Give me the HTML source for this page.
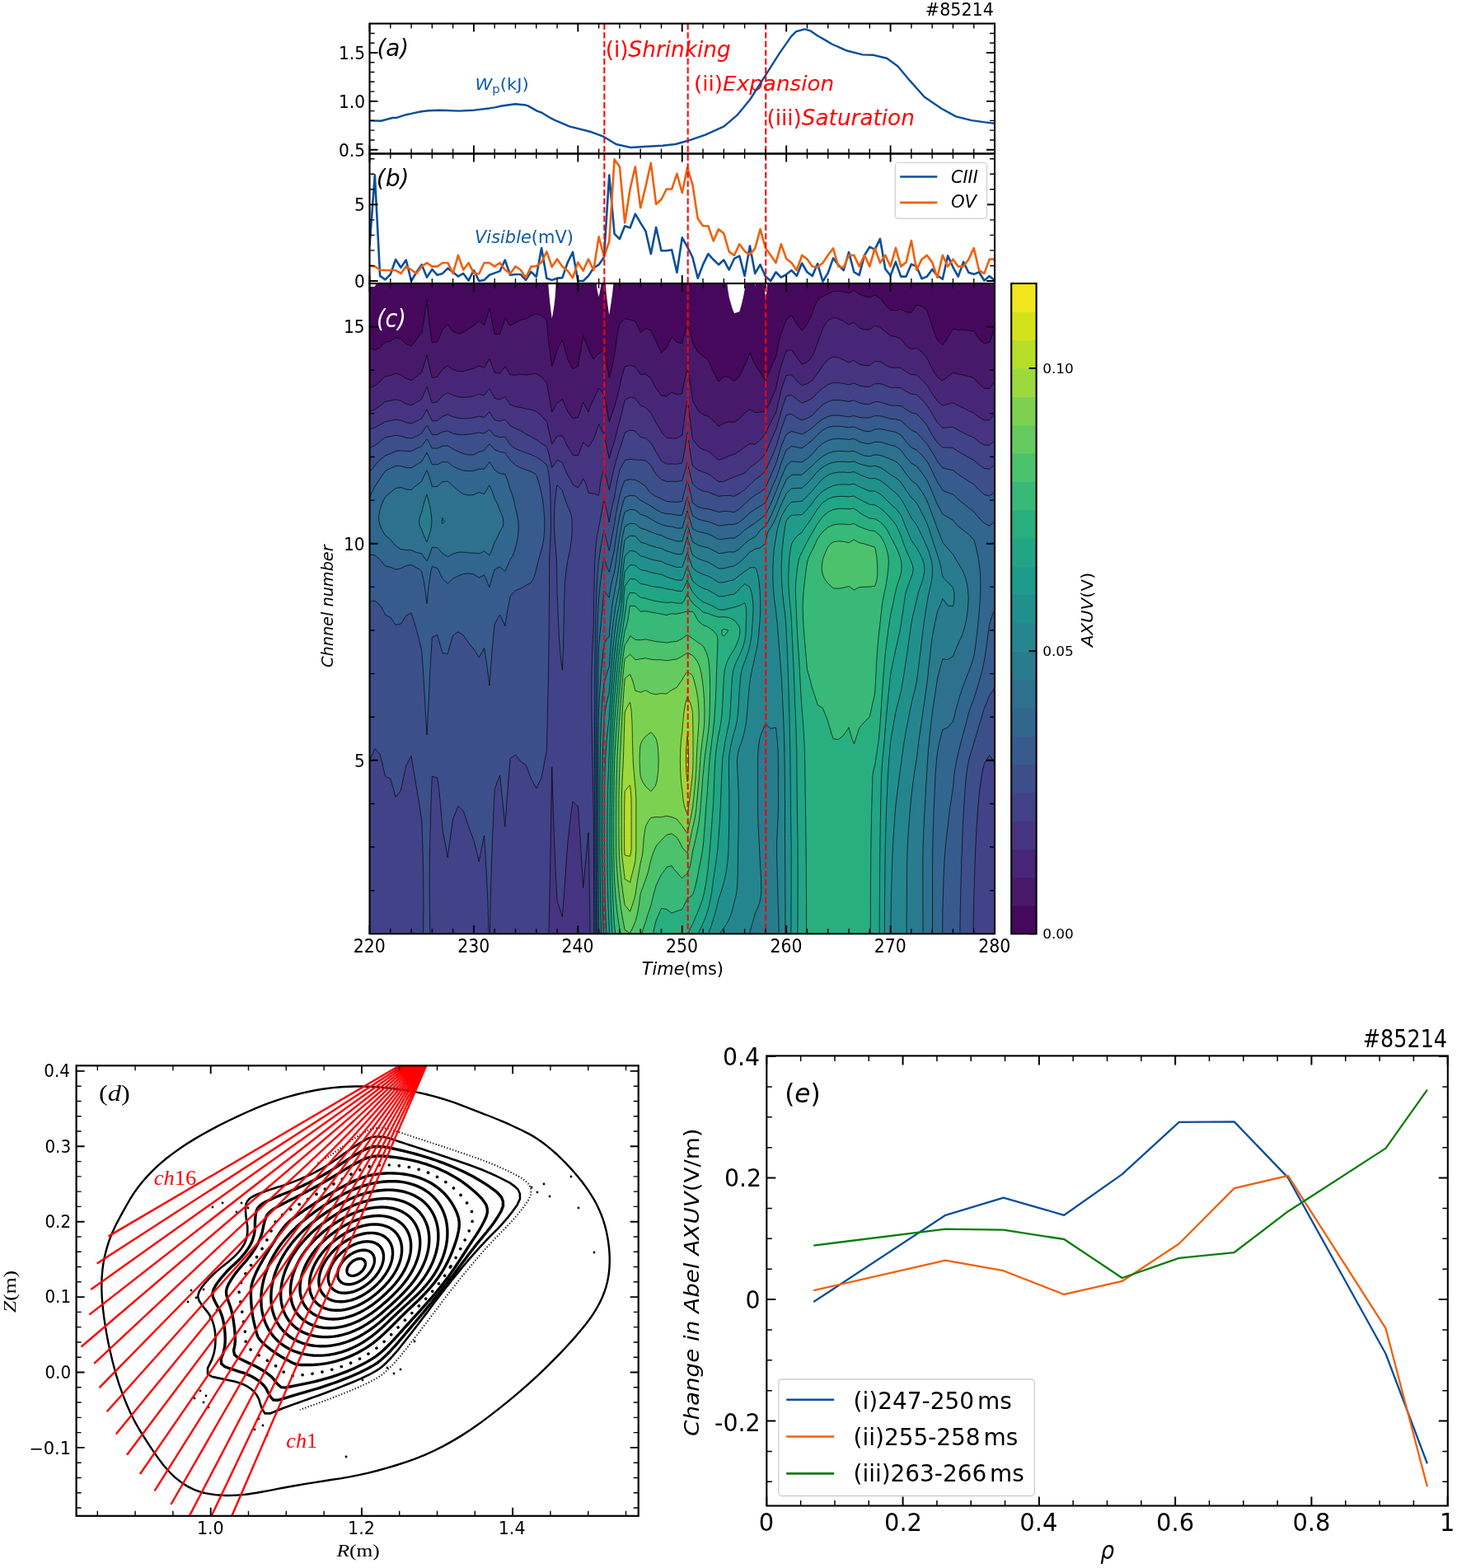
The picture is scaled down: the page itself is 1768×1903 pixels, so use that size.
<!DOCTYPE html>
<html><head><meta charset="utf-8"><title>Figure</title>
<style>html,body{margin:0;padding:0;background:#fff;}svg{display:block;}</style></head>
<body><svg xmlns="http://www.w3.org/2000/svg" width="1768" height="1903" viewBox="0 0 1768 1903">
<rect width="1768" height="1903" fill="#fff"/>
<defs>
<path id="cz0" d="M448.5,1133.3L454.8,1133.3L461.1,1133.3L467.5,1133.3L473.8,1133.3L480.1,1133.3L486.4,1133.3L492.7,1133.3L499.1,1133.3L505.4,1133.3L511.7,1133.3L518.0,1133.3L524.4,1133.3L530.7,1133.3L537.0,1133.3L543.3,1133.3L549.6,1133.3L556.0,1133.3L562.3,1133.3L568.6,1133.3L574.9,1133.3L581.2,1133.3L587.6,1133.3L593.9,1133.3L600.2,1133.3L606.5,1133.3L612.8,1133.3L619.2,1133.3L625.5,1133.3L631.8,1133.3L638.1,1133.3L644.4,1133.3L650.8,1133.3L657.1,1133.3L663.4,1133.3L669.7,1133.3L676.0,1133.3L682.4,1133.3L688.7,1133.3L695.0,1133.3L701.3,1133.3L707.7,1133.3L714.0,1133.3L720.3,1133.3L726.6,1133.3L732.9,1133.3L739.3,1133.3L745.6,1133.3L751.9,1133.3L758.2,1133.3L764.5,1133.3L770.9,1133.3L777.2,1133.3L783.5,1133.3L789.8,1133.3L796.1,1133.3L802.5,1133.3L808.8,1133.3L815.1,1133.3L821.4,1133.3L827.8,1133.3L834.1,1133.3L840.4,1133.3L846.7,1133.3L853.0,1133.3L859.4,1133.3L865.7,1133.3L872.0,1133.3L878.3,1133.3L884.6,1133.3L891.0,1133.3L897.3,1133.3L903.6,1133.3L909.9,1133.3L916.2,1133.3L922.6,1133.3L928.9,1133.3L935.2,1133.3L941.5,1133.3L947.8,1133.3L954.2,1133.3L960.5,1133.3L966.8,1133.3L973.1,1133.3L979.5,1133.3L985.8,1133.3L992.1,1133.3L998.4,1133.3L1004.7,1133.3L1011.1,1133.3L1017.4,1133.3L1023.7,1133.3L1030.0,1133.3L1036.3,1133.3L1042.7,1133.3L1049.0,1133.3L1055.3,1133.3L1061.6,1133.3L1067.9,1133.3L1074.3,1133.3L1080.6,1133.3L1086.9,1133.3L1093.2,1133.3L1099.5,1133.3L1105.9,1133.3L1112.2,1133.3L1118.5,1133.3L1124.8,1133.3L1131.2,1133.3L1137.5,1133.3L1143.8,1133.3L1150.1,1133.3L1156.4,1133.3L1162.8,1133.3L1169.1,1133.3L1175.4,1133.3L1181.7,1133.3L1188.0,1133.3L1194.4,1133.3L1200.7,1133.3L1207.0,1133.3L1207.0,1128.0L1207.0,1122.8L1207.0,1117.5L1207.0,1112.3L1207.0,1107.0L1207.0,1101.7L1207.0,1096.5L1207.0,1091.2L1207.0,1085.9L1207.0,1080.7L1207.0,1075.4L1207.0,1070.2L1207.0,1064.9L1207.0,1059.6L1207.0,1054.4L1207.0,1049.1L1207.0,1043.8L1207.0,1038.6L1207.0,1033.3L1207.0,1028.1L1207.0,1022.8L1207.0,1017.5L1207.0,1012.3L1207.0,1007.0L1207.0,1001.7L1207.0,996.5L1207.0,991.2L1207.0,986.0L1207.0,980.7L1207.0,975.4L1207.0,970.2L1207.0,964.9L1207.0,959.7L1207.0,954.4L1207.0,949.1L1207.0,943.9L1207.0,938.6L1207.0,933.3L1207.0,928.1L1207.0,922.8L1207.0,917.6L1207.0,912.3L1207.0,907.0L1207.0,901.8L1207.0,896.5L1207.0,891.2L1207.0,886.0L1207.0,880.7L1207.0,875.5L1207.0,870.2L1207.0,864.9L1207.0,859.7L1207.0,854.4L1207.0,849.2L1207.0,843.9L1207.0,838.6L1207.0,833.4L1207.0,828.1L1207.0,822.8L1207.0,817.6L1207.0,812.3L1207.0,807.1L1207.0,801.8L1207.0,796.5L1207.0,791.3L1207.0,786.0L1207.0,780.7L1207.0,775.5L1207.0,770.2L1207.0,765.0L1207.0,759.7L1207.0,754.4L1207.0,749.2L1207.0,743.9L1207.0,738.6L1207.0,733.4L1207.0,728.1L1207.0,722.9L1207.0,717.6L1207.0,712.3L1207.0,707.1L1207.0,701.8L1207.0,696.6L1207.0,691.3L1207.0,686.0L1207.0,680.8L1207.0,675.5L1207.0,670.2L1207.0,665.0L1207.0,659.7L1207.0,654.5L1207.0,649.2L1207.0,643.9L1207.0,638.7L1207.0,633.4L1207.0,628.1L1207.0,622.9L1207.0,617.6L1207.0,612.4L1207.0,607.1L1207.0,601.8L1207.0,596.6L1207.0,591.3L1207.0,586.1L1207.0,580.8L1207.0,575.5L1207.0,570.3L1207.0,565.0L1207.0,559.7L1207.0,554.5L1207.0,549.2L1207.0,544.0L1207.0,538.7L1207.0,533.4L1207.0,528.2L1207.0,522.9L1207.0,517.6L1207.0,512.4L1207.0,507.1L1207.0,501.9L1207.0,496.6L1207.0,491.3L1207.0,486.1L1207.0,480.8L1207.0,475.5L1207.0,470.3L1207.0,465.0L1207.0,459.8L1207.0,454.5L1207.0,449.2L1207.0,444.0L1207.0,438.7L1207.0,433.5L1207.0,428.2L1207.0,422.9L1207.0,417.7L1207.0,412.4L1207.0,407.1L1207.0,401.9L1207.0,396.6L1207.0,391.4L1207.0,386.1L1207.0,380.8L1207.0,375.6L1207.0,370.3L1207.0,365.0L1207.0,359.8L1207.0,354.5L1207.0,349.3L1207.0,344.0L1200.7,344.0L1194.4,344.0L1188.0,344.0L1181.7,344.0L1175.4,344.0L1169.1,344.0L1162.8,344.0L1156.4,344.0L1150.1,344.0L1143.8,344.0L1137.5,344.0L1131.2,344.0L1124.8,344.0L1118.5,344.0L1112.2,344.0L1105.9,344.0L1099.5,344.0L1093.2,344.0L1086.9,344.0L1080.6,344.0L1074.3,344.0L1067.9,344.0L1061.6,344.0L1055.3,344.0L1049.0,344.0L1042.7,344.0L1036.3,344.0L1030.0,344.0L1023.7,344.0L1017.4,344.0L1011.1,344.0L1004.7,344.0L998.4,344.0L992.1,344.0L985.8,344.0L979.5,344.0L973.1,344.0L966.8,344.0L960.5,344.0L954.2,344.0L947.8,344.0L941.5,344.0L935.2,344.0L931.0,344.0L930.8,349.3L930.3,354.5L929.4,359.8L928.9,362.2L928.6,359.8L928.2,354.5L928.0,349.3L927.9,344.0L922.6,344.0L917.0,344.0L916.2,346.9L915.9,344.0L909.9,344.0L904.5,344.0L903.9,349.3L903.6,351.4L903.1,354.5L902.1,359.8L900.9,365.0L899.6,370.3L898.1,375.6L897.3,378.3L891.0,380.2L889.1,375.6L887.4,370.3L885.9,365.0L884.6,359.9L884.6,359.8L883.7,354.5L883.0,349.3L882.4,344.0L878.3,344.0L872.0,344.0L865.7,344.0L859.4,344.0L853.0,344.0L846.7,344.0L840.4,344.0L834.1,344.0L827.8,344.0L821.4,344.0L815.1,344.0L808.8,344.0L802.5,344.0L796.1,344.0L789.8,344.0L783.5,344.0L777.2,344.0L770.9,344.0L764.5,344.0L758.2,344.0L751.9,344.0L745.6,344.0L744.4,344.0L743.8,349.3L743.3,354.5L742.6,359.8L741.9,365.0L741.1,370.3L740.3,375.6L739.5,380.8L739.3,382.3L739.0,380.8L738.2,375.6L737.5,370.3L736.8,365.0L736.2,359.8L735.6,354.5L735.2,349.3L734.8,344.0L732.9,344.0L729.5,344.0L728.8,349.3L727.9,354.5L726.7,359.8L726.6,360.3L726.5,359.8L725.2,354.5L724.3,349.3L723.7,344.0L720.3,344.0L714.0,344.0L707.7,344.0L701.3,344.0L695.0,344.0L688.7,344.0L682.4,344.0L676.0,344.0L674.6,344.0L674.4,349.3L674.0,354.5L673.6,359.8L673.1,365.0L672.5,370.3L671.7,375.6L670.9,380.8L669.8,386.1L669.7,386.5L669.7,386.1L669.0,380.8L668.3,375.6L667.7,370.3L667.1,365.0L666.6,359.8L666.1,354.5L665.7,349.3L665.3,344.0L663.4,344.0L657.1,344.0L650.8,344.0L644.4,344.0L638.1,344.0L631.8,344.0L625.5,344.0L619.2,344.0L612.8,344.0L606.5,344.0L600.2,344.0L593.9,344.0L587.6,344.0L581.2,344.0L574.9,344.0L568.6,344.0L562.3,344.0L556.0,344.0L549.6,344.0L543.3,344.0L537.0,344.0L530.7,344.0L524.4,344.0L518.0,344.0L511.7,344.0L505.4,344.0L499.1,344.0L492.7,344.0L486.4,344.0L480.1,344.0L473.8,344.0L467.5,344.0L461.1,344.0L456.7,344.0L454.8,348.0L448.5,347.7L448.5,349.3L448.5,354.5L448.5,359.8L448.5,365.0L448.5,370.3L448.5,375.6L448.5,380.8L448.5,386.1L448.5,391.4L448.5,396.6L448.5,401.9L448.5,407.1L448.5,412.4L448.5,417.7L448.5,422.9L448.5,428.2L448.5,433.5L448.5,438.7L448.5,444.0L448.5,449.2L448.5,454.5L448.5,459.8L448.5,465.0L448.5,470.3L448.5,475.5L448.5,480.8L448.5,486.1L448.5,491.3L448.5,496.6L448.5,501.9L448.5,507.1L448.5,512.4L448.5,517.6L448.5,522.9L448.5,528.2L448.5,533.4L448.5,538.7L448.5,544.0L448.5,549.2L448.5,554.5L448.5,559.7L448.5,565.0L448.5,570.3L448.5,575.5L448.5,580.8L448.5,586.1L448.5,591.3L448.5,596.6L448.5,601.8L448.5,607.1L448.5,612.4L448.5,617.6L448.5,622.9L448.5,628.1L448.5,633.4L448.5,638.7L448.5,643.9L448.5,649.2L448.5,654.5L448.5,659.7L448.5,665.0L448.5,670.2L448.5,675.5L448.5,680.8L448.5,686.0L448.5,691.3L448.5,696.6L448.5,701.8L448.5,707.1L448.5,712.3L448.5,717.6L448.5,722.9L448.5,728.1L448.5,733.4L448.5,738.6L448.5,743.9L448.5,749.2L448.5,754.4L448.5,759.7L448.5,765.0L448.5,770.2L448.5,775.5L448.5,780.7L448.5,786.0L448.5,791.3L448.5,796.5L448.5,801.8L448.5,807.1L448.5,812.3L448.5,817.6L448.5,822.8L448.5,828.1L448.5,833.4L448.5,838.6L448.5,843.9L448.5,849.2L448.5,854.4L448.5,859.7L448.5,864.9L448.5,870.2L448.5,875.5L448.5,880.7L448.5,886.0L448.5,891.2L448.5,896.5L448.5,901.8L448.5,907.0L448.5,912.3L448.5,917.6L448.5,922.8L448.5,928.1L448.5,933.3L448.5,938.6L448.5,943.9L448.5,949.1L448.5,954.4L448.5,959.7L448.5,964.9L448.5,970.2L448.5,975.4L448.5,980.7L448.5,986.0L448.5,991.2L448.5,996.5L448.5,1001.7L448.5,1007.0L448.5,1012.3L448.5,1017.5L448.5,1022.8L448.5,1028.1L448.5,1033.3L448.5,1038.6L448.5,1043.8L448.5,1049.1L448.5,1054.4L448.5,1059.6L448.5,1064.9L448.5,1070.2L448.5,1075.4L448.5,1080.7L448.5,1085.9L448.5,1091.2L448.5,1096.5L448.5,1101.7L448.5,1107.0L448.5,1112.3L448.5,1117.5L448.5,1122.8L448.5,1128.0Z"/>
<path id="cz1" d="M448.5,1133.3L454.8,1133.3L461.1,1133.3L467.5,1133.3L473.8,1133.3L480.1,1133.3L486.4,1133.3L492.7,1133.3L499.1,1133.3L505.4,1133.3L511.7,1133.3L518.0,1133.3L524.4,1133.3L530.7,1133.3L537.0,1133.3L543.3,1133.3L549.6,1133.3L556.0,1133.3L562.3,1133.3L568.6,1133.3L574.9,1133.3L581.2,1133.3L587.6,1133.3L593.9,1133.3L600.2,1133.3L606.5,1133.3L612.8,1133.3L619.2,1133.3L625.5,1133.3L631.8,1133.3L638.1,1133.3L644.4,1133.3L650.8,1133.3L657.1,1133.3L663.4,1133.3L669.7,1133.3L676.0,1133.3L682.4,1133.3L688.7,1133.3L695.0,1133.3L701.3,1133.3L707.7,1133.3L714.0,1133.3L720.3,1133.3L726.6,1133.3L732.9,1133.3L739.3,1133.3L745.6,1133.3L751.9,1133.3L758.2,1133.3L764.5,1133.3L770.9,1133.3L777.2,1133.3L783.5,1133.3L789.8,1133.3L796.1,1133.3L802.5,1133.3L808.8,1133.3L815.1,1133.3L821.4,1133.3L827.8,1133.3L834.1,1133.3L840.4,1133.3L846.7,1133.3L853.0,1133.3L859.4,1133.3L865.7,1133.3L872.0,1133.3L878.3,1133.3L884.6,1133.3L891.0,1133.3L897.3,1133.3L903.6,1133.3L909.9,1133.3L916.2,1133.3L922.6,1133.3L928.9,1133.3L935.2,1133.3L941.5,1133.3L947.8,1133.3L954.2,1133.3L960.5,1133.3L966.8,1133.3L973.1,1133.3L979.5,1133.3L985.8,1133.3L992.1,1133.3L998.4,1133.3L1004.7,1133.3L1011.1,1133.3L1017.4,1133.3L1023.7,1133.3L1030.0,1133.3L1036.3,1133.3L1042.7,1133.3L1049.0,1133.3L1055.3,1133.3L1061.6,1133.3L1067.9,1133.3L1074.3,1133.3L1080.6,1133.3L1086.9,1133.3L1093.2,1133.3L1099.5,1133.3L1105.9,1133.3L1112.2,1133.3L1118.5,1133.3L1124.8,1133.3L1131.2,1133.3L1137.5,1133.3L1143.8,1133.3L1150.1,1133.3L1156.4,1133.3L1162.8,1133.3L1169.1,1133.3L1175.4,1133.3L1181.7,1133.3L1188.0,1133.3L1194.4,1133.3L1200.7,1133.3L1207.0,1133.3L1207.0,1128.0L1207.0,1122.8L1207.0,1117.5L1207.0,1112.3L1207.0,1107.0L1207.0,1101.7L1207.0,1096.5L1207.0,1091.2L1207.0,1085.9L1207.0,1080.7L1207.0,1075.4L1207.0,1070.2L1207.0,1064.9L1207.0,1059.6L1207.0,1054.4L1207.0,1049.1L1207.0,1043.8L1207.0,1038.6L1207.0,1033.3L1207.0,1028.1L1207.0,1022.8L1207.0,1017.5L1207.0,1012.3L1207.0,1007.0L1207.0,1001.7L1207.0,996.5L1207.0,991.2L1207.0,986.0L1207.0,980.7L1207.0,975.4L1207.0,970.2L1207.0,964.9L1207.0,959.7L1207.0,954.4L1207.0,949.1L1207.0,943.9L1207.0,938.6L1207.0,933.3L1207.0,928.1L1207.0,922.8L1207.0,917.6L1207.0,912.3L1207.0,907.0L1207.0,901.8L1207.0,896.5L1207.0,891.2L1207.0,886.0L1207.0,880.7L1207.0,875.5L1207.0,870.2L1207.0,864.9L1207.0,859.7L1207.0,854.4L1207.0,849.2L1207.0,843.9L1207.0,838.6L1207.0,833.4L1207.0,828.1L1207.0,822.8L1207.0,817.6L1207.0,812.3L1207.0,807.1L1207.0,801.8L1207.0,796.5L1207.0,791.3L1207.0,786.0L1207.0,780.7L1207.0,775.5L1207.0,770.2L1207.0,765.0L1207.0,759.7L1207.0,754.4L1207.0,749.2L1207.0,743.9L1207.0,738.6L1207.0,733.4L1207.0,728.1L1207.0,722.9L1207.0,717.6L1207.0,712.3L1207.0,707.1L1207.0,701.8L1207.0,696.6L1207.0,691.3L1207.0,686.0L1207.0,680.8L1207.0,675.5L1207.0,670.2L1207.0,665.0L1207.0,659.7L1207.0,654.5L1207.0,649.2L1207.0,643.9L1207.0,638.7L1207.0,633.4L1207.0,628.1L1207.0,622.9L1207.0,617.6L1207.0,612.4L1207.0,607.1L1207.0,601.8L1207.0,596.6L1207.0,591.3L1207.0,586.1L1207.0,580.8L1207.0,575.5L1207.0,570.3L1207.0,565.0L1207.0,559.7L1207.0,554.5L1207.0,549.2L1207.0,544.0L1207.0,538.7L1207.0,533.4L1207.0,528.2L1207.0,522.9L1207.0,517.6L1207.0,512.4L1207.0,507.1L1207.0,501.9L1207.0,496.6L1207.0,491.3L1207.0,486.1L1207.0,480.8L1207.0,475.5L1207.0,470.3L1207.0,465.0L1207.0,459.8L1207.0,454.5L1207.0,449.2L1207.0,444.0L1207.0,438.7L1207.0,433.5L1207.0,428.2L1207.0,422.9L1207.0,417.7L1207.0,412.4L1207.0,407.1L1207.0,401.9L1207.0,398.1L1205.7,401.9L1203.9,407.1L1201.9,412.4L1200.7,415.5L1194.4,417.2L1189.2,412.4L1188.0,411.2L1185.2,407.1L1181.7,402.0L1181.0,401.9L1175.4,400.9L1169.1,400.0L1162.8,400.4L1156.4,399.5L1155.0,401.9L1151.7,407.1L1150.1,409.3L1148.2,412.4L1144.5,417.7L1143.8,418.6L1142.7,417.7L1137.5,412.8L1137.3,412.4L1135.2,407.1L1133.2,401.9L1131.3,396.6L1131.2,396.2L1129.6,391.4L1127.9,386.1L1126.2,380.8L1124.8,376.6L1123.6,375.6L1118.5,371.5L1112.9,370.3L1112.2,370.2L1112.1,370.3L1108.7,375.6L1105.9,379.4L1099.5,378.6L1094.0,375.6L1093.2,375.2L1092.1,375.6L1086.9,376.8L1080.6,376.6L1079.5,375.6L1074.6,370.3L1074.3,369.9L1070.4,365.0L1067.9,362.0L1064.6,359.8L1061.6,357.9L1057.7,359.8L1055.3,360.9L1050.1,359.8L1049.0,359.5L1042.7,357.2L1039.3,354.5L1036.3,352.3L1032.2,354.5L1030.0,355.7L1025.1,354.5L1023.7,354.2L1017.4,353.3L1011.1,353.6L1009.2,354.5L1004.7,356.6L998.4,359.7L998.2,359.8L992.1,364.6L991.8,365.0L989.1,370.3L987.1,375.6L985.8,380.0L985.4,380.8L982.9,386.1L980.5,391.4L979.5,393.5L977.2,396.6L973.1,401.3L969.6,396.6L966.8,392.9L965.8,391.4L962.6,386.1L960.5,382.6L956.4,386.1L954.2,387.8L952.9,391.4L950.9,396.6L948.8,401.9L947.8,404.5L947.1,407.1L945.7,412.4L944.5,417.7L943.5,422.9L942.5,428.2L941.6,433.5L941.5,433.6L938.7,438.7L936.4,444.0L935.2,447.2L934.3,449.2L931.9,454.5L929.5,459.8L928.9,461.1L927.8,459.8L924.2,454.5L922.6,451.5L920.7,449.2L917.1,444.0L916.2,442.6L914.3,438.7L912.0,433.5L910.0,428.2L909.9,428.0L909.9,428.2L907.9,433.5L905.8,438.7L903.6,443.6L903.4,444.0L900.9,449.2L898.3,454.5L897.3,456.5L893.9,459.8L891.0,462.7L887.0,459.8L884.6,457.9L878.3,456.9L875.7,459.8L872.0,463.1L870.2,459.8L867.4,454.5L865.7,451.2L864.8,449.2L862.5,444.0L860.2,438.7L859.4,436.8L854.7,433.5L853.0,432.2L848.0,428.2L846.7,427.2L844.3,422.9L841.3,417.7L840.4,416.1L839.7,412.4L838.4,407.1L836.9,401.9L835.1,396.6L834.1,394.2L833.2,396.6L831.5,401.9L830.0,407.1L828.7,412.4L827.8,416.7L821.4,415.5L818.4,412.4L815.1,409.2L813.5,412.4L810.9,417.7L808.8,421.9L807.8,422.9L802.6,428.2L802.5,428.3L802.4,428.2L800.2,422.9L797.8,417.7L796.1,414.3L795.3,412.4L792.9,407.1L790.4,401.9L789.8,400.8L783.5,398.7L779.6,401.9L777.2,403.7L776.4,401.9L774.0,396.6L771.5,391.4L770.9,390.1L764.5,387.8L758.2,386.9L753.6,391.4L751.9,393.0L751.1,396.6L750.1,401.9L749.1,407.1L748.2,412.4L747.4,417.7L746.7,422.9L746.0,428.2L745.6,431.2L745.2,433.5L744.3,438.7L743.2,444.0L741.9,449.2L740.4,454.5L739.3,458.2L738.6,454.5L737.7,449.2L736.7,444.0L735.7,438.7L734.8,433.5L733.7,428.2L732.9,424.1L728.3,428.2L726.6,429.3L722.3,433.5L720.3,436.1L718.6,433.5L716.1,428.2L714.0,423.2L713.9,422.9L711.7,417.7L709.6,412.4L707.7,407.2L706.8,412.4L706.0,417.7L705.1,422.9L704.2,428.2L703.3,433.5L702.4,438.7L701.5,444.0L701.3,444.7L695.0,447.5L693.0,444.0L690.3,438.7L688.7,435.5L688.1,433.5L686.7,428.2L685.2,422.9L683.8,417.7L682.4,412.4L682.4,412.3L682.3,412.4L679.7,417.7L676.8,422.9L676.1,424.4L675.2,428.2L673.7,433.5L672.0,438.7L669.9,444.0L669.7,444.5L669.7,444.0L668.9,438.7L668.1,433.5L667.5,428.2L666.8,422.9L666.2,417.7L665.6,412.4L665.0,407.1L664.5,401.9L664.0,396.6L663.6,391.4L663.4,389.3L660.4,386.1L657.1,382.9L651.1,380.8L650.8,380.7L650.5,380.8L644.4,383.2L639.5,386.1L638.1,386.9L631.8,388.3L626.0,391.4L625.5,391.6L619.2,395.2L616.4,391.4L612.8,386.2L611.2,391.4L609.5,396.6L607.7,401.9L606.5,405.5L600.2,405.3L599.4,401.9L598.3,396.6L597.2,391.4L596.1,386.1L595.1,380.8L594.1,375.6L593.9,374.3L593.5,375.6L592.0,380.8L590.4,386.1L588.8,391.4L587.6,394.9L583.2,391.4L581.2,389.7L579.3,391.4L574.9,395.1L572.4,396.6L568.6,398.9L564.4,401.9L562.3,403.4L556.0,405.1L549.6,402.4L549.2,401.9L545.3,396.6L543.3,393.8L540.6,396.6L537.0,400.2L536.3,401.9L534.2,407.1L531.9,412.4L530.7,414.9L524.4,416.1L523.7,412.4L523.0,407.1L522.3,401.9L521.6,396.6L521.0,391.4L520.3,386.1L519.7,380.8L519.2,375.6L518.6,370.3L518.2,365.0L518.0,363.4L517.8,365.0L517.2,370.3L516.4,375.6L515.6,380.8L514.8,386.1L513.9,391.4L513.0,396.6L512.0,401.9L511.7,403.6L509.2,407.1L505.4,412.2L505.3,412.4L501.0,417.7L499.1,419.8L493.3,417.7L492.7,417.4L487.4,412.4L486.4,411.4L480.1,409.7L476.6,412.4L473.8,414.3L467.5,415.0L465.1,417.7L461.1,421.8L458.8,422.9L454.8,424.9L449.6,422.9L448.5,422.5L448.5,422.9L448.5,428.2L448.5,433.5L448.5,438.7L448.5,444.0L448.5,449.2L448.5,454.5L448.5,459.8L448.5,465.0L448.5,470.3L448.5,475.5L448.5,480.8L448.5,486.1L448.5,491.3L448.5,496.6L448.5,501.9L448.5,507.1L448.5,512.4L448.5,517.6L448.5,522.9L448.5,528.2L448.5,533.4L448.5,538.7L448.5,544.0L448.5,549.2L448.5,554.5L448.5,559.7L448.5,565.0L448.5,570.3L448.5,575.5L448.5,580.8L448.5,586.1L448.5,591.3L448.5,596.6L448.5,601.8L448.5,607.1L448.5,612.4L448.5,617.6L448.5,622.9L448.5,628.1L448.5,633.4L448.5,638.7L448.5,643.9L448.5,649.2L448.5,654.5L448.5,659.7L448.5,665.0L448.5,670.2L448.5,675.5L448.5,680.8L448.5,686.0L448.5,691.3L448.5,696.6L448.5,701.8L448.5,707.1L448.5,712.3L448.5,717.6L448.5,722.9L448.5,728.1L448.5,733.4L448.5,738.6L448.5,743.9L448.5,749.2L448.5,754.4L448.5,759.7L448.5,765.0L448.5,770.2L448.5,775.5L448.5,780.7L448.5,786.0L448.5,791.3L448.5,796.5L448.5,801.8L448.5,807.1L448.5,812.3L448.5,817.6L448.5,822.8L448.5,828.1L448.5,833.4L448.5,838.6L448.5,843.9L448.5,849.2L448.5,854.4L448.5,859.7L448.5,864.9L448.5,870.2L448.5,875.5L448.5,880.7L448.5,886.0L448.5,891.2L448.5,896.5L448.5,901.8L448.5,907.0L448.5,912.3L448.5,917.6L448.5,922.8L448.5,928.1L448.5,933.3L448.5,938.6L448.5,943.9L448.5,949.1L448.5,954.4L448.5,959.7L448.5,964.9L448.5,970.2L448.5,975.4L448.5,980.7L448.5,986.0L448.5,991.2L448.5,996.5L448.5,1001.7L448.5,1007.0L448.5,1012.3L448.5,1017.5L448.5,1022.8L448.5,1028.1L448.5,1033.3L448.5,1038.6L448.5,1043.8L448.5,1049.1L448.5,1054.4L448.5,1059.6L448.5,1064.9L448.5,1070.2L448.5,1075.4L448.5,1080.7L448.5,1085.9L448.5,1091.2L448.5,1096.5L448.5,1101.7L448.5,1107.0L448.5,1112.3L448.5,1117.5L448.5,1122.8L448.5,1128.0Z"/>
<path id="cz2" d="M448.5,1133.3L454.8,1133.3L461.1,1133.3L467.5,1133.3L473.8,1133.3L480.1,1133.3L486.4,1133.3L492.7,1133.3L499.1,1133.3L505.4,1133.3L511.7,1133.3L518.0,1133.3L524.4,1133.3L530.7,1133.3L537.0,1133.3L543.3,1133.3L549.6,1133.3L556.0,1133.3L562.3,1133.3L568.6,1133.3L574.9,1133.3L581.2,1133.3L587.6,1133.3L593.9,1133.3L600.2,1133.3L606.5,1133.3L612.8,1133.3L619.2,1133.3L625.5,1133.3L631.8,1133.3L638.1,1133.3L644.4,1133.3L650.8,1133.3L657.1,1133.3L663.4,1133.3L669.7,1133.3L676.0,1133.3L682.4,1133.3L688.7,1133.3L695.0,1133.3L701.3,1133.3L707.7,1133.3L714.0,1133.3L720.3,1133.3L726.6,1133.3L732.9,1133.3L739.3,1133.3L745.6,1133.3L751.9,1133.3L758.2,1133.3L764.5,1133.3L770.9,1133.3L777.2,1133.3L783.5,1133.3L789.8,1133.3L796.1,1133.3L802.5,1133.3L808.8,1133.3L815.1,1133.3L821.4,1133.3L827.8,1133.3L834.1,1133.3L840.4,1133.3L846.7,1133.3L853.0,1133.3L859.4,1133.3L865.7,1133.3L872.0,1133.3L878.3,1133.3L884.6,1133.3L891.0,1133.3L897.3,1133.3L903.6,1133.3L909.9,1133.3L916.2,1133.3L922.6,1133.3L928.9,1133.3L935.2,1133.3L941.5,1133.3L947.8,1133.3L954.2,1133.3L960.5,1133.3L966.8,1133.3L973.1,1133.3L979.5,1133.3L985.8,1133.3L992.1,1133.3L998.4,1133.3L1004.7,1133.3L1011.1,1133.3L1017.4,1133.3L1023.7,1133.3L1030.0,1133.3L1036.3,1133.3L1042.7,1133.3L1049.0,1133.3L1055.3,1133.3L1061.6,1133.3L1067.9,1133.3L1074.3,1133.3L1080.6,1133.3L1086.9,1133.3L1093.2,1133.3L1099.5,1133.3L1105.9,1133.3L1112.2,1133.3L1118.5,1133.3L1124.8,1133.3L1131.2,1133.3L1137.5,1133.3L1143.8,1133.3L1150.1,1133.3L1156.4,1133.3L1162.8,1133.3L1169.1,1133.3L1175.4,1133.3L1181.7,1133.3L1188.0,1133.3L1194.4,1133.3L1200.7,1133.3L1207.0,1133.3L1207.0,1128.0L1207.0,1122.8L1207.0,1117.5L1207.0,1112.3L1207.0,1107.0L1207.0,1101.7L1207.0,1096.5L1207.0,1091.2L1207.0,1085.9L1207.0,1080.7L1207.0,1075.4L1207.0,1070.2L1207.0,1064.9L1207.0,1059.6L1207.0,1054.4L1207.0,1049.1L1207.0,1043.8L1207.0,1038.6L1207.0,1033.3L1207.0,1028.1L1207.0,1022.8L1207.0,1017.5L1207.0,1012.3L1207.0,1007.0L1207.0,1001.7L1207.0,996.5L1207.0,991.2L1207.0,986.0L1207.0,980.7L1207.0,975.4L1207.0,970.2L1207.0,964.9L1207.0,959.7L1207.0,954.4L1207.0,949.1L1207.0,943.9L1207.0,938.6L1207.0,933.3L1207.0,928.1L1207.0,922.8L1207.0,917.6L1207.0,912.3L1207.0,907.0L1207.0,901.8L1207.0,896.5L1207.0,891.2L1207.0,886.0L1207.0,880.7L1207.0,875.5L1207.0,870.2L1207.0,864.9L1207.0,859.7L1207.0,854.4L1207.0,849.2L1207.0,843.9L1207.0,838.6L1207.0,833.4L1207.0,828.1L1207.0,822.8L1207.0,817.6L1207.0,812.3L1207.0,807.1L1207.0,801.8L1207.0,796.5L1207.0,791.3L1207.0,786.0L1207.0,780.7L1207.0,775.5L1207.0,770.2L1207.0,765.0L1207.0,759.7L1207.0,754.4L1207.0,749.2L1207.0,743.9L1207.0,738.6L1207.0,733.4L1207.0,728.1L1207.0,722.9L1207.0,717.6L1207.0,712.3L1207.0,707.1L1207.0,701.8L1207.0,696.6L1207.0,691.3L1207.0,686.0L1207.0,680.8L1207.0,675.5L1207.0,670.2L1207.0,665.0L1207.0,659.7L1207.0,654.5L1207.0,649.2L1207.0,643.9L1207.0,638.7L1207.0,633.4L1207.0,628.1L1207.0,622.9L1207.0,617.6L1207.0,612.4L1207.0,607.1L1207.0,601.8L1207.0,596.6L1207.0,591.3L1207.0,586.1L1207.0,580.8L1207.0,575.5L1207.0,570.3L1207.0,565.0L1207.0,559.7L1207.0,554.5L1207.0,549.2L1207.0,544.0L1207.0,538.7L1207.0,533.4L1207.0,528.2L1207.0,522.9L1207.0,517.6L1207.0,512.4L1207.0,507.1L1207.0,501.9L1207.0,496.6L1207.0,491.3L1207.0,486.1L1207.0,480.8L1207.0,475.5L1207.0,470.3L1207.0,465.0L1207.0,462.9L1205.5,465.0L1201.6,470.3L1200.7,471.5L1194.4,471.3L1193.1,470.3L1188.0,466.0L1187.2,465.0L1182.6,459.8L1181.7,458.8L1175.4,456.8L1169.1,455.0L1165.5,454.5L1162.8,454.1L1156.4,452.4L1153.8,454.5L1150.1,457.1L1147.0,459.8L1143.8,462.1L1140.4,459.8L1137.5,457.8L1135.3,454.5L1132.0,449.2L1131.2,447.8L1129.3,444.0L1126.9,438.7L1124.8,434.3L1124.1,433.5L1119.3,428.2L1118.5,427.3L1113.0,422.9L1112.2,422.3L1110.0,422.9L1105.9,424.0L1104.3,422.9L1099.5,419.6L1098.0,417.7L1094.0,412.4L1093.2,411.3L1086.9,408.6L1080.6,407.7L1079.9,407.1L1074.3,402.6L1073.4,401.9L1067.9,397.3L1066.0,396.6L1061.6,395.1L1059.6,396.6L1055.3,400.1L1049.0,400.1L1042.7,397.8L1041.5,396.6L1036.4,391.4L1036.3,391.3L1036.2,391.4L1030.0,394.1L1025.7,391.4L1023.7,390.1L1017.4,386.9L1013.6,386.1L1011.1,385.6L1010.1,386.1L1004.7,389.0L1003.0,391.4L999.6,396.6L998.4,398.7L997.2,401.9L995.4,407.1L993.5,412.4L992.1,416.0L991.6,417.7L989.7,422.9L987.7,428.2L985.8,432.7L985.1,433.5L980.5,438.7L979.5,439.8L973.1,442.2L970.5,438.7L966.8,433.6L966.7,433.5L963.1,428.2L960.5,424.6L954.2,425.7L953.2,428.2L951.4,433.5L949.7,438.7L947.9,444.0L947.8,444.1L946.5,449.2L945.2,454.5L944.0,459.8L942.9,465.0L941.8,470.3L941.5,471.7L939.9,475.5L937.7,480.8L935.4,486.1L935.2,486.6L932.8,491.3L930.1,496.6L928.9,499.0L922.6,500.2L916.2,500.6L909.9,497.0L903.6,501.3L903.1,501.9L898.3,507.1L897.3,508.2L891.4,512.4L891.0,512.7L888.9,512.4L884.6,511.8L882.7,512.4L878.3,513.8L872.0,517.4L867.2,512.4L865.7,510.8L861.5,507.1L859.4,505.2L853.0,503.3L851.4,501.9L846.7,497.7L846.1,496.6L843.4,491.3L840.5,486.1L840.4,485.8L839.8,480.8L839.1,475.5L838.4,470.3L837.5,465.0L836.6,459.8L835.5,454.5L834.4,449.2L834.1,447.6L833.7,449.2L832.3,454.5L831.1,459.8L829.9,465.0L828.9,470.3L828.0,475.5L827.8,477.5L821.4,478.9L815.1,476.2L808.9,480.8L808.8,480.9L807.9,480.8L802.5,480.2L799.2,475.5L796.1,471.3L795.6,470.3L792.9,465.0L790.2,459.8L789.8,459.0L783.8,454.5L783.5,454.3L777.2,454.3L773.7,449.2L770.9,444.9L767.0,444.0L764.5,443.4L762.2,444.0L758.2,445.0L756.8,449.2L755.3,454.5L753.9,459.8L752.7,465.0L751.9,469.1L751.6,470.3L750.4,475.5L749.1,480.8L747.7,486.1L746.3,491.3L745.6,494.3L744.7,496.6L742.7,501.9L740.9,507.1L739.3,512.1L738.3,507.1L737.3,501.9L736.4,496.6L735.4,491.3L734.3,486.1L733.3,480.8L732.9,478.9L730.5,475.5L726.6,471.3L724.4,475.5L721.9,480.8L720.3,484.6L719.6,486.1L717.2,491.3L715.2,496.6L714.0,500.1L712.1,496.6L709.4,491.3L707.7,488.1L706.6,491.3L704.9,496.6L703.1,501.9L701.3,506.8L699.6,507.1L695.0,508.0L694.4,507.1L690.6,501.9L688.7,499.2L687.6,496.6L685.3,491.3L683.0,486.1L682.4,484.5L680.3,486.1L676.0,489.2L674.8,491.3L671.8,496.6L669.7,500.1L669.1,496.6L668.1,491.3L667.2,486.1L666.3,480.8L665.3,475.5L664.4,470.3L663.5,465.0L663.4,464.6L659.1,459.8L657.1,457.4L652.2,454.5L650.8,453.7L644.4,454.1L642.2,454.5L638.1,455.1L632.6,454.5L631.8,454.4L631.2,454.5L625.5,455.2L619.2,454.8L619.0,454.5L615.7,449.2L612.8,444.9L609.8,449.2L606.5,453.4L600.2,451.9L599.1,449.2L597.1,444.0L595.1,438.7L593.9,435.3L592.0,438.7L589.1,444.0L587.6,446.6L581.3,444.0L581.2,443.9L581.2,444.0L574.9,447.1L568.6,448.9L567.3,449.2L562.3,450.6L556.0,450.7L551.3,449.2L549.6,448.7L543.3,444.0L537.0,448.0L536.2,449.2L532.6,454.5L530.7,457.3L524.4,458.5L523.3,454.5L522.1,449.2L520.9,444.0L519.7,438.7L518.6,433.5L518.0,430.7L517.3,433.5L515.7,438.7L514.1,444.0L512.5,449.2L511.7,451.7L508.3,454.5L505.4,456.9L501.6,459.8L499.1,461.6L493.6,459.8L492.7,459.5L486.4,454.9L484.6,454.5L480.1,453.4L477.1,454.5L473.8,455.7L467.5,456.8L464.5,459.8L461.1,463.2L458.8,465.0L454.8,468.2L449.4,470.3L448.5,470.6L448.5,475.5L448.5,480.8L448.5,486.1L448.5,491.3L448.5,496.6L448.5,501.9L448.5,507.1L448.5,512.4L448.5,517.6L448.5,522.9L448.5,528.2L448.5,533.4L448.5,538.7L448.5,544.0L448.5,549.2L448.5,554.5L448.5,559.7L448.5,565.0L448.5,570.3L448.5,575.5L448.5,580.8L448.5,586.1L448.5,591.3L448.5,596.6L448.5,601.8L448.5,607.1L448.5,612.4L448.5,617.6L448.5,622.9L448.5,628.1L448.5,633.4L448.5,638.7L448.5,643.9L448.5,649.2L448.5,654.5L448.5,659.7L448.5,665.0L448.5,670.2L448.5,675.5L448.5,680.8L448.5,686.0L448.5,691.3L448.5,696.6L448.5,701.8L448.5,707.1L448.5,712.3L448.5,717.6L448.5,722.9L448.5,728.1L448.5,733.4L448.5,738.6L448.5,743.9L448.5,749.2L448.5,754.4L448.5,759.7L448.5,765.0L448.5,770.2L448.5,775.5L448.5,780.7L448.5,786.0L448.5,791.3L448.5,796.5L448.5,801.8L448.5,807.1L448.5,812.3L448.5,817.6L448.5,822.8L448.5,828.1L448.5,833.4L448.5,838.6L448.5,843.9L448.5,849.2L448.5,854.4L448.5,859.7L448.5,864.9L448.5,870.2L448.5,875.5L448.5,880.7L448.5,886.0L448.5,891.2L448.5,896.5L448.5,901.8L448.5,907.0L448.5,912.3L448.5,917.6L448.5,922.8L448.5,928.1L448.5,933.3L448.5,938.6L448.5,943.9L448.5,949.1L448.5,954.4L448.5,959.7L448.5,964.9L448.5,970.2L448.5,975.4L448.5,980.7L448.5,986.0L448.5,991.2L448.5,996.5L448.5,1001.7L448.5,1007.0L448.5,1012.3L448.5,1017.5L448.5,1022.8L448.5,1028.1L448.5,1033.3L448.5,1038.6L448.5,1043.8L448.5,1049.1L448.5,1054.4L448.5,1059.6L448.5,1064.9L448.5,1070.2L448.5,1075.4L448.5,1080.7L448.5,1085.9L448.5,1091.2L448.5,1096.5L448.5,1101.7L448.5,1107.0L448.5,1112.3L448.5,1117.5L448.5,1122.8L448.5,1128.0Z"/>
<path id="cz3" d="M448.5,1133.3L454.8,1133.3L461.1,1133.3L467.5,1133.3L473.8,1133.3L480.1,1133.3L486.4,1133.3L492.7,1133.3L499.1,1133.3L505.4,1133.3L511.7,1133.3L518.0,1133.3L524.4,1133.3L530.7,1133.3L537.0,1133.3L543.3,1133.3L549.6,1133.3L556.0,1133.3L562.3,1133.3L568.6,1133.3L574.9,1133.3L581.2,1133.3L587.6,1133.3L593.9,1133.3L600.2,1133.3L606.5,1133.3L612.8,1133.3L619.2,1133.3L625.5,1133.3L631.8,1133.3L638.1,1133.3L644.4,1133.3L650.8,1133.3L657.1,1133.3L663.4,1133.3L669.7,1133.3L676.0,1133.3L682.4,1133.3L688.7,1133.3L695.0,1133.3L701.3,1133.3L707.7,1133.3L714.0,1133.3L720.3,1133.3L726.6,1133.3L732.9,1133.3L739.3,1133.3L745.6,1133.3L751.9,1133.3L758.2,1133.3L764.5,1133.3L770.9,1133.3L777.2,1133.3L783.5,1133.3L789.8,1133.3L796.1,1133.3L802.5,1133.3L808.8,1133.3L815.1,1133.3L821.4,1133.3L827.8,1133.3L834.1,1133.3L840.4,1133.3L846.7,1133.3L853.0,1133.3L859.4,1133.3L865.7,1133.3L872.0,1133.3L878.3,1133.3L884.6,1133.3L891.0,1133.3L897.3,1133.3L903.6,1133.3L909.9,1133.3L916.2,1133.3L922.6,1133.3L928.9,1133.3L935.2,1133.3L941.5,1133.3L947.8,1133.3L954.2,1133.3L960.5,1133.3L966.8,1133.3L973.1,1133.3L979.5,1133.3L985.8,1133.3L992.1,1133.3L998.4,1133.3L1004.7,1133.3L1011.1,1133.3L1017.4,1133.3L1023.7,1133.3L1030.0,1133.3L1036.3,1133.3L1042.7,1133.3L1049.0,1133.3L1055.3,1133.3L1061.6,1133.3L1067.9,1133.3L1074.3,1133.3L1080.6,1133.3L1086.9,1133.3L1093.2,1133.3L1099.5,1133.3L1105.9,1133.3L1112.2,1133.3L1118.5,1133.3L1124.8,1133.3L1131.2,1133.3L1137.5,1133.3L1143.8,1133.3L1150.1,1133.3L1156.4,1133.3L1162.8,1133.3L1169.1,1133.3L1175.4,1133.3L1181.7,1133.3L1188.0,1133.3L1194.4,1133.3L1200.7,1133.3L1207.0,1133.3L1207.0,1128.0L1207.0,1122.8L1207.0,1117.5L1207.0,1112.3L1207.0,1107.0L1207.0,1101.7L1207.0,1096.5L1207.0,1091.2L1207.0,1085.9L1207.0,1080.7L1207.0,1075.4L1207.0,1070.2L1207.0,1064.9L1207.0,1059.6L1207.0,1054.4L1207.0,1049.1L1207.0,1043.8L1207.0,1038.6L1207.0,1033.3L1207.0,1028.1L1207.0,1022.8L1207.0,1017.5L1207.0,1012.3L1207.0,1007.0L1207.0,1001.7L1207.0,996.5L1207.0,991.2L1207.0,986.0L1207.0,980.7L1207.0,975.4L1207.0,970.2L1207.0,964.9L1207.0,959.7L1207.0,954.4L1207.0,949.1L1207.0,943.9L1207.0,938.6L1207.0,933.3L1207.0,928.1L1207.0,922.8L1207.0,917.6L1207.0,912.3L1207.0,907.0L1207.0,901.8L1207.0,896.5L1207.0,891.2L1207.0,886.0L1207.0,880.7L1207.0,875.5L1207.0,870.2L1207.0,864.9L1207.0,859.7L1207.0,854.4L1207.0,849.2L1207.0,843.9L1207.0,838.6L1207.0,833.4L1207.0,828.1L1207.0,822.8L1207.0,817.6L1207.0,812.3L1207.0,807.1L1207.0,801.8L1207.0,796.5L1207.0,791.3L1207.0,786.0L1207.0,780.7L1207.0,775.5L1207.0,770.2L1207.0,765.0L1207.0,759.7L1207.0,754.4L1207.0,749.2L1207.0,743.9L1207.0,738.6L1207.0,733.4L1207.0,728.1L1207.0,722.9L1207.0,717.6L1207.0,712.3L1207.0,707.1L1207.0,701.8L1207.0,696.6L1207.0,691.3L1207.0,686.0L1207.0,680.8L1207.0,675.5L1207.0,670.2L1207.0,665.0L1207.0,659.7L1207.0,654.5L1207.0,649.2L1207.0,643.9L1207.0,638.7L1207.0,633.4L1207.0,628.1L1207.0,622.9L1207.0,617.6L1207.0,612.4L1207.0,607.1L1207.0,601.8L1207.0,596.6L1207.0,591.3L1207.0,586.1L1207.0,580.8L1207.0,575.5L1207.0,570.3L1207.0,565.0L1207.0,559.7L1207.0,554.5L1207.0,549.2L1207.0,544.0L1207.0,538.7L1207.0,533.4L1207.0,528.2L1207.0,522.9L1207.0,517.6L1207.0,512.4L1207.0,507.1L1207.0,502.4L1202.9,507.1L1200.7,509.6L1194.4,510.0L1189.2,507.1L1188.0,506.4L1182.5,501.9L1181.7,501.1L1175.4,498.6L1171.6,496.6L1169.1,495.3L1162.8,492.3L1160.9,491.3L1156.4,489.0L1150.1,490.5L1147.4,491.3L1143.8,492.3L1142.6,491.3L1137.5,487.0L1136.8,486.1L1133.3,480.8L1131.2,477.7L1129.9,475.5L1126.7,470.3L1124.8,467.3L1122.6,465.0L1118.5,460.8L1117.4,459.8L1112.2,455.0L1105.9,454.6L1105.7,454.5L1099.5,451.2L1096.9,449.2L1093.2,446.4L1086.9,446.0L1080.6,446.1L1076.4,444.0L1074.3,442.7L1067.9,439.0L1064.9,438.7L1061.6,438.3L1061.1,438.7L1055.3,443.5L1049.0,443.6L1042.7,442.1L1038.0,438.7L1036.3,437.3L1033.3,438.7L1030.0,440.0L1027.2,438.7L1023.7,436.9L1017.4,434.1L1014.0,433.5L1011.1,432.9L1010.0,433.5L1004.7,436.1L1002.7,438.7L998.4,443.6L998.2,444.0L994.8,449.2L992.1,452.8L991.0,454.5L987.2,459.8L985.8,461.6L980.6,465.0L979.5,465.7L973.1,467.7L970.1,465.0L966.8,462.0L964.7,459.8L960.5,454.9L954.2,455.5L952.6,459.8L950.7,465.0L948.9,470.3L947.8,473.6L947.4,475.5L946.2,480.8L945.0,486.1L943.8,491.3L942.6,496.6L941.5,501.0L941.1,501.9L938.1,507.1L935.4,512.4L935.2,512.7L932.7,517.6L930.4,522.9L928.9,526.5L927.4,528.2L923.0,533.4L922.6,534.0L916.9,538.7L916.2,539.2L909.9,538.7L903.6,542.6L901.9,544.0L897.3,547.5L894.6,549.2L891.0,551.4L884.6,553.1L882.1,554.5L878.3,556.5L872.0,558.2L867.8,554.5L865.7,552.5L861.4,549.2L859.4,547.6L853.0,545.4L850.6,544.0L846.7,541.4L844.8,538.7L841.2,533.4L840.4,532.1L839.8,528.2L839.1,522.9L838.4,517.6L837.8,512.4L837.1,507.1L836.4,501.9L835.7,496.6L835.0,491.3L834.2,486.1L834.1,485.5L834.0,486.1L833.0,491.3L832.2,496.6L831.4,501.9L830.6,507.1L829.9,512.4L829.2,517.6L828.5,522.9L827.8,528.2L827.8,528.2L821.4,532.0L815.1,531.9L808.8,531.2L806.1,528.2L802.5,524.1L801.8,522.9L798.8,517.6L796.1,513.1L795.8,512.4L793.0,507.1L790.2,501.9L789.8,501.2L785.5,496.6L783.5,494.6L777.2,492.1L776.6,491.3L772.8,486.1L770.9,483.3L764.5,482.1L758.2,485.7L758.1,486.1L756.8,491.3L755.6,496.6L754.3,501.9L752.9,507.1L751.9,511.1L751.5,512.4L750.1,517.6L748.8,522.9L747.4,528.2L746.1,533.4L745.6,535.6L744.5,538.7L742.8,544.0L741.2,549.2L739.8,554.5L739.3,556.5L738.8,554.5L737.6,549.2L736.5,544.0L735.4,538.7L734.3,533.4L733.3,528.2L732.9,526.4L730.5,522.9L727.9,517.6L726.6,514.5L725.7,517.6L724.1,522.9L722.2,528.2L720.3,532.6L719.9,533.4L716.7,538.7L714.0,542.6L709.5,538.7L707.7,537.2L707.1,538.7L705.0,544.0L702.9,549.2L701.3,553.0L695.0,552.2L693.3,549.2L690.0,544.0L688.7,542.1L687.1,538.7L684.6,533.4L682.4,528.8L676.1,529.3L673.5,533.4L670.0,538.7L669.7,539.1L669.6,538.7L668.4,533.4L667.2,528.2L666.0,522.9L664.8,517.6L663.6,512.4L663.4,511.5L659.2,507.1L657.1,504.8L653.8,501.9L650.8,499.2L644.4,497.1L641.0,496.6L638.1,496.2L631.8,494.5L625.5,493.5L619.9,491.3L619.2,491.1L615.9,486.1L612.8,481.4L606.5,485.2L600.2,483.2L598.9,480.8L596.1,475.5L593.9,471.4L590.8,475.5L587.6,479.8L581.2,478.3L575.0,480.8L574.9,480.8L568.6,481.8L562.3,482.3L556.0,481.6L553.2,480.8L549.6,479.8L543.3,476.6L537.0,480.2L536.5,480.8L532.1,486.1L530.7,487.7L524.4,489.0L523.3,486.1L521.6,480.8L519.9,475.5L518.4,470.3L518.0,469.1L517.6,470.3L515.5,475.5L513.3,480.8L511.7,484.5L509.3,486.1L505.4,488.3L500.0,491.3L499.1,491.8L497.2,491.3L492.7,490.1L486.4,486.4L485.1,486.1L480.1,484.8L474.9,486.1L473.8,486.3L467.5,487.4L462.8,491.3L461.1,492.6L455.2,496.6L454.8,496.9L448.5,498.9L448.5,501.9L448.5,507.1L448.5,512.4L448.5,517.6L448.5,522.9L448.5,528.2L448.5,533.4L448.5,538.7L448.5,544.0L448.5,549.2L448.5,554.5L448.5,559.7L448.5,565.0L448.5,570.3L448.5,575.5L448.5,580.8L448.5,586.1L448.5,591.3L448.5,596.6L448.5,601.8L448.5,607.1L448.5,612.4L448.5,617.6L448.5,622.9L448.5,628.1L448.5,633.4L448.5,638.7L448.5,643.9L448.5,649.2L448.5,654.5L448.5,659.7L448.5,665.0L448.5,670.2L448.5,675.5L448.5,680.8L448.5,686.0L448.5,691.3L448.5,696.6L448.5,701.8L448.5,707.1L448.5,712.3L448.5,717.6L448.5,722.9L448.5,728.1L448.5,733.4L448.5,738.6L448.5,743.9L448.5,749.2L448.5,754.4L448.5,759.7L448.5,765.0L448.5,770.2L448.5,775.5L448.5,780.7L448.5,786.0L448.5,791.3L448.5,796.5L448.5,801.8L448.5,807.1L448.5,812.3L448.5,817.6L448.5,822.8L448.5,828.1L448.5,833.4L448.5,838.6L448.5,843.9L448.5,849.2L448.5,854.4L448.5,859.7L448.5,864.9L448.5,870.2L448.5,875.5L448.5,880.7L448.5,886.0L448.5,891.2L448.5,896.5L448.5,901.8L448.5,907.0L448.5,912.3L448.5,917.6L448.5,922.8L448.5,928.1L448.5,933.3L448.5,938.6L448.5,943.9L448.5,949.1L448.5,954.4L448.5,959.7L448.5,964.9L448.5,970.2L448.5,975.4L448.5,980.7L448.5,986.0L448.5,991.2L448.5,996.5L448.5,1001.7L448.5,1007.0L448.5,1012.3L448.5,1017.5L448.5,1022.8L448.5,1028.1L448.5,1033.3L448.5,1038.6L448.5,1043.8L448.5,1049.1L448.5,1054.4L448.5,1059.6L448.5,1064.9L448.5,1070.2L448.5,1075.4L448.5,1080.7L448.5,1085.9L448.5,1091.2L448.5,1096.5L448.5,1101.7L448.5,1107.0L448.5,1112.3L448.5,1117.5L448.5,1122.8L448.5,1128.0Z"/>
<path id="cz4" d="M448.5,1133.3L454.8,1133.3L461.1,1133.3L467.5,1133.3L473.8,1133.3L480.1,1133.3L486.4,1133.3L492.7,1133.3L499.1,1133.3L505.4,1133.3L511.7,1133.3L518.0,1133.3L524.4,1133.3L530.7,1133.3L537.0,1133.3L543.3,1133.3L549.6,1133.3L556.0,1133.3L562.3,1133.3L568.6,1133.3L574.9,1133.3L581.2,1133.3L587.6,1133.3L593.9,1133.3L600.2,1133.3L606.5,1133.3L612.8,1133.3L619.2,1133.3L625.5,1133.3L631.8,1133.3L638.1,1133.3L644.4,1133.3L650.8,1133.3L657.1,1133.3L663.4,1133.3L665.9,1133.3L666.0,1128.0L666.2,1122.8L666.3,1117.5L666.4,1112.3L666.5,1107.0L666.6,1101.7L666.7,1096.5L666.8,1091.2L667.0,1085.9L667.1,1080.7L667.2,1075.4L667.3,1070.2L667.4,1064.9L667.5,1059.6L667.6,1054.4L667.7,1049.1L667.8,1043.8L667.9,1038.6L668.0,1033.3L668.1,1028.1L668.2,1022.8L668.3,1017.5L668.4,1012.3L668.5,1007.0L668.6,1001.7L668.7,996.5L668.8,991.2L668.8,986.0L668.9,980.7L669.0,975.4L669.1,970.2L669.2,964.9L669.3,959.7L669.4,954.4L669.4,949.1L669.5,943.9L669.6,938.6L669.7,933.3L669.7,930.9L669.8,933.3L670.0,938.6L670.1,943.9L670.3,949.1L670.4,954.4L670.6,959.7L670.7,964.9L670.9,970.2L671.1,975.4L671.2,980.7L671.4,986.0L671.6,991.2L671.8,996.5L671.9,1001.7L672.1,1007.0L672.3,1012.3L672.5,1017.5L672.7,1022.8L672.9,1028.1L673.1,1033.3L673.4,1038.6L673.6,1043.8L673.8,1049.1L674.0,1054.4L674.3,1059.6L674.5,1064.9L674.8,1070.2L675.1,1075.4L675.3,1080.7L675.6,1085.9L675.9,1091.2L676.0,1093.5L677.1,1096.5L678.9,1101.7L680.6,1107.0L682.3,1112.3L682.4,1112.5L682.4,1112.3L682.8,1107.0L683.2,1101.7L683.6,1096.5L684.0,1091.2L684.4,1085.9L684.8,1080.7L685.2,1075.4L685.6,1070.2L685.9,1064.9L686.3,1059.6L686.7,1054.4L687.0,1049.1L687.4,1043.8L687.7,1038.6L688.1,1033.3L688.5,1028.1L688.7,1024.6L688.9,1022.8L689.5,1017.5L690.1,1012.3L690.7,1007.0L691.3,1001.7L691.9,996.5L692.5,991.2L693.2,986.0L693.9,980.7L694.6,975.4L695.0,972.8L697.9,975.4L701.3,978.6L701.5,980.7L701.9,986.0L702.3,991.2L702.7,996.5L703.0,1001.7L703.3,1007.0L703.7,1012.3L704.0,1017.5L704.4,1022.8L704.7,1028.1L705.0,1033.3L705.3,1038.6L705.7,1043.8L706.0,1049.1L706.3,1054.4L706.6,1059.6L706.9,1064.9L707.2,1070.2L707.5,1075.4L707.7,1077.5L707.8,1075.4L708.3,1070.2L708.8,1064.9L709.3,1059.6L709.8,1054.4L710.3,1049.1L710.8,1043.8L711.3,1038.6L711.8,1033.3L712.3,1028.1L712.8,1022.8L713.3,1017.5L713.8,1012.3L714.0,1010.7L714.0,1012.3L714.1,1017.5L714.2,1022.8L714.3,1028.1L714.4,1033.3L714.6,1038.6L714.7,1043.8L714.8,1049.1L714.9,1054.4L714.9,1059.6L715.0,1064.9L715.1,1070.2L715.2,1075.4L715.3,1080.7L715.4,1085.9L715.5,1091.2L715.6,1096.5L715.7,1101.7L715.7,1107.0L715.8,1112.3L715.9,1117.5L716.0,1122.8L716.0,1128.0L716.1,1133.3L720.3,1133.3L726.6,1133.3L732.9,1133.3L739.3,1133.3L745.6,1133.3L751.9,1133.3L758.2,1133.3L764.5,1133.3L770.9,1133.3L777.2,1133.3L783.5,1133.3L789.8,1133.3L796.1,1133.3L802.5,1133.3L808.8,1133.3L815.1,1133.3L821.4,1133.3L827.8,1133.3L834.1,1133.3L840.4,1133.3L846.7,1133.3L853.0,1133.3L859.4,1133.3L865.7,1133.3L872.0,1133.3L878.3,1133.3L884.6,1133.3L891.0,1133.3L897.3,1133.3L903.6,1133.3L909.9,1133.3L916.2,1133.3L922.6,1133.3L928.9,1133.3L935.2,1133.3L941.5,1133.3L947.8,1133.3L954.2,1133.3L960.5,1133.3L966.8,1133.3L973.1,1133.3L979.5,1133.3L985.8,1133.3L992.1,1133.3L998.4,1133.3L1004.7,1133.3L1011.1,1133.3L1017.4,1133.3L1023.7,1133.3L1030.0,1133.3L1036.3,1133.3L1042.7,1133.3L1049.0,1133.3L1055.3,1133.3L1061.6,1133.3L1067.9,1133.3L1074.3,1133.3L1080.6,1133.3L1086.9,1133.3L1093.2,1133.3L1099.5,1133.3L1105.9,1133.3L1112.2,1133.3L1118.5,1133.3L1124.8,1133.3L1131.2,1133.3L1137.5,1133.3L1143.8,1133.3L1150.1,1133.3L1156.4,1133.3L1162.8,1133.3L1169.1,1133.3L1175.4,1133.3L1181.7,1133.3L1188.0,1133.3L1194.4,1133.3L1200.7,1133.3L1207.0,1133.3L1207.0,1128.0L1207.0,1122.8L1207.0,1117.5L1207.0,1112.3L1207.0,1107.0L1207.0,1101.7L1207.0,1096.5L1207.0,1091.2L1207.0,1085.9L1207.0,1080.7L1207.0,1075.4L1207.0,1070.2L1207.0,1064.9L1207.0,1059.6L1207.0,1054.4L1207.0,1049.1L1207.0,1043.8L1207.0,1038.6L1207.0,1033.3L1207.0,1028.1L1207.0,1022.8L1207.0,1017.5L1207.0,1012.3L1207.0,1007.0L1207.0,1001.7L1207.0,996.5L1207.0,991.2L1207.0,986.0L1207.0,980.7L1207.0,975.4L1207.0,970.2L1207.0,964.9L1207.0,959.7L1207.0,954.4L1207.0,949.1L1207.0,943.9L1207.0,938.6L1207.0,933.3L1207.0,928.1L1207.0,922.8L1207.0,917.6L1207.0,912.3L1207.0,907.0L1207.0,901.8L1207.0,896.5L1207.0,891.2L1207.0,886.0L1207.0,880.7L1207.0,875.5L1207.0,870.2L1207.0,864.9L1207.0,859.7L1207.0,854.4L1207.0,849.2L1207.0,843.9L1207.0,838.6L1207.0,833.4L1207.0,828.1L1207.0,822.8L1207.0,817.6L1207.0,812.3L1207.0,807.1L1207.0,801.8L1207.0,796.5L1207.0,791.3L1207.0,786.0L1207.0,780.7L1207.0,775.5L1207.0,770.2L1207.0,765.0L1207.0,759.7L1207.0,754.4L1207.0,749.2L1207.0,743.9L1207.0,738.6L1207.0,733.4L1207.0,728.1L1207.0,722.9L1207.0,717.6L1207.0,712.3L1207.0,707.1L1207.0,701.8L1207.0,696.6L1207.0,691.3L1207.0,686.0L1207.0,680.8L1207.0,675.5L1207.0,670.2L1207.0,665.0L1207.0,659.7L1207.0,654.5L1207.0,649.2L1207.0,643.9L1207.0,638.7L1207.0,633.4L1207.0,628.1L1207.0,622.9L1207.0,617.6L1207.0,612.4L1207.0,607.1L1207.0,601.8L1207.0,596.6L1207.0,591.3L1207.0,586.1L1207.0,580.8L1207.0,575.5L1207.0,570.3L1207.0,565.0L1207.0,559.7L1207.0,554.5L1207.0,549.2L1207.0,544.0L1207.0,538.7L1207.0,534.6L1202.5,538.7L1200.7,540.3L1194.4,540.0L1192.2,538.7L1188.0,536.1L1184.7,533.4L1181.7,531.1L1175.4,528.5L1174.8,528.2L1169.1,525.2L1164.4,522.9L1162.8,522.1L1156.4,518.3L1150.1,518.6L1143.8,519.3L1142.1,517.6L1137.5,513.0L1137.1,512.4L1134.0,507.1L1131.2,502.6L1130.8,501.9L1127.7,496.6L1124.8,491.9L1124.3,491.3L1119.5,486.1L1118.5,484.9L1114.1,480.8L1112.2,479.0L1105.9,478.2L1100.5,475.5L1099.5,475.1L1093.2,470.8L1086.9,470.3L1080.6,470.5L1080.2,470.3L1074.3,467.8L1067.9,465.6L1061.6,465.7L1055.3,469.3L1049.0,469.2L1042.7,468.1L1036.4,465.0L1036.3,465.0L1036.2,465.0L1030.0,466.9L1023.7,465.5L1020.4,465.0L1017.4,464.5L1011.1,464.4L1009.4,465.0L1004.7,466.7L999.7,470.3L998.4,471.1L993.4,475.5L992.1,476.6L988.0,480.8L985.8,483.2L980.6,486.1L979.5,486.8L973.1,489.1L968.8,486.1L966.8,484.7L962.0,480.8L960.5,479.5L954.2,480.5L954.1,480.8L952.3,486.1L950.5,491.3L948.7,496.6L947.8,499.2L947.2,501.9L945.7,507.1L944.2,512.4L942.7,517.6L941.5,521.6L940.9,522.9L938.4,528.2L936.1,533.4L935.2,535.6L933.9,538.7L931.7,544.0L929.5,549.2L928.9,550.7L925.6,554.5L922.6,557.8L920.1,559.7L916.2,563.0L913.1,565.0L909.9,567.4L907.1,570.3L903.6,574.1L900.0,575.5L897.3,576.6L891.0,578.8L886.0,580.8L884.6,581.3L878.3,584.4L872.0,584.7L867.0,580.8L865.7,579.6L859.8,575.5L859.4,575.2L853.0,572.8L846.7,570.4L846.6,570.3L840.4,565.2L840.3,565.0L839.4,559.7L838.4,554.5L837.6,549.2L836.8,544.0L836.0,538.7L835.2,533.4L834.4,528.2L834.1,525.5L833.7,528.2L832.8,533.4L832.0,538.7L831.2,544.0L830.3,549.2L829.3,554.5L828.2,559.7L827.8,561.9L821.4,563.3L815.1,563.0L808.8,563.1L803.1,559.7L802.5,559.3L799.6,554.5L796.6,549.2L796.1,548.5L793.6,544.0L790.6,538.7L789.8,537.3L785.2,533.4L783.5,531.9L777.2,530.3L775.1,528.2L770.9,523.2L769.2,522.9L764.5,522.0L762.7,522.9L758.2,525.1L757.4,528.2L755.8,533.4L754.1,538.7L752.3,544.0L751.9,544.9L750.6,549.2L749.0,554.5L747.4,559.7L746.0,565.0L745.6,566.8L744.7,570.3L743.4,575.5L742.3,580.8L741.2,586.1L740.0,591.3L739.3,594.7L738.4,591.3L737.1,586.1L735.8,580.8L734.4,575.5L733.0,570.3L732.9,569.9L732.8,570.3L731.0,575.5L729.7,580.8L728.7,586.1L727.9,591.3L727.2,596.6L726.6,601.2L720.3,599.1L714.0,598.1L713.7,596.6L712.3,591.3L710.3,586.1L707.7,580.8L705.2,586.1L701.9,591.3L701.3,592.0L700.3,591.3L695.0,588.0L694.0,586.1L691.3,580.8L688.7,576.4L688.3,575.5L686.2,570.3L683.9,565.0L682.4,561.3L679.0,559.7L676.0,558.5L675.2,559.7L671.6,565.0L669.7,567.6L669.2,565.0L668.0,559.7L666.8,554.5L665.5,549.2L663.9,544.0L663.4,542.2L658.0,538.7L657.1,538.1L650.8,533.7L650.2,533.4L644.4,529.9L641.0,528.2L638.1,526.7L632.1,522.9L631.8,522.7L625.5,520.0L621.1,517.6L619.2,516.7L615.7,512.4L612.8,508.9L606.5,511.3L600.2,509.6L598.5,507.1L595.2,501.9L593.9,499.6L591.9,501.9L587.6,506.6L581.2,505.1L574.9,507.0L574.0,507.1L568.6,507.7L562.3,508.0L556.0,507.4L554.8,507.1L549.6,505.8L543.3,503.0L537.0,505.4L535.0,507.1L530.7,510.5L524.4,511.0L522.5,507.1L520.1,501.9L518.0,496.7L515.3,501.9L512.2,507.1L511.7,508.0L505.4,511.1L502.5,512.4L499.1,514.0L492.7,512.8L491.7,512.4L486.4,510.2L480.1,509.3L473.8,510.7L467.5,511.6L466.3,512.4L461.1,515.6L457.3,517.6L454.8,519.0L448.5,521.0L448.5,522.9L448.5,528.2L448.5,533.4L448.5,538.7L448.5,544.0L448.5,549.2L448.5,554.5L448.5,559.7L448.5,565.0L448.5,570.3L448.5,575.5L448.5,580.8L448.5,586.1L448.5,591.3L448.5,596.6L448.5,601.8L448.5,607.1L448.5,612.4L448.5,617.6L448.5,622.9L448.5,628.1L448.5,633.4L448.5,638.7L448.5,643.9L448.5,649.2L448.5,654.5L448.5,659.7L448.5,665.0L448.5,670.2L448.5,675.5L448.5,680.8L448.5,686.0L448.5,691.3L448.5,696.6L448.5,701.8L448.5,707.1L448.5,712.3L448.5,717.6L448.5,722.9L448.5,728.1L448.5,733.4L448.5,738.6L448.5,743.9L448.5,749.2L448.5,754.4L448.5,759.7L448.5,765.0L448.5,770.2L448.5,775.5L448.5,780.7L448.5,786.0L448.5,791.3L448.5,796.5L448.5,801.8L448.5,807.1L448.5,812.3L448.5,817.6L448.5,822.8L448.5,828.1L448.5,833.4L448.5,838.6L448.5,843.9L448.5,849.2L448.5,854.4L448.5,859.7L448.5,864.9L448.5,870.2L448.5,875.5L448.5,880.7L448.5,886.0L448.5,891.2L448.5,896.5L448.5,901.8L448.5,907.0L448.5,912.3L448.5,917.6L448.5,922.8L448.5,928.1L448.5,933.3L448.5,938.6L448.5,943.9L448.5,949.1L448.5,954.4L448.5,959.7L448.5,964.9L448.5,970.2L448.5,975.4L448.5,980.7L448.5,986.0L448.5,991.2L448.5,996.5L448.5,1001.7L448.5,1007.0L448.5,1012.3L448.5,1017.5L448.5,1022.8L448.5,1028.1L448.5,1033.3L448.5,1038.6L448.5,1043.8L448.5,1049.1L448.5,1054.4L448.5,1059.6L448.5,1064.9L448.5,1070.2L448.5,1075.4L448.5,1080.7L448.5,1085.9L448.5,1091.2L448.5,1096.5L448.5,1101.7L448.5,1107.0L448.5,1112.3L448.5,1117.5L448.5,1122.8L448.5,1128.0Z"/>
<path id="cz5" d="M513.7,1133.3L518.0,1133.3L522.0,1133.3L521.8,1128.0L521.7,1122.8L521.6,1117.5L521.5,1112.3L521.4,1107.0L521.4,1101.7L521.3,1096.5L521.3,1091.2L521.2,1085.9L521.2,1080.7L521.2,1075.4L521.2,1070.2L521.2,1064.9L521.2,1059.6L521.2,1054.4L521.3,1049.1L521.4,1043.8L521.4,1038.6L521.5,1033.3L521.6,1028.1L521.7,1022.8L521.9,1017.5L522.0,1012.3L522.1,1007.0L522.3,1001.7L522.4,996.5L522.5,991.2L522.7,986.0L522.8,980.7L523.0,975.4L523.2,970.2L523.3,964.9L523.5,959.7L523.8,954.4L524.0,949.1L524.3,943.9L524.4,942.1L530.4,943.9L530.7,944.0L531.4,949.1L532.1,954.4L532.8,959.7L533.4,964.9L533.9,970.2L534.4,975.4L534.8,980.7L535.3,986.0L535.7,991.2L536.2,996.5L536.6,1001.7L537.0,1006.7L537.1,1007.0L538.1,1012.3L539.1,1017.5L540.1,1022.8L541.1,1028.1L542.0,1033.3L542.9,1038.6L543.3,1040.7L543.6,1038.6L544.2,1033.3L544.9,1028.1L545.6,1022.8L546.3,1017.5L547.0,1012.3L547.8,1007.0L548.5,1001.7L549.3,996.5L549.6,994.1L550.8,991.2L552.9,986.0L555.0,980.7L556.0,978.3L558.6,980.7L562.3,984.0L562.9,986.0L564.7,991.2L566.4,996.5L568.1,1001.7L568.6,1003.4L570.0,1007.0L572.0,1012.3L574.0,1017.5L574.9,1020.0L575.6,1022.8L577.0,1028.1L578.3,1033.3L579.6,1038.6L580.8,1043.8L581.2,1045.7L581.6,1043.8L582.6,1038.6L583.7,1033.3L584.7,1028.1L585.8,1022.8L586.8,1017.5L587.6,1014.0L587.8,1017.5L588.1,1022.8L588.5,1028.1L588.8,1033.3L589.1,1038.6L589.4,1043.8L589.7,1049.1L590.0,1054.4L590.3,1059.6L590.6,1064.9L590.9,1070.2L591.1,1075.4L591.3,1080.7L591.6,1085.9L591.8,1091.2L592.0,1096.5L592.2,1101.7L592.3,1107.0L592.5,1112.3L592.6,1117.5L592.8,1122.8L592.9,1128.0L593.0,1133.3L593.9,1133.3L594.5,1133.3L594.5,1128.0L594.6,1122.8L594.7,1117.5L594.8,1112.3L594.9,1107.0L595.0,1101.7L595.1,1096.5L595.2,1091.2L595.3,1085.9L595.5,1080.7L595.6,1075.4L595.8,1070.2L595.9,1064.9L596.1,1059.6L596.3,1054.4L596.4,1049.1L596.6,1043.8L596.8,1038.6L597.0,1033.3L597.2,1028.1L597.4,1022.8L597.6,1017.5L597.8,1012.3L598.0,1007.0L598.3,1001.7L598.5,996.5L598.7,991.2L598.9,986.0L599.2,980.7L599.4,975.4L599.6,970.2L599.9,964.9L600.1,959.7L600.2,957.9L601.5,954.4L603.4,949.1L605.4,943.9L606.5,941.0L606.9,943.9L607.4,949.1L608.0,954.4L608.6,959.7L609.1,964.9L609.6,970.2L610.2,975.4L610.7,980.7L611.2,986.0L611.7,991.2L612.2,996.5L612.7,1001.7L612.8,1003.2L612.9,1001.7L613.3,996.5L613.7,991.2L614.1,986.0L614.5,980.7L614.8,975.4L615.2,970.2L615.6,964.9L616.0,959.7L616.4,954.4L616.8,949.1L617.2,943.9L617.6,938.6L618.0,933.3L618.5,928.1L619.0,922.8L619.2,920.6L623.4,917.6L625.5,916.0L626.7,917.6L630.8,922.8L631.8,924.2L637.9,928.1L638.1,928.3L640.1,933.3L642.1,938.6L644.1,943.9L644.4,944.9L646.8,949.1L649.6,954.4L650.8,956.6L651.9,954.4L654.5,949.1L657.1,943.9L657.1,943.8L658.1,938.6L659.1,933.3L660.1,928.1L661.1,922.8L662.1,917.6L663.2,912.3L663.4,911.0L663.5,907.0L663.6,901.8L663.7,896.5L663.8,891.2L664.0,886.0L664.1,880.7L664.2,875.5L664.3,870.2L664.4,864.9L664.6,859.7L664.7,854.4L664.8,849.2L664.9,843.9L665.0,838.6L665.1,833.4L665.3,828.1L665.4,822.8L665.5,817.6L665.6,812.3L665.6,807.1L665.7,801.8L665.8,796.5L665.9,791.3L665.9,786.0L666.0,780.7L666.1,775.5L666.1,770.2L666.2,765.0L666.2,759.7L666.2,754.4L666.3,749.2L666.3,743.9L666.4,738.6L666.4,733.4L666.4,728.1L666.5,722.9L666.5,717.6L666.5,712.3L666.5,707.1L666.5,701.8L666.5,696.6L666.5,691.3L666.5,686.0L666.6,680.8L666.8,675.5L667.1,670.2L667.4,665.0L667.7,659.7L667.9,654.5L668.1,649.2L668.3,643.9L668.3,638.7L668.4,633.4L668.3,628.1L668.3,622.9L668.2,617.6L668.1,612.4L668.0,607.1L667.8,601.8L667.6,596.6L667.4,591.3L667.1,586.1L666.5,580.8L665.9,575.5L665.0,570.3L663.7,565.0L663.4,564.1L658.1,559.7L657.1,559.0L650.8,554.7L650.3,554.5L644.4,551.7L638.1,549.6L637.1,549.2L631.8,547.1L625.5,544.6L624.5,544.0L619.2,539.7L618.6,538.7L615.1,533.4L612.8,530.2L606.5,530.6L600.2,528.7L599.7,528.2L595.3,522.9L593.9,521.1L591.6,522.9L587.6,526.1L581.2,524.9L574.9,526.3L568.6,527.0L562.3,527.7L556.0,527.5L549.6,526.0L543.3,523.0L537.0,524.1L530.7,527.5L524.4,527.5L521.7,522.9L518.7,517.6L518.0,516.4L517.2,517.6L513.7,522.9L511.7,525.9L507.7,528.2L505.4,529.4L499.1,532.0L492.7,531.2L486.4,529.2L480.1,528.4L473.8,529.7L467.5,530.8L464.0,533.4L461.1,536.0L457.5,538.7L454.8,540.7L448.5,543.6L448.5,544.0L448.5,549.2L448.5,554.5L448.5,559.7L448.5,565.0L448.5,570.3L448.5,575.5L448.5,580.8L448.5,586.1L448.5,591.3L448.5,596.6L448.5,601.8L448.5,607.1L448.5,612.4L448.5,617.6L448.5,622.9L448.5,628.1L448.5,633.4L448.5,638.7L448.5,643.9L448.5,649.2L448.5,654.5L448.5,659.7L448.5,665.0L448.5,670.2L448.5,675.5L448.5,680.8L448.5,686.0L448.5,691.3L448.5,696.6L448.5,701.8L448.5,707.1L448.5,712.3L448.5,717.6L448.5,722.9L448.5,728.1L448.5,733.4L448.5,738.6L448.5,743.9L448.5,749.2L448.5,754.4L448.5,759.7L448.5,765.0L448.5,770.2L448.5,775.5L448.5,780.7L448.5,786.0L448.5,791.3L448.5,796.5L448.5,801.8L448.5,807.1L448.5,812.3L448.5,817.6L448.5,822.8L448.5,828.1L448.5,833.4L448.5,838.6L448.5,843.9L448.5,849.2L448.5,854.4L448.5,859.7L448.5,864.9L448.5,870.2L448.5,875.5L448.5,880.7L448.5,886.0L448.5,891.2L448.5,896.5L448.5,901.8L448.5,907.0L448.5,912.3L448.5,917.6L448.5,922.7L450.9,917.6L453.2,912.3L454.8,908.6L458.4,912.3L461.1,915.4L461.7,917.6L463.1,922.8L464.3,928.1L465.5,933.3L466.7,938.6L467.5,942.3L470.9,943.9L473.8,945.3L475.0,949.1L476.5,954.4L478.0,959.7L479.4,964.9L480.1,967.5L482.2,964.9L486.4,959.7L486.4,959.7L487.5,954.4L488.5,949.1L489.6,943.9L490.7,938.6L491.9,933.3L492.7,929.5L493.5,928.1L496.3,922.8L499.0,917.6L499.1,917.5L499.1,917.6L499.9,922.8L500.8,928.1L501.6,933.3L502.5,938.6L503.4,943.9L504.2,949.1L505.1,954.4L505.4,956.0L506.0,959.7L506.9,964.9L507.8,970.2L508.7,975.4L509.5,980.7L510.3,986.0L511.1,991.2L511.7,994.8L511.8,996.5L512.0,1001.7L512.2,1007.0L512.4,1012.3L512.6,1017.5L512.7,1022.8L512.9,1028.1L513.0,1033.3L513.2,1038.6L513.3,1043.8L513.4,1049.1L513.5,1054.4L513.6,1059.6L513.7,1064.9L513.7,1070.2L513.8,1075.4L513.8,1080.7L513.9,1085.9L513.9,1091.2L513.9,1096.5L513.9,1101.7L513.9,1107.0L513.8,1112.3L513.8,1117.5L513.8,1122.8L513.7,1128.0ZM720.7,1133.3L726.6,1133.3L732.9,1133.3L739.3,1133.3L745.6,1133.3L751.9,1133.3L758.2,1133.3L764.5,1133.3L770.9,1133.3L777.2,1133.3L783.5,1133.3L789.8,1133.3L796.1,1133.3L802.5,1133.3L808.8,1133.3L815.1,1133.3L821.4,1133.3L827.8,1133.3L834.1,1133.3L840.4,1133.3L846.7,1133.3L853.0,1133.3L859.4,1133.3L865.7,1133.3L872.0,1133.3L878.3,1133.3L884.6,1133.3L891.0,1133.3L897.3,1133.3L903.6,1133.3L909.9,1133.3L916.2,1133.3L922.6,1133.3L928.9,1133.3L935.2,1133.3L941.5,1133.3L947.8,1133.3L954.2,1133.3L960.5,1133.3L966.8,1133.3L973.1,1133.3L979.5,1133.3L985.8,1133.3L992.1,1133.3L998.4,1133.3L1004.7,1133.3L1011.1,1133.3L1017.4,1133.3L1023.7,1133.3L1030.0,1133.3L1036.3,1133.3L1042.7,1133.3L1049.0,1133.3L1055.3,1133.3L1061.6,1133.3L1067.9,1133.3L1074.3,1133.3L1080.6,1133.3L1086.9,1133.3L1093.2,1133.3L1099.5,1133.3L1105.9,1133.3L1112.2,1133.3L1118.5,1133.3L1124.8,1133.3L1131.2,1133.3L1137.5,1133.3L1143.8,1133.3L1150.1,1133.3L1156.4,1133.3L1162.8,1133.3L1169.1,1133.3L1175.4,1133.3L1181.0,1133.3L1181.1,1128.0L1181.1,1122.8L1181.2,1117.5L1181.3,1112.3L1181.4,1107.0L1181.5,1101.7L1181.6,1096.5L1181.7,1093.1L1181.8,1091.2L1181.9,1085.9L1182.0,1080.7L1182.2,1075.4L1182.3,1070.2L1182.5,1064.9L1182.7,1059.6L1182.8,1054.4L1183.0,1049.1L1183.2,1043.8L1183.4,1038.6L1183.6,1033.3L1183.8,1028.1L1184.1,1022.8L1184.3,1017.5L1184.6,1012.3L1184.9,1007.0L1185.2,1001.7L1185.6,996.5L1185.9,991.2L1186.3,986.0L1186.7,980.7L1187.1,975.4L1187.6,970.2L1188.0,965.5L1188.1,964.9L1188.7,959.7L1189.4,954.4L1190.1,949.1L1190.9,943.9L1191.7,938.6L1192.8,933.3L1194.1,928.1L1194.4,927.1L1196.9,922.8L1200.0,917.6L1200.7,916.5L1201.4,917.6L1204.9,922.8L1207.0,926.4L1207.0,922.8L1207.0,917.6L1207.0,912.3L1207.0,907.0L1207.0,901.8L1207.0,896.5L1207.0,891.2L1207.0,886.0L1207.0,880.7L1207.0,875.5L1207.0,870.2L1207.0,864.9L1207.0,859.7L1207.0,854.4L1207.0,849.2L1207.0,843.9L1207.0,838.6L1207.0,833.4L1207.0,828.1L1207.0,822.8L1207.0,817.6L1207.0,812.3L1207.0,807.1L1207.0,801.8L1207.0,796.5L1207.0,791.3L1207.0,786.0L1207.0,780.7L1207.0,775.5L1207.0,770.2L1207.0,765.0L1207.0,759.7L1207.0,754.4L1207.0,749.2L1207.0,743.9L1207.0,738.6L1207.0,733.4L1207.0,728.1L1207.0,722.9L1207.0,717.6L1207.0,712.3L1207.0,707.1L1207.0,701.8L1207.0,696.6L1207.0,691.3L1207.0,686.0L1207.0,680.8L1207.0,675.5L1207.0,670.2L1207.0,665.0L1207.0,659.7L1207.0,654.5L1207.0,649.2L1207.0,643.9L1207.0,638.7L1207.0,633.4L1207.0,628.1L1207.0,622.9L1207.0,617.6L1207.0,612.4L1207.0,607.1L1207.0,601.8L1207.0,596.6L1207.0,591.3L1207.0,586.1L1207.0,580.8L1207.0,575.5L1207.0,570.3L1207.0,565.0L1207.0,564.0L1205.8,565.0L1200.7,569.3L1194.4,568.4L1189.4,565.0L1188.0,564.1L1183.2,559.7L1181.7,558.5L1175.4,555.4L1173.9,554.5L1169.1,551.7L1164.9,549.2L1162.8,548.0L1156.9,544.0L1156.4,543.7L1150.1,543.2L1143.8,543.1L1139.2,538.7L1137.5,537.2L1134.9,533.4L1131.4,528.2L1131.2,527.8L1128.4,522.9L1125.6,517.6L1124.8,516.2L1121.8,512.4L1118.5,508.5L1117.1,507.1L1112.2,502.3L1110.2,501.9L1105.9,500.9L1099.5,497.0L1099.0,496.6L1093.2,492.7L1086.9,492.1L1080.6,492.1L1078.2,491.3L1074.3,489.9L1067.9,487.8L1061.6,487.6L1055.3,490.5L1049.0,490.3L1042.7,489.0L1036.9,486.1L1036.3,485.8L1035.3,486.1L1030.0,487.4L1023.7,486.3L1021.9,486.1L1017.4,485.6L1011.1,485.6L1009.3,486.1L1004.7,487.5L998.4,491.3L998.3,491.3L992.5,496.6L992.1,497.0L987.7,501.9L985.8,504.0L980.5,507.1L979.5,507.7L973.1,509.8L967.5,507.1L966.8,506.8L960.5,502.5L954.2,503.7L953.0,507.1L951.1,512.4L949.2,517.6L947.8,521.4L947.4,522.9L945.9,528.2L944.3,533.4L942.7,538.7L941.5,542.7L941.0,544.0L938.8,549.2L936.5,554.5L935.2,557.4L934.1,559.7L931.7,565.0L929.4,570.3L928.9,571.6L924.9,575.5L922.6,577.6L918.1,580.8L916.2,582.1L912.2,586.1L909.9,588.2L906.8,591.3L903.6,594.5L900.5,596.6L897.3,599.0L891.8,601.8L891.0,602.3L887.6,601.8L884.6,601.5L878.3,601.6L875.9,601.8L872.0,602.4L870.7,601.8L865.7,599.7L859.4,597.1L856.2,596.6L853.0,596.0L846.7,593.1L844.9,591.3L840.4,587.0L840.2,586.1L838.7,580.8L837.4,575.5L836.1,570.3L835.0,565.0L834.1,560.0L833.0,565.0L831.7,570.3L830.1,575.5L828.5,580.8L827.8,583.3L821.4,584.5L815.1,584.2L808.8,584.6L802.5,581.8L801.2,580.8L796.1,575.9L795.9,575.5L792.7,570.3L789.9,565.0L789.8,564.8L784.4,559.7L783.5,559.0L777.2,558.2L770.9,558.1L764.5,557.2L758.2,558.6L757.7,559.7L754.8,565.0L751.9,570.2L751.9,570.3L750.7,575.5L749.6,580.8L748.6,586.1L747.6,591.3L746.7,596.6L745.8,601.8L745.6,602.8L744.6,607.1L743.3,612.4L742.2,617.6L741.2,622.9L740.2,628.1L739.3,633.4L739.3,634.0L739.1,633.4L738.1,628.1L736.9,622.9L735.7,617.6L734.5,612.4L733.3,607.1L732.9,605.6L732.7,607.1L731.7,612.4L730.8,617.6L729.8,622.9L728.9,628.1L727.9,633.4L726.9,638.7L726.6,640.4L725.8,643.9L724.8,649.2L724.0,654.5L723.4,659.7L722.9,665.0L722.5,670.2L722.2,675.5L721.9,680.8L721.6,686.0L721.4,691.3L721.3,696.6L721.1,701.8L721.0,707.1L720.9,712.3L720.8,717.6L720.7,722.9L720.6,728.1L720.6,733.4L720.5,738.6L720.5,743.9L720.4,749.2L720.4,754.4L720.3,759.7L720.3,760.9L720.0,765.0L719.7,770.2L719.4,775.5L719.1,780.7L718.9,786.0L718.7,791.3L718.5,796.5L718.3,801.8L718.2,807.1L718.0,812.3L717.9,817.6L717.8,822.8L717.8,828.1L717.7,833.4L717.7,838.6L717.7,843.9L717.7,849.2L717.8,854.4L717.8,859.7L717.9,864.9L717.9,870.2L718.0,875.5L718.1,880.7L718.2,886.0L718.3,891.2L718.4,896.5L718.5,901.8L718.6,907.0L718.7,912.3L718.8,917.6L719.0,922.8L719.1,928.1L719.2,933.3L719.3,938.6L719.4,943.9L719.5,949.1L719.6,954.4L719.7,959.7L719.8,964.9L719.9,970.2L720.0,975.4L720.1,980.7L720.2,986.0L720.3,991.2L720.3,992.3L720.3,996.5L720.3,1001.7L720.3,1007.0L720.4,1012.3L720.4,1017.5L720.4,1022.8L720.4,1028.1L720.4,1033.3L720.4,1038.6L720.4,1043.8L720.5,1049.1L720.5,1054.4L720.5,1059.6L720.5,1064.9L720.5,1070.2L720.5,1075.4L720.5,1080.7L720.6,1085.9L720.6,1091.2L720.6,1096.5L720.6,1101.7L720.6,1107.0L720.6,1112.3L720.7,1117.5L720.7,1122.8L720.7,1128.0ZM682.2,812.3L682.4,813.4L682.4,812.3L682.7,807.1L682.9,801.8L683.1,796.5L683.3,791.3L683.5,786.0L683.6,780.7L683.7,775.5L683.9,770.2L684.0,765.0L684.1,759.7L684.2,754.4L684.3,749.2L684.4,743.9L684.5,738.6L684.6,733.4L684.8,728.1L684.9,722.9L685.1,717.6L685.2,712.3L685.5,707.1L686.0,701.8L686.6,696.6L687.2,691.3L687.9,686.0L688.7,680.8L688.7,680.5L690.0,675.5L691.2,670.2L692.1,665.0L692.8,659.7L693.5,654.5L693.9,649.2L694.2,643.9L694.2,638.7L694.1,633.4L693.8,628.1L692.6,622.9L690.3,617.6L688.7,614.5L688.0,612.4L686.1,607.1L684.3,601.8L682.7,596.6L682.4,595.1L678.5,591.3L676.0,589.0L675.5,591.3L674.7,596.6L674.1,601.8L673.5,607.1L673.1,612.4L672.8,617.6L672.6,622.9L672.4,628.1L672.4,633.4L672.5,638.7L672.7,643.9L673.0,649.2L673.4,654.5L673.8,659.7L674.3,665.0L674.8,670.2L675.2,675.5L675.4,680.8L675.6,686.0L675.7,691.3L675.8,696.6L675.8,701.8L675.9,707.1L676.0,712.3L676.0,717.6L676.0,720.6L676.2,722.9L676.4,728.1L676.6,733.4L676.9,738.6L677.1,743.9L677.3,749.2L677.5,754.4L677.8,759.7L678.0,765.0L678.3,770.2L678.6,775.5L679.0,780.7L679.4,786.0L679.8,791.3L680.3,796.5L680.9,801.8L681.5,807.1Z"/>
<path id="cz6" d="M722.2,1133.3L726.6,1133.3L732.9,1133.3L739.3,1133.3L745.6,1133.3L751.9,1133.3L758.2,1133.3L764.5,1133.3L770.9,1133.3L777.2,1133.3L783.5,1133.3L789.8,1133.3L796.1,1133.3L802.5,1133.3L808.8,1133.3L815.1,1133.3L821.4,1133.3L827.8,1133.3L834.1,1133.3L840.4,1133.3L846.7,1133.3L853.0,1133.3L859.4,1133.3L865.7,1133.3L872.0,1133.3L878.3,1133.3L884.6,1133.3L891.0,1133.3L897.3,1133.3L903.6,1133.3L909.9,1133.3L916.2,1133.3L922.6,1133.3L928.9,1133.3L935.2,1133.3L941.5,1133.3L947.8,1133.3L954.2,1133.3L960.5,1133.3L966.8,1133.3L973.1,1133.3L979.5,1133.3L985.8,1133.3L992.1,1133.3L998.4,1133.3L1004.7,1133.3L1011.1,1133.3L1017.4,1133.3L1023.7,1133.3L1030.0,1133.3L1036.3,1133.3L1042.7,1133.3L1049.0,1133.3L1055.3,1133.3L1061.6,1133.3L1067.9,1133.3L1074.3,1133.3L1080.6,1133.3L1086.9,1133.3L1093.2,1133.3L1099.5,1133.3L1105.9,1133.3L1112.2,1133.3L1118.5,1133.3L1124.8,1133.3L1131.2,1133.3L1137.5,1133.3L1143.8,1133.3L1150.1,1133.3L1156.4,1133.3L1162.8,1133.3L1164.9,1133.3L1165.0,1128.0L1165.0,1122.8L1165.1,1117.5L1165.2,1112.3L1165.2,1107.0L1165.3,1101.7L1165.4,1096.5L1165.6,1091.2L1165.7,1085.9L1165.8,1080.7L1165.9,1075.4L1166.1,1070.2L1166.2,1064.9L1166.4,1059.6L1166.5,1054.4L1166.7,1049.1L1166.8,1043.8L1167.0,1038.6L1167.2,1033.3L1167.4,1028.1L1167.6,1022.8L1167.8,1017.5L1168.0,1012.3L1168.2,1007.0L1168.4,1001.7L1168.7,996.5L1169.0,991.2L1169.1,989.4L1169.3,986.0L1169.6,980.7L1169.9,975.4L1170.3,970.2L1170.6,964.9L1171.0,959.7L1171.4,954.4L1171.9,949.1L1172.3,943.9L1172.9,938.6L1173.6,933.3L1174.5,928.1L1175.4,923.4L1175.5,922.8L1177.0,917.6L1178.5,912.3L1180.2,907.0L1181.7,902.1L1181.8,901.8L1183.4,896.5L1185.0,891.2L1186.5,886.0L1188.0,880.7L1188.0,880.5L1189.6,875.5L1191.2,870.2L1192.7,864.9L1194.3,859.7L1194.4,859.5L1196.6,854.4L1198.8,849.2L1200.6,843.9L1200.7,843.8L1204.6,838.6L1207.0,833.7L1207.0,833.4L1207.0,828.1L1207.0,822.8L1207.0,817.6L1207.0,812.3L1207.0,807.1L1207.0,801.8L1207.0,796.5L1207.0,791.3L1207.0,786.0L1207.0,780.7L1207.0,775.5L1207.0,770.2L1207.0,765.0L1207.0,759.7L1207.0,754.4L1207.0,749.2L1207.0,743.9L1207.0,738.6L1207.0,733.4L1207.0,728.1L1207.0,722.9L1207.0,717.6L1207.0,712.3L1207.0,707.1L1207.0,701.8L1207.0,696.6L1207.0,691.3L1207.0,686.0L1207.0,680.8L1207.0,675.5L1207.0,670.2L1207.0,665.0L1207.0,659.7L1207.0,654.5L1207.0,649.2L1207.0,643.9L1207.0,638.7L1207.0,633.4L1207.0,628.1L1207.0,622.9L1207.0,617.6L1207.0,612.4L1207.0,607.1L1207.0,601.8L1207.0,596.9L1201.0,601.8L1200.7,602.1L1199.8,601.8L1194.4,600.3L1190.3,596.6L1188.0,594.6L1185.1,591.3L1181.7,587.7L1178.9,586.1L1175.4,584.0L1170.5,580.8L1169.1,579.9L1162.8,575.8L1162.4,575.5L1156.4,570.8L1153.9,570.3L1150.1,569.4L1143.8,567.9L1141.6,565.0L1137.5,559.8L1137.4,559.7L1134.5,554.5L1131.3,549.2L1131.2,549.0L1128.1,544.0L1124.8,538.8L1124.7,538.7L1119.9,533.4L1118.5,531.7L1115.2,528.2L1112.2,524.8L1107.9,522.9L1105.9,522.0L1101.1,517.6L1099.5,516.4L1095.3,512.4L1093.2,510.6L1086.9,508.8L1080.6,508.3L1076.3,507.1L1074.3,506.5L1067.9,504.8L1061.6,504.6L1055.3,506.9L1049.0,507.1L1042.7,506.5L1036.3,504.6L1030.0,506.0L1023.7,504.9L1017.4,504.2L1011.1,504.0L1004.7,505.4L1001.5,507.1L998.4,508.5L993.3,512.4L992.1,513.3L987.4,517.6L985.8,519.2L980.2,522.9L979.5,523.4L973.1,527.0L966.8,525.4L960.5,523.3L954.2,527.0L953.7,528.2L951.5,533.4L949.3,538.7L947.8,542.2L947.3,544.0L945.7,549.2L944.2,554.5L942.6,559.7L941.5,563.3L940.8,565.0L938.3,570.3L936.0,575.5L935.2,577.4L933.7,580.8L931.4,586.1L929.3,591.3L928.9,592.3L923.5,596.6L922.6,597.3L916.2,601.0L915.2,601.8L909.9,605.6L908.4,607.1L903.6,611.5L902.7,612.4L897.4,617.6L897.3,617.7L891.0,621.6L884.6,620.7L878.3,620.4L872.0,621.5L865.7,619.5L859.4,617.7L858.8,617.6L853.0,617.0L846.7,615.0L843.0,612.4L840.4,610.2L839.7,607.1L838.6,601.8L837.4,596.6L836.1,591.3L834.7,586.1L834.1,583.8L833.4,586.1L831.8,591.3L830.5,596.6L829.2,601.8L828.1,607.1L827.8,608.3L821.4,609.4L815.1,609.0L808.8,608.5L805.9,607.1L802.5,605.2L796.1,602.6L794.6,601.8L789.8,598.7L788.0,596.6L784.2,591.3L783.5,590.3L777.7,586.1L777.2,585.7L770.9,582.5L764.5,581.8L758.2,583.2L756.9,586.1L754.9,591.3L753.3,596.6L751.9,601.8L751.9,601.8L750.7,607.1L749.6,612.4L748.6,617.6L747.6,622.9L746.7,628.1L745.9,633.4L745.6,635.5L745.0,638.7L744.0,643.9L743.0,649.2L742.0,654.5L741.0,659.7L739.9,665.0L739.3,668.1L738.3,665.0L736.9,659.7L735.6,654.5L734.3,649.2L733.1,643.9L732.9,643.3L732.8,643.9L731.8,649.2L730.8,654.5L729.8,659.7L728.9,665.0L728.1,670.2L727.3,675.5L726.6,680.5L726.6,680.8L726.0,686.0L725.6,691.3L725.1,696.6L724.8,701.8L724.4,707.1L724.2,712.3L723.9,717.6L723.7,722.9L723.5,728.1L723.4,733.4L723.2,738.6L723.1,743.9L723.0,749.2L722.8,754.4L722.7,759.7L722.6,765.0L722.5,770.2L722.4,775.5L722.3,780.7L722.3,786.0L722.2,791.3L722.1,796.5L722.1,801.8L722.0,807.1L722.0,812.3L721.9,817.6L721.9,822.8L721.8,828.1L721.8,833.4L721.7,838.6L721.7,843.9L721.7,849.2L721.6,854.4L721.6,859.7L721.6,864.9L721.6,870.2L721.5,875.5L721.5,880.7L721.5,886.0L721.5,891.2L721.5,896.5L721.5,901.8L721.5,907.0L721.5,912.3L721.5,917.6L721.5,922.8L721.5,928.1L721.6,933.3L721.6,938.6L721.6,943.9L721.6,949.1L721.6,954.4L721.6,959.7L721.6,964.9L721.7,970.2L721.7,975.4L721.7,980.7L721.7,986.0L721.7,991.2L721.7,996.5L721.7,1001.7L721.8,1007.0L721.8,1012.3L721.8,1017.5L721.8,1022.8L721.8,1028.1L721.8,1033.3L721.8,1038.6L721.8,1043.8L721.9,1049.1L721.9,1054.4L721.9,1059.6L721.9,1064.9L721.9,1070.2L721.9,1075.4L722.0,1080.7L722.0,1085.9L722.0,1091.2L722.0,1096.5L722.1,1101.7L722.1,1107.0L722.1,1112.3L722.1,1117.5L722.2,1122.8L722.2,1128.0ZM518.0,891.2L518.0,892.1L518.1,891.2L518.4,886.0L518.6,880.7L518.9,875.5L519.2,870.2L519.5,864.9L519.7,859.7L520.0,854.4L520.2,849.2L520.5,843.9L520.7,838.6L520.9,833.4L521.2,828.1L521.5,822.8L521.7,817.6L522.0,812.3L522.3,807.1L522.6,801.8L522.9,796.5L523.3,791.3L523.6,786.0L523.9,780.7L524.2,775.5L524.3,773.3L530.7,770.5L532.1,775.5L533.6,780.7L535.1,786.0L536.6,791.3L537.0,792.6L543.3,793.6L543.9,791.3L545.3,786.0L546.8,780.7L548.3,775.5L549.6,771.4L551.2,770.2L556.0,766.9L561.0,770.2L562.3,771.1L565.3,775.5L568.6,780.5L568.9,780.7L573.3,786.0L574.9,788.0L577.1,791.3L580.4,796.5L581.2,798.0L582.1,796.5L584.9,791.3L587.6,786.4L588.4,791.3L589.2,796.5L590.0,801.8L590.8,807.1L591.5,812.3L592.1,817.6L592.8,822.8L593.4,828.1L593.9,832.1L594.2,828.1L594.6,822.8L595.0,817.6L595.4,812.3L595.8,807.1L596.2,801.8L596.6,796.5L597.0,791.3L597.5,786.0L597.9,780.7L598.4,775.5L598.9,770.2L599.4,765.0L600.0,759.7L600.2,757.7L601.9,754.4L604.7,749.2L606.5,746.2L608.2,749.2L610.7,754.4L612.8,759.7L612.8,760.0L612.9,759.7L613.6,754.4L614.5,749.2L615.4,743.9L616.3,738.6L617.3,733.4L618.3,728.1L619.2,723.8L619.8,722.9L624.3,717.6L625.5,716.5L631.8,714.3L635.1,712.3L638.1,710.5L644.1,707.1L644.4,706.8L647.4,701.8L649.3,696.6L650.7,691.3L650.8,691.0L651.9,686.0L653.2,680.8L654.6,675.5L656.2,670.2L657.1,666.9L657.6,665.0L658.8,659.7L659.7,654.5L660.3,649.2L660.6,643.9L660.8,638.7L660.8,633.4L660.6,628.1L660.2,622.9L659.8,617.6L659.2,612.4L658.5,607.1L657.6,601.8L657.1,599.4L656.5,596.6L655.3,591.3L653.8,586.1L652.1,580.8L650.8,576.7L650.0,575.5L644.4,572.3L638.3,570.3L638.1,570.2L631.8,567.7L626.3,565.0L625.5,564.6L620.4,559.7L619.2,558.9L616.3,554.5L612.8,549.4L611.5,549.2L606.5,548.5L600.2,545.6L598.8,544.0L593.9,538.9L589.4,544.0L587.6,546.7L581.2,548.4L579.8,549.2L574.9,552.0L568.6,552.0L562.3,550.6L559.0,549.2L556.0,548.0L549.6,545.0L548.1,544.0L543.3,541.1L537.0,541.3L531.2,544.0L530.7,544.2L524.4,544.0L524.3,544.0L521.5,538.7L518.5,533.4L518.0,532.7L517.5,533.4L513.7,538.7L511.7,541.5L506.4,544.0L505.4,544.4L499.1,547.7L492.7,547.7L486.4,546.9L480.1,547.6L476.8,549.2L473.8,550.5L467.5,552.9L465.6,554.5L461.1,558.2L459.5,559.7L454.9,565.0L454.8,565.2L450.7,570.3L448.5,572.7L448.5,575.5L448.5,580.8L448.5,586.1L448.5,591.3L448.5,596.6L448.5,601.8L448.5,607.1L448.5,612.4L448.5,617.6L448.5,622.9L448.5,628.1L448.5,633.4L448.5,638.7L448.5,643.9L448.5,649.2L448.5,654.5L448.5,659.7L448.5,665.0L448.5,670.2L448.5,675.5L448.5,680.8L448.5,686.0L448.5,691.3L448.5,696.6L448.5,701.8L448.5,707.1L448.5,712.3L448.5,717.6L448.5,722.9L448.5,728.1L448.5,730.2L454.8,729.1L460.1,733.4L461.1,734.3L463.7,738.6L466.5,743.9L467.5,746.2L473.7,749.2L473.8,749.2L477.4,754.4L480.1,758.6L486.4,757.1L488.1,754.4L491.4,749.2L492.7,747.2L498.8,743.9L499.1,743.8L499.1,743.9L500.8,749.2L502.4,754.4L504.0,759.7L505.4,764.3L505.6,765.0L507.0,770.2L508.3,775.5L509.6,780.7L510.8,786.0L511.7,790.3L511.8,791.3L512.2,796.5L512.6,801.8L513.0,807.1L513.3,812.3L513.7,817.6L514.0,822.8L514.3,828.1L514.6,833.4L514.9,838.6L515.2,843.9L515.5,849.2L515.8,854.4L516.0,859.7L516.3,864.9L516.6,870.2L517.0,875.5L517.3,880.7L517.6,886.0Z"/>
<path id="cz7" d="M723.7,1133.3L726.6,1133.3L732.9,1133.3L739.3,1133.3L745.6,1133.3L751.9,1133.3L758.2,1133.3L764.5,1133.3L770.9,1133.3L777.2,1133.3L783.5,1133.3L789.8,1133.3L796.1,1133.3L802.5,1133.3L808.8,1133.3L815.1,1133.3L821.4,1133.3L827.8,1133.3L834.1,1133.3L840.4,1133.3L846.7,1133.3L853.0,1133.3L859.4,1133.3L865.7,1133.3L872.0,1133.3L878.3,1133.3L884.6,1133.3L891.0,1133.3L897.3,1133.3L903.6,1133.3L909.9,1133.3L916.2,1133.3L922.6,1133.3L928.9,1133.3L935.2,1133.3L941.5,1133.3L947.8,1133.3L954.2,1133.3L960.5,1133.3L966.8,1133.3L973.1,1133.3L979.5,1133.3L985.8,1133.3L992.1,1133.3L998.4,1133.3L1004.7,1133.3L1011.1,1133.3L1017.4,1133.3L1023.7,1133.3L1030.0,1133.3L1036.3,1133.3L1042.7,1133.3L1049.0,1133.3L1055.3,1133.3L1061.6,1133.3L1067.9,1133.3L1074.3,1133.3L1080.6,1133.3L1086.9,1133.3L1093.2,1133.3L1099.5,1133.3L1105.9,1133.3L1112.2,1133.3L1118.5,1133.3L1124.8,1133.3L1131.2,1133.3L1137.5,1133.3L1143.7,1133.3L1143.7,1128.0L1143.8,1122.8L1143.8,1117.5L1143.8,1116.8L1143.9,1112.3L1143.9,1107.0L1144.1,1101.7L1144.2,1096.5L1144.3,1091.2L1144.4,1085.9L1144.6,1080.7L1144.8,1075.4L1144.9,1070.2L1145.1,1064.9L1145.3,1059.6L1145.6,1054.4L1145.8,1049.1L1146.1,1043.8L1146.4,1038.6L1146.8,1033.3L1147.3,1028.1L1147.8,1022.8L1148.4,1017.5L1149.0,1012.3L1149.6,1007.0L1150.1,1003.5L1150.3,1001.7L1150.9,996.5L1151.5,991.2L1152.1,986.0L1152.8,980.7L1153.5,975.4L1154.3,970.2L1155.1,964.9L1155.9,959.7L1156.4,956.8L1156.6,954.4L1157.1,949.1L1157.5,943.9L1158.1,938.6L1158.9,933.3L1159.8,928.1L1160.8,922.8L1162.0,917.6L1162.8,914.5L1163.3,912.3L1164.5,907.0L1165.8,901.8L1167.2,896.5L1168.6,891.2L1169.1,889.7L1170.1,886.0L1171.5,880.7L1172.8,875.5L1174.2,870.2L1175.4,865.7L1175.6,864.9L1177.4,859.7L1179.3,854.4L1181.2,849.2L1181.7,847.9L1183.0,843.9L1184.7,838.6L1186.3,833.4L1187.9,828.1L1188.0,827.6L1189.4,822.8L1190.9,817.6L1192.2,812.3L1193.3,807.1L1194.3,801.8L1194.4,801.4L1195.3,796.5L1196.1,791.3L1196.8,786.0L1197.5,780.7L1198.2,775.5L1198.9,770.2L1199.6,765.0L1200.4,759.7L1200.7,757.8L1201.6,754.4L1203.2,749.2L1205.2,743.9L1207.0,740.0L1207.0,738.6L1207.0,733.4L1207.0,728.1L1207.0,722.9L1207.0,717.6L1207.0,712.3L1207.0,707.1L1207.0,701.8L1207.0,696.6L1207.0,691.3L1207.0,686.0L1207.0,680.8L1207.0,675.5L1207.0,670.2L1207.0,665.0L1207.0,659.7L1207.0,654.5L1207.0,649.2L1207.0,643.9L1207.0,638.7L1207.0,633.4L1207.0,632.7L1206.2,633.4L1200.7,638.3L1194.4,635.1L1192.8,633.4L1188.0,628.8L1187.5,628.1L1183.1,622.9L1181.7,621.2L1177.1,617.6L1175.4,616.3L1170.7,612.4L1169.1,611.1L1164.1,607.1L1162.8,606.1L1158.3,601.8L1156.4,600.2L1150.1,597.8L1147.3,596.6L1143.8,595.1L1141.5,591.3L1138.2,586.1L1137.5,585.0L1135.5,580.8L1132.9,575.5L1131.2,572.0L1130.3,570.3L1127.7,565.0L1124.9,559.7L1124.8,559.7L1120.4,554.5L1118.5,552.3L1115.4,549.2L1112.2,546.1L1107.5,544.0L1105.9,543.2L1101.9,538.7L1099.5,536.1L1097.6,533.4L1093.4,528.2L1093.2,527.9L1086.9,524.4L1080.6,523.2L1079.4,522.9L1074.3,521.7L1067.9,520.6L1061.6,521.1L1057.4,522.9L1055.3,523.8L1049.0,523.1L1048.4,522.9L1042.7,521.0L1036.3,518.0L1030.0,518.8L1023.7,517.9L1020.9,517.6L1017.4,517.4L1011.1,517.3L1009.4,517.6L1004.7,518.7L998.4,522.1L997.4,522.9L992.1,527.5L991.5,528.2L986.4,533.4L985.8,534.2L980.1,538.7L979.5,539.3L973.1,543.9L966.8,542.8L960.5,541.6L957.2,544.0L954.2,546.2L952.9,549.2L950.8,554.5L948.8,559.7L947.8,562.3L947.0,565.0L945.3,570.3L943.5,575.5L941.7,580.8L941.5,581.2L939.2,586.1L936.9,591.3L935.2,595.5L934.7,596.6L932.5,601.8L930.3,607.1L928.9,610.2L925.6,612.4L922.6,614.3L916.8,617.6L916.2,618.0L909.9,622.4L909.4,622.9L903.9,628.1L903.6,628.5L897.6,633.4L897.3,633.7L891.0,636.6L884.6,636.5L878.3,637.4L872.0,638.2L865.7,635.3L860.6,633.4L859.4,633.0L853.0,631.8L846.7,629.9L844.0,628.1L840.4,625.8L839.5,622.9L837.9,617.6L836.5,612.4L835.1,607.1L834.1,603.0L832.9,607.1L831.5,612.4L830.0,617.6L828.5,622.9L827.8,625.3L821.4,625.3L815.1,623.8L808.8,623.7L805.7,622.9L802.5,622.0L796.1,618.4L795.0,617.6L789.8,614.2L786.6,612.4L783.5,610.6L777.2,607.2L777.1,607.1L770.9,601.9L770.5,601.8L764.5,601.3L763.0,601.8L758.2,603.6L757.0,607.1L755.4,612.4L754.0,617.6L752.8,622.9L751.9,627.1L751.7,628.1L750.7,633.4L749.7,638.7L748.8,643.9L748.0,649.2L747.2,654.5L746.5,659.7L745.7,665.0L745.6,665.9L744.7,670.2L743.6,675.5L742.5,680.8L741.3,686.0L740.0,691.3L739.3,694.1L737.8,691.3L735.7,686.0L734.0,680.8L732.9,677.0L732.3,680.8L731.5,686.0L730.7,691.3L730.0,696.6L729.3,701.8L728.6,707.1L728.0,712.3L727.4,717.6L726.9,722.9L726.6,725.2L726.5,728.1L726.2,733.4L725.9,738.6L725.7,743.9L725.5,749.2L725.3,754.4L725.1,759.7L725.0,765.0L724.8,770.2L724.7,775.5L724.5,780.7L724.4,786.0L724.3,791.3L724.2,796.5L724.1,801.8L724.0,807.1L723.9,812.3L723.8,817.6L723.7,822.8L723.7,828.1L723.6,833.4L723.5,838.6L723.5,843.9L723.4,849.2L723.3,854.4L723.3,859.7L723.2,864.9L723.2,870.2L723.1,875.5L723.1,880.7L723.1,886.0L723.0,891.2L723.0,896.5L723.0,901.8L723.0,907.0L723.0,912.3L723.0,917.6L723.0,922.8L723.0,928.1L723.0,933.3L723.0,938.6L723.0,943.9L723.0,949.1L723.1,954.4L723.1,959.7L723.1,964.9L723.1,970.2L723.1,975.4L723.1,980.7L723.1,986.0L723.1,991.2L723.1,996.5L723.2,1001.7L723.2,1007.0L723.2,1012.3L723.2,1017.5L723.2,1022.8L723.2,1028.1L723.2,1033.3L723.2,1038.6L723.2,1043.8L723.2,1049.1L723.3,1054.4L723.3,1059.6L723.3,1064.9L723.3,1070.2L723.3,1075.4L723.4,1080.7L723.4,1085.9L723.4,1091.2L723.5,1096.5L723.5,1101.7L723.5,1107.0L723.6,1112.3L723.6,1117.5L723.6,1122.8L723.7,1128.0ZM517.5,728.1L518.0,732.8L518.5,728.1L519.0,722.9L519.5,717.6L520.1,712.3L520.8,707.1L521.5,701.8L522.3,696.6L523.3,691.3L524.4,687.6L530.7,689.6L531.8,691.3L534.3,696.6L536.7,701.8L537.0,702.4L542.1,707.1L543.3,708.2L544.4,707.1L549.6,702.3L550.5,701.8L556.0,699.0L562.3,696.6L563.0,696.6L568.6,696.0L572.9,696.6L574.9,696.9L581.2,701.1L587.6,697.7L589.4,701.8L591.5,707.1L593.6,712.3L593.9,713.0L594.0,712.3L595.4,707.1L596.9,701.8L598.4,696.6L600.1,691.3L600.2,691.0L606.5,687.9L610.4,691.3L612.8,693.3L613.8,691.3L616.2,686.0L618.5,680.8L619.2,678.8L621.7,675.5L623.9,670.2L625.4,665.0L625.5,664.6L626.8,659.7L627.9,654.5L628.7,649.2L629.1,643.9L629.2,638.7L628.9,633.4L628.2,628.1L627.1,622.9L625.8,617.6L625.5,616.7L624.6,612.4L623.5,607.1L622.1,601.8L620.2,596.6L619.2,594.5L618.4,591.3L616.8,586.1L615.0,580.8L612.9,575.5L612.8,575.5L606.5,574.6L600.2,570.5L600.1,570.3L597.0,565.0L593.9,560.5L590.8,565.0L587.6,569.2L581.2,569.2L578.0,570.3L574.9,571.4L568.6,571.7L562.3,571.1L559.7,570.3L556.0,569.1L549.6,565.8L548.6,565.0L543.3,560.8L537.0,560.6L530.7,564.0L524.4,563.6L522.7,559.7L520.4,554.5L518.0,549.5L515.0,554.5L512.0,559.7L511.7,560.2L505.4,564.1L503.9,565.0L499.1,567.8L492.7,567.4L486.4,565.6L480.1,565.6L473.8,568.3L470.0,570.3L467.5,571.7L464.8,575.5L461.3,580.8L461.1,581.0L457.7,586.1L454.8,590.9L454.5,591.3L451.8,596.6L449.4,601.8L448.5,604.3L448.5,607.1L448.5,612.4L448.5,617.6L448.5,622.9L448.5,628.1L448.5,633.4L448.5,638.7L448.5,643.9L448.5,649.2L448.5,654.5L448.5,659.7L448.5,665.0L448.5,670.2L448.5,673.3L454.8,673.8L456.8,675.5L461.1,679.2L462.4,680.8L466.7,686.0L467.5,686.9L473.8,688.3L480.1,691.1L486.4,689.9L492.7,686.6L495.6,686.0L499.1,685.7L500.1,686.0L505.4,689.0L509.4,691.3L511.7,693.7L512.4,696.6L513.6,701.8L514.6,707.1L515.4,712.3L516.1,717.6L516.8,722.9Z"/>
<path id="cz8" d="M725.2,1133.3L726.6,1133.3L732.9,1133.3L739.3,1133.3L745.6,1133.3L751.9,1133.3L758.2,1133.3L764.5,1133.3L770.9,1133.3L777.2,1133.3L783.5,1133.3L789.8,1133.3L796.1,1133.3L802.5,1133.3L808.8,1133.3L815.1,1133.3L821.4,1133.3L827.8,1133.3L834.1,1133.3L840.4,1133.3L846.7,1133.3L853.0,1133.3L859.4,1133.3L865.7,1133.3L872.0,1133.3L878.3,1133.3L884.6,1133.3L891.0,1133.3L897.3,1133.3L903.6,1133.3L909.9,1133.3L916.2,1133.3L922.6,1133.3L928.9,1133.3L935.2,1133.3L941.5,1133.3L947.8,1133.3L954.2,1133.3L960.5,1133.3L966.8,1133.3L973.1,1133.3L979.5,1133.3L985.8,1133.3L992.1,1133.3L998.4,1133.3L1004.7,1133.3L1011.1,1133.3L1017.4,1133.3L1023.7,1133.3L1030.0,1133.3L1036.3,1133.3L1042.7,1133.3L1049.0,1133.3L1055.3,1133.3L1061.6,1133.3L1067.9,1133.3L1074.3,1133.3L1080.6,1133.3L1086.9,1133.3L1093.2,1133.3L1099.5,1133.3L1105.9,1133.3L1112.2,1133.3L1118.5,1133.3L1124.8,1133.3L1131.2,1133.3L1131.5,1133.3L1131.5,1128.0L1131.5,1122.8L1131.5,1117.5L1131.5,1112.3L1131.5,1107.0L1131.5,1101.7L1131.5,1096.5L1131.5,1091.2L1131.5,1085.9L1131.5,1080.7L1131.5,1075.4L1131.5,1070.2L1131.5,1064.9L1131.5,1059.6L1131.5,1054.4L1131.6,1049.1L1131.6,1043.8L1131.6,1038.6L1131.7,1033.3L1131.8,1028.1L1131.9,1022.8L1132.0,1017.5L1132.2,1012.3L1132.3,1007.0L1132.5,1001.7L1132.7,996.5L1132.9,991.2L1133.1,986.0L1133.3,980.7L1133.5,975.4L1133.7,970.2L1133.9,964.9L1134.2,959.7L1134.4,954.4L1134.7,949.1L1134.9,943.9L1135.2,938.6L1135.6,933.3L1136.0,928.1L1136.4,922.8L1137.0,917.6L1137.5,913.0L1137.6,912.3L1138.6,907.0L1139.7,901.8L1141.0,896.5L1142.3,891.2L1143.7,886.0L1143.8,885.7L1150.1,882.9L1151.9,880.7L1156.4,875.5L1156.4,875.5L1157.8,870.2L1159.1,864.9L1160.4,859.7L1161.9,854.4L1162.8,851.4L1163.4,849.2L1164.9,843.9L1166.6,838.6L1168.5,833.4L1169.1,831.8L1170.4,828.1L1172.4,822.8L1174.5,817.6L1175.4,815.4L1176.6,812.3L1178.5,807.1L1180.2,801.8L1181.7,796.7L1181.8,796.5L1182.6,791.3L1183.3,786.0L1184.1,780.7L1184.8,775.5L1185.4,770.2L1186.0,765.0L1186.6,759.7L1187.1,754.4L1187.6,749.2L1188.0,744.6L1188.1,743.9L1188.5,738.6L1188.9,733.4L1189.3,728.1L1189.5,722.9L1189.7,717.6L1189.8,712.3L1189.8,707.1L1189.7,701.8L1189.4,696.6L1189.0,691.3L1188.4,686.0L1188.0,683.8L1187.6,680.8L1186.8,675.5L1185.7,670.2L1184.5,665.0L1183.2,659.7L1181.7,655.3L1181.1,654.5L1176.1,649.2L1175.4,648.6L1169.4,643.9L1169.1,643.7L1162.8,638.7L1162.7,638.7L1158.2,633.4L1156.4,631.4L1150.8,628.1L1150.1,627.8L1143.8,624.0L1143.2,622.9L1140.4,617.6L1137.5,612.4L1137.5,612.4L1135.3,607.1L1133.2,601.8L1131.2,597.2L1130.9,596.6L1128.7,591.3L1126.3,586.1L1124.8,582.8L1123.5,580.8L1119.9,575.5L1118.5,573.5L1115.9,570.3L1112.2,565.8L1110.9,565.0L1105.9,562.2L1103.7,559.7L1099.5,555.1L1099.1,554.5L1095.3,549.2L1093.2,546.4L1090.0,544.0L1086.9,541.7L1080.6,540.2L1075.9,538.7L1074.3,538.2L1067.9,536.5L1061.6,536.4L1055.3,538.6L1049.0,538.0L1042.7,536.0L1037.8,533.4L1036.3,532.6L1030.4,533.4L1030.0,533.5L1029.5,533.4L1023.7,532.9L1017.4,532.5L1011.1,532.7L1008.6,533.4L1004.7,534.6L998.4,538.1L997.8,538.7L992.1,543.6L991.8,544.0L987.3,549.2L985.8,550.9L981.8,554.5L979.5,556.5L974.9,559.7L973.1,560.9L966.8,560.5L960.5,559.8L954.3,565.0L954.2,565.2L952.0,570.3L949.8,575.5L947.8,579.9L947.5,580.8L945.6,586.1L943.6,591.3L941.6,596.6L941.5,596.9L939.4,601.8L937.3,607.1L935.2,611.9L935.0,612.4L932.4,617.6L929.8,622.9L928.9,624.9L924.9,628.1L922.6,630.1L918.1,633.4L916.2,634.8L910.3,638.7L909.9,638.9L903.6,643.4L902.9,643.9L897.3,649.1L897.2,649.2L891.0,653.2L884.6,653.1L878.3,654.2L874.5,654.5L872.0,654.6L871.7,654.5L865.7,651.1L861.7,649.2L859.4,648.1L853.0,646.6L846.7,645.0L844.5,643.9L840.4,641.8L839.5,638.7L837.9,633.4L836.4,628.1L834.9,622.9L834.1,619.9L833.2,622.9L831.7,628.1L830.2,633.4L828.5,638.7L827.8,641.1L821.4,641.0L815.1,639.1L810.6,638.7L808.8,638.5L802.5,636.6L796.1,633.8L795.5,633.4L789.8,629.8L786.7,628.1L783.5,626.4L777.2,624.2L775.6,622.9L770.9,618.9L764.5,618.4L758.2,621.5L757.8,622.9L756.4,628.1L755.2,633.4L754.1,638.7L753.1,643.9L752.2,649.2L751.9,651.4L751.4,654.5L750.6,659.7L749.8,665.0L749.0,670.2L748.3,675.5L747.6,680.8L746.9,686.0L746.1,691.3L745.6,694.0L744.9,696.6L743.5,701.8L742.2,707.1L741.2,712.3L740.3,717.6L739.5,722.9L739.3,725.3L737.0,722.9L733.3,717.6L732.9,717.0L732.9,717.6L732.4,722.9L731.9,728.1L731.5,733.4L731.0,738.6L730.5,743.9L730.0,749.2L729.5,754.4L729.0,759.7L728.5,765.0L727.9,770.2L727.4,775.5L726.9,780.7L726.6,783.7L726.5,786.0L726.4,791.3L726.2,796.5L726.1,801.8L726.0,807.1L725.9,812.3L725.7,817.6L725.6,822.8L725.5,828.1L725.4,833.4L725.3,838.6L725.2,843.9L725.1,849.2L725.0,854.4L725.0,859.7L724.9,864.9L724.8,870.2L724.7,875.5L724.7,880.7L724.6,886.0L724.6,891.2L724.5,896.5L724.5,901.8L724.5,907.0L724.5,912.3L724.5,917.6L724.5,922.8L724.5,928.1L724.5,933.3L724.5,938.6L724.5,943.9L724.5,949.1L724.5,954.4L724.5,959.7L724.5,964.9L724.5,970.2L724.5,975.4L724.5,980.7L724.5,986.0L724.5,991.2L724.6,996.5L724.6,1001.7L724.6,1007.0L724.6,1012.3L724.6,1017.5L724.6,1022.8L724.6,1028.1L724.6,1033.3L724.6,1038.6L724.6,1043.8L724.6,1049.1L724.6,1054.4L724.7,1059.6L724.7,1064.9L724.7,1070.2L724.8,1075.4L724.8,1080.7L724.8,1085.9L724.9,1091.2L724.9,1096.5L724.9,1101.7L725.0,1107.0L725.0,1112.3L725.1,1117.5L725.1,1122.8L725.1,1128.0ZM518.0,680.8L518.0,680.9L518.1,680.8L520.4,675.5L522.4,670.2L524.1,665.0L524.4,664.2L530.7,664.6L531.1,665.0L535.7,670.2L537.0,671.7L543.1,675.5L543.3,675.6L543.6,675.5L549.6,672.2L556.0,670.3L557.3,670.2L562.3,670.1L562.9,670.2L568.6,670.8L574.9,671.1L581.2,671.8L584.8,670.2L587.6,668.6L589.3,670.2L593.9,673.9L595.7,670.2L597.9,665.0L599.7,659.7L600.2,657.8L602.2,654.5L604.8,649.2L606.5,644.9L607.4,643.9L610.3,638.7L610.9,633.4L610.1,628.1L608.2,622.9L606.5,619.6L605.9,617.6L603.9,612.4L601.2,607.1L600.2,605.6L599.1,601.8L597.2,596.6L595.0,591.3L593.9,589.0L592.4,591.3L589.2,596.6L587.6,599.5L581.2,597.5L574.9,600.6L568.6,601.0L562.3,599.5L557.7,596.6L556.0,595.4L551.5,591.3L549.6,589.9L545.7,586.1L543.3,584.1L537.0,584.7L535.4,586.1L530.7,590.5L524.4,590.5L523.1,586.1L521.6,580.8L519.9,575.5L518.0,570.6L515.6,575.5L513.2,580.8L511.7,584.3L509.2,586.1L505.4,589.1L502.7,591.3L499.1,594.5L492.7,593.9L486.4,591.5L480.1,592.5L475.2,596.6L473.8,597.7L469.0,601.8L467.5,603.2L465.5,607.1L463.2,612.4L461.4,617.6L461.1,618.6L460.2,622.9L459.7,628.1L460.1,633.4L461.1,637.1L461.6,638.7L464.0,643.9L467.2,649.2L467.5,649.7L473.3,654.5L473.8,654.9L477.7,659.7L480.1,662.3L484.0,665.0L486.4,666.5L492.7,667.5L499.1,667.7L504.7,670.2L505.4,670.5L511.7,671.9L514.0,675.5Z"/>
<path id="cz9" d="M726.7,1133.3L732.9,1133.3L739.3,1133.3L745.6,1133.3L751.9,1133.3L758.2,1133.3L764.5,1133.3L770.9,1133.3L777.2,1133.3L783.5,1133.3L789.8,1133.3L796.1,1133.3L802.5,1133.3L808.8,1133.3L815.1,1133.3L821.4,1133.3L827.8,1133.3L834.1,1133.3L840.4,1133.3L846.7,1133.3L853.0,1133.3L859.4,1133.3L865.7,1133.3L872.0,1133.3L878.3,1133.3L884.6,1133.3L891.0,1133.3L897.3,1133.3L903.6,1133.3L909.9,1133.3L916.2,1133.3L922.6,1133.3L928.9,1133.3L935.2,1133.3L941.5,1133.3L947.8,1133.3L954.2,1133.3L960.5,1133.3L966.8,1133.3L973.1,1133.3L979.5,1133.3L985.8,1133.3L992.1,1133.3L998.4,1133.3L1004.7,1133.3L1011.1,1133.3L1017.4,1133.3L1023.7,1133.3L1030.0,1133.3L1036.3,1133.3L1042.7,1133.3L1049.0,1133.3L1055.3,1133.3L1061.6,1133.3L1067.9,1133.3L1074.3,1133.3L1080.6,1133.3L1086.9,1133.3L1093.2,1133.3L1099.5,1133.3L1105.9,1133.3L1112.2,1133.3L1118.5,1133.3L1120.0,1133.3L1120.0,1128.0L1120.0,1122.8L1120.0,1117.5L1120.0,1112.3L1120.0,1107.0L1119.9,1101.7L1119.9,1096.5L1119.9,1091.2L1119.9,1085.9L1119.9,1080.7L1119.9,1075.4L1119.9,1070.2L1119.8,1064.9L1119.8,1059.6L1119.8,1054.4L1119.8,1049.1L1119.8,1043.8L1119.9,1038.6L1120.0,1033.3L1120.1,1028.1L1120.3,1022.8L1120.5,1017.5L1120.7,1012.3L1120.9,1007.0L1121.1,1001.7L1121.4,996.5L1121.6,991.2L1121.9,986.0L1122.2,980.7L1122.5,975.4L1122.8,970.2L1123.1,964.9L1123.4,959.7L1123.7,954.4L1124.0,949.1L1124.3,943.9L1124.6,938.6L1124.8,935.6L1124.9,933.3L1125.3,928.1L1125.6,922.8L1126.0,917.6L1126.4,912.3L1126.8,907.0L1127.3,901.8L1127.8,896.5L1128.3,891.2L1128.9,886.0L1129.5,880.7L1130.0,875.5L1130.7,870.2L1131.2,866.0L1131.3,864.9L1132.1,859.7L1132.9,854.4L1133.7,849.2L1134.5,843.9L1135.3,838.6L1136.1,833.4L1136.8,828.1L1137.5,823.9L1137.7,822.8L1139.1,817.6L1140.4,812.3L1141.8,807.1L1143.3,801.8L1143.8,800.1L1150.1,800.4L1156.4,796.7L1156.5,796.5L1158.5,791.3L1160.6,786.0L1162.8,781.3L1163.0,780.7L1165.4,775.5L1167.6,770.2L1169.1,766.3L1169.5,765.0L1170.9,759.7L1172.1,754.4L1173.1,749.2L1173.9,743.9L1174.4,738.6L1174.8,733.4L1175.0,728.1L1175.0,722.9L1174.7,717.6L1174.1,712.3L1173.1,707.1L1171.8,701.8L1169.9,696.6L1169.1,694.7L1167.4,691.3L1164.3,686.0L1162.8,683.8L1161.0,680.8L1158.0,675.5L1156.4,672.8L1154.3,670.2L1150.1,665.8L1149.5,665.0L1145.1,659.7L1143.8,658.2L1142.4,654.5L1140.5,649.2L1138.3,643.9L1137.5,642.0L1136.4,638.7L1134.5,633.4L1132.6,628.1L1131.2,624.5L1130.6,622.9L1128.6,617.6L1126.7,612.4L1124.8,607.6L1124.6,607.1L1121.7,601.8L1118.5,596.6L1118.5,596.6L1114.8,591.3L1112.2,587.7L1110.0,586.1L1105.9,583.1L1104.1,580.8L1099.8,575.5L1099.5,575.2L1096.1,570.3L1093.2,566.0L1092.2,565.0L1086.9,559.9L1086.5,559.7L1080.6,557.3L1074.3,554.8L1073.4,554.5L1067.9,552.5L1061.6,551.9L1055.3,553.8L1049.0,553.0L1042.7,550.7L1039.7,549.2L1036.3,547.4L1030.0,548.1L1023.7,547.6L1017.4,547.5L1011.1,548.1L1007.8,549.2L1004.7,550.2L998.4,553.7L997.5,554.5L992.1,558.8L991.2,559.7L986.0,565.0L985.8,565.2L980.0,570.3L979.5,570.8L973.8,575.5L973.1,576.1L966.8,576.3L960.5,576.4L955.6,580.8L954.2,582.1L952.4,586.1L950.0,591.3L947.8,596.1L947.7,596.6L945.7,601.8L943.7,607.1L941.6,612.4L941.5,612.6L939.3,617.6L937.0,622.9L935.2,626.9L934.7,628.1L932.0,633.4L928.9,638.3L928.4,638.7L922.6,643.5L922.1,643.9L918.4,649.2L916.2,651.6L910.5,654.5L909.9,654.8L903.7,659.7L903.6,659.8L898.5,665.0L897.3,666.2L891.0,670.0L884.6,669.9L882.6,670.2L878.3,671.0L872.0,671.6L869.7,670.2L865.7,668.0L859.4,665.0L859.4,664.9L853.0,663.4L846.7,661.4L844.0,659.7L840.4,657.7L839.5,654.5L837.9,649.2L836.3,643.9L834.6,638.7L834.1,636.8L833.5,638.7L831.7,643.9L830.1,649.2L828.5,654.5L827.8,656.9L821.4,656.9L815.1,654.9L813.8,654.5L808.8,652.9L802.5,649.8L800.2,649.2L796.1,648.0L789.8,645.6L785.9,643.9L783.5,642.8L777.2,641.0L774.4,638.7L770.9,635.8L764.5,635.3L758.9,638.7L758.2,639.0L757.0,643.9L755.8,649.2L754.9,654.5L754.1,659.7L753.4,665.0L752.8,670.2L752.3,675.5L751.9,680.1L751.8,680.8L751.2,686.0L750.5,691.3L749.7,696.6L748.8,701.8L747.8,707.1L746.8,712.3L745.9,717.6L745.6,719.2L744.9,722.9L743.9,728.1L743.1,733.4L742.4,738.6L741.8,743.9L741.2,749.2L740.7,754.4L740.3,759.7L739.8,765.0L739.4,770.2L739.3,772.4L736.5,775.5L733.2,780.7L732.9,781.2L732.4,786.0L731.8,791.3L731.3,796.5L730.8,801.8L730.3,807.1L729.8,812.3L729.3,817.6L728.9,822.8L728.5,828.1L728.1,833.4L727.8,838.6L727.5,843.9L727.2,849.2L726.9,854.4L726.7,859.7L726.6,860.5L726.5,864.9L726.4,870.2L726.3,875.5L726.3,880.7L726.2,886.0L726.1,891.2L726.1,896.5L726.0,901.8L726.0,907.0L726.0,912.3L725.9,917.6L725.9,922.8L725.9,928.1L725.9,933.3L725.9,938.6L726.0,943.9L726.0,949.1L726.0,954.4L726.0,959.7L726.0,964.9L726.0,970.2L726.0,975.4L726.0,980.7L726.0,986.0L726.0,991.2L726.0,996.5L726.0,1001.7L726.0,1007.0L726.0,1012.3L726.0,1017.5L726.0,1022.8L726.0,1028.1L726.0,1033.3L726.0,1038.6L726.0,1043.8L726.0,1049.1L726.0,1054.4L726.1,1059.6L726.1,1064.9L726.1,1070.2L726.2,1075.4L726.2,1080.7L726.2,1085.9L726.3,1091.2L726.3,1096.5L726.4,1101.7L726.4,1107.0L726.5,1112.3L726.5,1117.5L726.6,1122.8L726.6,1127.2L726.6,1128.0ZM516.3,654.5L518.0,657.8L519.2,654.5L520.9,649.2L522.4,643.9L523.5,638.7L523.9,633.4L523.7,628.1L523.1,622.9L522.3,617.6L521.2,612.4L519.9,607.1L518.5,601.8L518.0,600.0L517.4,601.8L515.5,607.1L513.9,612.4L512.6,617.6L511.7,622.2L511.3,622.9L509.3,628.1L508.5,633.4L509.5,638.7L511.7,642.1L512.1,643.9L514.0,649.2ZM536.1,633.4L537.0,635.7L539.1,633.4L537.0,628.5Z"/>
<path id="cz10" d="M729.5,1133.3L732.9,1133.3L739.3,1133.3L745.6,1133.3L751.9,1133.3L758.2,1133.3L764.5,1133.3L770.9,1133.3L777.2,1133.3L783.5,1133.3L789.8,1133.3L796.1,1133.3L802.5,1133.3L808.8,1133.3L815.1,1133.3L821.4,1133.3L827.8,1133.3L834.1,1133.3L840.4,1133.3L846.7,1133.3L853.0,1133.3L859.4,1133.3L865.7,1133.3L872.0,1133.3L878.3,1133.3L884.6,1133.3L891.0,1133.3L897.3,1133.3L903.6,1133.3L909.1,1133.3L909.9,1131.1L910.9,1128.0L912.4,1122.8L913.9,1117.5L915.4,1112.3L916.2,1108.6L917.1,1107.0L919.4,1101.7L921.3,1096.5L922.6,1092.0L922.8,1091.2L923.5,1085.9L923.8,1080.7L923.7,1075.4L923.6,1070.2L923.5,1064.9L923.2,1059.6L922.8,1054.4L922.6,1049.6L922.5,1049.1L922.2,1043.8L921.9,1038.6L921.7,1033.3L921.5,1028.1L921.2,1022.8L920.9,1017.5L920.6,1012.3L920.4,1007.0L920.1,1001.7L920.0,996.5L919.8,991.2L919.7,986.0L919.6,980.7L919.6,975.4L919.6,970.2L919.6,964.9L919.6,959.7L919.6,954.4L919.6,949.1L919.6,943.9L919.6,938.6L919.6,933.3L919.6,928.1L919.6,922.8L919.7,917.6L919.9,912.3L920.3,907.0L921.0,901.8L922.0,896.5L922.6,894.5L923.6,891.2L925.7,886.0L927.9,880.7L928.9,878.4L931.2,880.7L935.2,884.3L941.5,882.9L941.9,886.0L942.4,891.2L943.0,896.5L943.4,901.8L943.8,907.0L944.1,912.3L944.3,917.6L944.3,922.8L944.4,928.1L944.4,933.3L944.4,938.6L944.4,943.9L944.4,949.1L944.4,954.4L944.4,959.7L944.5,964.9L944.5,970.2L944.5,975.4L944.4,980.7L944.3,986.0L944.1,991.2L943.9,996.5L943.6,1001.7L943.3,1007.0L943.0,1012.3L942.8,1017.5L942.6,1022.8L942.6,1028.1L942.6,1033.3L942.7,1038.6L942.8,1043.8L942.9,1049.1L943.0,1054.4L943.2,1059.6L943.3,1064.9L943.5,1070.2L943.6,1075.4L943.8,1080.7L943.9,1085.9L944.1,1091.2L944.2,1096.5L944.4,1101.7L944.6,1107.0L944.8,1112.3L944.9,1117.5L945.0,1122.8L945.2,1128.0L945.3,1133.3L947.8,1133.3L954.2,1133.3L960.5,1133.3L966.8,1133.3L973.1,1133.3L979.5,1133.3L985.8,1133.3L992.1,1133.3L998.4,1133.3L1004.7,1133.3L1011.1,1133.3L1017.4,1133.3L1023.7,1133.3L1030.0,1133.3L1036.3,1133.3L1042.7,1133.3L1049.0,1133.3L1055.3,1133.3L1061.6,1133.3L1067.9,1133.3L1074.3,1133.3L1080.6,1133.3L1086.9,1133.3L1093.2,1133.3L1099.5,1133.3L1100.2,1133.3L1100.2,1128.0L1100.2,1122.8L1100.2,1117.5L1100.2,1112.3L1100.3,1107.0L1100.3,1101.7L1100.3,1096.5L1100.3,1091.2L1100.4,1085.9L1100.4,1080.7L1100.4,1075.4L1100.5,1070.2L1100.5,1064.9L1100.5,1059.6L1100.5,1054.4L1100.6,1049.1L1100.7,1043.8L1100.9,1038.6L1101.0,1033.3L1101.3,1028.1L1101.5,1022.8L1101.8,1017.5L1102.1,1012.3L1102.5,1007.0L1102.9,1001.7L1103.3,996.5L1103.7,991.2L1104.1,986.0L1104.6,980.7L1105.0,975.4L1105.5,970.2L1105.9,965.9L1106.0,964.9L1106.7,959.7L1107.4,954.4L1108.0,949.1L1108.7,943.9L1109.4,938.6L1110.2,933.3L1111.1,928.1L1112.0,922.8L1112.2,921.8L1112.7,917.6L1113.3,912.3L1113.9,907.0L1114.6,901.8L1115.3,896.5L1116.0,891.2L1116.8,886.0L1117.5,880.7L1118.3,875.5L1118.5,873.8L1119.0,870.2L1119.8,864.9L1120.5,859.7L1121.3,854.4L1122.1,849.2L1122.8,843.9L1123.6,838.6L1124.3,833.4L1124.8,829.6L1125.0,828.1L1125.6,822.8L1126.2,817.6L1126.7,812.3L1127.3,807.1L1127.9,801.8L1128.5,796.5L1129.1,791.3L1129.7,786.0L1130.3,780.7L1131.0,775.5L1131.2,774.1L1131.8,770.2L1132.8,765.0L1133.8,759.7L1134.8,754.4L1136.0,749.2L1137.1,743.9L1137.5,742.2L1139.1,738.6L1141.4,733.4L1143.3,728.1L1143.8,726.3L1145.1,728.1L1148.7,733.4L1150.1,735.1L1156.4,735.7L1157.0,733.4L1157.8,728.1L1158.0,722.9L1157.5,717.6L1156.4,713.1L1155.7,712.3L1150.6,707.1L1150.1,706.6L1145.3,701.8L1143.8,699.5L1143.3,696.6L1142.3,691.3L1141.2,686.0L1139.8,680.8L1138.2,675.5L1137.5,673.5L1136.5,670.2L1134.8,665.0L1133.0,659.7L1131.3,654.5L1131.2,653.8L1129.7,649.2L1128.0,643.9L1126.1,638.7L1124.8,635.0L1124.0,633.4L1121.5,628.1L1118.9,622.9L1118.5,622.1L1116.2,617.6L1113.4,612.4L1112.2,610.3L1109.2,607.1L1105.9,604.0L1104.4,601.8L1100.6,596.6L1099.5,595.1L1097.2,591.3L1093.7,586.1L1093.2,585.3L1088.1,580.8L1086.9,579.8L1080.6,576.0L1079.9,575.5L1074.3,571.2L1072.9,570.3L1067.9,567.3L1061.6,565.4L1055.3,566.1L1050.6,565.0L1049.0,564.7L1042.7,562.9L1036.3,560.1L1030.0,560.8L1023.7,560.3L1017.4,560.4L1011.1,561.1L1004.7,563.3L1001.7,565.0L998.4,566.9L994.2,570.3L992.1,572.2L989.2,575.5L985.8,579.9L984.9,580.8L979.9,586.1L979.5,586.6L974.1,591.3L973.1,592.2L966.8,592.5L960.5,592.9L956.6,596.6L954.2,598.9L952.8,601.8L950.4,607.1L947.9,612.4L947.8,612.4L945.8,617.6L943.7,622.9L941.7,628.1L941.5,628.5L939.2,633.4L936.4,638.7L935.2,640.5L932.6,643.9L930.8,649.2L929.8,654.5L928.9,659.3L928.7,659.7L922.6,664.8L922.0,665.0L916.2,666.4L909.9,670.0L909.7,670.2L904.7,675.5L903.6,676.7L899.3,680.8L897.3,682.6L892.2,686.0L891.0,686.9L884.6,688.1L878.3,689.9L872.0,690.0L865.9,686.0L865.7,685.9L859.4,682.3L854.7,680.8L853.0,680.2L846.7,677.8L843.4,675.5L840.4,673.4L839.3,670.2L837.7,665.0L836.3,659.7L834.9,654.5L834.1,651.6L833.2,654.5L831.8,659.7L830.3,665.0L828.6,670.2L827.8,672.7L821.4,672.6L815.1,670.7L813.8,670.2L808.8,668.7L802.5,665.7L799.4,665.0L796.1,664.2L789.8,662.4L783.5,659.8L783.1,659.7L777.2,657.9L774.3,654.5L770.9,650.7L764.5,650.1L758.9,654.5L758.2,655.1L757.4,659.7L756.6,665.0L755.9,670.2L755.2,675.5L754.6,680.8L754.1,686.0L753.6,691.3L753.1,696.6L752.7,701.8L752.3,707.1L751.9,711.8L751.8,712.3L750.7,717.6L749.6,722.9L748.5,728.1L747.5,733.4L746.6,738.6L745.8,743.9L745.6,745.3L745.0,749.2L744.3,754.4L743.7,759.7L743.1,765.0L742.5,770.2L742.0,775.5L741.5,780.7L741.1,786.0L740.6,791.3L740.2,796.5L739.8,801.8L739.4,807.1L739.3,809.3L738.1,812.3L736.4,817.6L734.8,822.8L733.4,828.1L732.9,829.9L732.6,833.4L732.0,838.6L731.5,843.9L731.0,849.2L730.6,854.4L730.3,859.7L730.0,864.9L729.7,870.2L729.5,875.5L729.3,880.7L729.1,886.0L728.9,891.2L728.7,896.5L728.6,901.8L728.5,907.0L728.4,912.3L728.3,917.6L728.2,922.8L728.2,928.1L728.1,933.3L728.1,938.6L728.1,943.9L728.1,949.1L728.0,954.4L728.0,959.7L728.0,964.9L728.0,970.2L728.0,975.4L728.0,980.7L728.0,986.0L728.0,991.2L728.0,996.5L728.0,1001.7L728.0,1007.0L728.0,1012.3L728.0,1017.5L728.0,1022.8L728.0,1028.1L728.1,1033.3L728.1,1038.6L728.1,1043.8L728.1,1049.1L728.2,1054.4L728.2,1059.6L728.3,1064.9L728.3,1070.2L728.4,1075.4L728.4,1080.7L728.5,1085.9L728.6,1091.2L728.7,1096.5L728.8,1101.7L728.9,1107.0L729.0,1112.3L729.1,1117.5L729.3,1122.8L729.4,1128.0Z"/>
<path id="cz11" d="M732.3,1133.3L732.9,1133.3L739.3,1133.3L745.6,1133.3L751.9,1133.3L758.2,1133.3L764.5,1133.3L770.9,1133.3L777.2,1133.3L783.5,1133.3L789.8,1133.3L796.1,1133.3L802.5,1133.3L808.8,1133.3L815.1,1133.3L821.4,1133.3L827.8,1133.3L834.1,1133.3L840.4,1133.3L846.7,1133.3L853.0,1133.3L859.4,1133.3L865.7,1133.3L872.0,1133.3L873.2,1133.3L877.1,1128.0L878.3,1126.2L880.7,1122.8L883.8,1117.5L884.6,1115.8L886.1,1112.3L887.9,1107.0L889.4,1101.7L890.6,1096.5L891.0,1094.7L892.0,1091.2L893.3,1085.9L894.1,1080.7L894.6,1075.4L894.9,1070.2L895.1,1064.9L895.3,1059.6L895.3,1054.4L895.4,1049.1L895.4,1043.8L895.5,1038.6L895.5,1033.3L895.6,1028.1L895.7,1022.8L895.9,1017.5L896.0,1012.3L896.1,1007.0L896.2,1001.7L896.2,996.5L896.3,991.2L896.4,986.0L896.4,980.7L896.4,975.4L896.3,970.2L896.2,964.9L896.0,959.7L895.8,954.4L895.6,949.1L895.3,943.9L895.0,938.6L894.8,933.3L894.6,928.1L894.5,922.8L894.9,917.6L895.9,912.3L897.3,907.0L897.3,907.0L899.3,901.8L901.1,896.5L902.5,891.2L903.6,886.6L903.7,886.0L904.8,880.7L905.6,875.5L906.2,870.2L906.6,864.9L907.0,859.7L907.4,854.4L907.8,849.2L908.2,843.9L908.7,838.6L909.2,833.4L909.9,828.1L909.9,827.7L910.7,822.8L911.6,817.6L912.6,812.3L913.9,807.1L915.0,801.8L916.1,796.5L916.2,795.6L917.4,791.3L918.5,786.0L919.4,780.7L920.1,775.5L920.7,770.2L921.1,765.0L921.5,759.7L921.9,754.4L922.3,749.2L922.5,743.9L922.6,741.6L922.7,738.6L922.6,733.4L922.6,730.6L922.5,728.1L922.3,722.9L922.1,717.6L921.6,712.3L921.1,707.1L920.5,701.8L919.4,696.6L917.7,691.3L916.2,688.6L909.9,689.0L907.4,691.3L903.6,693.6L899.9,696.6L897.3,698.3L892.9,701.8L891.0,703.7L884.6,705.1L878.3,706.8L872.0,706.9L865.7,702.7L864.1,701.8L859.4,699.2L853.0,697.1L851.9,696.6L846.7,694.2L843.1,691.3L840.4,689.2L839.3,686.0L837.4,680.8L835.7,675.5L834.1,670.3L832.4,675.5L830.6,680.8L828.7,686.0L827.8,688.5L821.4,688.5L815.1,686.5L813.8,686.0L808.8,684.4L802.5,681.4L798.8,680.8L796.1,680.3L789.8,678.8L783.5,676.4L780.1,675.5L777.2,674.7L772.0,670.2L770.9,669.1L764.5,668.5L762.9,670.2L758.2,675.1L758.2,675.5L757.4,680.8L756.7,686.0L756.1,691.3L755.5,696.6L755.0,701.8L754.5,707.1L753.9,712.3L753.4,717.6L752.9,722.9L752.4,728.1L751.9,732.4L751.7,733.4L750.5,738.6L749.5,743.9L748.5,749.2L747.7,754.4L747.0,759.7L746.3,765.0L745.6,770.2L745.6,770.5L745.0,775.5L744.4,780.7L743.9,786.0L743.3,791.3L742.9,796.5L742.4,801.8L741.9,807.1L741.5,812.3L741.1,817.6L740.7,822.8L740.3,828.1L739.8,833.4L739.4,838.6L739.3,840.4L738.3,843.9L736.9,849.2L735.8,854.4L734.8,859.7L734.0,864.9L733.5,870.2L733.0,875.5L732.9,876.3L732.7,880.7L732.5,886.0L732.2,891.2L732.0,896.5L731.8,901.8L731.6,907.0L731.5,912.3L731.3,917.6L731.2,922.8L731.1,928.1L731.0,933.3L730.9,938.6L730.8,943.9L730.7,949.1L730.7,954.4L730.6,959.7L730.6,964.9L730.6,970.2L730.6,975.4L730.6,980.7L730.6,986.0L730.6,991.2L730.6,996.5L730.6,1001.7L730.6,1007.0L730.6,1012.3L730.6,1017.5L730.7,1022.8L730.7,1028.1L730.7,1033.3L730.7,1038.6L730.8,1043.8L730.8,1049.1L730.8,1054.4L730.9,1059.6L730.9,1064.9L731.0,1070.2L731.0,1075.4L731.1,1080.7L731.1,1085.9L731.2,1091.2L731.3,1096.5L731.4,1101.7L731.6,1107.0L731.7,1112.3L731.8,1117.5L732.0,1122.8L732.2,1128.0ZM952.9,1133.3L954.2,1133.3L960.5,1133.3L966.8,1133.3L973.1,1133.3L979.5,1133.3L985.8,1133.3L992.1,1133.3L998.4,1133.3L1004.7,1133.3L1011.1,1133.3L1017.4,1133.3L1023.7,1133.3L1030.0,1133.3L1036.3,1133.3L1042.7,1133.3L1049.0,1133.3L1055.3,1133.3L1061.6,1133.3L1067.9,1133.3L1074.3,1133.3L1080.6,1133.3L1080.9,1133.3L1080.9,1128.0L1080.9,1122.8L1081.0,1117.5L1081.0,1112.3L1081.1,1107.0L1081.2,1101.7L1081.3,1096.5L1081.4,1091.2L1081.5,1085.9L1081.7,1080.7L1081.8,1075.4L1082.0,1070.2L1082.1,1064.9L1082.2,1059.6L1082.4,1054.4L1082.6,1049.1L1082.7,1043.8L1082.9,1038.6L1083.2,1033.3L1083.4,1028.1L1083.7,1022.8L1084.0,1017.5L1084.3,1012.3L1084.7,1007.0L1085.0,1001.7L1085.4,996.5L1085.8,991.2L1086.2,986.0L1086.7,980.7L1086.9,977.7L1087.2,975.4L1087.8,970.2L1088.5,964.9L1089.1,959.7L1089.8,954.4L1090.5,949.1L1091.1,943.9L1091.8,938.6L1092.6,933.3L1093.2,929.0L1093.3,928.1L1094.0,922.8L1094.6,917.6L1095.4,912.3L1096.1,907.0L1096.9,901.8L1097.8,896.5L1098.7,891.2L1099.5,886.3L1099.6,886.0L1100.6,880.7L1101.7,875.5L1102.7,870.2L1103.7,864.9L1104.8,859.7L1105.8,854.4L1105.9,854.1L1107.1,849.2L1108.4,843.9L1109.7,838.6L1111.0,833.4L1112.2,828.2L1112.2,828.1L1112.9,822.8L1113.6,817.6L1114.3,812.3L1115.0,807.1L1115.6,801.8L1116.2,796.5L1116.9,791.3L1117.5,786.0L1118.1,780.7L1118.5,777.5L1118.7,775.5L1119.4,770.2L1120.0,765.0L1120.7,759.7L1121.4,754.4L1122.2,749.2L1122.9,743.9L1123.8,738.6L1124.7,733.4L1124.8,732.6L1125.5,728.1L1126.5,722.9L1127.7,717.6L1128.9,712.3L1130.0,707.1L1130.8,701.8L1131.2,697.8L1131.3,696.6L1131.5,691.3L1131.2,686.0L1131.2,685.8L1130.3,680.8L1129.0,675.5L1127.3,670.2L1125.3,665.0L1124.8,663.6L1122.9,659.7L1120.6,654.5L1118.5,649.8L1118.2,649.2L1115.7,643.9L1113.0,638.7L1112.2,637.0L1109.5,633.4L1105.9,628.8L1105.6,628.1L1103.0,622.9L1100.2,617.6L1099.5,616.5L1097.4,612.4L1094.3,607.1L1093.2,605.3L1090.2,601.8L1086.9,598.3L1084.9,596.6L1080.6,593.1L1078.7,591.3L1074.3,587.5L1072.3,586.1L1067.9,583.0L1062.3,580.8L1061.6,580.5L1055.3,580.7L1049.0,578.5L1042.7,575.9L1042.1,575.5L1036.3,572.7L1030.0,573.5L1023.7,573.1L1017.4,573.2L1011.1,574.1L1007.3,575.5L1004.7,576.6L998.9,580.8L998.4,581.2L993.8,586.1L992.1,587.8L989.3,591.3L985.8,595.5L984.8,596.6L979.9,601.8L979.5,602.3L974.3,607.1L973.1,608.2L966.8,608.8L960.5,609.4L957.5,612.4L954.2,615.8L953.3,617.6L950.4,622.9L947.8,627.8L947.7,628.1L945.9,633.4L944.4,638.7L943.1,643.9L942.2,649.2L941.5,653.5L941.3,654.5L940.3,659.7L939.5,665.0L938.9,670.2L938.6,675.5L938.3,680.8L938.0,686.0L937.9,691.3L937.9,696.6L937.9,701.8L938.1,707.1L938.3,712.3L938.7,717.6L939.1,722.9L939.7,728.1L940.4,733.4L941.2,738.6L941.5,740.6L941.8,743.9L942.3,749.2L942.9,754.4L943.4,759.7L943.9,765.0L944.3,770.2L944.7,775.5L945.1,780.7L945.5,786.0L945.9,791.3L946.3,796.5L946.7,801.8L947.1,807.1L947.5,812.3L947.8,817.1L947.9,817.6L948.2,822.8L948.5,828.1L948.8,833.4L949.1,838.6L949.4,843.9L949.6,849.2L949.9,854.4L950.1,859.7L950.4,864.9L950.6,870.2L950.8,875.5L951.0,880.7L951.2,886.0L951.4,891.2L951.5,896.5L951.7,901.8L951.8,907.0L951.9,912.3L952.0,917.6L952.1,922.8L952.1,928.1L952.2,933.3L952.2,938.6L952.3,943.9L952.3,949.1L952.4,954.4L952.4,959.7L952.4,964.9L952.5,970.2L952.5,975.4L952.5,980.7L952.5,986.0L952.5,991.2L952.5,996.5L952.5,1001.7L952.5,1007.0L952.5,1012.3L952.5,1017.5L952.5,1022.8L952.6,1028.1L952.6,1033.3L952.6,1038.6L952.7,1043.8L952.7,1049.1L952.7,1054.4L952.8,1059.6L952.8,1064.9L952.8,1070.2L952.8,1075.4L952.8,1080.7L952.8,1085.9L952.9,1091.2L952.9,1096.5L952.9,1101.7L952.9,1107.0L952.9,1112.3L952.9,1117.5L952.9,1122.8L952.9,1128.0Z"/>
<path id="cz12" d="M735.9,1133.3L739.3,1133.3L745.6,1133.3L751.9,1133.3L758.2,1133.3L764.5,1133.3L770.9,1133.3L777.2,1133.3L783.5,1133.3L789.8,1133.3L796.1,1133.3L802.5,1133.3L808.8,1133.3L815.1,1133.3L821.4,1133.3L827.8,1133.3L834.1,1133.3L840.4,1133.3L846.7,1133.3L853.0,1133.3L859.4,1133.3L859.5,1133.3L861.6,1128.0L863.4,1122.8L865.0,1117.5L865.7,1115.2L866.6,1112.3L868.2,1107.0L869.6,1101.7L870.8,1096.5L872.0,1091.2L872.0,1091.1L873.8,1085.9L875.5,1080.7L877.1,1075.4L878.3,1071.3L878.6,1070.2L879.8,1064.9L880.9,1059.6L881.7,1054.4L882.5,1049.1L883.1,1043.8L883.5,1038.6L883.9,1033.3L884.1,1028.1L884.2,1022.8L884.3,1017.5L884.4,1012.3L884.5,1007.0L884.6,1001.7L884.6,999.7L884.7,996.5L884.8,991.2L884.8,986.0L884.9,980.7L884.9,975.4L884.9,970.2L884.9,964.9L884.8,959.7L884.7,954.4L884.6,950.5L884.6,949.1L884.5,943.9L884.5,938.6L884.4,933.3L884.5,928.1L884.5,922.8L884.6,921.2L884.8,917.6L885.5,912.3L886.4,907.0L887.5,901.8L888.8,896.5L890.1,891.2L891.0,887.9L891.6,886.0L893.1,880.7L894.2,875.5L895.0,870.2L895.5,864.9L895.9,859.7L896.3,854.4L896.6,849.2L896.9,843.9L897.2,838.6L897.3,836.7L897.5,833.4L898.0,828.1L898.5,822.8L899.2,817.6L900.4,812.3L902.1,807.1L903.6,803.2L904.1,801.8L906.1,796.5L907.9,791.3L909.3,786.0L909.9,783.2L910.4,780.7L911.3,775.5L912.0,770.2L912.4,765.0L912.8,759.7L913.2,754.4L913.6,749.2L913.9,743.9L914.0,738.6L913.9,733.4L913.4,728.1L912.7,722.9L911.5,717.6L909.9,712.7L909.6,712.3L903.6,708.7L899.6,712.3L897.3,714.7L894.6,717.6L891.0,721.1L884.6,722.1L881.5,722.9L878.3,723.7L872.0,723.9L870.6,722.9L865.7,719.6L861.9,717.6L859.4,716.2L853.0,713.9L850.3,712.3L846.7,710.4L842.8,707.1L840.4,705.1L839.1,701.8L837.3,696.6L835.4,691.3L834.1,687.3L832.6,691.3L830.8,696.6L828.8,701.8L827.8,704.2L821.4,704.0L815.1,702.2L813.9,701.8L808.8,700.2L802.5,697.2L798.8,696.6L796.1,696.1L789.8,694.6L783.5,692.6L777.2,691.6L776.9,691.3L770.9,686.2L768.4,686.0L764.5,685.7L764.3,686.0L760.0,691.3L758.2,693.8L757.9,696.6L757.2,701.8L756.6,707.1L756.0,712.3L755.5,717.6L755.0,722.9L754.6,728.1L754.2,733.4L753.6,738.6L752.9,743.9L752.0,749.2L751.9,749.9L751.0,754.4L750.2,759.7L749.4,765.0L748.6,770.2L747.9,775.5L747.3,780.7L746.7,786.0L746.1,791.3L745.6,795.8L745.5,796.5L745.0,801.8L744.5,807.1L744.0,812.3L743.5,817.6L743.1,822.8L742.6,828.1L742.2,833.4L741.7,838.6L741.3,843.9L740.9,849.2L740.4,854.4L740.1,859.7L739.7,864.9L739.4,870.2L739.3,872.0L738.7,875.5L738.0,880.7L737.4,886.0L736.8,891.2L736.3,896.5L735.9,901.8L735.5,907.0L735.2,912.3L734.9,917.6L734.6,922.8L734.4,928.1L734.2,933.3L734.0,938.6L733.8,943.9L733.7,949.1L733.5,954.4L733.4,959.7L733.4,964.9L733.3,970.2L733.3,975.4L733.3,980.7L733.3,986.0L733.3,991.2L733.3,996.5L733.3,1001.7L733.3,1007.0L733.3,1012.3L733.4,1017.5L733.4,1022.8L733.4,1028.1L733.5,1033.3L733.5,1038.6L733.6,1043.8L733.6,1049.1L733.6,1054.4L733.7,1059.6L733.8,1064.9L733.8,1070.2L733.9,1075.4L734.0,1080.7L734.1,1085.9L734.2,1091.2L734.3,1096.5L734.5,1101.7L734.7,1107.0L734.9,1112.3L735.2,1117.5L735.4,1122.8L735.6,1128.0ZM959.9,1133.3L960.5,1133.3L966.8,1133.3L973.1,1133.3L979.5,1133.3L985.8,1133.3L992.1,1133.3L998.4,1133.3L1004.7,1133.3L1011.1,1133.3L1017.4,1133.3L1023.7,1133.3L1030.0,1133.3L1036.3,1133.3L1042.7,1133.3L1049.0,1133.3L1055.3,1133.3L1061.6,1133.3L1067.9,1133.3L1073.4,1133.3L1073.4,1128.0L1073.4,1122.8L1073.4,1117.5L1073.4,1112.3L1073.5,1107.0L1073.5,1101.7L1073.5,1096.5L1073.6,1091.2L1073.6,1085.9L1073.7,1080.7L1073.7,1075.4L1073.8,1070.2L1073.8,1064.9L1073.9,1059.6L1073.9,1054.4L1074.0,1049.1L1074.0,1043.8L1074.1,1038.6L1074.2,1033.3L1074.3,1030.4L1074.3,1028.1L1074.4,1022.8L1074.6,1017.5L1074.7,1012.3L1074.9,1007.0L1075.0,1001.7L1075.2,996.5L1075.4,991.2L1075.5,986.0L1075.7,980.7L1075.9,975.4L1076.1,970.2L1076.4,964.9L1076.6,959.7L1076.8,954.4L1077.1,949.1L1077.3,943.9L1077.6,938.6L1077.9,933.3L1078.3,928.1L1078.7,922.8L1079.2,917.6L1079.6,912.3L1080.0,907.0L1080.5,901.8L1080.6,900.3L1081.2,896.5L1082.1,891.2L1083.0,886.0L1083.9,880.7L1084.8,875.5L1085.8,870.2L1086.8,864.9L1086.9,864.3L1088.1,859.7L1089.4,854.4L1090.8,849.2L1092.1,843.9L1093.2,839.4L1093.4,838.6L1094.3,833.4L1095.2,828.1L1096.1,822.8L1097.0,817.6L1097.8,812.3L1098.6,807.1L1099.4,801.8L1099.5,800.6L1100.2,796.5L1101.0,791.3L1101.7,786.0L1102.5,780.7L1103.2,775.5L1103.9,770.2L1104.7,765.0L1105.4,759.7L1105.9,756.2L1106.2,754.4L1107.4,749.2L1108.6,743.9L1109.8,738.6L1111.1,733.4L1112.2,729.5L1112.4,728.1L1113.5,722.9L1114.9,717.6L1116.7,712.3L1118.5,707.3L1118.6,707.1L1120.2,701.8L1121.3,696.6L1121.8,691.3L1121.5,686.0L1120.2,680.8L1118.5,676.6L1118.0,675.5L1115.3,670.2L1112.3,665.0L1112.2,664.8L1108.5,659.7L1105.9,655.8L1105.3,654.5L1103.1,649.2L1100.9,643.9L1099.5,640.9L1098.7,638.7L1096.7,633.4L1094.6,628.1L1093.2,625.2L1091.7,622.9L1087.5,617.6L1086.9,617.0L1081.3,612.4L1080.6,611.8L1076.0,607.1L1074.3,605.3L1070.6,601.8L1067.9,599.5L1062.5,596.6L1061.6,596.1L1055.3,595.9L1049.0,593.5L1044.0,591.3L1042.7,590.7L1036.3,587.3L1030.0,588.2L1023.7,587.8L1017.4,588.1L1011.1,589.4L1007.0,591.3L1004.7,592.3L998.4,596.3L998.0,596.6L992.2,601.8L992.1,602.0L988.3,607.1L985.8,610.6L984.2,612.4L979.9,617.6L979.5,618.2L974.9,622.9L973.1,624.7L966.8,625.0L960.5,625.3L957.1,628.1L954.2,631.9L953.6,633.4L952.7,638.7L951.9,643.9L951.2,649.2L950.5,654.5L949.9,659.7L949.4,665.0L948.9,670.2L948.6,675.5L948.4,680.8L948.2,686.0L948.2,691.3L948.3,696.6L948.4,701.8L948.6,707.1L949.0,712.3L949.4,717.6L949.9,722.9L950.5,728.1L951.1,733.4L951.8,738.6L952.4,743.9L953.0,749.2L953.4,754.4L953.8,759.7L954.2,765.0L954.2,765.1L954.4,770.2L954.6,775.5L954.9,780.7L955.1,786.0L955.3,791.3L955.5,796.5L955.8,801.8L956.0,807.1L956.1,812.3L956.3,817.6L956.5,822.8L956.7,828.1L956.8,833.4L957.0,838.6L957.1,843.9L957.3,849.2L957.4,854.4L957.6,859.7L957.7,864.9L957.9,870.2L958.0,875.5L958.2,880.7L958.3,886.0L958.4,891.2L958.5,896.5L958.6,901.8L958.7,907.0L958.8,912.3L958.9,917.6L958.9,922.8L959.0,928.1L959.1,933.3L959.1,938.6L959.2,943.9L959.2,949.1L959.3,954.4L959.3,959.7L959.3,964.9L959.4,970.2L959.4,975.4L959.5,980.7L959.5,986.0L959.6,991.2L959.7,996.5L959.8,1001.7L959.8,1007.0L959.9,1012.3L960.0,1017.5L960.0,1022.8L960.1,1028.1L960.1,1033.3L960.1,1038.6L960.1,1043.8L960.1,1049.1L960.1,1054.4L960.1,1059.6L960.1,1064.9L960.1,1070.2L960.1,1075.4L960.1,1080.7L960.1,1085.9L960.1,1091.2L960.0,1096.5L960.0,1101.7L960.0,1107.0L960.0,1112.3L959.9,1117.5L959.9,1122.8L959.9,1128.0Z"/>
<path id="cz13" d="M739.6,1133.3L745.6,1133.3L751.9,1133.3L758.2,1133.3L764.5,1133.3L770.9,1133.3L777.2,1133.3L783.5,1133.3L789.8,1133.3L796.1,1133.3L802.5,1133.3L808.8,1133.3L815.1,1133.3L821.4,1133.3L827.8,1133.3L834.1,1133.3L840.4,1133.3L846.7,1133.3L847.1,1133.3L849.6,1128.0L852.1,1122.8L853.0,1120.6L854.4,1117.5L856.4,1112.3L858.2,1107.0L859.4,1103.4L859.8,1101.7L861.0,1096.5L862.1,1091.2L863.0,1085.9L863.9,1080.7L864.6,1075.4L865.3,1070.2L865.7,1066.8L866.0,1064.9L866.8,1059.6L867.6,1054.4L868.4,1049.1L869.2,1043.8L869.9,1038.6L870.5,1033.3L871.1,1028.1L871.5,1022.8L871.9,1017.5L872.0,1015.4L872.3,1012.3L872.7,1007.0L873.1,1001.7L873.4,996.5L873.6,991.2L873.9,986.0L874.1,980.7L874.4,975.4L874.6,970.2L874.8,964.9L875.0,959.7L875.2,954.4L875.4,949.1L875.6,943.9L875.8,938.6L876.1,933.3L876.4,928.1L876.7,922.8L877.2,917.6L878.0,912.3L878.3,910.5L878.8,907.0L879.6,901.8L880.6,896.5L881.7,891.2L882.8,886.0L883.9,880.7L884.6,876.9L884.9,875.5L885.6,870.2L886.0,864.9L886.4,859.7L886.7,854.4L886.9,849.2L887.2,843.9L887.4,838.6L887.7,833.4L888.1,828.1L888.5,822.8L889.1,817.6L890.1,812.3L891.0,809.7L891.8,807.1L894.1,801.8L896.6,796.5L897.3,795.3L899.1,791.3L901.2,786.0L902.8,780.7L903.6,777.6L904.1,775.5L904.8,770.2L905.1,765.0L905.2,759.7L905.3,754.4L905.5,749.2L905.7,743.9L905.5,738.6L904.3,733.4L903.6,731.7L900.7,733.4L897.3,734.9L891.0,737.0L884.6,738.5L884.2,738.6L878.3,740.3L872.0,739.8L869.8,738.6L865.7,736.0L859.9,733.4L859.4,733.1L853.0,730.5L849.8,728.1L846.7,725.7L844.4,722.9L840.4,718.6L839.9,717.6L837.3,712.3L835.1,707.1L834.1,704.1L832.9,707.1L830.5,712.3L827.8,717.4L821.4,717.2L815.1,715.5L808.8,714.8L802.5,713.1L796.1,712.4L795.8,712.3L789.8,711.3L783.5,709.5L777.2,708.4L775.6,707.1L770.9,703.1L764.5,702.5L761.4,707.1L758.2,711.5L758.1,712.3L757.5,717.6L757.0,722.9L756.9,728.1L756.7,733.4L756.3,738.6L755.7,743.9L754.9,749.2L754.1,754.4L753.2,759.7L752.4,765.0L751.9,768.5L751.6,770.2L750.9,775.5L750.1,780.7L749.4,786.0L748.8,791.3L748.2,796.5L747.6,801.8L747.0,807.1L746.5,812.3L746.0,817.6L745.6,821.8L745.5,822.8L745.0,828.1L744.5,833.4L744.1,838.6L743.6,843.9L743.2,849.2L742.7,854.4L742.3,859.7L742.0,864.9L741.6,870.2L741.3,875.5L741.0,880.7L740.7,886.0L740.4,891.2L740.1,896.5L739.8,901.8L739.6,907.0L739.4,912.3L739.3,915.3L739.1,917.6L738.9,922.8L738.7,928.1L738.5,933.3L738.3,938.6L738.1,943.9L737.9,949.1L737.7,954.4L737.6,959.7L737.5,964.9L737.4,970.2L737.3,975.4L737.2,980.7L737.1,986.0L737.1,991.2L737.0,996.5L737.0,1001.7L737.0,1007.0L736.9,1012.3L736.9,1017.5L736.9,1022.8L736.9,1028.1L737.0,1033.3L737.0,1038.6L737.0,1043.8L737.1,1049.1L737.1,1054.4L737.2,1059.6L737.3,1064.9L737.4,1070.2L737.5,1075.4L737.6,1080.7L737.7,1085.9L737.9,1091.2L738.0,1096.5L738.2,1101.7L738.4,1107.0L738.6,1112.3L738.9,1117.5L739.1,1122.8L739.3,1125.8L739.3,1128.0ZM967.9,1133.3L973.1,1133.3L979.5,1133.3L985.8,1133.3L992.1,1133.3L998.4,1133.3L1004.7,1133.3L1011.1,1133.3L1017.4,1133.3L1023.7,1133.3L1030.0,1133.3L1036.3,1133.3L1042.7,1133.3L1049.0,1133.3L1055.3,1133.3L1061.6,1133.3L1067.2,1133.3L1067.2,1128.0L1067.2,1122.8L1067.2,1117.5L1067.2,1112.3L1067.2,1107.0L1067.3,1101.7L1067.3,1096.5L1067.3,1091.2L1067.3,1085.9L1067.4,1080.7L1067.4,1075.4L1067.5,1070.2L1067.5,1064.9L1067.5,1059.6L1067.6,1054.4L1067.6,1049.1L1067.7,1043.8L1067.7,1038.6L1067.8,1033.3L1067.9,1028.1L1067.9,1022.8L1067.9,1022.8L1068.0,1017.5L1068.1,1012.3L1068.2,1007.0L1068.2,1001.7L1068.3,996.5L1068.4,991.2L1068.5,986.0L1068.6,980.7L1068.7,975.4L1068.8,970.2L1069.0,964.9L1069.1,959.7L1069.2,954.4L1069.3,949.1L1069.5,943.9L1069.7,938.6L1070.0,933.3L1070.4,928.1L1070.9,922.8L1071.4,917.6L1071.9,912.3L1072.4,907.0L1072.8,901.8L1073.3,896.5L1073.7,891.2L1074.1,886.0L1074.3,883.5L1074.5,880.7L1075.0,875.5L1075.5,870.2L1075.9,864.9L1076.4,859.7L1076.9,854.4L1077.5,849.2L1078.0,843.9L1078.5,838.6L1079.1,833.4L1079.6,828.1L1080.2,822.8L1080.6,819.0L1080.9,817.6L1081.9,812.3L1082.9,807.1L1084.0,801.8L1085.1,796.5L1086.2,791.3L1086.9,788.0L1087.4,786.0L1088.6,780.7L1089.7,775.5L1090.9,770.2L1092.0,765.0L1093.0,759.7L1093.2,758.6L1093.8,754.4L1094.6,749.2L1095.4,743.9L1096.1,738.6L1096.9,733.4L1097.7,728.1L1098.4,722.9L1099.5,717.6L1099.5,717.4L1101.3,712.3L1103.3,707.1L1105.3,701.8L1105.9,700.0L1107.2,696.6L1108.1,691.3L1107.4,686.0L1105.9,682.8L1105.3,680.8L1103.1,675.5L1100.7,670.2L1099.5,667.9L1098.4,665.0L1096.5,659.7L1094.7,654.5L1093.2,650.1L1092.8,649.2L1090.5,643.9L1088.0,638.7L1086.9,636.7L1084.4,633.4L1080.6,629.0L1079.9,628.1L1075.0,622.9L1074.3,622.1L1069.1,617.6L1067.9,616.6L1061.6,612.9L1056.9,612.4L1055.3,612.2L1049.0,609.1L1045.3,607.1L1042.7,605.8L1036.3,602.1L1030.0,602.9L1023.7,602.4L1017.4,602.5L1011.1,603.2L1004.7,605.6L1002.5,607.1L998.4,610.1L996.4,612.4L992.1,617.5L992.0,617.6L988.7,622.9L985.8,627.9L985.6,628.1L981.7,633.4L979.5,636.7L977.9,638.7L974.4,643.9L973.1,646.3L968.9,649.2L966.8,651.1L963.9,654.5L960.8,659.7L960.5,660.4L959.5,665.0L958.7,670.2L958.0,675.5L957.6,680.8L957.3,686.0L957.1,691.3L956.9,696.6L956.8,701.8L956.8,707.1L957.0,712.3L957.3,717.6L957.7,722.9L958.2,728.1L958.7,733.4L959.2,738.6L959.7,743.9L960.1,749.2L960.4,754.4L960.5,756.5L960.6,759.7L960.9,765.0L961.1,770.2L961.4,775.5L961.6,780.7L961.9,786.0L962.1,791.3L962.4,796.5L962.6,801.8L962.9,807.1L963.1,812.3L963.3,817.6L963.5,822.8L963.7,828.1L963.9,833.4L964.1,838.6L964.3,843.9L964.5,849.2L964.7,854.4L964.9,859.7L965.2,864.9L965.4,870.2L965.6,875.5L965.8,880.7L966.0,886.0L966.1,891.2L966.3,896.5L966.4,901.8L966.6,907.0L966.7,912.3L966.8,917.6L966.8,921.9L966.8,922.8L966.9,928.1L966.9,933.3L967.0,938.6L967.0,943.9L967.0,949.1L967.1,954.4L967.1,959.7L967.2,964.9L967.2,970.2L967.3,975.4L967.3,980.7L967.4,986.0L967.5,991.2L967.6,996.5L967.7,1001.7L967.8,1007.0L967.9,1012.3L968.0,1017.5L968.0,1022.8L968.1,1028.1L968.1,1033.3L968.1,1038.6L968.1,1043.8L968.2,1049.1L968.2,1054.4L968.2,1059.6L968.2,1064.9L968.2,1070.2L968.2,1075.4L968.2,1080.7L968.1,1085.9L968.1,1091.2L968.1,1096.5L968.1,1101.7L968.1,1107.0L968.1,1112.3L968.0,1117.5L968.0,1122.8L968.0,1128.0Z"/>
<path id="cz14" d="M742.9,1133.3L745.6,1133.3L751.9,1133.3L758.2,1133.3L764.5,1133.3L770.9,1133.3L777.2,1133.3L783.5,1133.3L789.8,1133.3L796.1,1133.3L802.5,1133.3L808.8,1133.3L815.1,1133.3L821.4,1133.3L827.8,1133.3L834.1,1133.3L835.2,1133.3L837.0,1128.0L839.8,1122.8L840.4,1121.9L842.1,1117.5L844.3,1112.3L846.7,1107.0L846.7,1106.9L848.7,1101.7L850.6,1096.5L852.5,1091.2L853.0,1089.4L853.9,1085.9L855.0,1080.7L856.0,1075.4L856.9,1070.2L857.7,1064.9L858.4,1059.6L859.1,1054.4L859.4,1052.0L859.7,1049.1L860.2,1043.8L860.6,1038.6L861.1,1033.3L861.6,1028.1L862.0,1022.8L862.4,1017.5L862.8,1012.3L863.2,1007.0L863.6,1001.7L864.0,996.5L864.4,991.2L864.8,986.0L865.2,980.7L865.5,975.4L865.7,972.3L865.8,970.2L866.0,964.9L866.2,959.7L866.4,954.4L866.6,949.1L866.8,943.9L867.0,938.6L867.3,933.3L867.5,928.1L867.8,922.8L868.3,917.6L868.8,912.3L869.6,907.0L870.3,901.8L871.2,896.5L872.0,891.2L872.0,891.2L873.1,886.0L874.1,880.7L875.0,875.5L875.6,870.2L876.1,864.9L876.4,859.7L876.8,854.4L877.0,849.2L877.3,843.9L877.5,838.6L877.8,833.4L878.0,828.1L878.3,823.6L878.4,822.8L878.8,817.6L879.6,812.3L880.9,807.1L882.8,801.8L884.6,798.4L885.6,796.5L888.7,791.3L891.0,788.0L892.0,786.0L894.4,780.7L896.3,775.5L897.3,771.6L897.5,770.2L897.9,765.0L897.3,761.8L896.6,759.7L892.8,754.4L891.0,752.7L884.6,749.5L882.5,749.2L878.3,748.8L872.0,749.0L865.7,747.0L859.4,744.7L856.7,743.9L853.0,742.9L848.6,738.6L846.7,737.3L841.9,733.4L840.4,731.7L837.7,728.1L835.0,722.9L834.1,720.9L833.1,722.9L830.5,728.1L827.8,732.1L821.4,732.0L815.1,730.9L808.8,731.4L802.5,730.6L796.1,729.7L789.8,728.2L789.4,728.1L783.5,726.3L777.2,725.2L774.4,722.9L770.9,719.9L764.5,719.4L762.4,722.9L760.8,728.1L760.1,733.4L759.5,738.6L758.7,743.9L758.2,746.1L757.8,749.2L757.0,754.4L756.2,759.7L755.4,765.0L754.6,770.2L753.8,775.5L753.0,780.7L752.2,786.0L751.9,788.3L751.5,791.3L750.8,796.5L750.2,801.8L749.6,807.1L749.1,812.3L748.5,817.6L748.0,822.8L747.5,828.1L747.0,833.4L746.5,838.6L745.9,843.9L745.6,847.6L745.4,849.2L745.0,854.4L744.6,859.7L744.2,864.9L743.9,870.2L743.5,875.5L743.2,880.7L742.9,886.0L742.6,891.2L742.3,896.5L742.0,901.8L741.8,907.0L741.6,912.3L741.4,917.6L741.3,922.8L741.2,928.1L741.0,933.3L740.9,938.6L740.8,943.9L740.8,949.1L740.7,954.4L740.6,959.7L740.5,964.9L740.4,970.2L740.4,975.4L740.3,980.7L740.3,986.0L740.2,991.2L740.2,996.5L740.1,1001.7L740.1,1007.0L740.1,1012.3L740.1,1017.5L740.0,1022.8L740.0,1028.1L740.1,1033.3L740.1,1038.6L740.1,1043.8L740.2,1049.1L740.2,1054.4L740.3,1059.6L740.4,1064.9L740.5,1070.2L740.6,1075.4L740.7,1080.7L740.9,1085.9L741.0,1091.2L741.2,1096.5L741.4,1101.7L741.6,1107.0L741.8,1112.3L742.0,1117.5L742.3,1122.8L742.6,1128.0ZM978.6,1133.3L979.5,1133.3L985.8,1133.3L992.1,1133.3L998.4,1133.3L1004.7,1133.3L1011.1,1133.3L1017.4,1133.3L1023.7,1133.3L1030.0,1133.3L1036.3,1133.3L1042.7,1133.3L1049.0,1133.3L1055.3,1133.3L1056.2,1133.3L1056.2,1128.0L1056.2,1122.8L1056.3,1117.5L1056.3,1112.3L1056.3,1107.0L1056.3,1101.7L1056.3,1096.5L1056.3,1091.2L1056.4,1085.9L1056.4,1080.7L1056.4,1075.4L1056.4,1070.2L1056.5,1064.9L1056.5,1059.6L1056.6,1054.4L1056.6,1049.1L1056.7,1043.8L1056.7,1038.6L1056.8,1033.3L1056.9,1028.1L1056.9,1022.8L1057.0,1017.5L1057.1,1012.3L1057.2,1007.0L1057.3,1001.7L1057.4,996.5L1057.5,991.2L1057.6,986.0L1057.8,980.7L1057.9,975.4L1058.0,970.2L1058.2,964.9L1058.3,959.7L1058.5,954.4L1058.6,949.1L1058.7,943.9L1059.2,938.6L1060.3,933.3L1061.6,929.2L1061.8,928.1L1062.5,922.8L1063.3,917.6L1064.2,912.3L1064.9,907.0L1065.7,901.8L1066.3,896.5L1066.9,891.2L1067.3,886.0L1067.8,880.7L1067.9,878.7L1068.2,875.5L1068.5,870.2L1068.9,864.9L1069.2,859.7L1069.6,854.4L1069.9,849.2L1070.3,843.9L1070.6,838.6L1071.0,833.4L1071.4,828.1L1071.8,822.8L1072.2,817.6L1072.6,812.3L1073.0,807.1L1073.4,801.8L1073.9,796.5L1074.3,793.4L1074.5,791.3L1075.1,786.0L1075.7,780.7L1076.4,775.5L1077.1,770.2L1077.8,765.0L1078.6,759.7L1079.4,754.4L1080.2,749.2L1080.6,746.7L1081.2,743.9L1082.3,738.6L1083.5,733.4L1084.6,728.1L1085.6,722.9L1086.8,717.6L1086.9,717.0L1088.1,712.3L1089.7,707.1L1091.5,701.8L1093.2,696.6L1093.2,696.5L1094.0,691.3L1094.0,686.0L1093.4,680.8L1093.2,679.8L1092.0,675.5L1090.1,670.2L1087.7,665.0L1086.9,663.2L1085.1,659.7L1082.4,654.5L1080.6,651.2L1079.6,649.2L1076.9,643.9L1074.3,640.0L1073.2,638.7L1068.0,633.4L1067.9,633.3L1061.6,629.7L1055.3,629.0L1053.4,628.1L1049.0,625.9L1044.2,622.9L1042.7,621.9L1037.1,617.6L1036.3,617.1L1031.2,617.6L1030.0,617.8L1028.4,617.6L1023.7,617.3L1017.4,617.4L1016.0,617.6L1011.1,618.5L1004.7,621.5L1003.1,622.9L998.4,627.0L997.5,628.1L993.7,633.4L992.1,635.5L990.2,638.7L987.2,643.9L985.8,646.4L984.1,649.2L981.2,654.5L979.5,657.7L978.4,659.7L975.7,665.0L973.2,670.2L973.1,670.4L970.5,675.5L969.0,680.8L968.2,686.0L967.4,691.3L966.8,695.7L966.7,696.6L966.1,701.8L965.7,707.1L965.5,712.3L965.4,717.6L965.5,722.9L965.6,728.1L965.8,733.4L966.1,738.6L966.4,743.9L966.6,749.2L966.8,753.6L966.8,754.4L967.1,759.7L967.3,765.0L967.6,770.2L967.9,775.5L968.3,780.7L968.6,786.0L969.0,791.3L969.3,796.5L969.6,801.8L970.0,807.1L970.3,812.3L970.5,817.6L970.8,822.8L971.1,828.1L971.4,833.4L971.7,838.6L972.0,843.9L972.3,849.2L972.7,854.4L973.0,859.7L973.1,860.9L973.5,864.9L973.9,870.2L974.3,875.5L974.7,880.7L975.0,886.0L975.4,891.2L975.7,896.5L975.9,901.8L976.2,907.0L976.4,912.3L976.5,917.6L976.6,922.8L976.7,928.1L976.8,933.3L976.8,938.6L976.9,943.9L977.0,949.1L977.0,954.4L977.1,959.7L977.2,964.9L977.3,970.2L977.4,975.4L977.4,980.7L977.5,986.0L977.6,991.2L977.7,996.5L977.8,1001.7L977.8,1007.0L977.9,1012.3L978.0,1017.5L978.0,1022.8L978.1,1028.1L978.1,1033.3L978.2,1038.6L978.2,1043.8L978.3,1049.1L978.3,1054.4L978.4,1059.6L978.4,1064.9L978.4,1070.2L978.5,1075.4L978.5,1080.7L978.5,1085.9L978.5,1091.2L978.6,1096.5L978.6,1101.7L978.6,1107.0L978.6,1112.3L978.6,1117.5L978.6,1122.8L978.6,1128.0Z"/>
<path id="cz15" d="M746.9,1133.3L751.9,1133.3L758.2,1133.3L764.5,1133.3L770.9,1133.3L777.2,1133.3L783.5,1133.3L789.8,1133.3L792.3,1133.3L793.5,1128.0L794.7,1122.8L796.1,1117.5L796.1,1117.2L798.2,1112.3L800.5,1107.0L802.5,1102.6L808.8,1103.4L813.6,1107.0L815.1,1108.2L818.2,1107.0L821.4,1105.8L827.8,1103.7L828.7,1101.7L831.3,1096.5L833.9,1091.2L834.1,1090.9L840.4,1086.2L840.5,1085.9L842.3,1080.7L843.8,1075.4L845.1,1070.2L846.2,1064.9L846.7,1062.2L847.2,1059.6L848.2,1054.4L849.3,1049.1L850.3,1043.8L851.3,1038.6L852.2,1033.3L853.0,1028.2L853.0,1028.1L853.6,1022.8L854.0,1017.5L854.4,1012.3L854.8,1007.0L855.2,1001.7L855.6,996.5L855.9,991.2L856.3,986.0L856.7,980.7L857.1,975.4L857.6,970.2L858.0,964.9L858.4,959.7L858.7,954.4L859.1,949.1L859.4,945.6L859.5,943.9L859.9,938.6L860.2,933.3L860.6,928.1L861.0,922.8L861.5,917.6L862.1,912.3L862.7,907.0L863.4,901.8L864.1,896.5L864.8,891.2L865.4,886.0L865.7,883.1L866.0,880.7L866.6,875.5L867.0,870.2L867.4,864.9L867.7,859.7L868.0,854.4L868.3,849.2L868.5,843.9L868.7,838.6L869.0,833.4L869.1,828.1L869.3,822.8L869.4,817.6L869.6,812.3L869.8,807.1L870.0,801.8L870.2,796.5L870.5,791.3L870.7,786.0L870.9,780.7L870.9,775.5L869.7,770.2L865.7,766.1L864.9,765.0L859.4,761.2L856.2,759.7L853.0,758.6L848.1,754.4L846.7,752.6L844.8,749.2L842.0,743.9L840.4,742.4L834.1,741.9L827.8,743.8L826.3,743.9L821.4,745.1L815.1,744.8L808.8,746.5L802.5,745.3L796.1,744.0L795.8,743.9L789.8,742.9L783.5,741.7L777.2,742.2L773.8,738.6L770.9,735.6L764.5,735.1L763.8,738.6L763.1,743.9L762.4,749.2L761.5,754.4L760.3,759.7L758.5,765.0L758.2,765.5L757.5,770.2L756.6,775.5L755.7,780.7L754.9,786.0L754.2,791.3L753.5,796.5L752.8,801.8L752.2,807.1L751.9,809.7L751.6,812.3L751.1,817.6L750.6,822.8L750.1,828.1L749.6,833.4L749.1,838.6L748.6,843.9L748.1,849.2L747.6,854.4L747.1,859.7L746.7,864.9L746.3,870.2L745.8,875.5L745.6,878.7L745.4,880.7L745.1,886.0L744.8,891.2L744.5,896.5L744.2,901.8L744.0,907.0L743.8,912.3L743.6,917.6L743.5,922.8L743.4,928.1L743.2,933.3L743.1,938.6L743.0,943.9L743.0,949.1L742.9,954.4L742.8,959.7L742.7,964.9L742.7,970.2L742.6,975.4L742.5,980.7L742.5,986.0L742.5,991.2L742.4,996.5L742.4,1001.7L742.4,1007.0L742.4,1012.3L742.4,1017.5L742.4,1022.8L742.4,1028.1L742.4,1033.3L742.4,1038.6L742.5,1043.8L742.6,1049.1L742.7,1054.4L742.8,1059.6L742.9,1064.9L743.1,1070.2L743.2,1075.4L743.4,1080.7L743.6,1085.9L743.8,1091.2L744.0,1096.5L744.3,1101.7L744.5,1107.0L744.8,1112.3L745.1,1117.5L745.5,1122.8L745.6,1124.0L746.1,1128.0ZM1035.9,901.8L1036.3,902.9L1036.7,901.8L1038.5,896.5L1040.3,891.2L1041.9,886.0L1042.7,883.5L1044.9,880.7L1049.0,876.1L1049.6,875.5L1055.1,870.2L1055.3,870.0L1056.4,864.9L1057.5,859.7L1058.7,854.4L1059.9,849.2L1061.2,843.9L1061.6,842.0L1061.8,838.6L1062.1,833.4L1062.4,828.1L1062.7,822.8L1062.9,817.6L1063.2,812.3L1063.5,807.1L1063.8,801.8L1064.1,796.5L1064.5,791.3L1064.9,786.0L1065.3,780.7L1065.8,775.5L1066.3,770.2L1066.9,765.0L1067.6,759.7L1067.9,756.8L1068.2,754.4L1068.7,749.2L1069.3,743.9L1069.9,738.6L1070.5,733.4L1071.4,728.1L1072.4,722.9L1073.5,717.6L1074.3,714.0L1074.6,712.3L1075.6,707.1L1076.4,701.8L1077.1,696.6L1077.7,691.3L1078.1,686.0L1078.3,680.8L1077.9,675.5L1076.8,670.2L1075.3,665.0L1074.3,661.9L1073.5,659.7L1070.8,654.5L1067.9,650.2L1066.8,649.2L1061.6,644.7L1056.5,643.9L1055.3,643.8L1049.0,641.6L1042.7,639.2L1041.8,638.7L1036.3,635.5L1030.0,636.8L1023.7,636.1L1017.4,636.1L1011.1,637.0L1007.6,638.7L1004.7,640.0L1000.1,643.9L998.4,645.3L995.4,649.2L992.1,653.9L991.8,654.5L989.5,659.7L987.1,665.0L985.8,667.6L984.3,670.2L981.7,675.5L979.9,680.8L979.5,682.9L979.0,686.0L978.2,691.3L977.5,696.6L976.9,701.8L976.3,707.1L975.7,712.3L975.2,717.6L974.7,722.9L974.4,728.1L974.2,733.4L974.2,738.6L974.3,743.9L974.5,749.2L974.7,754.4L975.0,759.7L975.4,765.0L975.8,770.2L976.2,775.5L976.7,780.7L977.2,786.0L977.6,791.3L978.1,796.5L978.6,801.8L979.0,807.1L979.4,812.3L979.5,812.9L980.9,817.6L982.4,822.8L983.8,828.1L985.1,833.4L985.8,836.0L986.8,838.6L988.6,843.9L990.3,849.2L991.9,854.4L992.1,855.3L998.4,859.5L998.5,859.7L1000.6,864.9L1002.7,870.2L1004.7,875.5L1004.7,875.6L1006.1,880.7L1007.7,886.0L1009.2,891.2L1011.0,896.5L1011.1,896.7L1017.4,897.5L1018.7,896.5L1023.7,892.2L1024.4,891.2L1028.0,886.0L1030.0,882.8L1030.8,886.0L1032.3,891.2L1033.9,896.5ZM876.0,770.2L878.3,772.1L880.0,770.2L883.8,765.0L878.3,763.4L875.9,765.0Z"/>
<path id="cz16" d="M753.0,1133.3L758.2,1133.3L764.5,1133.3L770.9,1133.3L777.2,1133.3L778.7,1133.3L780.3,1128.0L782.0,1122.8L783.5,1118.4L783.8,1117.5L785.3,1112.3L787.1,1107.0L788.9,1101.7L789.8,1099.0L790.4,1096.5L791.7,1091.2L793.0,1085.9L794.4,1080.7L795.9,1075.4L796.1,1074.5L798.2,1070.2L800.7,1064.9L802.5,1061.4L804.0,1059.6L807.7,1054.4L808.8,1052.4L815.1,1050.6L817.4,1054.4L821.4,1058.9L822.0,1059.6L826.8,1064.9L827.8,1065.7L828.4,1064.9L834.1,1059.8L834.2,1059.6L836.3,1054.4L837.8,1049.1L838.9,1043.8L839.7,1038.6L840.4,1033.6L840.4,1033.3L841.7,1028.1L843.0,1022.8L844.3,1017.5L845.4,1012.3L846.4,1007.0L846.7,1005.3L847.4,1001.7L848.2,996.5L848.9,991.2L849.5,986.0L850.0,980.7L850.4,975.4L850.8,970.2L851.2,964.9L851.6,959.7L852.0,954.4L852.4,949.1L852.8,943.9L853.0,940.9L853.3,938.6L853.8,933.3L854.3,928.1L854.9,922.8L855.4,917.6L856.1,912.3L856.8,907.0L857.6,901.8L858.3,896.5L859.0,891.2L859.4,888.8L859.7,886.0L860.3,880.7L860.7,875.5L860.9,870.2L861.1,864.9L861.2,859.7L861.4,854.4L861.5,849.2L861.5,843.9L861.6,838.6L861.5,833.4L861.5,828.1L861.4,822.8L861.2,817.6L860.9,812.3L860.4,807.1L859.8,801.8L859.4,799.2L858.7,796.5L856.9,791.3L854.3,786.0L853.0,784.1L848.6,780.7L846.7,779.6L841.1,775.5L840.4,775.0L834.1,770.5L827.8,775.0L826.9,775.5L821.4,778.3L815.1,779.0L808.8,780.1L802.5,779.2L796.1,778.6L789.8,777.3L783.5,775.9L777.2,776.8L770.9,776.4L769.7,775.5L764.5,771.7L763.0,775.5L759.7,780.7L758.2,782.5L757.6,786.0L756.8,791.3L756.1,796.5L755.4,801.8L754.7,807.1L754.2,812.3L753.6,817.6L753.1,822.8L752.6,828.1L752.1,833.4L751.9,835.9L751.6,838.6L751.2,843.9L750.7,849.2L750.3,854.4L749.8,859.7L749.4,864.9L749.0,870.2L748.7,875.5L748.3,880.7L747.9,886.0L747.5,891.2L747.2,896.5L746.8,901.8L746.5,907.0L746.2,912.3L745.9,917.6L745.7,922.8L745.6,927.4L745.6,928.1L745.5,933.3L745.3,938.6L745.2,943.9L745.2,949.1L745.1,954.4L745.0,959.7L744.9,964.9L744.9,970.2L744.8,975.4L744.8,980.7L744.8,986.0L744.7,991.2L744.7,996.5L744.7,1001.7L744.7,1007.0L744.7,1012.3L744.7,1017.5L744.7,1022.8L744.7,1028.1L744.8,1033.3L744.8,1038.6L744.9,1043.8L745.0,1049.1L745.1,1054.4L745.3,1059.6L745.5,1064.9L745.6,1067.9L745.7,1070.2L746.1,1075.4L746.5,1080.7L746.9,1085.9L747.3,1091.2L747.8,1096.5L748.3,1101.7L748.9,1107.0L749.6,1112.3L750.3,1117.5L751.1,1122.8L751.9,1127.3L752.0,1128.0ZM1009.3,712.3L1011.1,713.9L1017.4,714.3L1023.7,713.2L1027.0,712.3L1030.0,711.6L1031.1,712.3L1036.3,716.0L1042.7,712.7L1048.3,712.3L1049.0,712.3L1055.3,712.1L1061.6,711.2L1063.1,707.1L1064.3,701.8L1064.7,696.6L1064.7,691.3L1064.6,686.0L1064.3,680.8L1063.8,675.5L1062.9,670.2L1061.9,665.0L1061.6,664.1L1055.3,662.1L1049.0,660.1L1047.8,659.7L1042.7,658.8L1036.3,655.0L1030.0,658.7L1023.7,657.3L1017.4,656.8L1011.1,657.8L1008.2,659.7L1004.7,663.7L1004.1,665.0L1001.7,670.2L999.6,675.5L998.4,679.4L998.1,680.8L997.4,686.0L997.3,691.3L998.2,696.6L998.4,697.2L1000.2,701.8L1003.9,707.1L1004.7,707.9Z"/>
<path id="cz17" d="M758.1,1128.0L758.2,1128.5L764.5,1132.7L766.8,1128.0L769.1,1122.8L770.9,1118.5L771.2,1117.5L772.7,1112.3L773.8,1107.0L774.8,1101.7L775.6,1096.5L776.3,1091.2L777.0,1085.9L777.2,1084.5L778.6,1080.7L780.5,1075.4L782.5,1070.2L783.5,1067.3L784.3,1064.9L786.0,1059.6L787.4,1054.4L788.6,1049.1L789.8,1043.8L789.8,1043.5L791.4,1038.6L793.3,1033.3L795.6,1028.1L796.1,1027.0L799.5,1022.8L802.5,1020.0L804.5,1017.5L808.8,1013.4L812.9,1012.3L815.1,1011.7L815.9,1012.3L821.4,1016.3L822.2,1017.5L825.1,1022.8L827.6,1028.1L827.8,1028.5L831.9,1033.3L834.1,1035.2L834.5,1033.3L835.6,1028.1L836.7,1022.8L837.7,1017.5L838.8,1012.3L839.9,1007.0L840.4,1004.7L841.2,1001.7L842.4,996.5L843.4,991.2L844.2,986.0L844.9,980.7L845.4,975.4L845.9,970.2L846.3,964.9L846.7,960.6L846.8,959.7L847.3,954.4L847.8,949.1L848.3,943.9L848.7,938.6L849.1,933.3L849.4,928.1L849.8,922.8L850.1,917.6L850.6,912.3L851.2,907.0L851.8,901.8L852.5,896.5L853.0,892.8L853.2,891.2L853.9,886.0L854.4,880.7L854.7,875.5L854.9,870.2L854.9,864.9L854.8,859.7L854.7,854.4L854.5,849.2L854.1,843.9L853.7,838.6L853.2,833.4L853.0,831.9L852.6,828.1L851.8,822.8L851.0,817.6L849.8,812.3L848.2,807.1L846.7,803.9L845.5,801.8L841.4,796.5L840.4,795.4L834.1,792.3L827.8,796.4L827.5,796.5L821.4,799.9L815.1,800.8L808.8,801.8L808.8,801.8L808.8,801.8L802.5,800.8L796.1,800.8L789.8,800.2L783.5,798.8L777.2,799.7L770.9,800.9L767.0,796.5L764.5,794.2L762.0,796.5L758.2,799.6L757.9,801.8L757.3,807.1L756.7,812.3L756.2,817.6L755.7,822.8L755.2,828.1L754.8,833.4L754.3,838.6L753.9,843.9L753.4,849.2L753.0,854.4L752.6,859.7L752.2,864.9L751.9,869.3L751.8,870.2L751.5,875.5L751.2,880.7L750.9,886.0L750.5,891.2L750.2,896.5L749.9,901.8L749.6,907.0L749.4,912.3L749.1,917.6L748.9,922.8L748.8,928.1L748.6,933.3L748.4,938.6L748.3,943.9L748.1,949.1L748.0,954.4L747.9,959.7L747.8,964.9L747.7,970.2L747.7,975.4L747.7,980.7L747.6,986.0L747.6,991.2L747.6,996.5L747.6,1001.7L747.6,1007.0L747.6,1012.3L747.7,1017.5L747.7,1022.8L747.7,1028.1L747.8,1033.3L747.9,1038.6L748.1,1043.8L748.3,1049.1L748.7,1054.4L749.0,1059.6L749.5,1064.9L749.9,1070.2L750.4,1075.4L750.9,1080.7L751.4,1085.9L751.9,1090.2L752.0,1091.2L752.7,1096.5L753.4,1101.7L754.3,1107.0L755.1,1112.3L756.1,1117.5L757.1,1122.8Z"/>
<path id="cz18" d="M760.9,1101.7L764.5,1106.3L766.2,1101.7L767.9,1096.5L769.5,1091.2L770.9,1086.5L770.9,1085.9L771.7,1080.7L772.5,1075.4L773.3,1070.2L774.2,1064.9L775.1,1059.6L776.0,1054.4L776.9,1049.1L777.2,1047.5L778.1,1043.8L779.2,1038.6L780.0,1033.3L780.4,1028.1L780.7,1022.8L781.2,1017.5L781.8,1012.3L782.7,1007.0L783.5,1003.2L784.0,1001.7L786.8,996.5L789.8,992.4L796.1,991.5L802.5,991.8L804.8,991.2L808.8,990.2L813.2,991.2L815.1,991.5L821.4,994.2L823.2,996.5L827.3,1001.7L827.8,1002.4L830.9,1007.0L834.1,1011.4L835.0,1007.0L836.2,1001.7L837.3,996.5L838.4,991.2L839.4,986.0L840.3,980.7L840.4,980.0L841.0,975.4L841.5,970.2L842.1,964.9L842.6,959.7L843.2,954.4L843.6,949.1L844.1,943.9L844.4,938.6L844.8,933.3L845.0,928.1L845.2,922.8L845.4,917.6L845.7,912.3L845.9,907.0L846.3,901.8L846.6,896.5L846.7,895.5L847.0,891.2L847.4,886.0L847.8,880.7L848.0,875.5L848.1,870.2L848.0,864.9L847.8,859.7L847.4,854.4L846.9,849.2L846.7,847.4L846.2,843.9L845.3,838.6L844.1,833.4L842.8,828.1L841.3,822.8L840.4,820.0L837.5,817.6L834.1,815.3L832.1,817.6L828.8,822.8L827.8,825.1L825.5,828.1L821.9,833.4L821.4,834.2L815.1,837.5L813.4,838.6L808.8,842.1L802.5,841.5L796.1,842.8L789.8,841.5L784.9,838.6L783.5,837.9L781.5,838.6L777.2,840.3L772.1,838.6L770.9,838.3L769.7,833.4L768.3,828.1L766.4,822.8L764.5,818.3L759.2,822.8L758.2,823.7L757.9,828.1L757.4,833.4L757.0,838.6L756.6,843.9L756.2,849.2L755.9,854.4L755.5,859.7L755.2,864.9L754.9,870.2L754.6,875.5L754.4,880.7L754.1,886.0L753.8,891.2L753.5,896.5L753.3,901.8L753.0,907.0L752.7,912.3L752.5,917.6L752.2,922.8L752.0,928.1L751.9,930.3L751.8,933.3L751.6,938.6L751.5,943.9L751.3,949.1L751.2,954.4L751.1,959.7L751.0,964.9L750.9,970.2L750.9,975.4L750.9,980.7L750.9,986.0L750.9,991.2L750.9,996.5L750.9,1001.7L751.0,1007.0L751.0,1012.3L751.0,1017.5L751.1,1022.8L751.1,1028.1L751.3,1033.3L751.4,1038.6L751.7,1043.8L751.9,1046.6L752.1,1049.1L752.5,1054.4L753.1,1059.6L753.6,1064.9L754.2,1070.2L754.9,1075.4L755.5,1080.7L756.2,1085.9L757.0,1091.2L757.9,1096.5L758.2,1098.4ZM789.8,960.5L789.0,959.7L783.5,954.5L783.4,954.4L779.9,949.1L777.7,943.9L777.2,942.0L776.9,938.6L776.6,933.3L776.3,928.1L776.2,922.8L776.2,917.6L776.4,912.3L776.8,907.0L777.2,903.6L777.8,901.8L780.8,896.5L783.5,893.7L786.5,891.2L789.8,888.8L792.7,891.2L796.1,896.5L796.1,896.5L797.5,901.8L798.3,907.0L798.7,912.3L799.0,917.6L799.1,922.8L799.0,928.1L798.8,933.3L798.4,938.6L797.7,943.9L796.7,949.1L796.1,951.3L794.8,954.4L790.7,959.7Z"/>
<path id="cz19" d="M763.5,1070.2L764.5,1071.1L764.8,1070.2L765.9,1064.9L767.3,1059.6L768.7,1054.4L770.0,1049.1L770.9,1044.3L770.9,1043.8L771.4,1038.6L771.8,1033.3L771.9,1028.1L771.9,1022.8L771.9,1017.5L771.9,1012.3L771.9,1007.0L771.9,1001.7L771.9,996.5L771.9,991.2L771.9,986.0L771.9,980.7L771.9,975.4L771.8,970.2L771.6,964.9L771.3,959.7L770.9,954.7L770.8,954.4L770.4,949.1L769.9,943.9L769.4,938.6L768.9,933.3L768.5,928.1L768.2,922.8L768.0,917.6L767.8,912.3L767.7,907.0L767.5,901.8L767.4,896.5L767.3,891.2L767.2,886.0L767.1,880.7L766.9,875.5L766.6,870.2L766.3,864.9L765.7,859.7L764.9,854.4L764.5,852.3L763.2,854.4L760.3,859.7L758.2,864.1L758.2,864.9L758.0,870.2L757.8,875.5L757.6,880.7L757.5,886.0L757.3,891.2L757.2,896.5L757.0,901.8L756.8,907.0L756.7,912.3L756.5,917.6L756.3,922.8L756.1,928.1L755.8,933.3L755.5,938.6L755.3,943.9L755.0,949.1L754.8,954.4L754.6,959.7L754.4,964.9L754.3,970.2L754.3,975.4L754.3,980.7L754.3,986.0L754.3,991.2L754.3,996.5L754.3,1001.7L754.3,1007.0L754.3,1012.3L754.3,1017.5L754.4,1022.8L754.4,1028.1L754.5,1033.3L754.9,1038.6L755.4,1043.8L756.0,1049.1L756.7,1054.4L757.3,1059.6L758.0,1064.9L758.2,1066.8ZM833.2,986.0L834.1,987.8L834.4,986.0L835.3,980.7L836.0,975.4L836.7,970.2L837.3,964.9L838.0,959.7L838.7,954.4L839.3,949.1L839.9,943.9L840.4,938.6L840.4,938.5L840.7,933.3L840.9,928.1L841.0,922.8L841.0,917.6L841.0,912.3L841.0,907.0L841.0,901.8L841.0,896.5L841.0,891.2L840.9,886.0L840.8,880.7L840.7,875.5L840.6,870.2L840.4,865.3L840.4,864.9L839.5,859.7L838.0,854.4L835.8,849.2L834.1,845.9L833.1,849.2L831.7,854.4L830.7,859.7L829.9,864.9L829.3,870.2L828.8,875.5L828.3,880.7L827.9,886.0L827.8,887.7L827.3,891.2L826.7,896.5L826.2,901.8L825.9,907.0L825.6,912.3L825.5,917.6L825.4,922.8L825.5,928.1L825.6,933.3L825.8,938.6L826.1,943.9L826.6,949.1L827.1,954.4L827.8,959.1L827.8,959.7L828.3,964.9L829.0,970.2L829.8,975.4L831.1,980.7Z"/>
<path id="cz20" d="M761.1,1038.6L764.5,1039.2L764.7,1038.6L765.8,1033.3L766.1,1028.1L766.1,1022.8L766.1,1017.5L766.1,1012.3L766.1,1007.0L766.1,1001.7L766.1,996.5L766.1,991.2L766.1,986.0L766.1,980.7L766.1,975.4L766.0,970.2L765.7,964.9L765.3,959.7L764.7,954.4L764.5,953.1L763.0,954.4L758.7,959.7L758.2,960.5L758.0,964.9L757.9,970.2L757.8,975.4L757.7,980.7L757.7,986.0L757.7,991.2L757.6,996.5L757.6,1001.7L757.6,1007.0L757.6,1012.3L757.6,1017.5L757.6,1022.8L757.6,1028.1L757.8,1033.3L758.2,1037.7ZM833.5,943.9L834.1,948.7L834.5,943.9L835.0,938.6L835.3,933.3L835.5,928.1L835.6,922.8L835.6,917.6L835.4,912.3L835.2,907.0L834.9,901.8L834.4,896.5L834.1,893.2L833.7,896.5L833.3,901.8L832.9,907.0L832.6,912.3L832.5,917.6L832.4,922.8L832.5,928.1L832.7,933.3L833.0,938.6Z"/>
<path id="cz21" d=""/>
<path id="cz22" d=""/>
</defs>
<g fill-rule="evenodd">
<use href="#cz0" fill="#46085c"/>
<use href="#cz1" fill="#48186a"/>
<use href="#cz2" fill="#482677"/>
<use href="#cz3" fill="#463480"/>
<use href="#cz4" fill="#414287"/>
<use href="#cz5" fill="#3c4f8a"/>
<use href="#cz6" fill="#375b8d"/>
<use href="#cz7" fill="#31668e"/>
<use href="#cz8" fill="#2d718e"/>
<use href="#cz9" fill="#297b8e"/>
<use href="#cz10" fill="#25858e"/>
<use href="#cz11" fill="#21908d"/>
<use href="#cz12" fill="#1e9b8a"/>
<use href="#cz13" fill="#21a585"/>
<use href="#cz14" fill="#29af7f"/>
<use href="#cz15" fill="#38b977"/>
<use href="#cz16" fill="#4cc26c"/>
<use href="#cz17" fill="#63cb5f"/>
<use href="#cz18" fill="#7cd250"/>
<use href="#cz19" fill="#9bd93c"/>
<use href="#cz20" fill="#b8de29"/>
<use href="#cz21" fill="#d5e21a"/>
<use href="#cz22" fill="#f1e51d"/>
</g>
<path d="M1207.0,398.1L1205.7,401.9L1203.9,407.1L1201.9,412.4L1200.7,415.5L1194.4,417.2L1189.2,412.4L1188.0,411.2L1185.2,407.1L1181.7,402.0L1181.0,401.9L1175.4,400.9L1169.1,400.0L1162.8,400.4L1156.4,399.5L1155.0,401.9L1151.7,407.1L1150.1,409.3L1148.2,412.4L1144.5,417.7L1143.8,418.6L1142.7,417.7L1137.5,412.8L1137.3,412.4L1135.2,407.1L1133.2,401.9L1131.3,396.6L1131.2,396.2L1129.6,391.4L1127.9,386.1L1126.2,380.8L1124.8,376.6L1123.6,375.6L1118.5,371.5L1112.9,370.3L1112.2,370.2L1112.1,370.3L1108.7,375.6L1105.9,379.4L1099.5,378.6L1094.0,375.6L1093.2,375.2L1092.1,375.6L1086.9,376.8L1080.6,376.6L1079.5,375.6L1074.6,370.3L1074.3,369.9L1070.4,365.0L1067.9,362.0L1064.6,359.8L1061.6,357.9L1057.7,359.8L1055.3,360.9L1050.1,359.8L1049.0,359.5L1042.7,357.2L1039.3,354.5L1036.3,352.3L1032.2,354.5L1030.0,355.7L1025.1,354.5L1023.7,354.2L1017.4,353.3L1011.1,353.6L1009.2,354.5L1004.7,356.6L998.4,359.7L998.2,359.8L992.1,364.6L991.8,365.0L989.1,370.3L987.1,375.6L985.8,380.0L985.4,380.8L982.9,386.1L980.5,391.4L979.5,393.5L977.2,396.6L973.1,401.3L969.6,396.6L966.8,392.9L965.8,391.4L962.6,386.1L960.5,382.6L956.4,386.1L954.2,387.8L952.9,391.4L950.9,396.6L948.8,401.9L947.8,404.5L947.1,407.1L945.7,412.4L944.5,417.7L943.5,422.9L942.5,428.2L941.6,433.5L941.5,433.6L938.7,438.7L936.4,444.0L935.2,447.2L934.3,449.2L931.9,454.5L929.5,459.8L928.9,461.1L927.8,459.8L924.2,454.5L922.6,451.5L920.7,449.2L917.1,444.0L916.2,442.6L914.3,438.7L912.0,433.5L910.0,428.2L909.9,428.0L909.9,428.2L907.9,433.5L905.8,438.7L903.6,443.6L903.4,444.0L900.9,449.2L898.3,454.5L897.3,456.5L893.9,459.8L891.0,462.7L887.0,459.8L884.6,457.9L878.3,456.9L875.7,459.8L872.0,463.1L870.2,459.8L867.4,454.5L865.7,451.2L864.8,449.2L862.5,444.0L860.2,438.7L859.4,436.8L854.7,433.5L853.0,432.2L848.0,428.2L846.7,427.2L844.3,422.9L841.3,417.7L840.4,416.1L839.7,412.4L838.4,407.1L836.9,401.9L835.1,396.6L834.1,394.2L833.2,396.6L831.5,401.9L830.0,407.1L828.7,412.4L827.8,416.7L821.4,415.5L818.4,412.4L815.1,409.2L813.5,412.4L810.9,417.7L808.8,421.9L807.8,422.9L802.6,428.2L802.5,428.3L802.4,428.2L800.2,422.9L797.8,417.7L796.1,414.3L795.3,412.4L792.9,407.1L790.4,401.9L789.8,400.8L783.5,398.7L779.6,401.9L777.2,403.7L776.4,401.9L774.0,396.6L771.5,391.4L770.9,390.1L764.5,387.8L758.2,386.9L753.6,391.4L751.9,393.0L751.1,396.6L750.1,401.9L749.1,407.1L748.2,412.4L747.4,417.7L746.7,422.9L746.0,428.2L745.6,431.2L745.2,433.5L744.3,438.7L743.2,444.0L741.9,449.2L740.4,454.5L739.3,458.2L738.6,454.5L737.7,449.2L736.7,444.0L735.7,438.7L734.8,433.5L733.7,428.2L732.9,424.1L728.3,428.2L726.6,429.3L722.3,433.5L720.3,436.1L718.6,433.5L716.1,428.2L714.0,423.2L713.9,422.9L711.7,417.7L709.6,412.4L707.7,407.2L706.8,412.4L706.0,417.7L705.1,422.9L704.2,428.2L703.3,433.5L702.4,438.7L701.5,444.0L701.3,444.7L695.0,447.5L693.0,444.0L690.3,438.7L688.7,435.5L688.1,433.5L686.7,428.2L685.2,422.9L683.8,417.7L682.4,412.4L682.4,412.3L682.3,412.4L679.7,417.7L676.8,422.9L676.1,424.4L675.2,428.2L673.7,433.5L672.0,438.7L669.9,444.0L669.7,444.5L669.7,444.0L668.9,438.7L668.1,433.5L667.5,428.2L666.8,422.9L666.2,417.7L665.6,412.4L665.0,407.1L664.5,401.9L664.0,396.6L663.6,391.4L663.4,389.3L660.4,386.1L657.1,382.9L651.1,380.8L650.8,380.7L650.5,380.8L644.4,383.2L639.5,386.1L638.1,386.9L631.8,388.3L626.0,391.4L625.5,391.6L619.2,395.2L616.4,391.4L612.8,386.2L611.2,391.4L609.5,396.6L607.7,401.9L606.5,405.5L600.2,405.3L599.4,401.9L598.3,396.6L597.2,391.4L596.1,386.1L595.1,380.8L594.1,375.6L593.9,374.3L593.5,375.6L592.0,380.8L590.4,386.1L588.8,391.4L587.6,394.9L583.2,391.4L581.2,389.7L579.3,391.4L574.9,395.1L572.4,396.6L568.6,398.9L564.4,401.9L562.3,403.4L556.0,405.1L549.6,402.4L549.2,401.9L545.3,396.6L543.3,393.8L540.6,396.6L537.0,400.2L536.3,401.9L534.2,407.1L531.9,412.4L530.7,414.9L524.4,416.1L523.7,412.4L523.0,407.1L522.3,401.9L521.6,396.6L521.0,391.4L520.3,386.1L519.7,380.8L519.2,375.6L518.6,370.3L518.2,365.0L518.0,363.4L517.8,365.0L517.2,370.3L516.4,375.6L515.6,380.8L514.8,386.1L513.9,391.4L513.0,396.6L512.0,401.9L511.7,403.6L509.2,407.1L505.4,412.2L505.3,412.4L501.0,417.7L499.1,419.8L493.3,417.7L492.7,417.4L487.4,412.4L486.4,411.4L480.1,409.7L476.6,412.4L473.8,414.3L467.5,415.0L465.1,417.7L461.1,421.8L458.8,422.9L454.8,424.9L449.6,422.9L448.5,422.5M1207.0,462.9L1205.5,465.0L1201.6,470.3L1200.7,471.5L1194.4,471.3L1193.1,470.3L1188.0,466.0L1187.2,465.0L1182.6,459.8L1181.7,458.8L1175.4,456.8L1169.1,455.0L1165.5,454.5L1162.8,454.1L1156.4,452.4L1153.8,454.5L1150.1,457.1L1147.0,459.8L1143.8,462.1L1140.4,459.8L1137.5,457.8L1135.3,454.5L1132.0,449.2L1131.2,447.8L1129.3,444.0L1126.9,438.7L1124.8,434.3L1124.1,433.5L1119.3,428.2L1118.5,427.3L1113.0,422.9L1112.2,422.3L1110.0,422.9L1105.9,424.0L1104.3,422.9L1099.5,419.6L1098.0,417.7L1094.0,412.4L1093.2,411.3L1086.9,408.6L1080.6,407.7L1079.9,407.1L1074.3,402.6L1073.4,401.9L1067.9,397.3L1066.0,396.6L1061.6,395.1L1059.6,396.6L1055.3,400.1L1049.0,400.1L1042.7,397.8L1041.5,396.6L1036.4,391.4L1036.3,391.3L1036.2,391.4L1030.0,394.1L1025.7,391.4L1023.7,390.1L1017.4,386.9L1013.6,386.1L1011.1,385.6L1010.1,386.1L1004.7,389.0L1003.0,391.4L999.6,396.6L998.4,398.7L997.2,401.9L995.4,407.1L993.5,412.4L992.1,416.0L991.6,417.7L989.7,422.9L987.7,428.2L985.8,432.7L985.1,433.5L980.5,438.7L979.5,439.8L973.1,442.2L970.5,438.7L966.8,433.6L966.7,433.5L963.1,428.2L960.5,424.6L954.2,425.7L953.2,428.2L951.4,433.5L949.7,438.7L947.9,444.0L947.8,444.1L946.5,449.2L945.2,454.5L944.0,459.8L942.9,465.0L941.8,470.3L941.5,471.7L939.9,475.5L937.7,480.8L935.4,486.1L935.2,486.6L932.8,491.3L930.1,496.6L928.9,499.0L922.6,500.2L916.2,500.6L909.9,497.0L903.6,501.3L903.1,501.9L898.3,507.1L897.3,508.2L891.4,512.4L891.0,512.7L888.9,512.4L884.6,511.8L882.7,512.4L878.3,513.8L872.0,517.4L867.2,512.4L865.7,510.8L861.5,507.1L859.4,505.2L853.0,503.3L851.4,501.9L846.7,497.7L846.1,496.6L843.4,491.3L840.5,486.1L840.4,485.8L839.8,480.8L839.1,475.5L838.4,470.3L837.5,465.0L836.6,459.8L835.5,454.5L834.4,449.2L834.1,447.6L833.7,449.2L832.3,454.5L831.1,459.8L829.9,465.0L828.9,470.3L828.0,475.5L827.8,477.5L821.4,478.9L815.1,476.2L808.9,480.8L808.8,480.9L807.9,480.8L802.5,480.2L799.2,475.5L796.1,471.3L795.6,470.3L792.9,465.0L790.2,459.8L789.8,459.0L783.8,454.5L783.5,454.3L777.2,454.3L773.7,449.2L770.9,444.9L767.0,444.0L764.5,443.4L762.2,444.0L758.2,445.0L756.8,449.2L755.3,454.5L753.9,459.8L752.7,465.0L751.9,469.1L751.6,470.3L750.4,475.5L749.1,480.8L747.7,486.1L746.3,491.3L745.6,494.3L744.7,496.6L742.7,501.9L740.9,507.1L739.3,512.1L738.3,507.1L737.3,501.9L736.4,496.6L735.4,491.3L734.3,486.1L733.3,480.8L732.9,478.9L730.5,475.5L726.6,471.3L724.4,475.5L721.9,480.8L720.3,484.6L719.6,486.1L717.2,491.3L715.2,496.6L714.0,500.1L712.1,496.6L709.4,491.3L707.7,488.1L706.6,491.3L704.9,496.6L703.1,501.9L701.3,506.8L699.6,507.1L695.0,508.0L694.4,507.1L690.6,501.9L688.7,499.2L687.6,496.6L685.3,491.3L683.0,486.1L682.4,484.5L680.3,486.1L676.0,489.2L674.8,491.3L671.8,496.6L669.7,500.1L669.1,496.6L668.1,491.3L667.2,486.1L666.3,480.8L665.3,475.5L664.4,470.3L663.5,465.0L663.4,464.6L659.1,459.8L657.1,457.4L652.2,454.5L650.8,453.7L644.4,454.1L642.2,454.5L638.1,455.1L632.6,454.5L631.8,454.4L631.2,454.5L625.5,455.2L619.2,454.8L619.0,454.5L615.7,449.2L612.8,444.9L609.8,449.2L606.5,453.4L600.2,451.9L599.1,449.2L597.1,444.0L595.1,438.7L593.9,435.3L592.0,438.7L589.1,444.0L587.6,446.6L581.3,444.0L581.2,443.9L581.2,444.0L574.9,447.1L568.6,448.9L567.3,449.2L562.3,450.6L556.0,450.7L551.3,449.2L549.6,448.7L543.3,444.0L537.0,448.0L536.2,449.2L532.6,454.5L530.7,457.3L524.4,458.5L523.3,454.5L522.1,449.2L520.9,444.0L519.7,438.7L518.6,433.5L518.0,430.7L517.3,433.5L515.7,438.7L514.1,444.0L512.5,449.2L511.7,451.7L508.3,454.5L505.4,456.9L501.6,459.8L499.1,461.6L493.6,459.8L492.7,459.5L486.4,454.9L484.6,454.5L480.1,453.4L477.1,454.5L473.8,455.7L467.5,456.8L464.5,459.8L461.1,463.2L458.8,465.0L454.8,468.2L449.4,470.3L448.5,470.6M1207.0,502.4L1202.9,507.1L1200.7,509.6L1194.4,510.0L1189.2,507.1L1188.0,506.4L1182.5,501.9L1181.7,501.1L1175.4,498.6L1171.6,496.6L1169.1,495.3L1162.8,492.3L1160.9,491.3L1156.4,489.0L1150.1,490.5L1147.4,491.3L1143.8,492.3L1142.6,491.3L1137.5,487.0L1136.8,486.1L1133.3,480.8L1131.2,477.7L1129.9,475.5L1126.7,470.3L1124.8,467.3L1122.6,465.0L1118.5,460.8L1117.4,459.8L1112.2,455.0L1105.9,454.6L1105.7,454.5L1099.5,451.2L1096.9,449.2L1093.2,446.4L1086.9,446.0L1080.6,446.1L1076.4,444.0L1074.3,442.7L1067.9,439.0L1064.9,438.7L1061.6,438.3L1061.1,438.7L1055.3,443.5L1049.0,443.6L1042.7,442.1L1038.0,438.7L1036.3,437.3L1033.3,438.7L1030.0,440.0L1027.2,438.7L1023.7,436.9L1017.4,434.1L1014.0,433.5L1011.1,432.9L1010.0,433.5L1004.7,436.1L1002.7,438.7L998.4,443.6L998.2,444.0L994.8,449.2L992.1,452.8L991.0,454.5L987.2,459.8L985.8,461.6L980.6,465.0L979.5,465.7L973.1,467.7L970.1,465.0L966.8,462.0L964.7,459.8L960.5,454.9L954.2,455.5L952.6,459.8L950.7,465.0L948.9,470.3L947.8,473.6L947.4,475.5L946.2,480.8L945.0,486.1L943.8,491.3L942.6,496.6L941.5,501.0L941.1,501.9L938.1,507.1L935.4,512.4L935.2,512.7L932.7,517.6L930.4,522.9L928.9,526.5L927.4,528.2L923.0,533.4L922.6,534.0L916.9,538.7L916.2,539.2L909.9,538.7L903.6,542.6L901.9,544.0L897.3,547.5L894.6,549.2L891.0,551.4L884.6,553.1L882.1,554.5L878.3,556.5L872.0,558.2L867.8,554.5L865.7,552.5L861.4,549.2L859.4,547.6L853.0,545.4L850.6,544.0L846.7,541.4L844.8,538.7L841.2,533.4L840.4,532.1L839.8,528.2L839.1,522.9L838.4,517.6L837.8,512.4L837.1,507.1L836.4,501.9L835.7,496.6L835.0,491.3L834.2,486.1L834.1,485.5L834.0,486.1L833.0,491.3L832.2,496.6L831.4,501.9L830.6,507.1L829.9,512.4L829.2,517.6L828.5,522.9L827.8,528.2L827.8,528.2L821.4,532.0L815.1,531.9L808.8,531.2L806.1,528.2L802.5,524.1L801.8,522.9L798.8,517.6L796.1,513.1L795.8,512.4L793.0,507.1L790.2,501.9L789.8,501.2L785.5,496.6L783.5,494.6L777.2,492.1L776.6,491.3L772.8,486.1L770.9,483.3L764.5,482.1L758.2,485.7L758.1,486.1L756.8,491.3L755.6,496.6L754.3,501.9L752.9,507.1L751.9,511.1L751.5,512.4L750.1,517.6L748.8,522.9L747.4,528.2L746.1,533.4L745.6,535.6L744.5,538.7L742.8,544.0L741.2,549.2L739.8,554.5L739.3,556.5L738.8,554.5L737.6,549.2L736.5,544.0L735.4,538.7L734.3,533.4L733.3,528.2L732.9,526.4L730.5,522.9L727.9,517.6L726.6,514.5L725.7,517.6L724.1,522.9L722.2,528.2L720.3,532.6L719.9,533.4L716.7,538.7L714.0,542.6L709.5,538.7L707.7,537.2L707.1,538.7L705.0,544.0L702.9,549.2L701.3,553.0L695.0,552.2L693.3,549.2L690.0,544.0L688.7,542.1L687.1,538.7L684.6,533.4L682.4,528.8L676.1,529.3L673.5,533.4L670.0,538.7L669.7,539.1L669.6,538.7L668.4,533.4L667.2,528.2L666.0,522.9L664.8,517.6L663.6,512.4L663.4,511.5L659.2,507.1L657.1,504.8L653.8,501.9L650.8,499.2L644.4,497.1L641.0,496.6L638.1,496.2L631.8,494.5L625.5,493.5L619.9,491.3L619.2,491.1L615.9,486.1L612.8,481.4L606.5,485.2L600.2,483.2L598.9,480.8L596.1,475.5L593.9,471.4L590.8,475.5L587.6,479.8L581.2,478.3L575.0,480.8L574.9,480.8L568.6,481.8L562.3,482.3L556.0,481.6L553.2,480.8L549.6,479.8L543.3,476.6L537.0,480.2L536.5,480.8L532.1,486.1L530.7,487.7L524.4,489.0L523.3,486.1L521.6,480.8L519.9,475.5L518.4,470.3L518.0,469.1L517.6,470.3L515.5,475.5L513.3,480.8L511.7,484.5L509.3,486.1L505.4,488.3L500.0,491.3L499.1,491.8L497.2,491.3L492.7,490.1L486.4,486.4L485.1,486.1L480.1,484.8L474.9,486.1L473.8,486.3L467.5,487.4L462.8,491.3L461.1,492.6L455.2,496.6L454.8,496.9L448.5,498.9M665.9,1133.3L666.0,1128.0L666.2,1122.8L666.3,1117.5L666.4,1112.3L666.5,1107.0L666.6,1101.7L666.7,1096.5L666.8,1091.2L667.0,1085.9L667.1,1080.7L667.2,1075.4L667.3,1070.2L667.4,1064.9L667.5,1059.6L667.6,1054.4L667.7,1049.1L667.8,1043.8L667.9,1038.6L668.0,1033.3L668.1,1028.1L668.2,1022.8L668.3,1017.5L668.4,1012.3L668.5,1007.0L668.6,1001.7L668.7,996.5L668.8,991.2L668.8,986.0L668.9,980.7L669.0,975.4L669.1,970.2L669.2,964.9L669.3,959.7L669.4,954.4L669.4,949.1L669.5,943.9L669.6,938.6L669.7,933.3L669.7,930.9L669.8,933.3L670.0,938.6L670.1,943.9L670.3,949.1L670.4,954.4L670.6,959.7L670.7,964.9L670.9,970.2L671.1,975.4L671.2,980.7L671.4,986.0L671.6,991.2L671.8,996.5L671.9,1001.7L672.1,1007.0L672.3,1012.3L672.5,1017.5L672.7,1022.8L672.9,1028.1L673.1,1033.3L673.4,1038.6L673.6,1043.8L673.8,1049.1L674.0,1054.4L674.3,1059.6L674.5,1064.9L674.8,1070.2L675.1,1075.4L675.3,1080.7L675.6,1085.9L675.9,1091.2L676.0,1093.5L677.1,1096.5L678.9,1101.7L680.6,1107.0L682.3,1112.3L682.4,1112.5L682.4,1112.3L682.8,1107.0L683.2,1101.7L683.6,1096.5L684.0,1091.2L684.4,1085.9L684.8,1080.7L685.2,1075.4L685.6,1070.2L685.9,1064.9L686.3,1059.6L686.7,1054.4L687.0,1049.1L687.4,1043.8L687.7,1038.6L688.1,1033.3L688.5,1028.1L688.7,1024.6L688.9,1022.8L689.5,1017.5L690.1,1012.3L690.7,1007.0L691.3,1001.7L691.9,996.5L692.5,991.2L693.2,986.0L693.9,980.7L694.6,975.4L695.0,972.8L697.9,975.4L701.3,978.6L701.5,980.7L701.9,986.0L702.3,991.2L702.7,996.5L703.0,1001.7L703.3,1007.0L703.7,1012.3L704.0,1017.5L704.4,1022.8L704.7,1028.1L705.0,1033.3L705.3,1038.6L705.7,1043.8L706.0,1049.1L706.3,1054.4L706.6,1059.6L706.9,1064.9L707.2,1070.2L707.5,1075.4L707.7,1077.5L707.8,1075.4L708.3,1070.2L708.8,1064.9L709.3,1059.6L709.8,1054.4L710.3,1049.1L710.8,1043.8L711.3,1038.6L711.8,1033.3L712.3,1028.1L712.8,1022.8L713.3,1017.5L713.8,1012.3L714.0,1010.7L714.0,1012.3L714.1,1017.5L714.2,1022.8L714.3,1028.1L714.4,1033.3L714.6,1038.6L714.7,1043.8L714.8,1049.1L714.9,1054.4L714.9,1059.6L715.0,1064.9L715.1,1070.2L715.2,1075.4L715.3,1080.7L715.4,1085.9L715.5,1091.2L715.6,1096.5L715.7,1101.7L715.7,1107.0L715.8,1112.3L715.9,1117.5L716.0,1122.8L716.0,1128.0L716.1,1133.3M1207.0,534.6L1202.5,538.7L1200.7,540.3L1194.4,540.0L1192.2,538.7L1188.0,536.1L1184.7,533.4L1181.7,531.1L1175.4,528.5L1174.8,528.2L1169.1,525.2L1164.4,522.9L1162.8,522.1L1156.4,518.3L1150.1,518.6L1143.8,519.3L1142.1,517.6L1137.5,513.0L1137.1,512.4L1134.0,507.1L1131.2,502.6L1130.8,501.9L1127.7,496.6L1124.8,491.9L1124.3,491.3L1119.5,486.1L1118.5,484.9L1114.1,480.8L1112.2,479.0L1105.9,478.2L1100.5,475.5L1099.5,475.1L1093.2,470.8L1086.9,470.3L1080.6,470.5L1080.2,470.3L1074.3,467.8L1067.9,465.6L1061.6,465.7L1055.3,469.3L1049.0,469.2L1042.7,468.1L1036.4,465.0L1036.3,465.0L1036.2,465.0L1030.0,466.9L1023.7,465.5L1020.4,465.0L1017.4,464.5L1011.1,464.4L1009.4,465.0L1004.7,466.7L999.7,470.3L998.4,471.1L993.4,475.5L992.1,476.6L988.0,480.8L985.8,483.2L980.6,486.1L979.5,486.8L973.1,489.1L968.8,486.1L966.8,484.7L962.0,480.8L960.5,479.5L954.2,480.5L954.1,480.8L952.3,486.1L950.5,491.3L948.7,496.6L947.8,499.2L947.2,501.9L945.7,507.1L944.2,512.4L942.7,517.6L941.5,521.6L940.9,522.9L938.4,528.2L936.1,533.4L935.2,535.6L933.9,538.7L931.7,544.0L929.5,549.2L928.9,550.7L925.6,554.5L922.6,557.8L920.1,559.7L916.2,563.0L913.1,565.0L909.9,567.4L907.1,570.3L903.6,574.1L900.0,575.5L897.3,576.6L891.0,578.8L886.0,580.8L884.6,581.3L878.3,584.4L872.0,584.7L867.0,580.8L865.7,579.6L859.8,575.5L859.4,575.2L853.0,572.8L846.7,570.4L846.6,570.3L840.4,565.2L840.3,565.0L839.4,559.7L838.4,554.5L837.6,549.2L836.8,544.0L836.0,538.7L835.2,533.4L834.4,528.2L834.1,525.5L833.7,528.2L832.8,533.4L832.0,538.7L831.2,544.0L830.3,549.2L829.3,554.5L828.2,559.7L827.8,561.9L821.4,563.3L815.1,563.0L808.8,563.1L803.1,559.7L802.5,559.3L799.6,554.5L796.6,549.2L796.1,548.5L793.6,544.0L790.6,538.7L789.8,537.3L785.2,533.4L783.5,531.9L777.2,530.3L775.1,528.2L770.9,523.2L769.2,522.9L764.5,522.0L762.7,522.9L758.2,525.1L757.4,528.2L755.8,533.4L754.1,538.7L752.3,544.0L751.9,544.9L750.6,549.2L749.0,554.5L747.4,559.7L746.0,565.0L745.6,566.8L744.7,570.3L743.4,575.5L742.3,580.8L741.2,586.1L740.0,591.3L739.3,594.7L738.4,591.3L737.1,586.1L735.8,580.8L734.4,575.5L733.0,570.3L732.9,569.9L732.8,570.3L731.0,575.5L729.7,580.8L728.7,586.1L727.9,591.3L727.2,596.6L726.6,601.2L720.3,599.1L714.0,598.1L713.7,596.6L712.3,591.3L710.3,586.1L707.7,580.8L705.2,586.1L701.9,591.3L701.3,592.0L700.3,591.3L695.0,588.0L694.0,586.1L691.3,580.8L688.7,576.4L688.3,575.5L686.2,570.3L683.9,565.0L682.4,561.3L679.0,559.7L676.0,558.5L675.2,559.7L671.6,565.0L669.7,567.6L669.2,565.0L668.0,559.7L666.8,554.5L665.5,549.2L663.9,544.0L663.4,542.2L658.0,538.7L657.1,538.1L650.8,533.7L650.2,533.4L644.4,529.9L641.0,528.2L638.1,526.7L632.1,522.9L631.8,522.7L625.5,520.0L621.1,517.6L619.2,516.7L615.7,512.4L612.8,508.9L606.5,511.3L600.2,509.6L598.5,507.1L595.2,501.9L593.9,499.6L591.9,501.9L587.6,506.6L581.2,505.1L574.9,507.0L574.0,507.1L568.6,507.7L562.3,508.0L556.0,507.4L554.8,507.1L549.6,505.8L543.3,503.0L537.0,505.4L535.0,507.1L530.7,510.5L524.4,511.0L522.5,507.1L520.1,501.9L518.0,496.7L515.3,501.9L512.2,507.1L511.7,508.0L505.4,511.1L502.5,512.4L499.1,514.0L492.7,512.8L491.7,512.4L486.4,510.2L480.1,509.3L473.8,510.7L467.5,511.6L466.3,512.4L461.1,515.6L457.3,517.6L454.8,519.0L448.5,521.0M522.0,1133.3L521.8,1128.0L521.7,1122.8L521.6,1117.5L521.5,1112.3L521.4,1107.0L521.4,1101.7L521.3,1096.5L521.3,1091.2L521.2,1085.9L521.2,1080.7L521.2,1075.4L521.2,1070.2L521.2,1064.9L521.2,1059.6L521.2,1054.4L521.3,1049.1L521.4,1043.8L521.4,1038.6L521.5,1033.3L521.6,1028.1L521.7,1022.8L521.9,1017.5L522.0,1012.3L522.1,1007.0L522.3,1001.7L522.4,996.5L522.5,991.2L522.7,986.0L522.8,980.7L523.0,975.4L523.2,970.2L523.3,964.9L523.5,959.7L523.8,954.4L524.0,949.1L524.3,943.9L524.4,942.1L530.4,943.9L530.7,944.0L531.4,949.1L532.1,954.4L532.8,959.7L533.4,964.9L533.9,970.2L534.4,975.4L534.8,980.7L535.3,986.0L535.7,991.2L536.2,996.5L536.6,1001.7L537.0,1006.7L537.1,1007.0L538.1,1012.3L539.1,1017.5L540.1,1022.8L541.1,1028.1L542.0,1033.3L542.9,1038.6L543.3,1040.7L543.6,1038.6L544.2,1033.3L544.9,1028.1L545.6,1022.8L546.3,1017.5L547.0,1012.3L547.8,1007.0L548.5,1001.7L549.3,996.5L549.6,994.1L550.8,991.2L552.9,986.0L555.0,980.7L556.0,978.3L558.6,980.7L562.3,984.0L562.9,986.0L564.7,991.2L566.4,996.5L568.1,1001.7L568.6,1003.4L570.0,1007.0L572.0,1012.3L574.0,1017.5L574.9,1020.0L575.6,1022.8L577.0,1028.1L578.3,1033.3L579.6,1038.6L580.8,1043.8L581.2,1045.7L581.6,1043.8L582.6,1038.6L583.7,1033.3L584.7,1028.1L585.8,1022.8L586.8,1017.5L587.6,1014.0L587.8,1017.5L588.1,1022.8L588.5,1028.1L588.8,1033.3L589.1,1038.6L589.4,1043.8L589.7,1049.1L590.0,1054.4L590.3,1059.6L590.6,1064.9L590.9,1070.2L591.1,1075.4L591.3,1080.7L591.6,1085.9L591.8,1091.2L592.0,1096.5L592.2,1101.7L592.3,1107.0L592.5,1112.3L592.6,1117.5L592.8,1122.8L592.9,1128.0L593.0,1133.3M594.5,1133.3L594.5,1128.0L594.6,1122.8L594.7,1117.5L594.8,1112.3L594.9,1107.0L595.0,1101.7L595.1,1096.5L595.2,1091.2L595.3,1085.9L595.5,1080.7L595.6,1075.4L595.8,1070.2L595.9,1064.9L596.1,1059.6L596.3,1054.4L596.4,1049.1L596.6,1043.8L596.8,1038.6L597.0,1033.3L597.2,1028.1L597.4,1022.8L597.6,1017.5L597.8,1012.3L598.0,1007.0L598.3,1001.7L598.5,996.5L598.7,991.2L598.9,986.0L599.2,980.7L599.4,975.4L599.6,970.2L599.9,964.9L600.1,959.7L600.2,957.9L601.5,954.4L603.4,949.1L605.4,943.9L606.5,941.0L606.9,943.9L607.4,949.1L608.0,954.4L608.6,959.7L609.1,964.9L609.6,970.2L610.2,975.4L610.7,980.7L611.2,986.0L611.7,991.2L612.2,996.5L612.7,1001.7L612.8,1003.2L612.9,1001.7L613.3,996.5L613.7,991.2L614.1,986.0L614.5,980.7L614.8,975.4L615.2,970.2L615.6,964.9L616.0,959.7L616.4,954.4L616.8,949.1L617.2,943.9L617.6,938.6L618.0,933.3L618.5,928.1L619.0,922.8L619.2,920.6L623.4,917.6L625.5,916.0L626.7,917.6L630.8,922.8L631.8,924.2L637.9,928.1L638.1,928.3L640.1,933.3L642.1,938.6L644.1,943.9L644.4,944.9L646.8,949.1L649.6,954.4L650.8,956.6L651.9,954.4L654.5,949.1L657.1,943.9L657.1,943.8L658.1,938.6L659.1,933.3L660.1,928.1L661.1,922.8L662.1,917.6L663.2,912.3L663.4,911.0L663.5,907.0L663.6,901.8L663.7,896.5L663.8,891.2L664.0,886.0L664.1,880.7L664.2,875.5L664.3,870.2L664.4,864.9L664.6,859.7L664.7,854.4L664.8,849.2L664.9,843.9L665.0,838.6L665.1,833.4L665.3,828.1L665.4,822.8L665.5,817.6L665.6,812.3L665.6,807.1L665.7,801.8L665.8,796.5L665.9,791.3L665.9,786.0L666.0,780.7L666.1,775.5L666.1,770.2L666.2,765.0L666.2,759.7L666.2,754.4L666.3,749.2L666.3,743.9L666.4,738.6L666.4,733.4L666.4,728.1L666.5,722.9L666.5,717.6L666.5,712.3L666.5,707.1L666.5,701.8L666.5,696.6L666.5,691.3L666.5,686.0L666.6,680.8L666.8,675.5L667.1,670.2L667.4,665.0L667.7,659.7L667.9,654.5L668.1,649.2L668.3,643.9L668.3,638.7L668.4,633.4L668.3,628.1L668.3,622.9L668.2,617.6L668.1,612.4L668.0,607.1L667.8,601.8L667.6,596.6L667.4,591.3L667.1,586.1L666.5,580.8L665.9,575.5L665.0,570.3L663.7,565.0L663.4,564.1L658.1,559.7L657.1,559.0L650.8,554.7L650.3,554.5L644.4,551.7L638.1,549.6L637.1,549.2L631.8,547.1L625.5,544.6L624.5,544.0L619.2,539.7L618.6,538.7L615.1,533.4L612.8,530.2L606.5,530.6L600.2,528.7L599.7,528.2L595.3,522.9L593.9,521.1L591.6,522.9L587.6,526.1L581.2,524.9L574.9,526.3L568.6,527.0L562.3,527.7L556.0,527.5L549.6,526.0L543.3,523.0L537.0,524.1L530.7,527.5L524.4,527.5L521.7,522.9L518.7,517.6L518.0,516.4L517.2,517.6L513.7,522.9L511.7,525.9L507.7,528.2L505.4,529.4L499.1,532.0L492.7,531.2L486.4,529.2L480.1,528.4L473.8,529.7L467.5,530.8L464.0,533.4L461.1,536.0L457.5,538.7L454.8,540.7L448.5,543.6M1181.0,1133.3L1181.1,1128.0L1181.1,1122.8L1181.2,1117.5L1181.3,1112.3L1181.4,1107.0L1181.5,1101.7L1181.6,1096.5L1181.7,1093.1L1181.8,1091.2L1181.9,1085.9L1182.0,1080.7L1182.2,1075.4L1182.3,1070.2L1182.5,1064.9L1182.7,1059.6L1182.8,1054.4L1183.0,1049.1L1183.2,1043.8L1183.4,1038.6L1183.6,1033.3L1183.8,1028.1L1184.1,1022.8L1184.3,1017.5L1184.6,1012.3L1184.9,1007.0L1185.2,1001.7L1185.6,996.5L1185.9,991.2L1186.3,986.0L1186.7,980.7L1187.1,975.4L1187.6,970.2L1188.0,965.5L1188.1,964.9L1188.7,959.7L1189.4,954.4L1190.1,949.1L1190.9,943.9L1191.7,938.6L1192.8,933.3L1194.1,928.1L1194.4,927.1L1196.9,922.8L1200.0,917.6L1200.7,916.5L1201.4,917.6L1204.9,922.8L1207.0,926.4M448.5,922.7L450.9,917.6L453.2,912.3L454.8,908.6L458.4,912.3L461.1,915.4L461.7,917.6L463.1,922.8L464.3,928.1L465.5,933.3L466.7,938.6L467.5,942.3L470.9,943.9L473.8,945.3L475.0,949.1L476.5,954.4L478.0,959.7L479.4,964.9L480.1,967.5L482.2,964.9L486.4,959.7L486.4,959.7L487.5,954.4L488.5,949.1L489.6,943.9L490.7,938.6L491.9,933.3L492.7,929.5L493.5,928.1L496.3,922.8L499.0,917.6L499.1,917.5L499.1,917.6L499.9,922.8L500.8,928.1L501.6,933.3L502.5,938.6L503.4,943.9L504.2,949.1L505.1,954.4L505.4,956.0L506.0,959.7L506.9,964.9L507.8,970.2L508.7,975.4L509.5,980.7L510.3,986.0L511.1,991.2L511.7,994.8L511.8,996.5L512.0,1001.7L512.2,1007.0L512.4,1012.3L512.6,1017.5L512.7,1022.8L512.9,1028.1L513.0,1033.3L513.2,1038.6L513.3,1043.8L513.4,1049.1L513.5,1054.4L513.6,1059.6L513.7,1064.9L513.7,1070.2L513.8,1075.4L513.8,1080.7L513.9,1085.9L513.9,1091.2L513.9,1096.5L513.9,1101.7L513.9,1107.0L513.8,1112.3L513.8,1117.5L513.8,1122.8L513.7,1128.0L513.7,1133.3M682.2,812.3L682.4,813.4L682.4,812.3L682.7,807.1L682.9,801.8L683.1,796.5L683.3,791.3L683.5,786.0L683.6,780.7L683.7,775.5L683.9,770.2L684.0,765.0L684.1,759.7L684.2,754.4L684.3,749.2L684.4,743.9L684.5,738.6L684.6,733.4L684.8,728.1L684.9,722.9L685.1,717.6L685.2,712.3L685.5,707.1L686.0,701.8L686.6,696.6L687.2,691.3L687.9,686.0L688.7,680.8L688.7,680.5L690.0,675.5L691.2,670.2L692.1,665.0L692.8,659.7L693.5,654.5L693.9,649.2L694.2,643.9L694.2,638.7L694.1,633.4L693.8,628.1L692.6,622.9L690.3,617.6L688.7,614.5L688.0,612.4L686.1,607.1L684.3,601.8L682.7,596.6L682.4,595.1L678.5,591.3L676.0,589.0L675.5,591.3L674.7,596.6L674.1,601.8L673.5,607.1L673.1,612.4L672.8,617.6L672.6,622.9L672.4,628.1L672.4,633.4L672.5,638.7L672.7,643.9L673.0,649.2L673.4,654.5L673.8,659.7L674.3,665.0L674.8,670.2L675.2,675.5L675.4,680.8L675.6,686.0L675.7,691.3L675.8,696.6L675.8,701.8L675.9,707.1L676.0,712.3L676.0,717.6L676.0,720.6L676.2,722.9L676.4,728.1L676.6,733.4L676.9,738.6L677.1,743.9L677.3,749.2L677.5,754.4L677.8,759.7L678.0,765.0L678.3,770.2L678.6,775.5L679.0,780.7L679.4,786.0L679.8,791.3L680.3,796.5L680.9,801.8L681.5,807.1L682.2,812.3M1207.0,564.0L1205.8,565.0L1200.7,569.3L1194.4,568.4L1189.4,565.0L1188.0,564.1L1183.2,559.7L1181.7,558.5L1175.4,555.4L1173.9,554.5L1169.1,551.7L1164.9,549.2L1162.8,548.0L1156.9,544.0L1156.4,543.7L1150.1,543.2L1143.8,543.1L1139.2,538.7L1137.5,537.2L1134.9,533.4L1131.4,528.2L1131.2,527.8L1128.4,522.9L1125.6,517.6L1124.8,516.2L1121.8,512.4L1118.5,508.5L1117.1,507.1L1112.2,502.3L1110.2,501.9L1105.9,500.9L1099.5,497.0L1099.0,496.6L1093.2,492.7L1086.9,492.1L1080.6,492.1L1078.2,491.3L1074.3,489.9L1067.9,487.8L1061.6,487.6L1055.3,490.5L1049.0,490.3L1042.7,489.0L1036.9,486.1L1036.3,485.8L1035.3,486.1L1030.0,487.4L1023.7,486.3L1021.9,486.1L1017.4,485.6L1011.1,485.6L1009.3,486.1L1004.7,487.5L998.4,491.3L998.3,491.3L992.5,496.6L992.1,497.0L987.7,501.9L985.8,504.0L980.5,507.1L979.5,507.7L973.1,509.8L967.5,507.1L966.8,506.8L960.5,502.5L954.2,503.7L953.0,507.1L951.1,512.4L949.2,517.6L947.8,521.4L947.4,522.9L945.9,528.2L944.3,533.4L942.7,538.7L941.5,542.7L941.0,544.0L938.8,549.2L936.5,554.5L935.2,557.4L934.1,559.7L931.7,565.0L929.4,570.3L928.9,571.6L924.9,575.5L922.6,577.6L918.1,580.8L916.2,582.1L912.2,586.1L909.9,588.2L906.8,591.3L903.6,594.5L900.5,596.6L897.3,599.0L891.8,601.8L891.0,602.3L887.6,601.8L884.6,601.5L878.3,601.6L875.9,601.8L872.0,602.4L870.7,601.8L865.7,599.7L859.4,597.1L856.2,596.6L853.0,596.0L846.7,593.1L844.9,591.3L840.4,587.0L840.2,586.1L838.7,580.8L837.4,575.5L836.1,570.3L835.0,565.0L834.1,560.0L833.0,565.0L831.7,570.3L830.1,575.5L828.5,580.8L827.8,583.3L821.4,584.5L815.1,584.2L808.8,584.6L802.5,581.8L801.2,580.8L796.1,575.9L795.9,575.5L792.7,570.3L789.9,565.0L789.8,564.8L784.4,559.7L783.5,559.0L777.2,558.2L770.9,558.1L764.5,557.2L758.2,558.6L757.7,559.7L754.8,565.0L751.9,570.2L751.9,570.3L750.7,575.5L749.6,580.8L748.6,586.1L747.6,591.3L746.7,596.6L745.8,601.8L745.6,602.8L744.6,607.1L743.3,612.4L742.2,617.6L741.2,622.9L740.2,628.1L739.3,633.4L739.3,634.0L739.1,633.4L738.1,628.1L736.9,622.9L735.7,617.6L734.5,612.4L733.3,607.1L732.9,605.6L732.7,607.1L731.7,612.4L730.8,617.6L729.8,622.9L728.9,628.1L727.9,633.4L726.9,638.7L726.6,640.4L725.8,643.9L724.8,649.2L724.0,654.5L723.4,659.7L722.9,665.0L722.5,670.2L722.2,675.5L721.9,680.8L721.6,686.0L721.4,691.3L721.3,696.6L721.1,701.8L721.0,707.1L720.9,712.3L720.8,717.6L720.7,722.9L720.6,728.1L720.6,733.4L720.5,738.6L720.5,743.9L720.4,749.2L720.4,754.4L720.3,759.7L720.3,760.9L720.0,765.0L719.7,770.2L719.4,775.5L719.1,780.7L718.9,786.0L718.7,791.3L718.5,796.5L718.3,801.8L718.2,807.1L718.0,812.3L717.9,817.6L717.8,822.8L717.8,828.1L717.7,833.4L717.7,838.6L717.7,843.9L717.7,849.2L717.8,854.4L717.8,859.7L717.9,864.9L717.9,870.2L718.0,875.5L718.1,880.7L718.2,886.0L718.3,891.2L718.4,896.5L718.5,901.8L718.6,907.0L718.7,912.3L718.8,917.6L719.0,922.8L719.1,928.1L719.2,933.3L719.3,938.6L719.4,943.9L719.5,949.1L719.6,954.4L719.7,959.7L719.8,964.9L719.9,970.2L720.0,975.4L720.1,980.7L720.2,986.0L720.3,991.2L720.3,992.3L720.3,996.5L720.3,1001.7L720.3,1007.0L720.4,1012.3L720.4,1017.5L720.4,1022.8L720.4,1028.1L720.4,1033.3L720.4,1038.6L720.4,1043.8L720.5,1049.1L720.5,1054.4L720.5,1059.6L720.5,1064.9L720.5,1070.2L720.5,1075.4L720.5,1080.7L720.6,1085.9L720.6,1091.2L720.6,1096.5L720.6,1101.7L720.6,1107.0L720.6,1112.3L720.7,1117.5L720.7,1122.8L720.7,1128.0L720.7,1133.3M1164.9,1133.3L1165.0,1128.0L1165.0,1122.8L1165.1,1117.5L1165.2,1112.3L1165.2,1107.0L1165.3,1101.7L1165.4,1096.5L1165.6,1091.2L1165.7,1085.9L1165.8,1080.7L1165.9,1075.4L1166.1,1070.2L1166.2,1064.9L1166.4,1059.6L1166.5,1054.4L1166.7,1049.1L1166.8,1043.8L1167.0,1038.6L1167.2,1033.3L1167.4,1028.1L1167.6,1022.8L1167.8,1017.5L1168.0,1012.3L1168.2,1007.0L1168.4,1001.7L1168.7,996.5L1169.0,991.2L1169.1,989.4L1169.3,986.0L1169.6,980.7L1169.9,975.4L1170.3,970.2L1170.6,964.9L1171.0,959.7L1171.4,954.4L1171.9,949.1L1172.3,943.9L1172.9,938.6L1173.6,933.3L1174.5,928.1L1175.4,923.4L1175.5,922.8L1177.0,917.6L1178.5,912.3L1180.2,907.0L1181.7,902.1L1181.8,901.8L1183.4,896.5L1185.0,891.2L1186.5,886.0L1188.0,880.7L1188.0,880.5L1189.6,875.5L1191.2,870.2L1192.7,864.9L1194.3,859.7L1194.4,859.5L1196.6,854.4L1198.8,849.2L1200.6,843.9L1200.7,843.8L1204.6,838.6L1207.0,833.7M448.5,730.2L454.8,729.1L460.1,733.4L461.1,734.3L463.7,738.6L466.5,743.9L467.5,746.2L473.7,749.2L473.8,749.2L477.4,754.4L480.1,758.6L486.4,757.1L488.1,754.4L491.4,749.2L492.7,747.2L498.8,743.9L499.1,743.8L499.1,743.9L500.8,749.2L502.4,754.4L504.0,759.7L505.4,764.3L505.6,765.0L507.0,770.2L508.3,775.5L509.6,780.7L510.8,786.0L511.7,790.3L511.8,791.3L512.2,796.5L512.6,801.8L513.0,807.1L513.3,812.3L513.7,817.6L514.0,822.8L514.3,828.1L514.6,833.4L514.9,838.6L515.2,843.9L515.5,849.2L515.8,854.4L516.0,859.7L516.3,864.9L516.6,870.2L517.0,875.5L517.3,880.7L517.6,886.0L518.0,891.2L518.0,892.1L518.1,891.2L518.4,886.0L518.6,880.7L518.9,875.5L519.2,870.2L519.5,864.9L519.7,859.7L520.0,854.4L520.2,849.2L520.5,843.9L520.7,838.6L520.9,833.4L521.2,828.1L521.5,822.8L521.7,817.6L522.0,812.3L522.3,807.1L522.6,801.8L522.9,796.5L523.3,791.3L523.6,786.0L523.9,780.7L524.2,775.5L524.3,773.3L530.7,770.5L532.1,775.5L533.6,780.7L535.1,786.0L536.6,791.3L537.0,792.6L543.3,793.6L543.9,791.3L545.3,786.0L546.8,780.7L548.3,775.5L549.6,771.4L551.2,770.2L556.0,766.9L561.0,770.2L562.3,771.1L565.3,775.5L568.6,780.5L568.9,780.7L573.3,786.0L574.9,788.0L577.1,791.3L580.4,796.5L581.2,798.0L582.1,796.5L584.9,791.3L587.6,786.4L588.4,791.3L589.2,796.5L590.0,801.8L590.8,807.1L591.5,812.3L592.1,817.6L592.8,822.8L593.4,828.1L593.9,832.1L594.2,828.1L594.6,822.8L595.0,817.6L595.4,812.3L595.8,807.1L596.2,801.8L596.6,796.5L597.0,791.3L597.5,786.0L597.9,780.7L598.4,775.5L598.9,770.2L599.4,765.0L600.0,759.7L600.2,757.7L601.9,754.4L604.7,749.2L606.5,746.2L608.2,749.2L610.7,754.4L612.8,759.7L612.8,760.0L612.9,759.7L613.6,754.4L614.5,749.2L615.4,743.9L616.3,738.6L617.3,733.4L618.3,728.1L619.2,723.8L619.8,722.9L624.3,717.6L625.5,716.5L631.8,714.3L635.1,712.3L638.1,710.5L644.1,707.1L644.4,706.8L647.4,701.8L649.3,696.6L650.7,691.3L650.8,691.0L651.9,686.0L653.2,680.8L654.6,675.5L656.2,670.2L657.1,666.9L657.6,665.0L658.8,659.7L659.7,654.5L660.3,649.2L660.6,643.9L660.8,638.7L660.8,633.4L660.6,628.1L660.2,622.9L659.8,617.6L659.2,612.4L658.5,607.1L657.6,601.8L657.1,599.4L656.5,596.6L655.3,591.3L653.8,586.1L652.1,580.8L650.8,576.7L650.0,575.5L644.4,572.3L638.3,570.3L638.1,570.2L631.8,567.7L626.3,565.0L625.5,564.6L620.4,559.7L619.2,558.9L616.3,554.5L612.8,549.4L611.5,549.2L606.5,548.5L600.2,545.6L598.8,544.0L593.9,538.9L589.4,544.0L587.6,546.7L581.2,548.4L579.8,549.2L574.9,552.0L568.6,552.0L562.3,550.6L559.0,549.2L556.0,548.0L549.6,545.0L548.1,544.0L543.3,541.1L537.0,541.3L531.2,544.0L530.7,544.2L524.4,544.0L524.3,544.0L521.5,538.7L518.5,533.4L518.0,532.7L517.5,533.4L513.7,538.7L511.7,541.5L506.4,544.0L505.4,544.4L499.1,547.7L492.7,547.7L486.4,546.9L480.1,547.6L476.8,549.2L473.8,550.5L467.5,552.9L465.6,554.5L461.1,558.2L459.5,559.7L454.9,565.0L454.8,565.2L450.7,570.3L448.5,572.7M1207.0,596.9L1201.0,601.8L1200.7,602.1L1199.8,601.8L1194.4,600.3L1190.3,596.6L1188.0,594.6L1185.1,591.3L1181.7,587.7L1178.9,586.1L1175.4,584.0L1170.5,580.8L1169.1,579.9L1162.8,575.8L1162.4,575.5L1156.4,570.8L1153.9,570.3L1150.1,569.4L1143.8,567.9L1141.6,565.0L1137.5,559.8L1137.4,559.7L1134.5,554.5L1131.3,549.2L1131.2,549.0L1128.1,544.0L1124.8,538.8L1124.7,538.7L1119.9,533.4L1118.5,531.7L1115.2,528.2L1112.2,524.8L1107.9,522.9L1105.9,522.0L1101.1,517.6L1099.5,516.4L1095.3,512.4L1093.2,510.6L1086.9,508.8L1080.6,508.3L1076.3,507.1L1074.3,506.5L1067.9,504.8L1061.6,504.6L1055.3,506.9L1049.0,507.1L1042.7,506.5L1036.3,504.6L1030.0,506.0L1023.7,504.9L1017.4,504.2L1011.1,504.0L1004.7,505.4L1001.5,507.1L998.4,508.5L993.3,512.4L992.1,513.3L987.4,517.6L985.8,519.2L980.2,522.9L979.5,523.4L973.1,527.0L966.8,525.4L960.5,523.3L954.2,527.0L953.7,528.2L951.5,533.4L949.3,538.7L947.8,542.2L947.3,544.0L945.7,549.2L944.2,554.5L942.6,559.7L941.5,563.3L940.8,565.0L938.3,570.3L936.0,575.5L935.2,577.4L933.7,580.8L931.4,586.1L929.3,591.3L928.9,592.3L923.5,596.6L922.6,597.3L916.2,601.0L915.2,601.8L909.9,605.6L908.4,607.1L903.6,611.5L902.7,612.4L897.4,617.6L897.3,617.7L891.0,621.6L884.6,620.7L878.3,620.4L872.0,621.5L865.7,619.5L859.4,617.7L858.8,617.6L853.0,617.0L846.7,615.0L843.0,612.4L840.4,610.2L839.7,607.1L838.6,601.8L837.4,596.6L836.1,591.3L834.7,586.1L834.1,583.8L833.4,586.1L831.8,591.3L830.5,596.6L829.2,601.8L828.1,607.1L827.8,608.3L821.4,609.4L815.1,609.0L808.8,608.5L805.9,607.1L802.5,605.2L796.1,602.6L794.6,601.8L789.8,598.7L788.0,596.6L784.2,591.3L783.5,590.3L777.7,586.1L777.2,585.7L770.9,582.5L764.5,581.8L758.2,583.2L756.9,586.1L754.9,591.3L753.3,596.6L751.9,601.8L751.9,601.8L750.7,607.1L749.6,612.4L748.6,617.6L747.6,622.9L746.7,628.1L745.9,633.4L745.6,635.5L745.0,638.7L744.0,643.9L743.0,649.2L742.0,654.5L741.0,659.7L739.9,665.0L739.3,668.1L738.3,665.0L736.9,659.7L735.6,654.5L734.3,649.2L733.1,643.9L732.9,643.3L732.8,643.9L731.8,649.2L730.8,654.5L729.8,659.7L728.9,665.0L728.1,670.2L727.3,675.5L726.6,680.5L726.6,680.8L726.0,686.0L725.6,691.3L725.1,696.6L724.8,701.8L724.4,707.1L724.2,712.3L723.9,717.6L723.7,722.9L723.5,728.1L723.4,733.4L723.2,738.6L723.1,743.9L723.0,749.2L722.8,754.4L722.7,759.7L722.6,765.0L722.5,770.2L722.4,775.5L722.3,780.7L722.3,786.0L722.2,791.3L722.1,796.5L722.1,801.8L722.0,807.1L722.0,812.3L721.9,817.6L721.9,822.8L721.8,828.1L721.8,833.4L721.7,838.6L721.7,843.9L721.7,849.2L721.6,854.4L721.6,859.7L721.6,864.9L721.6,870.2L721.5,875.5L721.5,880.7L721.5,886.0L721.5,891.2L721.5,896.5L721.5,901.8L721.5,907.0L721.5,912.3L721.5,917.6L721.5,922.8L721.5,928.1L721.6,933.3L721.6,938.6L721.6,943.9L721.6,949.1L721.6,954.4L721.6,959.7L721.6,964.9L721.7,970.2L721.7,975.4L721.7,980.7L721.7,986.0L721.7,991.2L721.7,996.5L721.7,1001.7L721.8,1007.0L721.8,1012.3L721.8,1017.5L721.8,1022.8L721.8,1028.1L721.8,1033.3L721.8,1038.6L721.8,1043.8L721.9,1049.1L721.9,1054.4L721.9,1059.6L721.9,1064.9L721.9,1070.2L721.9,1075.4L722.0,1080.7L722.0,1085.9L722.0,1091.2L722.0,1096.5L722.1,1101.7L722.1,1107.0L722.1,1112.3L722.1,1117.5L722.2,1122.8L722.2,1128.0L722.2,1133.3M1143.7,1133.3L1143.7,1128.0L1143.8,1122.8L1143.8,1117.5L1143.8,1116.8L1143.9,1112.3L1143.9,1107.0L1144.1,1101.7L1144.2,1096.5L1144.3,1091.2L1144.4,1085.9L1144.6,1080.7L1144.8,1075.4L1144.9,1070.2L1145.1,1064.9L1145.3,1059.6L1145.6,1054.4L1145.8,1049.1L1146.1,1043.8L1146.4,1038.6L1146.8,1033.3L1147.3,1028.1L1147.8,1022.8L1148.4,1017.5L1149.0,1012.3L1149.6,1007.0L1150.1,1003.5L1150.3,1001.7L1150.9,996.5L1151.5,991.2L1152.1,986.0L1152.8,980.7L1153.5,975.4L1154.3,970.2L1155.1,964.9L1155.9,959.7L1156.4,956.8L1156.6,954.4L1157.1,949.1L1157.5,943.9L1158.1,938.6L1158.9,933.3L1159.8,928.1L1160.8,922.8L1162.0,917.6L1162.8,914.5L1163.3,912.3L1164.5,907.0L1165.8,901.8L1167.2,896.5L1168.6,891.2L1169.1,889.7L1170.1,886.0L1171.5,880.7L1172.8,875.5L1174.2,870.2L1175.4,865.7L1175.6,864.9L1177.4,859.7L1179.3,854.4L1181.2,849.2L1181.7,847.9L1183.0,843.9L1184.7,838.6L1186.3,833.4L1187.9,828.1L1188.0,827.6L1189.4,822.8L1190.9,817.6L1192.2,812.3L1193.3,807.1L1194.3,801.8L1194.4,801.4L1195.3,796.5L1196.1,791.3L1196.8,786.0L1197.5,780.7L1198.2,775.5L1198.9,770.2L1199.6,765.0L1200.4,759.7L1200.7,757.8L1201.6,754.4L1203.2,749.2L1205.2,743.9L1207.0,740.0M448.5,673.3L454.8,673.8L456.8,675.5L461.1,679.2L462.4,680.8L466.7,686.0L467.5,686.9L473.8,688.3L480.1,691.1L486.4,689.9L492.7,686.6L495.6,686.0L499.1,685.7L500.1,686.0L505.4,689.0L509.4,691.3L511.7,693.7L512.4,696.6L513.6,701.8L514.6,707.1L515.4,712.3L516.1,717.6L516.8,722.9L517.5,728.1L518.0,732.8L518.5,728.1L519.0,722.9L519.5,717.6L520.1,712.3L520.8,707.1L521.5,701.8L522.3,696.6L523.3,691.3L524.4,687.6L530.7,689.6L531.8,691.3L534.3,696.6L536.7,701.8L537.0,702.4L542.1,707.1L543.3,708.2L544.4,707.1L549.6,702.3L550.5,701.8L556.0,699.0L562.3,696.6L563.0,696.6L568.6,696.0L572.9,696.6L574.9,696.9L581.2,701.1L587.6,697.7L589.4,701.8L591.5,707.1L593.6,712.3L593.9,713.0L594.0,712.3L595.4,707.1L596.9,701.8L598.4,696.6L600.1,691.3L600.2,691.0L606.5,687.9L610.4,691.3L612.8,693.3L613.8,691.3L616.2,686.0L618.5,680.8L619.2,678.8L621.7,675.5L623.9,670.2L625.4,665.0L625.5,664.6L626.8,659.7L627.9,654.5L628.7,649.2L629.1,643.9L629.2,638.7L628.9,633.4L628.2,628.1L627.1,622.9L625.8,617.6L625.5,616.7L624.6,612.4L623.5,607.1L622.1,601.8L620.2,596.6L619.2,594.5L618.4,591.3L616.8,586.1L615.0,580.8L612.9,575.5L612.8,575.5L606.5,574.6L600.2,570.5L600.1,570.3L597.0,565.0L593.9,560.5L590.8,565.0L587.6,569.2L581.2,569.2L578.0,570.3L574.9,571.4L568.6,571.7L562.3,571.1L559.7,570.3L556.0,569.1L549.6,565.8L548.6,565.0L543.3,560.8L537.0,560.6L530.7,564.0L524.4,563.6L522.7,559.7L520.4,554.5L518.0,549.5L515.0,554.5L512.0,559.7L511.7,560.2L505.4,564.1L503.9,565.0L499.1,567.8L492.7,567.4L486.4,565.6L480.1,565.6L473.8,568.3L470.0,570.3L467.5,571.7L464.8,575.5L461.3,580.8L461.1,581.0L457.7,586.1L454.8,590.9L454.5,591.3L451.8,596.6L449.4,601.8L448.5,604.3M1207.0,632.7L1206.2,633.4L1200.7,638.3L1194.4,635.1L1192.8,633.4L1188.0,628.8L1187.5,628.1L1183.1,622.9L1181.7,621.2L1177.1,617.6L1175.4,616.3L1170.7,612.4L1169.1,611.1L1164.1,607.1L1162.8,606.1L1158.3,601.8L1156.4,600.2L1150.1,597.8L1147.3,596.6L1143.8,595.1L1141.5,591.3L1138.2,586.1L1137.5,585.0L1135.5,580.8L1132.9,575.5L1131.2,572.0L1130.3,570.3L1127.7,565.0L1124.9,559.7L1124.8,559.7L1120.4,554.5L1118.5,552.3L1115.4,549.2L1112.2,546.1L1107.5,544.0L1105.9,543.2L1101.9,538.7L1099.5,536.1L1097.6,533.4L1093.4,528.2L1093.2,527.9L1086.9,524.4L1080.6,523.2L1079.4,522.9L1074.3,521.7L1067.9,520.6L1061.6,521.1L1057.4,522.9L1055.3,523.8L1049.0,523.1L1048.4,522.9L1042.7,521.0L1036.3,518.0L1030.0,518.8L1023.7,517.9L1020.9,517.6L1017.4,517.4L1011.1,517.3L1009.4,517.6L1004.7,518.7L998.4,522.1L997.4,522.9L992.1,527.5L991.5,528.2L986.4,533.4L985.8,534.2L980.1,538.7L979.5,539.3L973.1,543.9L966.8,542.8L960.5,541.6L957.2,544.0L954.2,546.2L952.9,549.2L950.8,554.5L948.8,559.7L947.8,562.3L947.0,565.0L945.3,570.3L943.5,575.5L941.7,580.8L941.5,581.2L939.2,586.1L936.9,591.3L935.2,595.5L934.7,596.6L932.5,601.8L930.3,607.1L928.9,610.2L925.6,612.4L922.6,614.3L916.8,617.6L916.2,618.0L909.9,622.4L909.4,622.9L903.9,628.1L903.6,628.5L897.6,633.4L897.3,633.7L891.0,636.6L884.6,636.5L878.3,637.4L872.0,638.2L865.7,635.3L860.6,633.4L859.4,633.0L853.0,631.8L846.7,629.9L844.0,628.1L840.4,625.8L839.5,622.9L837.9,617.6L836.5,612.4L835.1,607.1L834.1,603.0L832.9,607.1L831.5,612.4L830.0,617.6L828.5,622.9L827.8,625.3L821.4,625.3L815.1,623.8L808.8,623.7L805.7,622.9L802.5,622.0L796.1,618.4L795.0,617.6L789.8,614.2L786.6,612.4L783.5,610.6L777.2,607.2L777.1,607.1L770.9,601.9L770.5,601.8L764.5,601.3L763.0,601.8L758.2,603.6L757.0,607.1L755.4,612.4L754.0,617.6L752.8,622.9L751.9,627.1L751.7,628.1L750.7,633.4L749.7,638.7L748.8,643.9L748.0,649.2L747.2,654.5L746.5,659.7L745.7,665.0L745.6,665.9L744.7,670.2L743.6,675.5L742.5,680.8L741.3,686.0L740.0,691.3L739.3,694.1L737.8,691.3L735.7,686.0L734.0,680.8L732.9,677.0L732.3,680.8L731.5,686.0L730.7,691.3L730.0,696.6L729.3,701.8L728.6,707.1L728.0,712.3L727.4,717.6L726.9,722.9L726.6,725.2L726.5,728.1L726.2,733.4L725.9,738.6L725.7,743.9L725.5,749.2L725.3,754.4L725.1,759.7L725.0,765.0L724.8,770.2L724.7,775.5L724.5,780.7L724.4,786.0L724.3,791.3L724.2,796.5L724.1,801.8L724.0,807.1L723.9,812.3L723.8,817.6L723.7,822.8L723.7,828.1L723.6,833.4L723.5,838.6L723.5,843.9L723.4,849.2L723.3,854.4L723.3,859.7L723.2,864.9L723.2,870.2L723.1,875.5L723.1,880.7L723.1,886.0L723.0,891.2L723.0,896.5L723.0,901.8L723.0,907.0L723.0,912.3L723.0,917.6L723.0,922.8L723.0,928.1L723.0,933.3L723.0,938.6L723.0,943.9L723.0,949.1L723.1,954.4L723.1,959.7L723.1,964.9L723.1,970.2L723.1,975.4L723.1,980.7L723.1,986.0L723.1,991.2L723.1,996.5L723.2,1001.7L723.2,1007.0L723.2,1012.3L723.2,1017.5L723.2,1022.8L723.2,1028.1L723.2,1033.3L723.2,1038.6L723.2,1043.8L723.2,1049.1L723.3,1054.4L723.3,1059.6L723.3,1064.9L723.3,1070.2L723.3,1075.4L723.4,1080.7L723.4,1085.9L723.4,1091.2L723.5,1096.5L723.5,1101.7L723.5,1107.0L723.6,1112.3L723.6,1117.5L723.6,1122.8L723.7,1128.0L723.7,1133.3M1131.5,1133.3L1131.5,1128.0L1131.5,1122.8L1131.5,1117.5L1131.5,1112.3L1131.5,1107.0L1131.5,1101.7L1131.5,1096.5L1131.5,1091.2L1131.5,1085.9L1131.5,1080.7L1131.5,1075.4L1131.5,1070.2L1131.5,1064.9L1131.5,1059.6L1131.5,1054.4L1131.6,1049.1L1131.6,1043.8L1131.6,1038.6L1131.7,1033.3L1131.8,1028.1L1131.9,1022.8L1132.0,1017.5L1132.2,1012.3L1132.3,1007.0L1132.5,1001.7L1132.7,996.5L1132.9,991.2L1133.1,986.0L1133.3,980.7L1133.5,975.4L1133.7,970.2L1133.9,964.9L1134.2,959.7L1134.4,954.4L1134.7,949.1L1134.9,943.9L1135.2,938.6L1135.6,933.3L1136.0,928.1L1136.4,922.8L1137.0,917.6L1137.5,913.0L1137.6,912.3L1138.6,907.0L1139.7,901.8L1141.0,896.5L1142.3,891.2L1143.7,886.0L1143.8,885.7L1150.1,882.9L1151.9,880.7L1156.4,875.5L1156.4,875.5L1157.8,870.2L1159.1,864.9L1160.4,859.7L1161.9,854.4L1162.8,851.4L1163.4,849.2L1164.9,843.9L1166.6,838.6L1168.5,833.4L1169.1,831.8L1170.4,828.1L1172.4,822.8L1174.5,817.6L1175.4,815.4L1176.6,812.3L1178.5,807.1L1180.2,801.8L1181.7,796.7L1181.8,796.5L1182.6,791.3L1183.3,786.0L1184.1,780.7L1184.8,775.5L1185.4,770.2L1186.0,765.0L1186.6,759.7L1187.1,754.4L1187.6,749.2L1188.0,744.6L1188.1,743.9L1188.5,738.6L1188.9,733.4L1189.3,728.1L1189.5,722.9L1189.7,717.6L1189.8,712.3L1189.8,707.1L1189.7,701.8L1189.4,696.6L1189.0,691.3L1188.4,686.0L1188.0,683.8L1187.6,680.8L1186.8,675.5L1185.7,670.2L1184.5,665.0L1183.2,659.7L1181.7,655.3L1181.1,654.5L1176.1,649.2L1175.4,648.6L1169.4,643.9L1169.1,643.7L1162.8,638.7L1162.7,638.7L1158.2,633.4L1156.4,631.4L1150.8,628.1L1150.1,627.8L1143.8,624.0L1143.2,622.9L1140.4,617.6L1137.5,612.4L1137.5,612.4L1135.3,607.1L1133.2,601.8L1131.2,597.2L1130.9,596.6L1128.7,591.3L1126.3,586.1L1124.8,582.8L1123.5,580.8L1119.9,575.5L1118.5,573.5L1115.9,570.3L1112.2,565.8L1110.9,565.0L1105.9,562.2L1103.7,559.7L1099.5,555.1L1099.1,554.5L1095.3,549.2L1093.2,546.4L1090.0,544.0L1086.9,541.7L1080.6,540.2L1075.9,538.7L1074.3,538.2L1067.9,536.5L1061.6,536.4L1055.3,538.6L1049.0,538.0L1042.7,536.0L1037.8,533.4L1036.3,532.6L1030.4,533.4L1030.0,533.5L1029.5,533.4L1023.7,532.9L1017.4,532.5L1011.1,532.7L1008.6,533.4L1004.7,534.6L998.4,538.1L997.8,538.7L992.1,543.6L991.8,544.0L987.3,549.2L985.8,550.9L981.8,554.5L979.5,556.5L974.9,559.7L973.1,560.9L966.8,560.5L960.5,559.8L954.3,565.0L954.2,565.2L952.0,570.3L949.8,575.5L947.8,579.9L947.5,580.8L945.6,586.1L943.6,591.3L941.6,596.6L941.5,596.9L939.4,601.8L937.3,607.1L935.2,611.9L935.0,612.4L932.4,617.6L929.8,622.9L928.9,624.9L924.9,628.1L922.6,630.1L918.1,633.4L916.2,634.8L910.3,638.7L909.9,638.9L903.6,643.4L902.9,643.9L897.3,649.1L897.2,649.2L891.0,653.2L884.6,653.1L878.3,654.2L874.5,654.5L872.0,654.6L871.7,654.5L865.7,651.1L861.7,649.2L859.4,648.1L853.0,646.6L846.7,645.0L844.5,643.9L840.4,641.8L839.5,638.7L837.9,633.4L836.4,628.1L834.9,622.9L834.1,619.9L833.2,622.9L831.7,628.1L830.2,633.4L828.5,638.7L827.8,641.1L821.4,641.0L815.1,639.1L810.6,638.7L808.8,638.5L802.5,636.6L796.1,633.8L795.5,633.4L789.8,629.8L786.7,628.1L783.5,626.4L777.2,624.2L775.6,622.9L770.9,618.9L764.5,618.4L758.2,621.5L757.8,622.9L756.4,628.1L755.2,633.4L754.1,638.7L753.1,643.9L752.2,649.2L751.9,651.4L751.4,654.5L750.6,659.7L749.8,665.0L749.0,670.2L748.3,675.5L747.6,680.8L746.9,686.0L746.1,691.3L745.6,694.0L744.9,696.6L743.5,701.8L742.2,707.1L741.2,712.3L740.3,717.6L739.5,722.9L739.3,725.3L737.0,722.9L733.3,717.6L732.9,717.0L732.9,717.6L732.4,722.9L731.9,728.1L731.5,733.4L731.0,738.6L730.5,743.9L730.0,749.2L729.5,754.4L729.0,759.7L728.5,765.0L727.9,770.2L727.4,775.5L726.9,780.7L726.6,783.7L726.5,786.0L726.4,791.3L726.2,796.5L726.1,801.8L726.0,807.1L725.9,812.3L725.7,817.6L725.6,822.8L725.5,828.1L725.4,833.4L725.3,838.6L725.2,843.9L725.1,849.2L725.0,854.4L725.0,859.7L724.9,864.9L724.8,870.2L724.7,875.5L724.7,880.7L724.6,886.0L724.6,891.2L724.5,896.5L724.5,901.8L724.5,907.0L724.5,912.3L724.5,917.6L724.5,922.8L724.5,928.1L724.5,933.3L724.5,938.6L724.5,943.9L724.5,949.1L724.5,954.4L724.5,959.7L724.5,964.9L724.5,970.2L724.5,975.4L724.5,980.7L724.5,986.0L724.5,991.2L724.6,996.5L724.6,1001.7L724.6,1007.0L724.6,1012.3L724.6,1017.5L724.6,1022.8L724.6,1028.1L724.6,1033.3L724.6,1038.6L724.6,1043.8L724.6,1049.1L724.6,1054.4L724.7,1059.6L724.7,1064.9L724.7,1070.2L724.8,1075.4L724.8,1080.7L724.8,1085.9L724.9,1091.2L724.9,1096.5L724.9,1101.7L725.0,1107.0L725.0,1112.3L725.1,1117.5L725.1,1122.8L725.1,1128.0L725.2,1133.3M518.0,680.8L518.0,680.9L518.1,680.8L520.4,675.5L522.4,670.2L524.1,665.0L524.4,664.2L530.7,664.6L531.1,665.0L535.7,670.2L537.0,671.7L543.1,675.5L543.3,675.6L543.6,675.5L549.6,672.2L556.0,670.3L557.3,670.2L562.3,670.1L562.9,670.2L568.6,670.8L574.9,671.1L581.2,671.8L584.8,670.2L587.6,668.6L589.3,670.2L593.9,673.9L595.7,670.2L597.9,665.0L599.7,659.7L600.2,657.8L602.2,654.5L604.8,649.2L606.5,644.9L607.4,643.9L610.3,638.7L610.9,633.4L610.1,628.1L608.2,622.9L606.5,619.6L605.9,617.6L603.9,612.4L601.2,607.1L600.2,605.6L599.1,601.8L597.2,596.6L595.0,591.3L593.9,589.0L592.4,591.3L589.2,596.6L587.6,599.5L581.2,597.5L574.9,600.6L568.6,601.0L562.3,599.5L557.7,596.6L556.0,595.4L551.5,591.3L549.6,589.9L545.7,586.1L543.3,584.1L537.0,584.7L535.4,586.1L530.7,590.5L524.4,590.5L523.1,586.1L521.6,580.8L519.9,575.5L518.0,570.6L515.6,575.5L513.2,580.8L511.7,584.3L509.2,586.1L505.4,589.1L502.7,591.3L499.1,594.5L492.7,593.9L486.4,591.5L480.1,592.5L475.2,596.6L473.8,597.7L469.0,601.8L467.5,603.2L465.5,607.1L463.2,612.4L461.4,617.6L461.1,618.6L460.2,622.9L459.7,628.1L460.1,633.4L461.1,637.1L461.6,638.7L464.0,643.9L467.2,649.2L467.5,649.7L473.3,654.5L473.8,654.9L477.7,659.7L480.1,662.3L484.0,665.0L486.4,666.5L492.7,667.5L499.1,667.7L504.7,670.2L505.4,670.5L511.7,671.9L514.0,675.5L518.0,680.8M1120.0,1133.3L1120.0,1128.0L1120.0,1122.8L1120.0,1117.5L1120.0,1112.3L1120.0,1107.0L1119.9,1101.7L1119.9,1096.5L1119.9,1091.2L1119.9,1085.9L1119.9,1080.7L1119.9,1075.4L1119.9,1070.2L1119.8,1064.9L1119.8,1059.6L1119.8,1054.4L1119.8,1049.1L1119.8,1043.8L1119.9,1038.6L1120.0,1033.3L1120.1,1028.1L1120.3,1022.8L1120.5,1017.5L1120.7,1012.3L1120.9,1007.0L1121.1,1001.7L1121.4,996.5L1121.6,991.2L1121.9,986.0L1122.2,980.7L1122.5,975.4L1122.8,970.2L1123.1,964.9L1123.4,959.7L1123.7,954.4L1124.0,949.1L1124.3,943.9L1124.6,938.6L1124.8,935.6L1124.9,933.3L1125.3,928.1L1125.6,922.8L1126.0,917.6L1126.4,912.3L1126.8,907.0L1127.3,901.8L1127.8,896.5L1128.3,891.2L1128.9,886.0L1129.5,880.7L1130.0,875.5L1130.7,870.2L1131.2,866.0L1131.3,864.9L1132.1,859.7L1132.9,854.4L1133.7,849.2L1134.5,843.9L1135.3,838.6L1136.1,833.4L1136.8,828.1L1137.5,823.9L1137.7,822.8L1139.1,817.6L1140.4,812.3L1141.8,807.1L1143.3,801.8L1143.8,800.1L1150.1,800.4L1156.4,796.7L1156.5,796.5L1158.5,791.3L1160.6,786.0L1162.8,781.3L1163.0,780.7L1165.4,775.5L1167.6,770.2L1169.1,766.3L1169.5,765.0L1170.9,759.7L1172.1,754.4L1173.1,749.2L1173.9,743.9L1174.4,738.6L1174.8,733.4L1175.0,728.1L1175.0,722.9L1174.7,717.6L1174.1,712.3L1173.1,707.1L1171.8,701.8L1169.9,696.6L1169.1,694.7L1167.4,691.3L1164.3,686.0L1162.8,683.8L1161.0,680.8L1158.0,675.5L1156.4,672.8L1154.3,670.2L1150.1,665.8L1149.5,665.0L1145.1,659.7L1143.8,658.2L1142.4,654.5L1140.5,649.2L1138.3,643.9L1137.5,642.0L1136.4,638.7L1134.5,633.4L1132.6,628.1L1131.2,624.5L1130.6,622.9L1128.6,617.6L1126.7,612.4L1124.8,607.6L1124.6,607.1L1121.7,601.8L1118.5,596.6L1118.5,596.6L1114.8,591.3L1112.2,587.7L1110.0,586.1L1105.9,583.1L1104.1,580.8L1099.8,575.5L1099.5,575.2L1096.1,570.3L1093.2,566.0L1092.2,565.0L1086.9,559.9L1086.5,559.7L1080.6,557.3L1074.3,554.8L1073.4,554.5L1067.9,552.5L1061.6,551.9L1055.3,553.8L1049.0,553.0L1042.7,550.7L1039.7,549.2L1036.3,547.4L1030.0,548.1L1023.7,547.6L1017.4,547.5L1011.1,548.1L1007.8,549.2L1004.7,550.2L998.4,553.7L997.5,554.5L992.1,558.8L991.2,559.7L986.0,565.0L985.8,565.2L980.0,570.3L979.5,570.8L973.8,575.5L973.1,576.1L966.8,576.3L960.5,576.4L955.6,580.8L954.2,582.1L952.4,586.1L950.0,591.3L947.8,596.1L947.7,596.6L945.7,601.8L943.7,607.1L941.6,612.4L941.5,612.6L939.3,617.6L937.0,622.9L935.2,626.9L934.7,628.1L932.0,633.4L928.9,638.3L928.4,638.7L922.6,643.5L922.1,643.9L918.4,649.2L916.2,651.6L910.5,654.5L909.9,654.8L903.7,659.7L903.6,659.8L898.5,665.0L897.3,666.2L891.0,670.0L884.6,669.9L882.6,670.2L878.3,671.0L872.0,671.6L869.7,670.2L865.7,668.0L859.4,665.0L859.4,664.9L853.0,663.4L846.7,661.4L844.0,659.7L840.4,657.7L839.5,654.5L837.9,649.2L836.3,643.9L834.6,638.7L834.1,636.8L833.5,638.7L831.7,643.9L830.1,649.2L828.5,654.5L827.8,656.9L821.4,656.9L815.1,654.9L813.8,654.5L808.8,652.9L802.5,649.8L800.2,649.2L796.1,648.0L789.8,645.6L785.9,643.9L783.5,642.8L777.2,641.0L774.4,638.7L770.9,635.8L764.5,635.3L758.9,638.7L758.2,639.0L757.0,643.9L755.8,649.2L754.9,654.5L754.1,659.7L753.4,665.0L752.8,670.2L752.3,675.5L751.9,680.1L751.8,680.8L751.2,686.0L750.5,691.3L749.7,696.6L748.8,701.8L747.8,707.1L746.8,712.3L745.9,717.6L745.6,719.2L744.9,722.9L743.9,728.1L743.1,733.4L742.4,738.6L741.8,743.9L741.2,749.2L740.7,754.4L740.3,759.7L739.8,765.0L739.4,770.2L739.3,772.4L736.5,775.5L733.2,780.7L732.9,781.2L732.4,786.0L731.8,791.3L731.3,796.5L730.8,801.8L730.3,807.1L729.8,812.3L729.3,817.6L728.9,822.8L728.5,828.1L728.1,833.4L727.8,838.6L727.5,843.9L727.2,849.2L726.9,854.4L726.7,859.7L726.6,860.5L726.5,864.9L726.4,870.2L726.3,875.5L726.3,880.7L726.2,886.0L726.1,891.2L726.1,896.5L726.0,901.8L726.0,907.0L726.0,912.3L725.9,917.6L725.9,922.8L725.9,928.1L725.9,933.3L725.9,938.6L726.0,943.9L726.0,949.1L726.0,954.4L726.0,959.7L726.0,964.9L726.0,970.2L726.0,975.4L726.0,980.7L726.0,986.0L726.0,991.2L726.0,996.5L726.0,1001.7L726.0,1007.0L726.0,1012.3L726.0,1017.5L726.0,1022.8L726.0,1028.1L726.0,1033.3L726.0,1038.6L726.0,1043.8L726.0,1049.1L726.0,1054.4L726.1,1059.6L726.1,1064.9L726.1,1070.2L726.2,1075.4L726.2,1080.7L726.2,1085.9L726.3,1091.2L726.3,1096.5L726.4,1101.7L726.4,1107.0L726.5,1112.3L726.5,1117.5L726.6,1122.8L726.6,1127.2L726.6,1128.0L726.7,1133.3M516.3,654.5L518.0,657.8L519.2,654.5L520.9,649.2L522.4,643.9L523.5,638.7L523.9,633.4L523.7,628.1L523.1,622.9L522.3,617.6L521.2,612.4L519.9,607.1L518.5,601.8L518.0,600.0L517.4,601.8L515.5,607.1L513.9,612.4L512.6,617.6L511.7,622.2L511.3,622.9L509.3,628.1L508.5,633.4L509.5,638.7L511.7,642.1L512.1,643.9L514.0,649.2L516.3,654.5M536.1,633.4L537.0,635.7L539.1,633.4L537.0,628.5L536.1,633.4M909.1,1133.3L909.9,1131.1L910.9,1128.0L912.4,1122.8L913.9,1117.5L915.4,1112.3L916.2,1108.6L917.1,1107.0L919.4,1101.7L921.3,1096.5L922.6,1092.0L922.8,1091.2L923.5,1085.9L923.8,1080.7L923.7,1075.4L923.6,1070.2L923.5,1064.9L923.2,1059.6L922.8,1054.4L922.6,1049.6L922.5,1049.1L922.2,1043.8L921.9,1038.6L921.7,1033.3L921.5,1028.1L921.2,1022.8L920.9,1017.5L920.6,1012.3L920.4,1007.0L920.1,1001.7L920.0,996.5L919.8,991.2L919.7,986.0L919.6,980.7L919.6,975.4L919.6,970.2L919.6,964.9L919.6,959.7L919.6,954.4L919.6,949.1L919.6,943.9L919.6,938.6L919.6,933.3L919.6,928.1L919.6,922.8L919.7,917.6L919.9,912.3L920.3,907.0L921.0,901.8L922.0,896.5L922.6,894.5L923.6,891.2L925.7,886.0L927.9,880.7L928.9,878.4L931.2,880.7L935.2,884.3L941.5,882.9L941.9,886.0L942.4,891.2L943.0,896.5L943.4,901.8L943.8,907.0L944.1,912.3L944.3,917.6L944.3,922.8L944.4,928.1L944.4,933.3L944.4,938.6L944.4,943.9L944.4,949.1L944.4,954.4L944.4,959.7L944.5,964.9L944.5,970.2L944.5,975.4L944.4,980.7L944.3,986.0L944.1,991.2L943.9,996.5L943.6,1001.7L943.3,1007.0L943.0,1012.3L942.8,1017.5L942.6,1022.8L942.6,1028.1L942.6,1033.3L942.7,1038.6L942.8,1043.8L942.9,1049.1L943.0,1054.4L943.2,1059.6L943.3,1064.9L943.5,1070.2L943.6,1075.4L943.8,1080.7L943.9,1085.9L944.1,1091.2L944.2,1096.5L944.4,1101.7L944.6,1107.0L944.8,1112.3L944.9,1117.5L945.0,1122.8L945.2,1128.0L945.3,1133.3M1100.2,1133.3L1100.2,1128.0L1100.2,1122.8L1100.2,1117.5L1100.2,1112.3L1100.3,1107.0L1100.3,1101.7L1100.3,1096.5L1100.3,1091.2L1100.4,1085.9L1100.4,1080.7L1100.4,1075.4L1100.5,1070.2L1100.5,1064.9L1100.5,1059.6L1100.5,1054.4L1100.6,1049.1L1100.7,1043.8L1100.9,1038.6L1101.0,1033.3L1101.3,1028.1L1101.5,1022.8L1101.8,1017.5L1102.1,1012.3L1102.5,1007.0L1102.9,1001.7L1103.3,996.5L1103.7,991.2L1104.1,986.0L1104.6,980.7L1105.0,975.4L1105.5,970.2L1105.9,965.9L1106.0,964.9L1106.7,959.7L1107.4,954.4L1108.0,949.1L1108.7,943.9L1109.4,938.6L1110.2,933.3L1111.1,928.1L1112.0,922.8L1112.2,921.8L1112.7,917.6L1113.3,912.3L1113.9,907.0L1114.6,901.8L1115.3,896.5L1116.0,891.2L1116.8,886.0L1117.5,880.7L1118.3,875.5L1118.5,873.8L1119.0,870.2L1119.8,864.9L1120.5,859.7L1121.3,854.4L1122.1,849.2L1122.8,843.9L1123.6,838.6L1124.3,833.4L1124.8,829.6L1125.0,828.1L1125.6,822.8L1126.2,817.6L1126.7,812.3L1127.3,807.1L1127.9,801.8L1128.5,796.5L1129.1,791.3L1129.7,786.0L1130.3,780.7L1131.0,775.5L1131.2,774.1L1131.8,770.2L1132.8,765.0L1133.8,759.7L1134.8,754.4L1136.0,749.2L1137.1,743.9L1137.5,742.2L1139.1,738.6L1141.4,733.4L1143.3,728.1L1143.8,726.3L1145.1,728.1L1148.7,733.4L1150.1,735.1L1156.4,735.7L1157.0,733.4L1157.8,728.1L1158.0,722.9L1157.5,717.6L1156.4,713.1L1155.7,712.3L1150.6,707.1L1150.1,706.6L1145.3,701.8L1143.8,699.5L1143.3,696.6L1142.3,691.3L1141.2,686.0L1139.8,680.8L1138.2,675.5L1137.5,673.5L1136.5,670.2L1134.8,665.0L1133.0,659.7L1131.3,654.5L1131.2,653.8L1129.7,649.2L1128.0,643.9L1126.1,638.7L1124.8,635.0L1124.0,633.4L1121.5,628.1L1118.9,622.9L1118.5,622.1L1116.2,617.6L1113.4,612.4L1112.2,610.3L1109.2,607.1L1105.9,604.0L1104.4,601.8L1100.6,596.6L1099.5,595.1L1097.2,591.3L1093.7,586.1L1093.2,585.3L1088.1,580.8L1086.9,579.8L1080.6,576.0L1079.9,575.5L1074.3,571.2L1072.9,570.3L1067.9,567.3L1061.6,565.4L1055.3,566.1L1050.6,565.0L1049.0,564.7L1042.7,562.9L1036.3,560.1L1030.0,560.8L1023.7,560.3L1017.4,560.4L1011.1,561.1L1004.7,563.3L1001.7,565.0L998.4,566.9L994.2,570.3L992.1,572.2L989.2,575.5L985.8,579.9L984.9,580.8L979.9,586.1L979.5,586.6L974.1,591.3L973.1,592.2L966.8,592.5L960.5,592.9L956.6,596.6L954.2,598.9L952.8,601.8L950.4,607.1L947.9,612.4L947.8,612.4L945.8,617.6L943.7,622.9L941.7,628.1L941.5,628.5L939.2,633.4L936.4,638.7L935.2,640.5L932.6,643.9L930.8,649.2L929.8,654.5L928.9,659.3L928.7,659.7L922.6,664.8L922.0,665.0L916.2,666.4L909.9,670.0L909.7,670.2L904.7,675.5L903.6,676.7L899.3,680.8L897.3,682.6L892.2,686.0L891.0,686.9L884.6,688.1L878.3,689.9L872.0,690.0L865.9,686.0L865.7,685.9L859.4,682.3L854.7,680.8L853.0,680.2L846.7,677.8L843.4,675.5L840.4,673.4L839.3,670.2L837.7,665.0L836.3,659.7L834.9,654.5L834.1,651.6L833.2,654.5L831.8,659.7L830.3,665.0L828.6,670.2L827.8,672.7L821.4,672.6L815.1,670.7L813.8,670.2L808.8,668.7L802.5,665.7L799.4,665.0L796.1,664.2L789.8,662.4L783.5,659.8L783.1,659.7L777.2,657.9L774.3,654.5L770.9,650.7L764.5,650.1L758.9,654.5L758.2,655.1L757.4,659.7L756.6,665.0L755.9,670.2L755.2,675.5L754.6,680.8L754.1,686.0L753.6,691.3L753.1,696.6L752.7,701.8L752.3,707.1L751.9,711.8L751.8,712.3L750.7,717.6L749.6,722.9L748.5,728.1L747.5,733.4L746.6,738.6L745.8,743.9L745.6,745.3L745.0,749.2L744.3,754.4L743.7,759.7L743.1,765.0L742.5,770.2L742.0,775.5L741.5,780.7L741.1,786.0L740.6,791.3L740.2,796.5L739.8,801.8L739.4,807.1L739.3,809.3L738.1,812.3L736.4,817.6L734.8,822.8L733.4,828.1L732.9,829.9L732.6,833.4L732.0,838.6L731.5,843.9L731.0,849.2L730.6,854.4L730.3,859.7L730.0,864.9L729.7,870.2L729.5,875.5L729.3,880.7L729.1,886.0L728.9,891.2L728.7,896.5L728.6,901.8L728.5,907.0L728.4,912.3L728.3,917.6L728.2,922.8L728.2,928.1L728.1,933.3L728.1,938.6L728.1,943.9L728.1,949.1L728.0,954.4L728.0,959.7L728.0,964.9L728.0,970.2L728.0,975.4L728.0,980.7L728.0,986.0L728.0,991.2L728.0,996.5L728.0,1001.7L728.0,1007.0L728.0,1012.3L728.0,1017.5L728.0,1022.8L728.0,1028.1L728.1,1033.3L728.1,1038.6L728.1,1043.8L728.1,1049.1L728.2,1054.4L728.2,1059.6L728.3,1064.9L728.3,1070.2L728.4,1075.4L728.4,1080.7L728.5,1085.9L728.6,1091.2L728.7,1096.5L728.8,1101.7L728.9,1107.0L729.0,1112.3L729.1,1117.5L729.3,1122.8L729.4,1128.0L729.5,1133.3M873.2,1133.3L877.1,1128.0L878.3,1126.2L880.7,1122.8L883.8,1117.5L884.6,1115.8L886.1,1112.3L887.9,1107.0L889.4,1101.7L890.6,1096.5L891.0,1094.7L892.0,1091.2L893.3,1085.9L894.1,1080.7L894.6,1075.4L894.9,1070.2L895.1,1064.9L895.3,1059.6L895.3,1054.4L895.4,1049.1L895.4,1043.8L895.5,1038.6L895.5,1033.3L895.6,1028.1L895.7,1022.8L895.9,1017.5L896.0,1012.3L896.1,1007.0L896.2,1001.7L896.2,996.5L896.3,991.2L896.4,986.0L896.4,980.7L896.4,975.4L896.3,970.2L896.2,964.9L896.0,959.7L895.8,954.4L895.6,949.1L895.3,943.9L895.0,938.6L894.8,933.3L894.6,928.1L894.5,922.8L894.9,917.6L895.9,912.3L897.3,907.0L897.3,907.0L899.3,901.8L901.1,896.5L902.5,891.2L903.6,886.6L903.7,886.0L904.8,880.7L905.6,875.5L906.2,870.2L906.6,864.9L907.0,859.7L907.4,854.4L907.8,849.2L908.2,843.9L908.7,838.6L909.2,833.4L909.9,828.1L909.9,827.7L910.7,822.8L911.6,817.6L912.6,812.3L913.9,807.1L915.0,801.8L916.1,796.5L916.2,795.6L917.4,791.3L918.5,786.0L919.4,780.7L920.1,775.5L920.7,770.2L921.1,765.0L921.5,759.7L921.9,754.4L922.3,749.2L922.5,743.9L922.6,741.6L922.7,738.6L922.6,733.4L922.6,730.6L922.5,728.1L922.3,722.9L922.1,717.6L921.6,712.3L921.1,707.1L920.5,701.8L919.4,696.6L917.7,691.3L916.2,688.6L909.9,689.0L907.4,691.3L903.6,693.6L899.9,696.6L897.3,698.3L892.9,701.8L891.0,703.7L884.6,705.1L878.3,706.8L872.0,706.9L865.7,702.7L864.1,701.8L859.4,699.2L853.0,697.1L851.9,696.6L846.7,694.2L843.1,691.3L840.4,689.2L839.3,686.0L837.4,680.8L835.7,675.5L834.1,670.3L832.4,675.5L830.6,680.8L828.7,686.0L827.8,688.5L821.4,688.5L815.1,686.5L813.8,686.0L808.8,684.4L802.5,681.4L798.8,680.8L796.1,680.3L789.8,678.8L783.5,676.4L780.1,675.5L777.2,674.7L772.0,670.2L770.9,669.1L764.5,668.5L762.9,670.2L758.2,675.1L758.2,675.5L757.4,680.8L756.7,686.0L756.1,691.3L755.5,696.6L755.0,701.8L754.5,707.1L753.9,712.3L753.4,717.6L752.9,722.9L752.4,728.1L751.9,732.4L751.7,733.4L750.5,738.6L749.5,743.9L748.5,749.2L747.7,754.4L747.0,759.7L746.3,765.0L745.6,770.2L745.6,770.5L745.0,775.5L744.4,780.7L743.9,786.0L743.3,791.3L742.9,796.5L742.4,801.8L741.9,807.1L741.5,812.3L741.1,817.6L740.7,822.8L740.3,828.1L739.8,833.4L739.4,838.6L739.3,840.4L738.3,843.9L736.9,849.2L735.8,854.4L734.8,859.7L734.0,864.9L733.5,870.2L733.0,875.5L732.9,876.3L732.7,880.7L732.5,886.0L732.2,891.2L732.0,896.5L731.8,901.8L731.6,907.0L731.5,912.3L731.3,917.6L731.2,922.8L731.1,928.1L731.0,933.3L730.9,938.6L730.8,943.9L730.7,949.1L730.7,954.4L730.6,959.7L730.6,964.9L730.6,970.2L730.6,975.4L730.6,980.7L730.6,986.0L730.6,991.2L730.6,996.5L730.6,1001.7L730.6,1007.0L730.6,1012.3L730.6,1017.5L730.7,1022.8L730.7,1028.1L730.7,1033.3L730.7,1038.6L730.8,1043.8L730.8,1049.1L730.8,1054.4L730.9,1059.6L730.9,1064.9L731.0,1070.2L731.0,1075.4L731.1,1080.7L731.1,1085.9L731.2,1091.2L731.3,1096.5L731.4,1101.7L731.6,1107.0L731.7,1112.3L731.8,1117.5L732.0,1122.8L732.2,1128.0L732.3,1133.3M1080.9,1133.3L1080.9,1128.0L1080.9,1122.8L1081.0,1117.5L1081.0,1112.3L1081.1,1107.0L1081.2,1101.7L1081.3,1096.5L1081.4,1091.2L1081.5,1085.9L1081.7,1080.7L1081.8,1075.4L1082.0,1070.2L1082.1,1064.9L1082.2,1059.6L1082.4,1054.4L1082.6,1049.1L1082.7,1043.8L1082.9,1038.6L1083.2,1033.3L1083.4,1028.1L1083.7,1022.8L1084.0,1017.5L1084.3,1012.3L1084.7,1007.0L1085.0,1001.7L1085.4,996.5L1085.8,991.2L1086.2,986.0L1086.7,980.7L1086.9,977.7L1087.2,975.4L1087.8,970.2L1088.5,964.9L1089.1,959.7L1089.8,954.4L1090.5,949.1L1091.1,943.9L1091.8,938.6L1092.6,933.3L1093.2,929.0L1093.3,928.1L1094.0,922.8L1094.6,917.6L1095.4,912.3L1096.1,907.0L1096.9,901.8L1097.8,896.5L1098.7,891.2L1099.5,886.3L1099.6,886.0L1100.6,880.7L1101.7,875.5L1102.7,870.2L1103.7,864.9L1104.8,859.7L1105.8,854.4L1105.9,854.1L1107.1,849.2L1108.4,843.9L1109.7,838.6L1111.0,833.4L1112.2,828.2L1112.2,828.1L1112.9,822.8L1113.6,817.6L1114.3,812.3L1115.0,807.1L1115.6,801.8L1116.2,796.5L1116.9,791.3L1117.5,786.0L1118.1,780.7L1118.5,777.5L1118.7,775.5L1119.4,770.2L1120.0,765.0L1120.7,759.7L1121.4,754.4L1122.2,749.2L1122.9,743.9L1123.8,738.6L1124.7,733.4L1124.8,732.6L1125.5,728.1L1126.5,722.9L1127.7,717.6L1128.9,712.3L1130.0,707.1L1130.8,701.8L1131.2,697.8L1131.3,696.6L1131.5,691.3L1131.2,686.0L1131.2,685.8L1130.3,680.8L1129.0,675.5L1127.3,670.2L1125.3,665.0L1124.8,663.6L1122.9,659.7L1120.6,654.5L1118.5,649.8L1118.2,649.2L1115.7,643.9L1113.0,638.7L1112.2,637.0L1109.5,633.4L1105.9,628.8L1105.6,628.1L1103.0,622.9L1100.2,617.6L1099.5,616.5L1097.4,612.4L1094.3,607.1L1093.2,605.3L1090.2,601.8L1086.9,598.3L1084.9,596.6L1080.6,593.1L1078.7,591.3L1074.3,587.5L1072.3,586.1L1067.9,583.0L1062.3,580.8L1061.6,580.5L1055.3,580.7L1049.0,578.5L1042.7,575.9L1042.1,575.5L1036.3,572.7L1030.0,573.5L1023.7,573.1L1017.4,573.2L1011.1,574.1L1007.3,575.5L1004.7,576.6L998.9,580.8L998.4,581.2L993.8,586.1L992.1,587.8L989.3,591.3L985.8,595.5L984.8,596.6L979.9,601.8L979.5,602.3L974.3,607.1L973.1,608.2L966.8,608.8L960.5,609.4L957.5,612.4L954.2,615.8L953.3,617.6L950.4,622.9L947.8,627.8L947.7,628.1L945.9,633.4L944.4,638.7L943.1,643.9L942.2,649.2L941.5,653.5L941.3,654.5L940.3,659.7L939.5,665.0L938.9,670.2L938.6,675.5L938.3,680.8L938.0,686.0L937.9,691.3L937.9,696.6L937.9,701.8L938.1,707.1L938.3,712.3L938.7,717.6L939.1,722.9L939.7,728.1L940.4,733.4L941.2,738.6L941.5,740.6L941.8,743.9L942.3,749.2L942.9,754.4L943.4,759.7L943.9,765.0L944.3,770.2L944.7,775.5L945.1,780.7L945.5,786.0L945.9,791.3L946.3,796.5L946.7,801.8L947.1,807.1L947.5,812.3L947.8,817.1L947.9,817.6L948.2,822.8L948.5,828.1L948.8,833.4L949.1,838.6L949.4,843.9L949.6,849.2L949.9,854.4L950.1,859.7L950.4,864.9L950.6,870.2L950.8,875.5L951.0,880.7L951.2,886.0L951.4,891.2L951.5,896.5L951.7,901.8L951.8,907.0L951.9,912.3L952.0,917.6L952.1,922.8L952.1,928.1L952.2,933.3L952.2,938.6L952.3,943.9L952.3,949.1L952.4,954.4L952.4,959.7L952.4,964.9L952.5,970.2L952.5,975.4L952.5,980.7L952.5,986.0L952.5,991.2L952.5,996.5L952.5,1001.7L952.5,1007.0L952.5,1012.3L952.5,1017.5L952.5,1022.8L952.6,1028.1L952.6,1033.3L952.6,1038.6L952.7,1043.8L952.7,1049.1L952.7,1054.4L952.8,1059.6L952.8,1064.9L952.8,1070.2L952.8,1075.4L952.8,1080.7L952.8,1085.9L952.9,1091.2L952.9,1096.5L952.9,1101.7L952.9,1107.0L952.9,1112.3L952.9,1117.5L952.9,1122.8L952.9,1128.0L952.9,1133.3M859.5,1133.3L861.6,1128.0L863.4,1122.8L865.0,1117.5L865.7,1115.2L866.6,1112.3L868.2,1107.0L869.6,1101.7L870.8,1096.5L872.0,1091.2L872.0,1091.1L873.8,1085.9L875.5,1080.7L877.1,1075.4L878.3,1071.3L878.6,1070.2L879.8,1064.9L880.9,1059.6L881.7,1054.4L882.5,1049.1L883.1,1043.8L883.5,1038.6L883.9,1033.3L884.1,1028.1L884.2,1022.8L884.3,1017.5L884.4,1012.3L884.5,1007.0L884.6,1001.7L884.6,999.7L884.7,996.5L884.8,991.2L884.8,986.0L884.9,980.7L884.9,975.4L884.9,970.2L884.9,964.9L884.8,959.7L884.7,954.4L884.6,950.5L884.6,949.1L884.5,943.9L884.5,938.6L884.4,933.3L884.5,928.1L884.5,922.8L884.6,921.2L884.8,917.6L885.5,912.3L886.4,907.0L887.5,901.8L888.8,896.5L890.1,891.2L891.0,887.9L891.6,886.0L893.1,880.7L894.2,875.5L895.0,870.2L895.5,864.9L895.9,859.7L896.3,854.4L896.6,849.2L896.9,843.9L897.2,838.6L897.3,836.7L897.5,833.4L898.0,828.1L898.5,822.8L899.2,817.6L900.4,812.3L902.1,807.1L903.6,803.2L904.1,801.8L906.1,796.5L907.9,791.3L909.3,786.0L909.9,783.2L910.4,780.7L911.3,775.5L912.0,770.2L912.4,765.0L912.8,759.7L913.2,754.4L913.6,749.2L913.9,743.9L914.0,738.6L913.9,733.4L913.4,728.1L912.7,722.9L911.5,717.6L909.9,712.7L909.6,712.3L903.6,708.7L899.6,712.3L897.3,714.7L894.6,717.6L891.0,721.1L884.6,722.1L881.5,722.9L878.3,723.7L872.0,723.9L870.6,722.9L865.7,719.6L861.9,717.6L859.4,716.2L853.0,713.9L850.3,712.3L846.7,710.4L842.8,707.1L840.4,705.1L839.1,701.8L837.3,696.6L835.4,691.3L834.1,687.3L832.6,691.3L830.8,696.6L828.8,701.8L827.8,704.2L821.4,704.0L815.1,702.2L813.9,701.8L808.8,700.2L802.5,697.2L798.8,696.6L796.1,696.1L789.8,694.6L783.5,692.6L777.2,691.6L776.9,691.3L770.9,686.2L768.4,686.0L764.5,685.7L764.3,686.0L760.0,691.3L758.2,693.8L757.9,696.6L757.2,701.8L756.6,707.1L756.0,712.3L755.5,717.6L755.0,722.9L754.6,728.1L754.2,733.4L753.6,738.6L752.9,743.9L752.0,749.2L751.9,749.9L751.0,754.4L750.2,759.7L749.4,765.0L748.6,770.2L747.9,775.5L747.3,780.7L746.7,786.0L746.1,791.3L745.6,795.8L745.5,796.5L745.0,801.8L744.5,807.1L744.0,812.3L743.5,817.6L743.1,822.8L742.6,828.1L742.2,833.4L741.7,838.6L741.3,843.9L740.9,849.2L740.4,854.4L740.1,859.7L739.7,864.9L739.4,870.2L739.3,872.0L738.7,875.5L738.0,880.7L737.4,886.0L736.8,891.2L736.3,896.5L735.9,901.8L735.5,907.0L735.2,912.3L734.9,917.6L734.6,922.8L734.4,928.1L734.2,933.3L734.0,938.6L733.8,943.9L733.7,949.1L733.5,954.4L733.4,959.7L733.4,964.9L733.3,970.2L733.3,975.4L733.3,980.7L733.3,986.0L733.3,991.2L733.3,996.5L733.3,1001.7L733.3,1007.0L733.3,1012.3L733.4,1017.5L733.4,1022.8L733.4,1028.1L733.5,1033.3L733.5,1038.6L733.6,1043.8L733.6,1049.1L733.6,1054.4L733.7,1059.6L733.8,1064.9L733.8,1070.2L733.9,1075.4L734.0,1080.7L734.1,1085.9L734.2,1091.2L734.3,1096.5L734.5,1101.7L734.7,1107.0L734.9,1112.3L735.2,1117.5L735.4,1122.8L735.6,1128.0L735.9,1133.3M1073.4,1133.3L1073.4,1128.0L1073.4,1122.8L1073.4,1117.5L1073.4,1112.3L1073.5,1107.0L1073.5,1101.7L1073.5,1096.5L1073.6,1091.2L1073.6,1085.9L1073.7,1080.7L1073.7,1075.4L1073.8,1070.2L1073.8,1064.9L1073.9,1059.6L1073.9,1054.4L1074.0,1049.1L1074.0,1043.8L1074.1,1038.6L1074.2,1033.3L1074.3,1030.4L1074.3,1028.1L1074.4,1022.8L1074.6,1017.5L1074.7,1012.3L1074.9,1007.0L1075.0,1001.7L1075.2,996.5L1075.4,991.2L1075.5,986.0L1075.7,980.7L1075.9,975.4L1076.1,970.2L1076.4,964.9L1076.6,959.7L1076.8,954.4L1077.1,949.1L1077.3,943.9L1077.6,938.6L1077.9,933.3L1078.3,928.1L1078.7,922.8L1079.2,917.6L1079.6,912.3L1080.0,907.0L1080.5,901.8L1080.6,900.3L1081.2,896.5L1082.1,891.2L1083.0,886.0L1083.9,880.7L1084.8,875.5L1085.8,870.2L1086.8,864.9L1086.9,864.3L1088.1,859.7L1089.4,854.4L1090.8,849.2L1092.1,843.9L1093.2,839.4L1093.4,838.6L1094.3,833.4L1095.2,828.1L1096.1,822.8L1097.0,817.6L1097.8,812.3L1098.6,807.1L1099.4,801.8L1099.5,800.6L1100.2,796.5L1101.0,791.3L1101.7,786.0L1102.5,780.7L1103.2,775.5L1103.9,770.2L1104.7,765.0L1105.4,759.7L1105.9,756.2L1106.2,754.4L1107.4,749.2L1108.6,743.9L1109.8,738.6L1111.1,733.4L1112.2,729.5L1112.4,728.1L1113.5,722.9L1114.9,717.6L1116.7,712.3L1118.5,707.3L1118.6,707.1L1120.2,701.8L1121.3,696.6L1121.8,691.3L1121.5,686.0L1120.2,680.8L1118.5,676.6L1118.0,675.5L1115.3,670.2L1112.3,665.0L1112.2,664.8L1108.5,659.7L1105.9,655.8L1105.3,654.5L1103.1,649.2L1100.9,643.9L1099.5,640.9L1098.7,638.7L1096.7,633.4L1094.6,628.1L1093.2,625.2L1091.7,622.9L1087.5,617.6L1086.9,617.0L1081.3,612.4L1080.6,611.8L1076.0,607.1L1074.3,605.3L1070.6,601.8L1067.9,599.5L1062.5,596.6L1061.6,596.1L1055.3,595.9L1049.0,593.5L1044.0,591.3L1042.7,590.7L1036.3,587.3L1030.0,588.2L1023.7,587.8L1017.4,588.1L1011.1,589.4L1007.0,591.3L1004.7,592.3L998.4,596.3L998.0,596.6L992.2,601.8L992.1,602.0L988.3,607.1L985.8,610.6L984.2,612.4L979.9,617.6L979.5,618.2L974.9,622.9L973.1,624.7L966.8,625.0L960.5,625.3L957.1,628.1L954.2,631.9L953.6,633.4L952.7,638.7L951.9,643.9L951.2,649.2L950.5,654.5L949.9,659.7L949.4,665.0L948.9,670.2L948.6,675.5L948.4,680.8L948.2,686.0L948.2,691.3L948.3,696.6L948.4,701.8L948.6,707.1L949.0,712.3L949.4,717.6L949.9,722.9L950.5,728.1L951.1,733.4L951.8,738.6L952.4,743.9L953.0,749.2L953.4,754.4L953.8,759.7L954.2,765.0L954.2,765.1L954.4,770.2L954.6,775.5L954.9,780.7L955.1,786.0L955.3,791.3L955.5,796.5L955.8,801.8L956.0,807.1L956.1,812.3L956.3,817.6L956.5,822.8L956.7,828.1L956.8,833.4L957.0,838.6L957.1,843.9L957.3,849.2L957.4,854.4L957.6,859.7L957.7,864.9L957.9,870.2L958.0,875.5L958.2,880.7L958.3,886.0L958.4,891.2L958.5,896.5L958.6,901.8L958.7,907.0L958.8,912.3L958.9,917.6L958.9,922.8L959.0,928.1L959.1,933.3L959.1,938.6L959.2,943.9L959.2,949.1L959.3,954.4L959.3,959.7L959.3,964.9L959.4,970.2L959.4,975.4L959.5,980.7L959.5,986.0L959.6,991.2L959.7,996.5L959.8,1001.7L959.8,1007.0L959.9,1012.3L960.0,1017.5L960.0,1022.8L960.1,1028.1L960.1,1033.3L960.1,1038.6L960.1,1043.8L960.1,1049.1L960.1,1054.4L960.1,1059.6L960.1,1064.9L960.1,1070.2L960.1,1075.4L960.1,1080.7L960.1,1085.9L960.1,1091.2L960.0,1096.5L960.0,1101.7L960.0,1107.0L960.0,1112.3L959.9,1117.5L959.9,1122.8L959.9,1128.0L959.9,1133.3M847.1,1133.3L849.6,1128.0L852.1,1122.8L853.0,1120.6L854.4,1117.5L856.4,1112.3L858.2,1107.0L859.4,1103.4L859.8,1101.7L861.0,1096.5L862.1,1091.2L863.0,1085.9L863.9,1080.7L864.6,1075.4L865.3,1070.2L865.7,1066.8L866.0,1064.9L866.8,1059.6L867.6,1054.4L868.4,1049.1L869.2,1043.8L869.9,1038.6L870.5,1033.3L871.1,1028.1L871.5,1022.8L871.9,1017.5L872.0,1015.4L872.3,1012.3L872.7,1007.0L873.1,1001.7L873.4,996.5L873.6,991.2L873.9,986.0L874.1,980.7L874.4,975.4L874.6,970.2L874.8,964.9L875.0,959.7L875.2,954.4L875.4,949.1L875.6,943.9L875.8,938.6L876.1,933.3L876.4,928.1L876.7,922.8L877.2,917.6L878.0,912.3L878.3,910.5L878.8,907.0L879.6,901.8L880.6,896.5L881.7,891.2L882.8,886.0L883.9,880.7L884.6,876.9L884.9,875.5L885.6,870.2L886.0,864.9L886.4,859.7L886.7,854.4L886.9,849.2L887.2,843.9L887.4,838.6L887.7,833.4L888.1,828.1L888.5,822.8L889.1,817.6L890.1,812.3L891.0,809.7L891.8,807.1L894.1,801.8L896.6,796.5L897.3,795.3L899.1,791.3L901.2,786.0L902.8,780.7L903.6,777.6L904.1,775.5L904.8,770.2L905.1,765.0L905.2,759.7L905.3,754.4L905.5,749.2L905.7,743.9L905.5,738.6L904.3,733.4L903.6,731.7L900.7,733.4L897.3,734.9L891.0,737.0L884.6,738.5L884.2,738.6L878.3,740.3L872.0,739.8L869.8,738.6L865.7,736.0L859.9,733.4L859.4,733.1L853.0,730.5L849.8,728.1L846.7,725.7L844.4,722.9L840.4,718.6L839.9,717.6L837.3,712.3L835.1,707.1L834.1,704.1L832.9,707.1L830.5,712.3L827.8,717.4L821.4,717.2L815.1,715.5L808.8,714.8L802.5,713.1L796.1,712.4L795.8,712.3L789.8,711.3L783.5,709.5L777.2,708.4L775.6,707.1L770.9,703.1L764.5,702.5L761.4,707.1L758.2,711.5L758.1,712.3L757.5,717.6L757.0,722.9L756.9,728.1L756.7,733.4L756.3,738.6L755.7,743.9L754.9,749.2L754.1,754.4L753.2,759.7L752.4,765.0L751.9,768.5L751.6,770.2L750.9,775.5L750.1,780.7L749.4,786.0L748.8,791.3L748.2,796.5L747.6,801.8L747.0,807.1L746.5,812.3L746.0,817.6L745.6,821.8L745.5,822.8L745.0,828.1L744.5,833.4L744.1,838.6L743.6,843.9L743.2,849.2L742.7,854.4L742.3,859.7L742.0,864.9L741.6,870.2L741.3,875.5L741.0,880.7L740.7,886.0L740.4,891.2L740.1,896.5L739.8,901.8L739.6,907.0L739.4,912.3L739.3,915.3L739.1,917.6L738.9,922.8L738.7,928.1L738.5,933.3L738.3,938.6L738.1,943.9L737.9,949.1L737.7,954.4L737.6,959.7L737.5,964.9L737.4,970.2L737.3,975.4L737.2,980.7L737.1,986.0L737.1,991.2L737.0,996.5L737.0,1001.7L737.0,1007.0L736.9,1012.3L736.9,1017.5L736.9,1022.8L736.9,1028.1L737.0,1033.3L737.0,1038.6L737.0,1043.8L737.1,1049.1L737.1,1054.4L737.2,1059.6L737.3,1064.9L737.4,1070.2L737.5,1075.4L737.6,1080.7L737.7,1085.9L737.9,1091.2L738.0,1096.5L738.2,1101.7L738.4,1107.0L738.6,1112.3L738.9,1117.5L739.1,1122.8L739.3,1125.8L739.3,1128.0L739.6,1133.3M1067.2,1133.3L1067.2,1128.0L1067.2,1122.8L1067.2,1117.5L1067.2,1112.3L1067.2,1107.0L1067.3,1101.7L1067.3,1096.5L1067.3,1091.2L1067.3,1085.9L1067.4,1080.7L1067.4,1075.4L1067.5,1070.2L1067.5,1064.9L1067.5,1059.6L1067.6,1054.4L1067.6,1049.1L1067.7,1043.8L1067.7,1038.6L1067.8,1033.3L1067.9,1028.1L1067.9,1022.8L1067.9,1022.8L1068.0,1017.5L1068.1,1012.3L1068.2,1007.0L1068.2,1001.7L1068.3,996.5L1068.4,991.2L1068.5,986.0L1068.6,980.7L1068.7,975.4L1068.8,970.2L1069.0,964.9L1069.1,959.7L1069.2,954.4L1069.3,949.1L1069.5,943.9L1069.7,938.6L1070.0,933.3L1070.4,928.1L1070.9,922.8L1071.4,917.6L1071.9,912.3L1072.4,907.0L1072.8,901.8L1073.3,896.5L1073.7,891.2L1074.1,886.0L1074.3,883.5L1074.5,880.7L1075.0,875.5L1075.5,870.2L1075.9,864.9L1076.4,859.7L1076.9,854.4L1077.5,849.2L1078.0,843.9L1078.5,838.6L1079.1,833.4L1079.6,828.1L1080.2,822.8L1080.6,819.0L1080.9,817.6L1081.9,812.3L1082.9,807.1L1084.0,801.8L1085.1,796.5L1086.2,791.3L1086.9,788.0L1087.4,786.0L1088.6,780.7L1089.7,775.5L1090.9,770.2L1092.0,765.0L1093.0,759.7L1093.2,758.6L1093.8,754.4L1094.6,749.2L1095.4,743.9L1096.1,738.6L1096.9,733.4L1097.7,728.1L1098.4,722.9L1099.5,717.6L1099.5,717.4L1101.3,712.3L1103.3,707.1L1105.3,701.8L1105.9,700.0L1107.2,696.6L1108.1,691.3L1107.4,686.0L1105.9,682.8L1105.3,680.8L1103.1,675.5L1100.7,670.2L1099.5,667.9L1098.4,665.0L1096.5,659.7L1094.7,654.5L1093.2,650.1L1092.8,649.2L1090.5,643.9L1088.0,638.7L1086.9,636.7L1084.4,633.4L1080.6,629.0L1079.9,628.1L1075.0,622.9L1074.3,622.1L1069.1,617.6L1067.9,616.6L1061.6,612.9L1056.9,612.4L1055.3,612.2L1049.0,609.1L1045.3,607.1L1042.7,605.8L1036.3,602.1L1030.0,602.9L1023.7,602.4L1017.4,602.5L1011.1,603.2L1004.7,605.6L1002.5,607.1L998.4,610.1L996.4,612.4L992.1,617.5L992.0,617.6L988.7,622.9L985.8,627.9L985.6,628.1L981.7,633.4L979.5,636.7L977.9,638.7L974.4,643.9L973.1,646.3L968.9,649.2L966.8,651.1L963.9,654.5L960.8,659.7L960.5,660.4L959.5,665.0L958.7,670.2L958.0,675.5L957.6,680.8L957.3,686.0L957.1,691.3L956.9,696.6L956.8,701.8L956.8,707.1L957.0,712.3L957.3,717.6L957.7,722.9L958.2,728.1L958.7,733.4L959.2,738.6L959.7,743.9L960.1,749.2L960.4,754.4L960.5,756.5L960.6,759.7L960.9,765.0L961.1,770.2L961.4,775.5L961.6,780.7L961.9,786.0L962.1,791.3L962.4,796.5L962.6,801.8L962.9,807.1L963.1,812.3L963.3,817.6L963.5,822.8L963.7,828.1L963.9,833.4L964.1,838.6L964.3,843.9L964.5,849.2L964.7,854.4L964.9,859.7L965.2,864.9L965.4,870.2L965.6,875.5L965.8,880.7L966.0,886.0L966.1,891.2L966.3,896.5L966.4,901.8L966.6,907.0L966.7,912.3L966.8,917.6L966.8,921.9L966.8,922.8L966.9,928.1L966.9,933.3L967.0,938.6L967.0,943.9L967.0,949.1L967.1,954.4L967.1,959.7L967.2,964.9L967.2,970.2L967.3,975.4L967.3,980.7L967.4,986.0L967.5,991.2L967.6,996.5L967.7,1001.7L967.8,1007.0L967.9,1012.3L968.0,1017.5L968.0,1022.8L968.1,1028.1L968.1,1033.3L968.1,1038.6L968.1,1043.8L968.2,1049.1L968.2,1054.4L968.2,1059.6L968.2,1064.9L968.2,1070.2L968.2,1075.4L968.2,1080.7L968.1,1085.9L968.1,1091.2L968.1,1096.5L968.1,1101.7L968.1,1107.0L968.1,1112.3L968.0,1117.5L968.0,1122.8L968.0,1128.0L967.9,1133.3M835.2,1133.3L837.0,1128.0L839.8,1122.8L840.4,1121.9L842.1,1117.5L844.3,1112.3L846.7,1107.0L846.7,1106.9L848.7,1101.7L850.6,1096.5L852.5,1091.2L853.0,1089.4L853.9,1085.9L855.0,1080.7L856.0,1075.4L856.9,1070.2L857.7,1064.9L858.4,1059.6L859.1,1054.4L859.4,1052.0L859.7,1049.1L860.2,1043.8L860.6,1038.6L861.1,1033.3L861.6,1028.1L862.0,1022.8L862.4,1017.5L862.8,1012.3L863.2,1007.0L863.6,1001.7L864.0,996.5L864.4,991.2L864.8,986.0L865.2,980.7L865.5,975.4L865.7,972.3L865.8,970.2L866.0,964.9L866.2,959.7L866.4,954.4L866.6,949.1L866.8,943.9L867.0,938.6L867.3,933.3L867.5,928.1L867.8,922.8L868.3,917.6L868.8,912.3L869.6,907.0L870.3,901.8L871.2,896.5L872.0,891.2L872.0,891.2L873.1,886.0L874.1,880.7L875.0,875.5L875.6,870.2L876.1,864.9L876.4,859.7L876.8,854.4L877.0,849.2L877.3,843.9L877.5,838.6L877.8,833.4L878.0,828.1L878.3,823.6L878.4,822.8L878.8,817.6L879.6,812.3L880.9,807.1L882.8,801.8L884.6,798.4L885.6,796.5L888.7,791.3L891.0,788.0L892.0,786.0L894.4,780.7L896.3,775.5L897.3,771.6L897.5,770.2L897.9,765.0L897.3,761.8L896.6,759.7L892.8,754.4L891.0,752.7L884.6,749.5L882.5,749.2L878.3,748.8L872.0,749.0L865.7,747.0L859.4,744.7L856.7,743.9L853.0,742.9L848.6,738.6L846.7,737.3L841.9,733.4L840.4,731.7L837.7,728.1L835.0,722.9L834.1,720.9L833.1,722.9L830.5,728.1L827.8,732.1L821.4,732.0L815.1,730.9L808.8,731.4L802.5,730.6L796.1,729.7L789.8,728.2L789.4,728.1L783.5,726.3L777.2,725.2L774.4,722.9L770.9,719.9L764.5,719.4L762.4,722.9L760.8,728.1L760.1,733.4L759.5,738.6L758.7,743.9L758.2,746.1L757.8,749.2L757.0,754.4L756.2,759.7L755.4,765.0L754.6,770.2L753.8,775.5L753.0,780.7L752.2,786.0L751.9,788.3L751.5,791.3L750.8,796.5L750.2,801.8L749.6,807.1L749.1,812.3L748.5,817.6L748.0,822.8L747.5,828.1L747.0,833.4L746.5,838.6L745.9,843.9L745.6,847.6L745.4,849.2L745.0,854.4L744.6,859.7L744.2,864.9L743.9,870.2L743.5,875.5L743.2,880.7L742.9,886.0L742.6,891.2L742.3,896.5L742.0,901.8L741.8,907.0L741.6,912.3L741.4,917.6L741.3,922.8L741.2,928.1L741.0,933.3L740.9,938.6L740.8,943.9L740.8,949.1L740.7,954.4L740.6,959.7L740.5,964.9L740.4,970.2L740.4,975.4L740.3,980.7L740.3,986.0L740.2,991.2L740.2,996.5L740.1,1001.7L740.1,1007.0L740.1,1012.3L740.1,1017.5L740.0,1022.8L740.0,1028.1L740.1,1033.3L740.1,1038.6L740.1,1043.8L740.2,1049.1L740.2,1054.4L740.3,1059.6L740.4,1064.9L740.5,1070.2L740.6,1075.4L740.7,1080.7L740.9,1085.9L741.0,1091.2L741.2,1096.5L741.4,1101.7L741.6,1107.0L741.8,1112.3L742.0,1117.5L742.3,1122.8L742.6,1128.0L742.9,1133.3M1056.2,1133.3L1056.2,1128.0L1056.2,1122.8L1056.3,1117.5L1056.3,1112.3L1056.3,1107.0L1056.3,1101.7L1056.3,1096.5L1056.3,1091.2L1056.4,1085.9L1056.4,1080.7L1056.4,1075.4L1056.4,1070.2L1056.5,1064.9L1056.5,1059.6L1056.6,1054.4L1056.6,1049.1L1056.7,1043.8L1056.7,1038.6L1056.8,1033.3L1056.9,1028.1L1056.9,1022.8L1057.0,1017.5L1057.1,1012.3L1057.2,1007.0L1057.3,1001.7L1057.4,996.5L1057.5,991.2L1057.6,986.0L1057.8,980.7L1057.9,975.4L1058.0,970.2L1058.2,964.9L1058.3,959.7L1058.5,954.4L1058.6,949.1L1058.7,943.9L1059.2,938.6L1060.3,933.3L1061.6,929.2L1061.8,928.1L1062.5,922.8L1063.3,917.6L1064.2,912.3L1064.9,907.0L1065.7,901.8L1066.3,896.5L1066.9,891.2L1067.3,886.0L1067.8,880.7L1067.9,878.7L1068.2,875.5L1068.5,870.2L1068.9,864.9L1069.2,859.7L1069.6,854.4L1069.9,849.2L1070.3,843.9L1070.6,838.6L1071.0,833.4L1071.4,828.1L1071.8,822.8L1072.2,817.6L1072.6,812.3L1073.0,807.1L1073.4,801.8L1073.9,796.5L1074.3,793.4L1074.5,791.3L1075.1,786.0L1075.7,780.7L1076.4,775.5L1077.1,770.2L1077.8,765.0L1078.6,759.7L1079.4,754.4L1080.2,749.2L1080.6,746.7L1081.2,743.9L1082.3,738.6L1083.5,733.4L1084.6,728.1L1085.6,722.9L1086.8,717.6L1086.9,717.0L1088.1,712.3L1089.7,707.1L1091.5,701.8L1093.2,696.6L1093.2,696.5L1094.0,691.3L1094.0,686.0L1093.4,680.8L1093.2,679.8L1092.0,675.5L1090.1,670.2L1087.7,665.0L1086.9,663.2L1085.1,659.7L1082.4,654.5L1080.6,651.2L1079.6,649.2L1076.9,643.9L1074.3,640.0L1073.2,638.7L1068.0,633.4L1067.9,633.3L1061.6,629.7L1055.3,629.0L1053.4,628.1L1049.0,625.9L1044.2,622.9L1042.7,621.9L1037.1,617.6L1036.3,617.1L1031.2,617.6L1030.0,617.8L1028.4,617.6L1023.7,617.3L1017.4,617.4L1016.0,617.6L1011.1,618.5L1004.7,621.5L1003.1,622.9L998.4,627.0L997.5,628.1L993.7,633.4L992.1,635.5L990.2,638.7L987.2,643.9L985.8,646.4L984.1,649.2L981.2,654.5L979.5,657.7L978.4,659.7L975.7,665.0L973.2,670.2L973.1,670.4L970.5,675.5L969.0,680.8L968.2,686.0L967.4,691.3L966.8,695.7L966.7,696.6L966.1,701.8L965.7,707.1L965.5,712.3L965.4,717.6L965.5,722.9L965.6,728.1L965.8,733.4L966.1,738.6L966.4,743.9L966.6,749.2L966.8,753.6L966.8,754.4L967.1,759.7L967.3,765.0L967.6,770.2L967.9,775.5L968.3,780.7L968.6,786.0L969.0,791.3L969.3,796.5L969.6,801.8L970.0,807.1L970.3,812.3L970.5,817.6L970.8,822.8L971.1,828.1L971.4,833.4L971.7,838.6L972.0,843.9L972.3,849.2L972.7,854.4L973.0,859.7L973.1,860.9L973.5,864.9L973.9,870.2L974.3,875.5L974.7,880.7L975.0,886.0L975.4,891.2L975.7,896.5L975.9,901.8L976.2,907.0L976.4,912.3L976.5,917.6L976.6,922.8L976.7,928.1L976.8,933.3L976.8,938.6L976.9,943.9L977.0,949.1L977.0,954.4L977.1,959.7L977.2,964.9L977.3,970.2L977.4,975.4L977.4,980.7L977.5,986.0L977.6,991.2L977.7,996.5L977.8,1001.7L977.8,1007.0L977.9,1012.3L978.0,1017.5L978.0,1022.8L978.1,1028.1L978.1,1033.3L978.2,1038.6L978.2,1043.8L978.3,1049.1L978.3,1054.4L978.4,1059.6L978.4,1064.9L978.4,1070.2L978.5,1075.4L978.5,1080.7L978.5,1085.9L978.5,1091.2L978.6,1096.5L978.6,1101.7L978.6,1107.0L978.6,1112.3L978.6,1117.5L978.6,1122.8L978.6,1128.0L978.6,1133.3M792.3,1133.3L793.5,1128.0L794.7,1122.8L796.1,1117.5L796.1,1117.2L798.2,1112.3L800.5,1107.0L802.5,1102.6L808.8,1103.4L813.6,1107.0L815.1,1108.2L818.2,1107.0L821.4,1105.8L827.8,1103.7L828.7,1101.7L831.3,1096.5L833.9,1091.2L834.1,1090.9L840.4,1086.2L840.5,1085.9L842.3,1080.7L843.8,1075.4L845.1,1070.2L846.2,1064.9L846.7,1062.2L847.2,1059.6L848.2,1054.4L849.3,1049.1L850.3,1043.8L851.3,1038.6L852.2,1033.3L853.0,1028.2L853.0,1028.1L853.6,1022.8L854.0,1017.5L854.4,1012.3L854.8,1007.0L855.2,1001.7L855.6,996.5L855.9,991.2L856.3,986.0L856.7,980.7L857.1,975.4L857.6,970.2L858.0,964.9L858.4,959.7L858.7,954.4L859.1,949.1L859.4,945.6L859.5,943.9L859.9,938.6L860.2,933.3L860.6,928.1L861.0,922.8L861.5,917.6L862.1,912.3L862.7,907.0L863.4,901.8L864.1,896.5L864.8,891.2L865.4,886.0L865.7,883.1L866.0,880.7L866.6,875.5L867.0,870.2L867.4,864.9L867.7,859.7L868.0,854.4L868.3,849.2L868.5,843.9L868.7,838.6L869.0,833.4L869.1,828.1L869.3,822.8L869.4,817.6L869.6,812.3L869.8,807.1L870.0,801.8L870.2,796.5L870.5,791.3L870.7,786.0L870.9,780.7L870.9,775.5L869.7,770.2L865.7,766.1L864.9,765.0L859.4,761.2L856.2,759.7L853.0,758.6L848.1,754.4L846.7,752.6L844.8,749.2L842.0,743.9L840.4,742.4L834.1,741.9L827.8,743.8L826.3,743.9L821.4,745.1L815.1,744.8L808.8,746.5L802.5,745.3L796.1,744.0L795.8,743.9L789.8,742.9L783.5,741.7L777.2,742.2L773.8,738.6L770.9,735.6L764.5,735.1L763.8,738.6L763.1,743.9L762.4,749.2L761.5,754.4L760.3,759.7L758.5,765.0L758.2,765.5L757.5,770.2L756.6,775.5L755.7,780.7L754.9,786.0L754.2,791.3L753.5,796.5L752.8,801.8L752.2,807.1L751.9,809.7L751.6,812.3L751.1,817.6L750.6,822.8L750.1,828.1L749.6,833.4L749.1,838.6L748.6,843.9L748.1,849.2L747.6,854.4L747.1,859.7L746.7,864.9L746.3,870.2L745.8,875.5L745.6,878.7L745.4,880.7L745.1,886.0L744.8,891.2L744.5,896.5L744.2,901.8L744.0,907.0L743.8,912.3L743.6,917.6L743.5,922.8L743.4,928.1L743.2,933.3L743.1,938.6L743.0,943.9L743.0,949.1L742.9,954.4L742.8,959.7L742.7,964.9L742.7,970.2L742.6,975.4L742.5,980.7L742.5,986.0L742.5,991.2L742.4,996.5L742.4,1001.7L742.4,1007.0L742.4,1012.3L742.4,1017.5L742.4,1022.8L742.4,1028.1L742.4,1033.3L742.4,1038.6L742.5,1043.8L742.6,1049.1L742.7,1054.4L742.8,1059.6L742.9,1064.9L743.1,1070.2L743.2,1075.4L743.4,1080.7L743.6,1085.9L743.8,1091.2L744.0,1096.5L744.3,1101.7L744.5,1107.0L744.8,1112.3L745.1,1117.5L745.5,1122.8L745.6,1124.0L746.1,1128.0L746.9,1133.3M1035.9,901.8L1036.3,902.9L1036.7,901.8L1038.5,896.5L1040.3,891.2L1041.9,886.0L1042.7,883.5L1044.9,880.7L1049.0,876.1L1049.6,875.5L1055.1,870.2L1055.3,870.0L1056.4,864.9L1057.5,859.7L1058.7,854.4L1059.9,849.2L1061.2,843.9L1061.6,842.0L1061.8,838.6L1062.1,833.4L1062.4,828.1L1062.7,822.8L1062.9,817.6L1063.2,812.3L1063.5,807.1L1063.8,801.8L1064.1,796.5L1064.5,791.3L1064.9,786.0L1065.3,780.7L1065.8,775.5L1066.3,770.2L1066.9,765.0L1067.6,759.7L1067.9,756.8L1068.2,754.4L1068.7,749.2L1069.3,743.9L1069.9,738.6L1070.5,733.4L1071.4,728.1L1072.4,722.9L1073.5,717.6L1074.3,714.0L1074.6,712.3L1075.6,707.1L1076.4,701.8L1077.1,696.6L1077.7,691.3L1078.1,686.0L1078.3,680.8L1077.9,675.5L1076.8,670.2L1075.3,665.0L1074.3,661.9L1073.5,659.7L1070.8,654.5L1067.9,650.2L1066.8,649.2L1061.6,644.7L1056.5,643.9L1055.3,643.8L1049.0,641.6L1042.7,639.2L1041.8,638.7L1036.3,635.5L1030.0,636.8L1023.7,636.1L1017.4,636.1L1011.1,637.0L1007.6,638.7L1004.7,640.0L1000.1,643.9L998.4,645.3L995.4,649.2L992.1,653.9L991.8,654.5L989.5,659.7L987.1,665.0L985.8,667.6L984.3,670.2L981.7,675.5L979.9,680.8L979.5,682.9L979.0,686.0L978.2,691.3L977.5,696.6L976.9,701.8L976.3,707.1L975.7,712.3L975.2,717.6L974.7,722.9L974.4,728.1L974.2,733.4L974.2,738.6L974.3,743.9L974.5,749.2L974.7,754.4L975.0,759.7L975.4,765.0L975.8,770.2L976.2,775.5L976.7,780.7L977.2,786.0L977.6,791.3L978.1,796.5L978.6,801.8L979.0,807.1L979.4,812.3L979.5,812.9L980.9,817.6L982.4,822.8L983.8,828.1L985.1,833.4L985.8,836.0L986.8,838.6L988.6,843.9L990.3,849.2L991.9,854.4L992.1,855.3L998.4,859.5L998.5,859.7L1000.6,864.9L1002.7,870.2L1004.7,875.5L1004.7,875.6L1006.1,880.7L1007.7,886.0L1009.2,891.2L1011.0,896.5L1011.1,896.7L1017.4,897.5L1018.7,896.5L1023.7,892.2L1024.4,891.2L1028.0,886.0L1030.0,882.8L1030.8,886.0L1032.3,891.2L1033.9,896.5L1035.9,901.8M876.0,770.2L878.3,772.1L880.0,770.2L883.8,765.0L878.3,763.4L875.9,765.0L876.0,770.2M778.7,1133.3L780.3,1128.0L782.0,1122.8L783.5,1118.4L783.8,1117.5L785.3,1112.3L787.1,1107.0L788.9,1101.7L789.8,1099.0L790.4,1096.5L791.7,1091.2L793.0,1085.9L794.4,1080.7L795.9,1075.4L796.1,1074.5L798.2,1070.2L800.7,1064.9L802.5,1061.4L804.0,1059.6L807.7,1054.4L808.8,1052.4L815.1,1050.6L817.4,1054.4L821.4,1058.9L822.0,1059.6L826.8,1064.9L827.8,1065.7L828.4,1064.9L834.1,1059.8L834.2,1059.6L836.3,1054.4L837.8,1049.1L838.9,1043.8L839.7,1038.6L840.4,1033.6L840.4,1033.3L841.7,1028.1L843.0,1022.8L844.3,1017.5L845.4,1012.3L846.4,1007.0L846.7,1005.3L847.4,1001.7L848.2,996.5L848.9,991.2L849.5,986.0L850.0,980.7L850.4,975.4L850.8,970.2L851.2,964.9L851.6,959.7L852.0,954.4L852.4,949.1L852.8,943.9L853.0,940.9L853.3,938.6L853.8,933.3L854.3,928.1L854.9,922.8L855.4,917.6L856.1,912.3L856.8,907.0L857.6,901.8L858.3,896.5L859.0,891.2L859.4,888.8L859.7,886.0L860.3,880.7L860.7,875.5L860.9,870.2L861.1,864.9L861.2,859.7L861.4,854.4L861.5,849.2L861.5,843.9L861.6,838.6L861.5,833.4L861.5,828.1L861.4,822.8L861.2,817.6L860.9,812.3L860.4,807.1L859.8,801.8L859.4,799.2L858.7,796.5L856.9,791.3L854.3,786.0L853.0,784.1L848.6,780.7L846.7,779.6L841.1,775.5L840.4,775.0L834.1,770.5L827.8,775.0L826.9,775.5L821.4,778.3L815.1,779.0L808.8,780.1L802.5,779.2L796.1,778.6L789.8,777.3L783.5,775.9L777.2,776.8L770.9,776.4L769.7,775.5L764.5,771.7L763.0,775.5L759.7,780.7L758.2,782.5L757.6,786.0L756.8,791.3L756.1,796.5L755.4,801.8L754.7,807.1L754.2,812.3L753.6,817.6L753.1,822.8L752.6,828.1L752.1,833.4L751.9,835.9L751.6,838.6L751.2,843.9L750.7,849.2L750.3,854.4L749.8,859.7L749.4,864.9L749.0,870.2L748.7,875.5L748.3,880.7L747.9,886.0L747.5,891.2L747.2,896.5L746.8,901.8L746.5,907.0L746.2,912.3L745.9,917.6L745.7,922.8L745.6,927.4L745.6,928.1L745.5,933.3L745.3,938.6L745.2,943.9L745.2,949.1L745.1,954.4L745.0,959.7L744.9,964.9L744.9,970.2L744.8,975.4L744.8,980.7L744.8,986.0L744.7,991.2L744.7,996.5L744.7,1001.7L744.7,1007.0L744.7,1012.3L744.7,1017.5L744.7,1022.8L744.7,1028.1L744.8,1033.3L744.8,1038.6L744.9,1043.8L745.0,1049.1L745.1,1054.4L745.3,1059.6L745.5,1064.9L745.6,1067.9L745.7,1070.2L746.1,1075.4L746.5,1080.7L746.9,1085.9L747.3,1091.2L747.8,1096.5L748.3,1101.7L748.9,1107.0L749.6,1112.3L750.3,1117.5L751.1,1122.8L751.9,1127.3L752.0,1128.0L753.0,1133.3M1009.3,712.3L1011.1,713.9L1017.4,714.3L1023.7,713.2L1027.0,712.3L1030.0,711.6L1031.1,712.3L1036.3,716.0L1042.7,712.7L1048.3,712.3L1049.0,712.3L1055.3,712.1L1061.6,711.2L1063.1,707.1L1064.3,701.8L1064.7,696.6L1064.7,691.3L1064.6,686.0L1064.3,680.8L1063.8,675.5L1062.9,670.2L1061.9,665.0L1061.6,664.1L1055.3,662.1L1049.0,660.1L1047.8,659.7L1042.7,658.8L1036.3,655.0L1030.0,658.7L1023.7,657.3L1017.4,656.8L1011.1,657.8L1008.2,659.7L1004.7,663.7L1004.1,665.0L1001.7,670.2L999.6,675.5L998.4,679.4L998.1,680.8L997.4,686.0L997.3,691.3L998.2,696.6L998.4,697.2L1000.2,701.8L1003.9,707.1L1004.7,707.9L1009.3,712.3M758.1,1128.0L758.2,1128.5L764.5,1132.7L766.8,1128.0L769.1,1122.8L770.9,1118.5L771.2,1117.5L772.7,1112.3L773.8,1107.0L774.8,1101.7L775.6,1096.5L776.3,1091.2L777.0,1085.9L777.2,1084.5L778.6,1080.7L780.5,1075.4L782.5,1070.2L783.5,1067.3L784.3,1064.9L786.0,1059.6L787.4,1054.4L788.6,1049.1L789.8,1043.8L789.8,1043.5L791.4,1038.6L793.3,1033.3L795.6,1028.1L796.1,1027.0L799.5,1022.8L802.5,1020.0L804.5,1017.5L808.8,1013.4L812.9,1012.3L815.1,1011.7L815.9,1012.3L821.4,1016.3L822.2,1017.5L825.1,1022.8L827.6,1028.1L827.8,1028.5L831.9,1033.3L834.1,1035.2L834.5,1033.3L835.6,1028.1L836.7,1022.8L837.7,1017.5L838.8,1012.3L839.9,1007.0L840.4,1004.7L841.2,1001.7L842.4,996.5L843.4,991.2L844.2,986.0L844.9,980.7L845.4,975.4L845.9,970.2L846.3,964.9L846.7,960.6L846.8,959.7L847.3,954.4L847.8,949.1L848.3,943.9L848.7,938.6L849.1,933.3L849.4,928.1L849.8,922.8L850.1,917.6L850.6,912.3L851.2,907.0L851.8,901.8L852.5,896.5L853.0,892.8L853.2,891.2L853.9,886.0L854.4,880.7L854.7,875.5L854.9,870.2L854.9,864.9L854.8,859.7L854.7,854.4L854.5,849.2L854.1,843.9L853.7,838.6L853.2,833.4L853.0,831.9L852.6,828.1L851.8,822.8L851.0,817.6L849.8,812.3L848.2,807.1L846.7,803.9L845.5,801.8L841.4,796.5L840.4,795.4L834.1,792.3L827.8,796.4L827.5,796.5L821.4,799.9L815.1,800.8L808.8,801.8L808.8,801.8L808.8,801.8L802.5,800.8L796.1,800.8L789.8,800.2L783.5,798.8L777.2,799.7L770.9,800.9L767.0,796.5L764.5,794.2L762.0,796.5L758.2,799.6L757.9,801.8L757.3,807.1L756.7,812.3L756.2,817.6L755.7,822.8L755.2,828.1L754.8,833.4L754.3,838.6L753.9,843.9L753.4,849.2L753.0,854.4L752.6,859.7L752.2,864.9L751.9,869.3L751.8,870.2L751.5,875.5L751.2,880.7L750.9,886.0L750.5,891.2L750.2,896.5L749.9,901.8L749.6,907.0L749.4,912.3L749.1,917.6L748.9,922.8L748.8,928.1L748.6,933.3L748.4,938.6L748.3,943.9L748.1,949.1L748.0,954.4L747.9,959.7L747.8,964.9L747.7,970.2L747.7,975.4L747.7,980.7L747.6,986.0L747.6,991.2L747.6,996.5L747.6,1001.7L747.6,1007.0L747.6,1012.3L747.7,1017.5L747.7,1022.8L747.7,1028.1L747.8,1033.3L747.9,1038.6L748.1,1043.8L748.3,1049.1L748.7,1054.4L749.0,1059.6L749.5,1064.9L749.9,1070.2L750.4,1075.4L750.9,1080.7L751.4,1085.9L751.9,1090.2L752.0,1091.2L752.7,1096.5L753.4,1101.7L754.3,1107.0L755.1,1112.3L756.1,1117.5L757.1,1122.8L758.1,1128.0M760.9,1101.7L764.5,1106.3L766.2,1101.7L767.9,1096.5L769.5,1091.2L770.9,1086.5L770.9,1085.9L771.7,1080.7L772.5,1075.4L773.3,1070.2L774.2,1064.9L775.1,1059.6L776.0,1054.4L776.9,1049.1L777.2,1047.5L778.1,1043.8L779.2,1038.6L780.0,1033.3L780.4,1028.1L780.7,1022.8L781.2,1017.5L781.8,1012.3L782.7,1007.0L783.5,1003.2L784.0,1001.7L786.8,996.5L789.8,992.4L796.1,991.5L802.5,991.8L804.8,991.2L808.8,990.2L813.2,991.2L815.1,991.5L821.4,994.2L823.2,996.5L827.3,1001.7L827.8,1002.4L830.9,1007.0L834.1,1011.4L835.0,1007.0L836.2,1001.7L837.3,996.5L838.4,991.2L839.4,986.0L840.3,980.7L840.4,980.0L841.0,975.4L841.5,970.2L842.1,964.9L842.6,959.7L843.2,954.4L843.6,949.1L844.1,943.9L844.4,938.6L844.8,933.3L845.0,928.1L845.2,922.8L845.4,917.6L845.7,912.3L845.9,907.0L846.3,901.8L846.6,896.5L846.7,895.5L847.0,891.2L847.4,886.0L847.8,880.7L848.0,875.5L848.1,870.2L848.0,864.9L847.8,859.7L847.4,854.4L846.9,849.2L846.7,847.4L846.2,843.9L845.3,838.6L844.1,833.4L842.8,828.1L841.3,822.8L840.4,820.0L837.5,817.6L834.1,815.3L832.1,817.6L828.8,822.8L827.8,825.1L825.5,828.1L821.9,833.4L821.4,834.2L815.1,837.5L813.4,838.6L808.8,842.1L802.5,841.5L796.1,842.8L789.8,841.5L784.9,838.6L783.5,837.9L781.5,838.6L777.2,840.3L772.1,838.6L770.9,838.3L769.7,833.4L768.3,828.1L766.4,822.8L764.5,818.3L759.2,822.8L758.2,823.7L757.9,828.1L757.4,833.4L757.0,838.6L756.6,843.9L756.2,849.2L755.9,854.4L755.5,859.7L755.2,864.9L754.9,870.2L754.6,875.5L754.4,880.7L754.1,886.0L753.8,891.2L753.5,896.5L753.3,901.8L753.0,907.0L752.7,912.3L752.5,917.6L752.2,922.8L752.0,928.1L751.9,930.3L751.8,933.3L751.6,938.6L751.5,943.9L751.3,949.1L751.2,954.4L751.1,959.7L751.0,964.9L750.9,970.2L750.9,975.4L750.9,980.7L750.9,986.0L750.9,991.2L750.9,996.5L750.9,1001.7L751.0,1007.0L751.0,1012.3L751.0,1017.5L751.1,1022.8L751.1,1028.1L751.3,1033.3L751.4,1038.6L751.7,1043.8L751.9,1046.6L752.1,1049.1L752.5,1054.4L753.1,1059.6L753.6,1064.9L754.2,1070.2L754.9,1075.4L755.5,1080.7L756.2,1085.9L757.0,1091.2L757.9,1096.5L758.2,1098.4L760.9,1101.7M789.8,960.5L789.0,959.7L783.5,954.5L783.4,954.4L779.9,949.1L777.7,943.9L777.2,942.0L776.9,938.6L776.6,933.3L776.3,928.1L776.2,922.8L776.2,917.6L776.4,912.3L776.8,907.0L777.2,903.6L777.8,901.8L780.8,896.5L783.5,893.7L786.5,891.2L789.8,888.8L792.7,891.2L796.1,896.5L796.1,896.5L797.5,901.8L798.3,907.0L798.7,912.3L799.0,917.6L799.1,922.8L799.0,928.1L798.8,933.3L798.4,938.6L797.7,943.9L796.7,949.1L796.1,951.3L794.8,954.4L790.7,959.7L789.8,960.5M763.5,1070.2L764.5,1071.1L764.8,1070.2L765.9,1064.9L767.3,1059.6L768.7,1054.4L770.0,1049.1L770.9,1044.3L770.9,1043.8L771.4,1038.6L771.8,1033.3L771.9,1028.1L771.9,1022.8L771.9,1017.5L771.9,1012.3L771.9,1007.0L771.9,1001.7L771.9,996.5L771.9,991.2L771.9,986.0L771.9,980.7L771.9,975.4L771.8,970.2L771.6,964.9L771.3,959.7L770.9,954.7L770.8,954.4L770.4,949.1L769.9,943.9L769.4,938.6L768.9,933.3L768.5,928.1L768.2,922.8L768.0,917.6L767.8,912.3L767.7,907.0L767.5,901.8L767.4,896.5L767.3,891.2L767.2,886.0L767.1,880.7L766.9,875.5L766.6,870.2L766.3,864.9L765.7,859.7L764.9,854.4L764.5,852.3L763.2,854.4L760.3,859.7L758.2,864.1L758.2,864.9L758.0,870.2L757.8,875.5L757.6,880.7L757.5,886.0L757.3,891.2L757.2,896.5L757.0,901.8L756.8,907.0L756.7,912.3L756.5,917.6L756.3,922.8L756.1,928.1L755.8,933.3L755.5,938.6L755.3,943.9L755.0,949.1L754.8,954.4L754.6,959.7L754.4,964.9L754.3,970.2L754.3,975.4L754.3,980.7L754.3,986.0L754.3,991.2L754.3,996.5L754.3,1001.7L754.3,1007.0L754.3,1012.3L754.3,1017.5L754.4,1022.8L754.4,1028.1L754.5,1033.3L754.9,1038.6L755.4,1043.8L756.0,1049.1L756.7,1054.4L757.3,1059.6L758.0,1064.9L758.2,1066.8L763.5,1070.2M833.2,986.0L834.1,987.8L834.4,986.0L835.3,980.7L836.0,975.4L836.7,970.2L837.3,964.9L838.0,959.7L838.7,954.4L839.3,949.1L839.9,943.9L840.4,938.6L840.4,938.5L840.7,933.3L840.9,928.1L841.0,922.8L841.0,917.6L841.0,912.3L841.0,907.0L841.0,901.8L841.0,896.5L841.0,891.2L840.9,886.0L840.8,880.7L840.7,875.5L840.6,870.2L840.4,865.3L840.4,864.9L839.5,859.7L838.0,854.4L835.8,849.2L834.1,845.9L833.1,849.2L831.7,854.4L830.7,859.7L829.9,864.9L829.3,870.2L828.8,875.5L828.3,880.7L827.9,886.0L827.8,887.7L827.3,891.2L826.7,896.5L826.2,901.8L825.9,907.0L825.6,912.3L825.5,917.6L825.4,922.8L825.5,928.1L825.6,933.3L825.8,938.6L826.1,943.9L826.6,949.1L827.1,954.4L827.8,959.1L827.8,959.7L828.3,964.9L829.0,970.2L829.8,975.4L831.1,980.7L833.2,986.0M761.1,1038.6L764.5,1039.2L764.7,1038.6L765.8,1033.3L766.1,1028.1L766.1,1022.8L766.1,1017.5L766.1,1012.3L766.1,1007.0L766.1,1001.7L766.1,996.5L766.1,991.2L766.1,986.0L766.1,980.7L766.1,975.4L766.0,970.2L765.7,964.9L765.3,959.7L764.7,954.4L764.5,953.1L763.0,954.4L758.7,959.7L758.2,960.5L758.0,964.9L757.9,970.2L757.8,975.4L757.7,980.7L757.7,986.0L757.7,991.2L757.6,996.5L757.6,1001.7L757.6,1007.0L757.6,1012.3L757.6,1017.5L757.6,1022.8L757.6,1028.1L757.8,1033.3L758.2,1037.7L761.1,1038.6M833.5,943.9L834.1,948.7L834.5,943.9L835.0,938.6L835.3,933.3L835.5,928.1L835.6,922.8L835.6,917.6L835.4,912.3L835.2,907.0L834.9,901.8L834.4,896.5L834.1,893.2L833.7,896.5L833.3,901.8L832.9,907.0L832.6,912.3L832.5,917.6L832.4,922.8L832.5,928.1L832.7,933.3L833.0,938.6L833.5,943.9" fill="none" stroke="#000" stroke-opacity="0.75" stroke-width="0.9" stroke-linejoin="round"/>
<text transform="translate(576.38,108.60) scale(1.0586,0.9864)" x="0" y="0" font-family="'DejaVu Sans', 'Liberation Sans', sans-serif" font-size="20" fill="#105aa6" ><tspan font-style="italic">W</tspan><tspan font-size="14" dy="4">p</tspan><tspan dy="-4">(kJ)</tspan></text>
<text transform="translate(734.70,68.63) scale(1.0525,1.0542)" x="0" y="0" font-family="'DejaVu Sans', 'Liberation Sans', sans-serif" font-size="25" fill="#ff0000" >(i)<tspan font-style="italic">Shrinking</tspan></text>
<text transform="translate(842.00,109.90) scale(1.0506,1.0208)" x="0" y="0" font-family="'DejaVu Sans', 'Liberation Sans', sans-serif" font-size="25" fill="#ff0000" >(ii)<tspan font-style="italic">Expansion</tspan></text>
<text transform="translate(930.40,152.08) scale(1.0521,1.0304)" x="0" y="0" font-family="'DejaVu Sans', 'Liberation Sans', sans-serif" font-size="25" fill="#ff0000" >(iii)<tspan font-style="italic">Saturation</tspan></text>
<clipPath id="ca"><rect x="448.5" y="28.6" width="758.5" height="157.9"/></clipPath>
<polyline points="448.5,146.39 462.41,146.74 476.31,142.98 481.37,142.98 492.75,139.21 500.33,137.56 511.71,135.21 520.56,134.27 533.2,133.68 557.22,134.62 575.55,133.68 593.88,131.44 600.45,130.38 609.05,128.5 625.23,126.26 638.12,127.56 641.03,128.62 652.03,134.86 656.96,136.5 668.47,143.45 672.76,145.57 690.84,153.45 717.89,160.28 732.68,165.93 747.48,174.99 765.55,178.99 781.36,177.93 803.86,176.76 819.79,174.99 835.59,170.52 855.94,163.69 878.57,153.45 894.37,139.92 910.17,120.73 928.25,92.37 946.2,64.12 959.98,44.34 965.92,38.46 976.16,35.4 983.5,37.4 992.34,43.52 1002.58,49.41 1009.92,53.76 1027.61,61.53 1046.83,66.35 1059.98,66.82 1076.16,70.71 1089.31,80.24 1104.1,97.9 1121.8,117.79 1142.4,131.8 1159.97,141.33 1179.06,146.15 1195.24,148.39 1207,149.69" fill="none" stroke="#0a4e9b" stroke-width="2.4" stroke-linejoin="round" clip-path="url(#ca)"/>
<clipPath id="cb"><rect x="448.5" y="186.5" width="758.5" height="157.5"/></clipPath>
<polyline points="448.5,298.36 454.82,212.52 461.14,334.88 467.46,339.33 473.78,333.03 480.1,315.04 486.43,324.68 492.75,315.6 499.07,341 505.39,330.25 511.71,321.16 518.03,336.55 524.35,326.91 530.67,333.77 536.99,331.92 543.31,325.61 549.63,330.25 555.95,335.44 562.27,331.92 568.6,340.44 574.92,328.02 581.24,341 587.56,339.89 593.88,333.77 600.2,331.36 606.52,329.13 612.84,315.6 619.16,333.77 625.48,333.03 631.8,333.03 638.12,339.89 644.45,329.88 650.77,335.99 657.09,300.95 663.41,337.66 669.73,339.89 676.05,337.66 682.37,337.11 688.69,318.94 695.01,305.96 701.33,341 707.65,341 713.98,334.88 720.3,325.24 726.62,321.16 732.94,312.26 739.26,212.52 745.58,283.9 751.9,290.01 758.22,274.26 764.54,276.48 770.86,259.61 777.18,270.36 783.5,280.56 789.83,308.18 796.15,275.92 802.47,304.29 808.79,304.29 815.11,303.18 821.43,330.8 827.75,288.35 834.07,299.66 840.39,312.26 846.71,337.66 853.03,321.16 859.35,308.18 865.67,315.04 872,321.16 878.32,315.6 884.64,327.47 890.96,313.93 897.28,310.59 903.6,334.88 909.92,298.54 916.24,331.92 922.56,321.16 928.88,335.44 935.2,341 941.52,330.25 947.85,336.55 954.17,333.03 960.49,328.02 966.81,334.88 973.13,319.49 979.45,330.25 985.77,334.88 992.09,320.05 998.41,341.56 1004.73,331.36 1011.05,313.38 1017.38,321.72 1023.7,328.02 1030.02,306.14 1036.34,330.25 1042.66,333.95 1048.98,309.85 1055.3,299.66 1061.62,302.81 1067.94,289.83 1074.26,326.54 1080.58,334.51 1086.9,317.82 1093.22,335.62 1099.55,335.62 1105.87,320.61 1112.19,323.39 1118.51,338.22 1124.83,335.62 1131.15,326.91 1137.47,334.51 1143.79,338.78 1150.11,310.41 1156.43,324.31 1162.75,335.62 1169.08,317.82 1175.4,330.8 1181.72,332.84 1188.04,330.25 1194.36,340.44 1200.68,335.07 1207,340.44" fill="none" stroke="#0a4e9b" stroke-width="2.6" stroke-linejoin="round" clip-path="url(#cb)"/>
<polyline points="448.5,322.83 454.82,323.39 461.14,327.47 467.46,328.02 473.78,328.02 480.1,328.02 486.43,331.92 492.75,323.39 499.07,327.47 505.39,331.92 511.71,323.39 518.03,318.94 524.35,323.39 530.67,323.39 536.99,318.94 543.31,318.94 549.63,331.92 555.95,309.85 562.27,327.47 568.6,318.94 574.92,331.36 581.24,332.47 587.56,318.94 593.88,318.94 600.2,323.39 606.52,318.94 612.84,327.47 619.16,331.92 625.48,323.39 631.8,327.47 638.12,336.92 644.45,323.57 650.77,323.02 657.09,318.38 663.41,305.4 669.73,323.94 676.05,314.49 682.37,323.57 688.69,328.58 695.01,337.11 701.33,318.38 707.65,328.58 713.98,314.49 720.3,328.02 726.62,287.23 732.94,311.52 739.26,292.98 745.58,193.42 751.9,202.32 758.22,270.36 764.54,229.57 770.86,202.32 777.18,252.19 783.5,226.24 789.83,197.87 796.15,247.74 802.47,242 808.79,229.57 815.11,229.57 821.43,210.85 827.75,234.02 834.07,203.8 840.39,223.83 846.71,265.17 853.03,274.26 859.35,274.26 865.67,292.43 872,278.15 878.32,283.34 884.64,305.4 890.96,309.85 897.28,296.32 903.6,304.85 909.92,309.3 916.24,301.32 922.56,278.15 928.88,300.95 935.2,309.85 941.52,318.94 947.85,296.32 954.17,313.93 960.49,318.94 966.81,328.02 973.13,309.85 979.45,314.49 985.77,323.57 992.09,323.94 998.41,318.94 1004.73,309.85 1011.05,301.32 1017.38,323.57 1023.7,324.5 1030.02,309.85 1036.34,309.85 1042.66,323.39 1048.98,309.85 1055.3,323.39 1061.62,301.14 1067.94,318.94 1074.26,309.85 1080.58,323.39 1086.9,300.77 1093.22,323.39 1099.55,318.38 1105.87,292.05 1112.19,327.65 1118.51,314.67 1124.83,309.85 1131.15,318.38 1137.47,336.74 1143.79,309.85 1150.11,323.39 1156.43,314.67 1162.75,323.39 1169.08,323.39 1175.4,314.67 1181.72,301.14 1188.04,328.02 1194.36,331.92 1200.68,314.67 1207,314.67" fill="none" stroke="#f0600a" stroke-width="2.6" stroke-linejoin="round" clip-path="url(#cb)"/>
<line x1="733.32" y1="28.6" x2="733.32" y2="1133.3" stroke="#ff0000" stroke-width="2" stroke-dasharray="7.4,3.2"/>
<line x1="834.7" y1="28.6" x2="834.7" y2="1133.3" stroke="#ff0000" stroke-width="2" stroke-dasharray="7.4,3.2"/>
<line x1="929.26" y1="28.6" x2="929.26" y2="1133.3" stroke="#ff0000" stroke-width="2" stroke-dasharray="7.4,3.2"/>
<rect x="448.5" y="28.6" width="758.5" height="157.9" fill="none" stroke="#000" stroke-width="2.1"/>
<path d="M448.5,186.5v-10M448.5,28.6v10M574.92,186.5v-10M574.92,28.6v10M701.33,186.5v-10M701.33,28.6v10M827.75,186.5v-10M827.75,28.6v10M954.17,186.5v-10M954.17,28.6v10M1080.58,186.5v-10M1080.58,28.6v10M1207,186.5v-10M1207,28.6v10" stroke="#000" stroke-width="1.9" fill="none"/>
<path d="M473.78,186.5v-6M473.78,28.6v6M499.07,186.5v-6M499.07,28.6v6M524.35,186.5v-6M524.35,28.6v6M549.63,186.5v-6M549.63,28.6v6M600.2,186.5v-6M600.2,28.6v6M625.48,186.5v-6M625.48,28.6v6M650.77,186.5v-6M650.77,28.6v6M676.05,186.5v-6M676.05,28.6v6M726.62,186.5v-6M726.62,28.6v6M751.9,186.5v-6M751.9,28.6v6M777.18,186.5v-6M777.18,28.6v6M802.47,186.5v-6M802.47,28.6v6M853.03,186.5v-6M853.03,28.6v6M878.32,186.5v-6M878.32,28.6v6M903.6,186.5v-6M903.6,28.6v6M928.88,186.5v-6M928.88,28.6v6M979.45,186.5v-6M979.45,28.6v6M1004.73,186.5v-6M1004.73,28.6v6M1030.02,186.5v-6M1030.02,28.6v6M1055.3,186.5v-6M1055.3,28.6v6M1105.87,186.5v-6M1105.87,28.6v6M1131.15,186.5v-6M1131.15,28.6v6M1156.43,186.5v-6M1156.43,28.6v6M1181.72,186.5v-6M1181.72,28.6v6" stroke="#000" stroke-width="1.4" fill="none"/>
<rect x="448.5" y="186.5" width="758.5" height="157.5" fill="none" stroke="#000" stroke-width="2.1"/>
<path d="M448.5,344v-10M448.5,186.5v10M574.92,344v-10M574.92,186.5v10M701.33,344v-10M701.33,186.5v10M827.75,344v-10M827.75,186.5v10M954.17,344v-10M954.17,186.5v10M1080.58,344v-10M1080.58,186.5v10M1207,344v-10M1207,186.5v10" stroke="#000" stroke-width="1.9" fill="none"/>
<path d="M473.78,344v-6M473.78,186.5v6M499.07,344v-6M499.07,186.5v6M524.35,344v-6M524.35,186.5v6M549.63,344v-6M549.63,186.5v6M600.2,344v-6M600.2,186.5v6M625.48,344v-6M625.48,186.5v6M650.77,344v-6M650.77,186.5v6M676.05,344v-6M676.05,186.5v6M726.62,344v-6M726.62,186.5v6M751.9,344v-6M751.9,186.5v6M777.18,344v-6M777.18,186.5v6M802.47,344v-6M802.47,186.5v6M853.03,344v-6M853.03,186.5v6M878.32,344v-6M878.32,186.5v6M903.6,344v-6M903.6,186.5v6M928.88,344v-6M928.88,186.5v6M979.45,344v-6M979.45,186.5v6M1004.73,344v-6M1004.73,186.5v6M1030.02,344v-6M1030.02,186.5v6M1055.3,344v-6M1055.3,186.5v6M1105.87,344v-6M1105.87,186.5v6M1131.15,344v-6M1131.15,186.5v6M1156.43,344v-6M1156.43,186.5v6M1181.72,344v-6M1181.72,186.5v6" stroke="#000" stroke-width="1.4" fill="none"/>
<rect x="448.5" y="344" width="758.5" height="789.3" fill="none" stroke="#000" stroke-width="2.1"/>
<path d="M448.5,1133.3v-10M448.5,344v10M574.92,1133.3v-10M574.92,344v10M701.33,1133.3v-10M701.33,344v10M827.75,1133.3v-10M827.75,344v10M954.17,1133.3v-10M954.17,344v10M1080.58,1133.3v-10M1080.58,344v10M1207,1133.3v-10M1207,344v10" stroke="#000" stroke-width="1.9" fill="none"/>
<path d="M473.78,1133.3v-6M473.78,344v6M499.07,1133.3v-6M499.07,344v6M524.35,1133.3v-6M524.35,344v6M549.63,1133.3v-6M549.63,344v6M600.2,1133.3v-6M600.2,344v6M625.48,1133.3v-6M625.48,344v6M650.77,1133.3v-6M650.77,344v6M676.05,1133.3v-6M676.05,344v6M726.62,1133.3v-6M726.62,344v6M751.9,1133.3v-6M751.9,344v6M777.18,1133.3v-6M777.18,344v6M802.47,1133.3v-6M802.47,344v6M853.03,1133.3v-6M853.03,344v6M878.32,1133.3v-6M878.32,344v6M903.6,1133.3v-6M903.6,344v6M928.88,1133.3v-6M928.88,344v6M979.45,1133.3v-6M979.45,344v6M1004.73,1133.3v-6M1004.73,344v6M1030.02,1133.3v-6M1030.02,344v6M1055.3,1133.3v-6M1055.3,344v6M1105.87,1133.3v-6M1105.87,344v6M1131.15,1133.3v-6M1131.15,344v6M1156.43,1133.3v-6M1156.43,344v6M1181.72,1133.3v-6M1181.72,344v6" stroke="#000" stroke-width="1.4" fill="none"/>
<path d="M448.5,181.7h10M1207,181.7h-10M448.5,122.85h10M1207,122.85h-10M448.5,64h10M1207,64h-10" stroke="#000" stroke-width="1.9" fill="none"/>
<path d="M448.5,169.93h6M1207,169.93h-6M448.5,158.16h6M1207,158.16h-6M448.5,146.39h6M1207,146.39h-6M448.5,134.62h6M1207,134.62h-6M448.5,111.08h6M1207,111.08h-6M448.5,99.31h6M1207,99.31h-6M448.5,87.54h6M1207,87.54h-6M448.5,75.77h6M1207,75.77h-6M448.5,52.23h6M1207,52.23h-6M448.5,40.46h6M1207,40.46h-6" stroke="#000" stroke-width="1.4" fill="none"/>
<path d="M448.5,341h10M1207,341h-10M448.5,248.3h10M1207,248.3h-10" stroke="#000" stroke-width="1.9" fill="none"/>
<path d="M448.5,322.46h6M1207,322.46h-6M448.5,303.92h6M1207,303.92h-6M448.5,285.38h6M1207,285.38h-6M448.5,266.84h6M1207,266.84h-6M448.5,229.76h6M1207,229.76h-6M448.5,211.22h6M1207,211.22h-6M448.5,192.68h6M1207,192.68h-6" stroke="#000" stroke-width="1.4" fill="none"/>
<path d="M448.5,922.82h10M1207,922.82h-10M448.5,659.72h10M1207,659.72h-10M448.5,396.62h10M1207,396.62h-10" stroke="#000" stroke-width="1.9" fill="none"/>
<path d="M448.5,1080.68h6M1207,1080.68h-6M448.5,1028.06h6M1207,1028.06h-6M448.5,975.44h6M1207,975.44h-6M448.5,870.2h6M1207,870.2h-6M448.5,817.58h6M1207,817.58h-6M448.5,764.96h6M1207,764.96h-6M448.5,712.34h6M1207,712.34h-6M448.5,607.1h6M1207,607.1h-6M448.5,554.48h6M1207,554.48h-6M448.5,501.86h6M1207,501.86h-6M448.5,449.24h6M1207,449.24h-6" stroke="#000" stroke-width="1.4" fill="none"/>
<rect x="1086.3" y="197.5" width="111.2" height="67.7" rx="4" fill="#fff" fill-opacity="0.8" stroke="#cccccc" stroke-width="1.2"/>
<line x1="1092.2" y1="214.5" x2="1137.3" y2="214.5" stroke="#0a4e9b" stroke-width="2.6" />
<line x1="1092.2" y1="245.9" x2="1137.3" y2="245.9" stroke="#f0600a" stroke-width="2.6" />
<rect x="1227.2" y="1098.98" width="30.4" height="34.92" fill="#46085c" stroke="none" stroke-width="1" />
<rect x="1227.2" y="1064.67" width="30.4" height="34.92" fill="#48186a" stroke="none" stroke-width="1" />
<rect x="1227.2" y="1030.35" width="30.4" height="34.92" fill="#482677" stroke="none" stroke-width="1" />
<rect x="1227.2" y="996.03" width="30.4" height="34.92" fill="#463480" stroke="none" stroke-width="1" />
<rect x="1227.2" y="961.71" width="30.4" height="34.92" fill="#414287" stroke="none" stroke-width="1" />
<rect x="1227.2" y="927.4" width="30.4" height="34.92" fill="#3c4f8a" stroke="none" stroke-width="1" />
<rect x="1227.2" y="893.08" width="30.4" height="34.92" fill="#375b8d" stroke="none" stroke-width="1" />
<rect x="1227.2" y="858.76" width="30.4" height="34.92" fill="#31668e" stroke="none" stroke-width="1" />
<rect x="1227.2" y="824.44" width="30.4" height="34.92" fill="#2d718e" stroke="none" stroke-width="1" />
<rect x="1227.2" y="790.13" width="30.4" height="34.92" fill="#297b8e" stroke="none" stroke-width="1" />
<rect x="1227.2" y="755.81" width="30.4" height="34.92" fill="#25858e" stroke="none" stroke-width="1" />
<rect x="1227.2" y="721.49" width="30.4" height="34.92" fill="#21908d" stroke="none" stroke-width="1" />
<rect x="1227.2" y="687.17" width="30.4" height="34.92" fill="#1e9b8a" stroke="none" stroke-width="1" />
<rect x="1227.2" y="652.86" width="30.4" height="34.92" fill="#21a585" stroke="none" stroke-width="1" />
<rect x="1227.2" y="618.54" width="30.4" height="34.92" fill="#29af7f" stroke="none" stroke-width="1" />
<rect x="1227.2" y="584.22" width="30.4" height="34.92" fill="#38b977" stroke="none" stroke-width="1" />
<rect x="1227.2" y="549.9" width="30.4" height="34.92" fill="#4cc26c" stroke="none" stroke-width="1" />
<rect x="1227.2" y="515.59" width="30.4" height="34.92" fill="#63cb5f" stroke="none" stroke-width="1" />
<rect x="1227.2" y="481.27" width="30.4" height="34.92" fill="#7cd250" stroke="none" stroke-width="1" />
<rect x="1227.2" y="446.95" width="30.4" height="34.92" fill="#9bd93c" stroke="none" stroke-width="1" />
<rect x="1227.2" y="412.63" width="30.4" height="34.92" fill="#b8de29" stroke="none" stroke-width="1" />
<rect x="1227.2" y="378.32" width="30.4" height="34.92" fill="#d5e21a" stroke="none" stroke-width="1" />
<rect x="1227.2" y="344" width="30.4" height="34.92" fill="#f1e51d" stroke="none" stroke-width="1" />
<rect x="1227.2" y="344" width="30.4" height="789.3" fill="none" stroke="#000" stroke-width="2.1"/>
<line x1="1248.6" y1="1133.3" x2="1257.6" y2="1133.3" stroke="#000" stroke-width="1.9" />
<line x1="1248.6" y1="790.13" x2="1257.6" y2="790.13" stroke="#000" stroke-width="1.9" />
<line x1="1248.6" y1="446.95" x2="1257.6" y2="446.95" stroke="#000" stroke-width="1.9" />
<clipPath id="ce"><rect x="930.3" y="1281.4" width="826.5" height="546.0999999999999"/></clipPath>
<polyline points="987.24,1580.05 1147.31,1474.81 1217.64,1453.57 1291.27,1474.81 1361.68,1425.1 1430.69,1361.97 1497.71,1361.38 1562.99,1429.38 1681.5,1643.03 1731.91,1776.22" fill="none" stroke="#0a4e9b" stroke-width="2.3" stroke-linejoin="round" clip-path="url(#ce)"/>
<polyline points="987.24,1566.18 1147.31,1529.61 1217.64,1542.22 1291.27,1570.98 1361.68,1554.97 1430.69,1509.47 1497.71,1442.14 1562.99,1426.87 1681.5,1612.2 1731.91,1804.25" fill="none" stroke="#f0600a" stroke-width="2.3" stroke-linejoin="round" clip-path="url(#ce)"/>
<polyline points="987.24,1511.61 1147.31,1491.62 1217.64,1492.66 1291.27,1504.01 1361.68,1550.99 1430.69,1526.8 1497.71,1520.02 1562.99,1470.16 1681.5,1393.61 1731.91,1322.66" fill="none" stroke="#0a7d0a" stroke-width="2.3" stroke-linejoin="round" clip-path="url(#ce)"/>
<rect x="930.3" y="1281.4" width="826.5" height="546.1" fill="none" stroke="#000" stroke-width="2.1"/>
<path d="M930.3,1827.5v-11M930.3,1281.4v11M1095.58,1827.5v-11M1095.58,1281.4v11M1260.86,1827.5v-11M1260.86,1281.4v11M1426.14,1827.5v-11M1426.14,1281.4v11M1591.42,1827.5v-11M1591.42,1281.4v11M1756.7,1827.5v-11M1756.7,1281.4v11" stroke="#000" stroke-width="2" fill="none"/>
<path d="M971.62,1827.5v-6.5M971.62,1281.4v6.5M1012.94,1827.5v-6.5M1012.94,1281.4v6.5M1054.26,1827.5v-6.5M1054.26,1281.4v6.5M1136.9,1827.5v-6.5M1136.9,1281.4v6.5M1178.22,1827.5v-6.5M1178.22,1281.4v6.5M1219.54,1827.5v-6.5M1219.54,1281.4v6.5M1302.18,1827.5v-6.5M1302.18,1281.4v6.5M1343.5,1827.5v-6.5M1343.5,1281.4v6.5M1384.82,1827.5v-6.5M1384.82,1281.4v6.5M1467.46,1827.5v-6.5M1467.46,1281.4v6.5M1508.78,1827.5v-6.5M1508.78,1281.4v6.5M1550.1,1827.5v-6.5M1550.1,1281.4v6.5M1632.74,1827.5v-6.5M1632.74,1281.4v6.5M1674.06,1827.5v-6.5M1674.06,1281.4v6.5M1715.38,1827.5v-6.5M1715.38,1281.4v6.5" stroke="#000" stroke-width="1.5" fill="none"/>
<path d="M930.3,1724.6h11M1756.8,1724.6h-11M930.3,1577.1h11M1756.8,1577.1h-11M930.3,1429.6h11M1756.8,1429.6h-11M930.3,1282.1h11M1756.8,1282.1h-11" stroke="#000" stroke-width="2" fill="none"/>
<path d="M930.3,1798.35h6.5M1756.8,1798.35h-6.5M930.3,1761.47h6.5M1756.8,1761.47h-6.5M930.3,1687.72h6.5M1756.8,1687.72h-6.5M930.3,1650.85h6.5M1756.8,1650.85h-6.5M930.3,1613.97h6.5M1756.8,1613.97h-6.5M930.3,1540.22h6.5M1756.8,1540.22h-6.5M930.3,1503.35h6.5M1756.8,1503.35h-6.5M930.3,1466.47h6.5M1756.8,1466.47h-6.5M930.3,1392.72h6.5M1756.8,1392.72h-6.5M930.3,1355.85h6.5M1756.8,1355.85h-6.5M930.3,1318.97h6.5M1756.8,1318.97h-6.5" stroke="#000" stroke-width="1.5" fill="none"/>
<rect x="944.8" y="1674" width="310.5" height="141.5" rx="4" fill="#fff" fill-opacity="0.8" stroke="#cccccc" stroke-width="1.3"/>
<line x1="954.2" y1="1698.7" x2="1012.2" y2="1698.7" stroke="#0a4e9b" stroke-width="2.6" />
<line x1="954.2" y1="1743.55" x2="1012.2" y2="1743.55" stroke="#f0600a" stroke-width="2.6" />
<line x1="954.2" y1="1788.4" x2="1012.2" y2="1788.4" stroke="#0a7d0a" stroke-width="2.6" />
<clipPath id="cd"><rect x="92.6" y="1293.3" width="682.1" height="546.5"/></clipPath>
<g clip-path="url(#cd)">
<path d="M344.39,1332.58 L352.31,1330.32 L360.08,1328.26 L367.71,1326.4 L375.2,1324.75 L382.55,1323.3 L389.76,1322.05 L396.83,1321.01 L403.76,1320.17 L410.54,1319.53 L417.4,1319.05 L424.33,1318.73 L431.33,1318.57 L438.4,1318.57 L445.54,1318.73 L452.75,1319.05 L460.03,1319.53 L467.38,1320.17 L474.51,1320.9 L481.44,1321.71 L488.16,1322.62 L494.67,1323.61 L500.96,1324.69 L507.05,1325.86 L512.92,1327.12 L518.58,1328.48 L524.19,1329.9 L529.73,1331.41 L535.22,1332.99 L540.65,1334.66 L546.03,1336.4 L551.34,1338.22 L556.6,1340.11 L561.8,1342.09 L566.98,1344.07 L572.12,1346.05 L577.25,1348.03 L582.35,1350.02 L587.42,1352.01 L592.48,1354 L597.5,1356 L602.5,1358 L607.51,1360.07 L612.53,1362.22 L617.56,1364.44 L622.59,1366.73 L627.64,1369.1 L632.7,1371.54 L637.76,1374.06 L642.84,1376.64 L647.99,1379.62 L653.21,1382.97 L658.5,1386.71 L663.87,1390.84 L669.31,1395.35 L674.83,1400.24 L680.42,1405.52 L686.08,1411.18 L691.46,1416.84 L696.55,1422.5 L701.36,1428.16 L705.89,1433.82 L710.13,1439.47 L714.08,1445.12 L717.76,1450.77 L721.14,1456.43 L724.25,1462.22 L727.07,1468.15 L729.61,1474.23 L731.87,1480.45 L733.84,1486.81 L735.53,1493.31 L736.94,1499.96 L738.06,1506.74 L738.91,1513.39 L739.47,1519.9 L739.75,1526.26 L739.75,1532.49 L739.47,1538.57 L738.91,1544.52 L738.06,1550.32 L736.94,1555.98 L735.46,1561.64 L733.63,1567.3 L731.44,1572.96 L728.91,1578.62 L726.02,1584.27 L722.77,1589.92 L719.18,1595.57 L715.22,1601.23 L710.71,1607.23 L705.62,1613.59 L699.97,1620.3 L693.75,1627.37 L686.97,1634.8 L679.61,1642.57 L671.69,1650.71 L663.21,1659.19 L654.37,1667.68 L645.17,1676.17 L635.62,1684.66 L625.72,1693.14 L615.47,1701.63 L604.87,1710.12 L593.91,1718.61 L582.59,1727.09 L571.28,1735.01 L559.97,1742.37 L548.66,1749.15 L537.34,1755.37 L526.03,1761.02 L514.72,1766.11 L503.41,1770.62 L492.09,1774.58 L480.78,1778.24 L469.47,1781.63 L458.16,1784.74 L446.84,1787.56 L435.53,1790.11 L424.22,1792.37 L412.91,1794.35 L401.59,1796.05 L390.8,1797.71 L380.54,1799.34 L370.8,1800.93 L361.58,1802.49 L352.88,1804.01 L344.71,1805.5 L337.06,1806.94 L329.94,1808.36 L323.3,1809.62 L317.16,1810.75 L311.51,1811.72 L306.34,1812.55 L301.67,1813.24 L297.49,1813.78 L293.8,1814.17 L290.6,1814.42 L287.5,1814.63 L284.49,1814.78 L281.57,1814.89 L278.75,1814.96 L276.03,1814.97 L273.4,1814.94 L270.87,1814.86 L268.43,1814.74 L266,1814.57 L263.56,1814.35 L261.13,1814.09 L258.7,1813.78 L256.27,1813.43 L253.84,1813.04 L251.41,1812.59 L248.99,1812.11 L246.56,1811.53 L244.13,1810.86 L241.7,1810.1 L239.27,1809.25 L236.84,1808.31 L234.4,1807.28 L231.97,1806.16 L229.53,1804.94 L227.1,1803.61 L224.66,1802.15 L222.23,1800.57 L219.8,1798.88 L217.37,1797.05 L214.94,1795.11 L212.51,1793.04 L210.09,1790.86 L207.66,1788.52 L205.24,1786.03 L202.81,1783.38 L200.39,1780.59 L197.96,1777.65 L195.54,1774.55 L193.11,1771.3 L190.69,1767.9 L188.26,1764.44 L185.83,1760.92 L183.4,1757.33 L180.97,1753.69 L178.54,1749.99 L176.1,1746.22 L173.67,1742.39 L171.23,1738.51 L168.89,1734.62 L166.63,1730.73 L164.47,1726.84 L162.4,1722.96 L160.43,1719.07 L158.54,1715.18 L156.75,1711.29 L155.05,1707.41 L153.41,1703.55 L151.83,1699.72 L150.32,1695.92 L148.86,1692.15 L147.46,1688.41 L146.13,1684.7 L144.86,1681.02 L143.64,1677.38 L142.42,1673.48 L141.19,1669.35 L139.94,1664.98 L138.68,1660.37 L137.42,1655.52 L136.14,1650.42 L134.85,1645.09 L133.55,1639.51 L132.32,1633.9 L131.15,1628.26 L130.05,1622.59 L129.02,1616.88 L128.06,1611.15 L127.16,1605.37 L126.33,1599.57 L125.57,1593.73 L124.92,1588.08 L124.38,1582.6 L123.95,1577.32 L123.63,1572.21 L123.42,1567.29 L123.32,1562.55 L123.34,1557.99 L123.46,1553.61 L123.68,1549.33 L123.98,1545.14 L124.38,1541.04 L124.87,1537.03 L125.45,1533.12 L126.12,1529.3 L126.88,1525.57 L127.73,1521.93 L128.64,1518.35 L129.61,1514.83 L130.64,1511.38 L131.73,1507.98 L132.89,1504.63 L134.1,1501.35 L135.38,1498.13 L136.72,1494.97 L138.37,1491.38 L140.32,1487.35 L142.59,1482.89 L145.16,1478.01 L148.05,1472.69 L151.24,1466.94 L154.74,1460.76 L158.56,1454.14 L162.74,1447.65 L167.3,1441.27 L172.23,1435.02 L177.53,1428.88 L183.2,1422.86 L189.24,1416.96 L195.66,1411.18 L202.44,1405.52 L209.8,1399.86 L217.72,1394.2 L226.2,1388.54 L235.25,1382.88 L244.87,1377.23 L255.05,1371.58 L265.79,1365.93 L277.11,1360.27 L287.99,1355.05 L298.46,1350.25 L308.49,1345.87 L318.11,1341.91 L327.29,1338.38 L336.06,1335.27Z" fill="none" stroke="#000" stroke-width="2.4"/>
<path d="M385.51,1411.53 L388.63,1409.74 L391.75,1407.86 L394.92,1405.96 L398.12,1403.95 L401.35,1401.8 L404.65,1399.6 L408.01,1397.28 L411.44,1394.77 L414.97,1392.18 L418.62,1389.58 L422.38,1386.95 L426.27,1384.25 L430.3,1381.59 L434.47,1378.87 L438.78,1376.23 L443.24,1373.61 L447.84,1371.08 L452.44,1369.8 L457.07,1368.95 L461.65,1368.85 L466.18,1369.19 L470.64,1369.95 L475.04,1371.02 L479.34,1372.44 L483.63,1373.86 L487.92,1375.28 L492.22,1376.7 L496.53,1378.11 L500.85,1379.53 L505.2,1380.96 L509.58,1382.4 L514,1383.84 L518.46,1385.3 L522.97,1386.77 L527.54,1388.26 L532.17,1389.77 L536.86,1391.33 L541.63,1392.91 L546.48,1394.53 L551.41,1396.2 L556.45,1397.9 L561.58,1399.66 L566.84,1401.46 L572.22,1403.32 L577.74,1405.25 L583.41,1407.23 L589.09,1409.41 L594.91,1411.69 L600.78,1414.14 L606.75,1416.73 L612.79,1419.49 L618.9,1422.43 L625.08,1425.54 L631.33,1428.85 L636.82,1432.77 L641.7,1437.17 L644.24,1442.75 L644.36,1449.33 L640.79,1457.2 L634.94,1465.53 L628.55,1473.58 L621.9,1481.25 L615.21,1488.45 L608.42,1495.24 L602.41,1501.42 L596.99,1507.11 L592.16,1512.36 L587.69,1517.28 L583.6,1521.89 L579.82,1526.23 L576.23,1530.35 L572.95,1534.26 L569.84,1538 L566.85,1541.58 L564.04,1545.01 L561.36,1548.31 L558.77,1551.5 L556.27,1554.58 L553.9,1557.58 L551.61,1560.48 L549.37,1563.31 L547.2,1566.06 L545.1,1568.76 L543.06,1571.4 L541.07,1573.99 L539.12,1576.53 L537.2,1579.03 L535.32,1581.5 L533.49,1583.94 L531.68,1586.36 L529.9,1588.75 L528.12,1591.11 L526.36,1593.46 L524.6,1595.79 L522.85,1598.1 L521.1,1600.4 L519.36,1602.7 L517.61,1605 L515.87,1607.29 L514.11,1609.58 L512.35,1611.88 L510.58,1614.18 L508.8,1616.5 L507.01,1618.83 L505.19,1621.17 L503.35,1623.53 L501.5,1625.92 L499.62,1628.34 L497.71,1630.78 L495.77,1633.26 L493.8,1635.77 L491.78,1638.33 L489.73,1640.93 L487.63,1643.59 L485.45,1646.24 L483.17,1648.85 L480.84,1651.52 L478.46,1654.26 L475.95,1656.93 L473.34,1659.55 L470.66,1662.22 L467.87,1664.82 L464.93,1667.23 L461.92,1669.71 L458.72,1671.71 L455.45,1673.67 L452.07,1675.47 L448.63,1677.25 L445.12,1679 L441.53,1680.67 L437.87,1682.38 L434.12,1684.03 L430.3,1685.66 L426.39,1687.34 L422.39,1688.97 L418.29,1690.61 L414.08,1692.29 L409.76,1693.99 L405.32,1695.71 L400.74,1697.49 L396.02,1699.28 L391.14,1701.11 L386.09,1703 L380.86,1704.91 L375.43,1706.87 L369.78,1708.89 L363.91,1710.94" fill="none" stroke="#000" stroke-width="2.0" stroke-dasharray="1.2,2.4"/>
<g fill="#000"><circle cx="232" cy="1566" r="1.4"/><circle cx="238" cy="1575" r="1.4"/><circle cx="228" cy="1580" r="1.4"/><circle cx="243" cy="1688" r="1.4"/><circle cx="250" cy="1694" r="1.4"/><circle cx="236" cy="1697" r="1.4"/><circle cx="247" cy="1702" r="1.4"/><circle cx="253" cy="1708" r="1.4"/><circle cx="645" cy="1441" r="1.4"/><circle cx="652" cy="1447" r="1.4"/><circle cx="660" cy="1437" r="1.4"/><circle cx="667" cy="1452" r="1.4"/><circle cx="314" cy="1722" r="1.4"/><circle cx="319" cy="1730" r="1.4"/><circle cx="309" cy="1735" r="1.4"/><circle cx="324" cy="1742" r="1.4"/><circle cx="263" cy="1590" r="1.4"/><circle cx="255" cy="1600" r="1.4"/><circle cx="470" cy="1660" r="1.4"/><circle cx="478" cy="1667" r="1.4"/><circle cx="486" cy="1662" r="1.4"/><circle cx="440" cy="1675" r="1.4"/><circle cx="301" cy="1466" r="1.4"/><circle cx="293" cy="1460" r="1.4"/><circle cx="287" cy="1471" r="1.4"/><circle cx="247" cy="1565" r="1.4"/><circle cx="420" cy="1768" r="1.4"/><circle cx="503" cy="1628" r="1.4"/><circle cx="693" cy="1428" r="1.4"/><circle cx="702" cy="1466" r="1.4"/><circle cx="721" cy="1520" r="1.4"/><circle cx="258" cy="1465" r="1.4"/><circle cx="270" cy="1460" r="1.4"/></g>
<path d="M442.36,1538 L442.24,1538.26 L442.11,1538.52 L441.99,1538.77 L441.86,1539.02 L441.72,1539.26 L441.59,1539.49 L441.45,1539.72 L441.31,1539.94 L441.17,1540.16 L441.03,1540.38 L440.89,1540.58 L440.75,1540.79 L440.6,1540.99 L440.45,1541.18 L440.31,1541.37 L440.16,1541.56 L440.01,1541.74 L439.86,1541.92 L439.71,1542.1 L439.56,1542.27 L439.41,1542.44 L439.26,1542.6 L439.1,1542.77 L438.95,1542.93 L438.79,1543.09 L438.64,1543.24 L438.48,1543.39 L438.32,1543.54 L438.16,1543.69 L438,1543.84 L437.84,1543.98 L437.68,1544.12 L437.52,1544.26 L437.35,1544.4 L437.18,1544.54 L437.02,1544.67 L436.85,1544.81 L436.67,1544.94 L436.5,1545.07 L436.32,1545.2 L436.14,1545.33 L435.96,1545.45 L435.78,1545.58 L435.6,1545.7 L435.41,1545.82 L435.22,1545.94 L435.02,1546.06 L434.83,1546.18 L434.62,1546.3 L434.42,1546.41 L434.21,1546.53 L434,1546.64 L433.79,1546.75 L433.57,1546.86 L433.35,1546.97 L433.12,1547.08 L432.89,1547.18 L432.65,1547.28 L432.41,1547.38 L432.17,1547.48 L431.92,1547.57 L431.66,1547.66 L431.4,1547.75 L431.13,1547.83 L430.86,1547.91 L430.58,1547.99 L430.3,1548.06 L430.01,1548.13 L429.72,1548.19 L429.42,1548.24 L429.12,1548.29 L428.81,1548.33 L428.5,1548.37 L428.18,1548.39 L427.86,1548.4 L427.53,1548.41 L427.2,1548.4 L426.87,1548.39 L426.54,1548.36 L426.21,1548.32 L425.88,1548.26 L425.55,1548.19 L425.22,1548.1 L424.9,1548 L424.58,1547.89 L424.27,1547.75 L423.96,1547.6 L423.67,1547.44 L423.38,1547.25 L423.11,1547.05 L422.85,1546.84 L422.61,1546.61 L422.38,1546.36 L422.16,1546.1 L421.97,1545.83 L421.79,1545.54 L421.63,1545.24 L421.48,1544.94 L421.36,1544.62 L421.25,1544.3 L421.16,1543.97 L421.09,1543.64 L421.04,1543.31 L421,1542.97 L420.98,1542.63 L420.97,1542.3 L420.98,1541.96 L421,1541.63 L421.03,1541.3 L421.08,1540.97 L421.13,1540.65 L421.19,1540.33 L421.27,1540.02 L421.35,1539.71 L421.44,1539.41 L421.53,1539.12 L421.64,1538.83 L421.74,1538.55 L421.86,1538.27 L421.97,1538 L422.09,1537.74 L422.22,1537.48 L422.34,1537.23 L422.47,1536.98 L422.61,1536.74 L422.74,1536.51 L422.88,1536.28 L423.02,1536.06 L423.16,1535.84 L423.3,1535.62 L423.44,1535.42 L423.59,1535.21 L423.73,1535.01 L423.88,1534.82 L424.02,1534.63 L424.17,1534.44 L424.32,1534.26 L424.47,1534.08 L424.62,1533.9 L424.77,1533.73 L424.92,1533.56 L425.07,1533.39 L425.23,1533.23 L425.38,1533.07 L425.54,1532.91 L425.69,1532.76 L425.85,1532.6 L426.01,1532.45 L426.17,1532.31 L426.33,1532.16 L426.49,1532.02 L426.65,1531.87 L426.81,1531.73 L426.98,1531.6 L427.15,1531.46 L427.32,1531.32 L427.49,1531.19 L427.66,1531.06 L427.83,1530.93 L428.01,1530.8 L428.19,1530.67 L428.37,1530.55 L428.55,1530.42 L428.74,1530.3 L428.93,1530.18 L429.12,1530.05 L429.31,1529.94 L429.51,1529.82 L429.71,1529.7 L429.91,1529.58 L430.12,1529.47 L430.33,1529.36 L430.54,1529.25 L430.76,1529.14 L430.99,1529.03 L431.21,1528.92 L431.44,1528.82 L431.68,1528.72 L431.92,1528.62 L432.17,1528.52 L432.42,1528.43 L432.67,1528.34 L432.93,1528.25 L433.2,1528.17 L433.47,1528.09 L433.75,1528.01 L434.03,1527.94 L434.32,1527.87 L434.61,1527.81 L434.91,1527.76 L435.21,1527.71 L435.52,1527.67 L435.84,1527.64 L436.15,1527.61 L436.48,1527.6 L436.8,1527.59 L437.13,1527.6 L437.46,1527.61 L437.79,1527.64 L438.12,1527.69 L438.45,1527.74 L438.78,1527.81 L439.11,1527.9 L439.43,1528 L439.75,1528.11 L440.06,1528.25 L440.37,1528.4 L440.66,1528.56 L440.95,1528.75 L441.22,1528.95 L441.48,1529.16 L441.73,1529.39 L441.96,1529.64 L442.17,1529.9 L442.37,1530.17 L442.55,1530.46 L442.71,1530.76 L442.85,1531.06 L442.98,1531.38 L443.08,1531.7 L443.17,1532.03 L443.24,1532.36 L443.3,1532.69 L443.33,1533.03 L443.35,1533.37 L443.36,1533.7 L443.35,1534.04 L443.33,1534.37 L443.3,1534.7 L443.26,1535.03 L443.2,1535.35 L443.14,1535.67 L443.06,1535.98 L442.98,1536.29 L442.89,1536.59 L442.8,1536.88 L442.7,1537.17 L442.59,1537.45 L442.48,1537.73Z" fill="none" stroke="#000" stroke-width="3.4"/>
<path d="M452.42,1538 L452.17,1538.53 L451.92,1539.04 L451.67,1539.55 L451.41,1540.04 L451.14,1540.52 L450.87,1540.98 L450.6,1541.44 L450.32,1541.89 L450.04,1542.32 L449.75,1542.75 L449.47,1543.16 L449.18,1543.57 L448.89,1543.97 L448.6,1544.36 L448.3,1544.74 L448.01,1545.11 L447.71,1545.48 L447.41,1545.83 L447.11,1546.19 L446.81,1546.53 L446.5,1546.87 L446.2,1547.2 L445.89,1547.52 L445.58,1547.84 L445.27,1548.16 L444.96,1548.47 L444.65,1548.77 L444.33,1549.07 L444.01,1549.37 L443.7,1549.66 L443.37,1549.95 L443.05,1550.23 L442.72,1550.51 L442.39,1550.79 L442.06,1551.06 L441.72,1551.33 L441.38,1551.6 L441.04,1551.86 L440.69,1552.13 L440.34,1552.38 L439.98,1552.64 L439.62,1552.89 L439.26,1553.14 L438.89,1553.39 L438.51,1553.64 L438.13,1553.88 L437.74,1554.12 L437.35,1554.36 L436.95,1554.59 L436.54,1554.82 L436.13,1555.05 L435.71,1555.28 L435.28,1555.5 L434.84,1555.72 L434.4,1555.94 L433.94,1556.15 L433.48,1556.36 L433.01,1556.56 L432.52,1556.76 L432.03,1556.96 L431.53,1557.15 L431.02,1557.33 L430.5,1557.51 L429.97,1557.68 L429.42,1557.84 L428.87,1557.99 L428.3,1558.13 L427.73,1558.27 L427.14,1558.39 L426.54,1558.5 L425.93,1558.59 L425.32,1558.67 L424.69,1558.74 L424.05,1558.79 L423.41,1558.82 L422.76,1558.83 L422.1,1558.82 L421.44,1558.78 L420.78,1558.72 L420.12,1558.64 L419.46,1558.53 L418.8,1558.38 L418.14,1558.21 L417.49,1558.01 L416.86,1557.78 L416.23,1557.51 L415.63,1557.21 L415.04,1556.88 L414.47,1556.51 L413.92,1556.11 L413.4,1555.68 L412.91,1555.22 L412.45,1554.72 L412.02,1554.2 L411.63,1553.66 L411.27,1553.08 L410.95,1552.49 L410.66,1551.88 L410.41,1551.25 L410.2,1550.61 L410.02,1549.95 L409.88,1549.29 L409.77,1548.62 L409.69,1547.95 L409.65,1547.27 L409.64,1546.6 L409.65,1545.93 L409.69,1545.26 L409.75,1544.6 L409.84,1543.95 L409.95,1543.3 L410.08,1542.67 L410.23,1542.04 L410.39,1541.43 L410.57,1540.83 L410.76,1540.24 L410.96,1539.66 L411.18,1539.09 L411.4,1538.54 L411.63,1538 L411.87,1537.47 L412.12,1536.96 L412.38,1536.45 L412.64,1535.96 L412.9,1535.48 L413.17,1535.01 L413.45,1534.56 L413.72,1534.11 L414,1533.67 L414.29,1533.24 L414.57,1532.83 L414.86,1532.42 L415.15,1532.02 L415.44,1531.63 L415.74,1531.25 L416.03,1530.88 L416.33,1530.51 L416.63,1530.15 L416.93,1529.8 L417.23,1529.46 L417.54,1529.12 L417.84,1528.78 L418.15,1528.46 L418.46,1528.14 L418.77,1527.82 L419.08,1527.51 L419.4,1527.21 L419.71,1526.91 L420.03,1526.61 L420.35,1526.32 L420.67,1526.03 L421,1525.75 L421.33,1525.47 L421.66,1525.19 L421.99,1524.92 L422.33,1524.65 L422.67,1524.38 L423.02,1524.12 L423.37,1523.86 L423.72,1523.6 L424.08,1523.34 L424.44,1523.09 L424.8,1522.84 L425.17,1522.59 L425.55,1522.35 L425.93,1522.11 L426.32,1521.87 L426.72,1521.63 L427.12,1521.4 L427.52,1521.17 L427.94,1520.94 L428.36,1520.72 L428.79,1520.49 L429.23,1520.28 L429.67,1520.06 L430.13,1519.85 L430.59,1519.64 L431.06,1519.44 L431.54,1519.24 L432.03,1519.05 L432.53,1518.86 L433.05,1518.68 L433.57,1518.5 L434.1,1518.33 L434.64,1518.17 L435.2,1518.02 L435.76,1517.88 L436.34,1517.74 L436.93,1517.62 L437.52,1517.51 L438.13,1517.42 L438.75,1517.34 L439.37,1517.27 L440.01,1517.22 L440.65,1517.19 L441.3,1517.18 L441.96,1517.19 L442.62,1517.23 L443.28,1517.29 L443.94,1517.37 L444.61,1517.48 L445.27,1517.62 L445.92,1517.79 L446.57,1518 L447.2,1518.23 L447.83,1518.5 L448.44,1518.8 L449.03,1519.13 L449.59,1519.49 L450.14,1519.89 L450.66,1520.32 L451.15,1520.79 L451.61,1521.28 L452.04,1521.8 L452.43,1522.35 L452.79,1522.92 L453.11,1523.51 L453.4,1524.12 L453.65,1524.75 L453.86,1525.4 L454.04,1526.05 L454.18,1526.71 L454.29,1527.38 L454.37,1528.06 L454.41,1528.73 L454.42,1529.41 L454.41,1530.08 L454.37,1530.74 L454.3,1531.4 L454.21,1532.06 L454.1,1532.7 L453.98,1533.34 L453.83,1533.96 L453.66,1534.57 L453.49,1535.18 L453.29,1535.77 L453.09,1536.34 L452.87,1536.91 L452.65,1537.46Z" fill="none" stroke="#000" stroke-width="3.4"/>
<path d="M462.46,1538 L462.1,1538.79 L461.72,1539.56 L461.34,1540.32 L460.94,1541.05 L460.54,1541.77 L460.13,1542.47 L459.72,1543.16 L459.3,1543.82 L458.88,1544.48 L458.45,1545.11 L458.02,1545.74 L457.58,1546.34 L457.14,1546.94 L456.7,1547.52 L456.26,1548.09 L455.81,1548.65 L455.36,1549.19 L454.91,1549.73 L454.46,1550.25 L454.01,1550.76 L453.55,1551.27 L453.09,1551.76 L452.63,1552.25 L452.17,1552.73 L451.71,1553.2 L451.24,1553.66 L450.77,1554.12 L450.3,1554.57 L449.82,1555.01 L449.35,1555.45 L448.86,1555.88 L448.38,1556.3 L447.89,1556.72 L447.4,1557.14 L446.9,1557.55 L446.4,1557.95 L445.89,1558.35 L445.38,1558.75 L444.86,1559.14 L444.33,1559.53 L443.8,1559.92 L443.26,1560.3 L442.72,1560.68 L442.16,1561.05 L441.6,1561.42 L441.03,1561.79 L440.45,1562.15 L439.86,1562.51 L439.27,1562.87 L438.66,1563.22 L438.04,1563.56 L437.41,1563.91 L436.76,1564.25 L436.11,1564.58 L435.44,1564.91 L434.76,1565.23 L434.07,1565.55 L433.36,1565.85 L432.64,1566.16 L431.9,1566.45 L431.15,1566.74 L430.38,1567.02 L429.6,1567.28 L428.8,1567.54 L427.98,1567.78 L427.15,1568.01 L426.3,1568.23 L425.43,1568.43 L424.55,1568.61 L423.65,1568.78 L422.74,1568.92 L421.81,1569.04 L420.87,1569.14 L419.92,1569.21 L418.95,1569.26 L417.98,1569.27 L416.99,1569.25 L416,1569.2 L415.01,1569.11 L414.01,1568.98 L413.02,1568.81 L412.03,1568.6 L411.05,1568.34 L410.08,1568.03 L409.12,1567.68 L408.19,1567.28 L407.28,1566.83 L406.39,1566.33 L405.54,1565.78 L404.72,1565.18 L403.94,1564.53 L403.21,1563.83 L402.52,1563.09 L401.88,1562.31 L401.29,1561.49 L400.75,1560.63 L400.26,1559.74 L399.83,1558.82 L399.46,1557.88 L399.14,1556.92 L398.87,1555.93 L398.65,1554.94 L398.49,1553.94 L398.38,1552.93 L398.31,1551.91 L398.28,1550.9 L398.3,1549.9 L398.36,1548.9 L398.46,1547.91 L398.59,1546.93 L398.75,1545.96 L398.94,1545.01 L399.16,1544.07 L399.4,1543.15 L399.67,1542.24 L399.95,1541.36 L400.26,1540.49 L400.58,1539.64 L400.91,1538.81 L401.26,1538 L401.62,1537.21 L402,1536.43 L402.38,1535.68 L402.77,1534.94 L403.17,1534.22 L403.57,1533.51 L403.98,1532.83 L404.4,1532.15 L404.82,1531.5 L405.25,1530.86 L405.68,1530.23 L406.11,1529.62 L406.55,1529.02 L406.98,1528.44 L407.43,1527.86 L407.87,1527.3 L408.32,1526.75 L408.77,1526.21 L409.22,1525.69 L409.68,1525.17 L410.14,1524.66 L410.59,1524.16 L411.06,1523.67 L411.52,1523.19 L411.99,1522.72 L412.46,1522.26 L412.93,1521.8 L413.41,1521.35 L413.89,1520.9 L414.37,1520.47 L414.85,1520.04 L415.34,1519.61 L415.84,1519.19 L416.33,1518.78 L416.84,1518.37 L417.34,1517.96 L417.86,1517.57 L418.37,1517.17 L418.9,1516.78 L419.43,1516.39 L419.96,1516.01 L420.5,1515.63 L421.05,1515.26 L421.61,1514.89 L422.18,1514.53 L422.75,1514.16 L423.33,1513.8 L423.92,1513.45 L424.52,1513.1 L425.14,1512.75 L425.76,1512.41 L426.39,1512.07 L427.03,1511.74 L427.69,1511.41 L428.36,1511.09 L429.04,1510.77 L429.73,1510.46 L430.44,1510.15 L431.16,1509.86 L431.9,1509.56 L432.65,1509.28 L433.42,1509.01 L434.2,1508.75 L435,1508.49 L435.82,1508.25 L436.65,1508.02 L437.5,1507.81 L438.36,1507.61 L439.24,1507.43 L440.14,1507.26 L441.05,1507.12 L441.97,1507 L442.91,1506.9 L443.87,1506.83 L444.83,1506.79 L445.8,1506.77 L446.79,1506.79 L447.78,1506.84 L448.77,1506.93 L449.76,1507.06 L450.76,1507.23 L451.75,1507.44 L452.73,1507.69 L453.7,1508 L454.65,1508.35 L455.59,1508.75 L456.5,1509.2 L457.38,1509.7 L458.24,1510.25 L459.05,1510.85 L459.83,1511.49 L460.57,1512.19 L461.26,1512.93 L461.9,1513.71 L462.49,1514.53 L463.03,1515.38 L463.51,1516.27 L463.94,1517.19 L464.32,1518.13 L464.64,1519.1 L464.91,1520.08 L465.12,1521.07 L465.28,1522.08 L465.4,1523.09 L465.46,1524.1 L465.48,1525.11 L465.46,1526.11 L465.4,1527.11 L465.31,1528.1 L465.17,1529.08 L465.01,1530.05 L464.81,1531 L464.59,1531.94 L464.35,1532.86 L464.08,1533.76 L463.79,1534.65 L463.48,1535.51 L463.16,1536.36 L462.82,1537.19Z" fill="none" stroke="#000" stroke-width="3.4"/>
<path d="M472.5,1538 L472.01,1539.05 L471.5,1540.08 L470.98,1541.09 L470.45,1542.07 L469.91,1543.02 L469.36,1543.95 L468.8,1544.86 L468.24,1545.75 L467.67,1546.62 L467.09,1547.47 L466.51,1548.29 L465.93,1549.1 L465.34,1549.89 L464.74,1550.66 L464.15,1551.41 L463.55,1552.15 L462.95,1552.87 L462.35,1553.58 L461.74,1554.27 L461.13,1554.96 L460.52,1555.62 L459.91,1556.28 L459.3,1556.92 L458.68,1557.56 L458.06,1558.18 L457.44,1558.79 L456.82,1559.4 L456.19,1559.99 L455.56,1560.58 L454.93,1561.16 L454.29,1561.73 L453.64,1562.3 L453,1562.86 L452.34,1563.41 L451.68,1563.96 L451.02,1564.5 L450.35,1565.03 L449.67,1565.57 L448.98,1566.09 L448.29,1566.61 L447.58,1567.13 L446.87,1567.64 L446.15,1568.15 L445.42,1568.66 L444.67,1569.16 L443.92,1569.65 L443.15,1570.14 L442.37,1570.63 L441.57,1571.11 L440.77,1571.58 L439.94,1572.05 L439.1,1572.52 L438.25,1572.98 L437.38,1573.43 L436.49,1573.87 L435.58,1574.31 L434.66,1574.74 L433.71,1575.16 L432.75,1575.57 L431.77,1575.97 L430.76,1576.35 L429.74,1576.73 L428.69,1577.09 L427.62,1577.44 L426.53,1577.76 L425.42,1578.08 L424.29,1578.37 L423.13,1578.64 L421.95,1578.88 L420.75,1579.1 L419.53,1579.3 L418.3,1579.46 L417.04,1579.59 L415.77,1579.68 L414.48,1579.74 L413.18,1579.76 L411.86,1579.73 L410.54,1579.66 L409.22,1579.53 L407.89,1579.36 L406.56,1579.13 L405.25,1578.84 L403.94,1578.49 L402.64,1578.08 L401.37,1577.61 L400.13,1577.07 L398.91,1576.47 L397.74,1575.8 L396.6,1575.06 L395.51,1574.26 L394.47,1573.39 L393.49,1572.46 L392.57,1571.47 L391.72,1570.43 L390.93,1569.33 L390.21,1568.19 L389.57,1567 L388.99,1565.78 L388.49,1564.52 L388.06,1563.24 L387.7,1561.93 L387.41,1560.6 L387.19,1559.26 L387.03,1557.92 L386.94,1556.57 L386.9,1555.22 L386.92,1553.88 L387,1552.55 L387.12,1551.22 L387.29,1549.92 L387.5,1548.63 L387.76,1547.35 L388.04,1546.1 L388.37,1544.87 L388.72,1543.67 L389.09,1542.49 L389.5,1541.33 L389.92,1540.19 L390.37,1539.08 L390.83,1538 L391.32,1536.94 L391.81,1535.91 L392.32,1534.9 L392.84,1533.91 L393.37,1532.95 L393.91,1532 L394.46,1531.09 L395.02,1530.19 L395.58,1529.31 L396.15,1528.46 L396.73,1527.62 L397.31,1526.8 L397.89,1526 L398.48,1525.22 L399.07,1524.46 L399.67,1523.71 L400.27,1522.98 L400.87,1522.26 L401.48,1521.56 L402.09,1520.87 L402.7,1520.19 L403.32,1519.53 L403.94,1518.87 L404.56,1518.23 L405.19,1517.6 L405.81,1516.98 L406.45,1516.38 L407.08,1515.78 L407.73,1515.19 L408.37,1514.6 L409.02,1514.03 L409.68,1513.47 L410.34,1512.91 L411,1512.36 L411.67,1511.81 L412.35,1511.28 L413.03,1510.74 L413.73,1510.22 L414.42,1509.7 L415.13,1509.19 L415.85,1508.68 L416.57,1508.18 L417.3,1507.68 L418.05,1507.19 L418.8,1506.7 L419.57,1506.22 L420.34,1505.74 L421.13,1505.27 L421.93,1504.8 L422.75,1504.34 L423.57,1503.88 L424.42,1503.43 L425.28,1502.98 L426.15,1502.55 L427.04,1502.11 L427.95,1501.69 L428.88,1501.27 L429.82,1500.87 L430.78,1500.47 L431.77,1500.08 L432.77,1499.7 L433.79,1499.34 L434.84,1498.98 L435.9,1498.65 L436.99,1498.32 L438.1,1498.02 L439.23,1497.73 L440.38,1497.47 L441.56,1497.23 L442.75,1497.01 L443.97,1496.82 L445.2,1496.66 L446.45,1496.53 L447.72,1496.43 L449.01,1496.37 L450.31,1496.36 L451.62,1496.38 L452.94,1496.45 L454.26,1496.57 L455.58,1496.75 L456.91,1496.97 L458.23,1497.26 L459.53,1497.6 L460.82,1498 L462.1,1498.47 L463.34,1499.01 L464.56,1499.61 L465.73,1500.27 L466.87,1501.01 L467.96,1501.81 L469,1502.67 L469.98,1503.59 L470.9,1504.58 L471.75,1505.62 L472.54,1506.71 L473.26,1507.85 L473.91,1509.04 L474.48,1510.26 L474.98,1511.52 L475.41,1512.8 L475.77,1514.11 L476.05,1515.43 L476.27,1516.77 L476.43,1518.12 L476.52,1519.46 L476.55,1520.81 L476.52,1522.15 L476.44,1523.48 L476.31,1524.81 L476.13,1526.11 L475.91,1527.4 L475.65,1528.67 L475.36,1529.92 L475.03,1531.15 L474.67,1532.35 L474.28,1533.53 L473.86,1534.69 L473.43,1535.82 L472.97,1536.92Z" fill="none" stroke="#000" stroke-width="3.4"/>
<path d="M482.51,1538 L481.89,1539.32 L481.25,1540.6 L480.59,1541.85 L479.92,1543.07 L479.23,1544.27 L478.53,1545.43 L477.83,1546.56 L477.11,1547.67 L476.39,1548.74 L475.66,1549.8 L474.92,1550.82 L474.18,1551.82 L473.43,1552.8 L472.69,1553.76 L471.93,1554.69 L471.18,1555.61 L470.42,1556.5 L469.66,1557.38 L468.9,1558.24 L468.14,1559.08 L467.38,1559.9 L466.61,1560.71 L465.84,1561.51 L465.07,1562.29 L464.3,1563.07 L463.53,1563.83 L462.75,1564.57 L461.97,1565.31 L461.18,1566.04 L460.4,1566.76 L459.6,1567.48 L458.81,1568.18 L458.01,1568.88 L457.2,1569.57 L456.38,1570.25 L455.56,1570.93 L454.73,1571.6 L453.89,1572.27 L453.04,1572.94 L452.18,1573.59 L451.31,1574.25 L450.43,1574.89 L449.54,1575.54 L448.63,1576.18 L447.71,1576.81 L446.77,1577.44 L445.82,1578.07 L444.85,1578.69 L443.87,1579.3 L442.86,1579.91 L441.84,1580.51 L440.79,1581.1 L439.73,1581.69 L438.64,1582.27 L437.54,1582.84 L436.4,1583.4 L435.25,1583.94 L434.07,1584.48 L432.86,1585.01 L431.63,1585.52 L430.38,1586.01 L429.09,1586.49 L427.78,1586.95 L426.44,1587.39 L425.08,1587.81 L423.68,1588.2 L422.26,1588.57 L420.81,1588.91 L419.34,1589.22 L417.83,1589.5 L416.31,1589.74 L414.75,1589.95 L413.18,1590.11 L411.59,1590.22 L409.97,1590.29 L408.34,1590.31 L406.7,1590.27 L405.05,1590.17 L403.39,1590.01 L401.73,1589.79 L400.08,1589.5 L398.43,1589.13 L396.8,1588.69 L395.18,1588.17 L393.59,1587.57 L392.04,1586.89 L390.52,1586.13 L389.05,1585.29 L387.64,1584.36 L386.28,1583.36 L384.98,1582.27 L383.76,1581.11 L382.61,1579.87 L381.54,1578.56 L380.56,1577.19 L379.66,1575.76 L378.85,1574.28 L378.13,1572.75 L377.49,1571.18 L376.95,1569.57 L376.5,1567.94 L376.13,1566.28 L375.85,1564.61 L375.65,1562.93 L375.52,1561.24 L375.47,1559.56 L375.49,1557.88 L375.58,1556.21 L375.73,1554.56 L375.93,1552.92 L376.19,1551.31 L376.5,1549.72 L376.86,1548.15 L377.25,1546.61 L377.69,1545.1 L378.15,1543.62 L378.66,1542.17 L379.18,1540.75 L379.74,1539.36 L380.32,1538 L380.92,1536.67 L381.54,1535.37 L382.17,1534.11 L382.82,1532.87 L383.49,1531.66 L384.17,1530.48 L384.85,1529.33 L385.55,1528.21 L386.26,1527.11 L386.98,1526.03 L387.7,1524.99 L388.43,1523.96 L389.16,1522.96 L389.9,1521.98 L390.65,1521.02 L391.4,1520.09 L392.16,1519.17 L392.92,1518.27 L393.68,1517.39 L394.45,1516.53 L395.22,1515.69 L396,1514.86 L396.78,1514.04 L397.56,1513.24 L398.35,1512.46 L399.14,1511.69 L399.94,1510.93 L400.74,1510.18 L401.54,1509.45 L402.35,1508.72 L403.17,1508.01 L403.99,1507.3 L404.82,1506.61 L405.66,1505.92 L406.5,1505.24 L407.35,1504.58 L408.21,1503.91 L409.07,1503.26 L409.95,1502.61 L410.83,1501.97 L411.73,1501.34 L412.63,1500.71 L413.55,1500.09 L414.48,1499.48 L415.42,1498.87 L416.38,1498.27 L417.35,1497.67 L418.34,1497.08 L419.34,1496.49 L420.36,1495.92 L421.39,1495.35 L422.45,1494.78 L423.52,1494.22 L424.61,1493.67 L425.73,1493.13 L426.86,1492.6 L428.02,1492.08 L429.2,1491.57 L430.4,1491.07 L431.63,1490.58 L432.89,1490.11 L434.17,1489.65 L435.47,1489.21 L436.81,1488.79 L438.17,1488.38 L439.55,1488 L440.97,1487.65 L442.41,1487.31 L443.87,1487.01 L445.37,1486.74 L446.89,1486.5 L448.43,1486.3 L450,1486.14 L451.58,1486.03 L453.19,1485.96 L454.81,1485.94 L456.45,1485.97 L458.1,1486.06 L459.75,1486.22 L461.4,1486.44 L463.06,1486.72 L464.7,1487.08 L466.33,1487.51 L467.95,1488.02 L469.53,1488.61 L471.09,1489.28 L472.6,1490.03 L474.07,1490.87 L475.49,1491.78 L476.85,1492.78 L478.15,1493.86 L479.37,1495.02 L480.52,1496.25 L481.59,1497.55 L482.58,1498.91 L483.48,1500.33 L484.29,1501.81 L485.01,1503.34 L485.63,1504.91 L486.17,1506.51 L486.62,1508.14 L486.98,1509.8 L487.26,1511.47 L487.45,1513.15 L487.57,1514.83 L487.61,1516.51 L487.58,1518.19 L487.48,1519.86 L487.32,1521.51 L487.09,1523.14 L486.82,1524.75 L486.49,1526.34 L486.12,1527.9 L485.71,1529.44 L485.25,1530.94 L484.76,1532.42 L484.24,1533.86 L483.69,1535.27 L483.11,1536.65Z" fill="none" stroke="#000" stroke-width="3.4"/>
<path d="M492.49,1538 L491.73,1539.58 L490.95,1541.12 L490.15,1542.62 L489.32,1544.08 L488.48,1545.5 L487.63,1546.89 L486.77,1548.24 L485.89,1549.56 L485.01,1550.85 L484.11,1552.1 L483.21,1553.32 L482.31,1554.51 L481.4,1555.67 L480.49,1556.81 L479.58,1557.91 L478.66,1559 L477.74,1560.06 L476.82,1561.09 L475.9,1562.11 L474.98,1563.1 L474.06,1564.08 L473.14,1565.04 L472.21,1565.98 L471.29,1566.91 L470.37,1567.82 L469.44,1568.72 L468.51,1569.61 L467.58,1570.49 L466.65,1571.36 L465.71,1572.21 L464.77,1573.06 L463.83,1573.91 L462.88,1574.74 L461.92,1575.57 L460.96,1576.39 L459.99,1577.21 L459,1578.02 L458.01,1578.83 L457.01,1579.63 L456,1580.43 L454.97,1581.22 L453.93,1582.01 L452.87,1582.8 L451.79,1583.58 L450.7,1584.36 L449.59,1585.13 L448.46,1585.9 L447.31,1586.66 L446.14,1587.42 L444.94,1588.17 L443.72,1588.91 L442.48,1589.65 L441.21,1590.37 L439.91,1591.09 L438.58,1591.8 L437.23,1592.49 L435.84,1593.17 L434.43,1593.83 L432.98,1594.48 L431.5,1595.11 L429.99,1595.72 L428.44,1596.31 L426.87,1596.88 L425.25,1597.42 L423.61,1597.94 L421.93,1598.42 L420.22,1598.87 L418.47,1599.29 L416.7,1599.67 L414.89,1600 L413.05,1600.29 L411.18,1600.54 L409.29,1600.73 L407.37,1600.87 L405.43,1600.94 L403.47,1600.96 L401.5,1600.9 L399.51,1600.78 L397.52,1600.58 L395.53,1600.3 L393.55,1599.94 L391.57,1599.49 L389.61,1598.95 L387.68,1598.31 L385.78,1597.59 L383.92,1596.76 L382.1,1595.84 L380.34,1594.82 L378.64,1593.7 L377.02,1592.48 L375.47,1591.17 L374,1589.77 L372.62,1588.29 L371.34,1586.72 L370.16,1585.07 L369.08,1583.35 L368.1,1581.57 L367.23,1579.74 L366.47,1577.85 L365.81,1575.93 L365.26,1573.97 L364.81,1571.98 L364.46,1569.98 L364.21,1567.96 L364.05,1565.94 L363.98,1563.92 L363.99,1561.9 L364.09,1559.9 L364.25,1557.92 L364.49,1555.96 L364.79,1554.02 L365.15,1552.1 L365.57,1550.22 L366.03,1548.37 L366.55,1546.55 L367.1,1544.77 L367.7,1543.02 L368.32,1541.31 L368.99,1539.64 L369.68,1538 L370.39,1536.4 L371.14,1534.84 L371.9,1533.31 L372.68,1531.82 L373.48,1530.36 L374.3,1528.94 L375.13,1527.55 L375.97,1526.2 L376.82,1524.87 L377.69,1523.58 L378.56,1522.32 L379.44,1521.09 L380.33,1519.88 L381.23,1518.7 L382.13,1517.55 L383.04,1516.43 L383.96,1515.32 L384.88,1514.25 L385.81,1513.19 L386.74,1512.16 L387.67,1511.14 L388.61,1510.15 L389.56,1509.17 L390.51,1508.22 L391.46,1507.28 L392.42,1506.35 L393.38,1505.45 L394.35,1504.55 L395.33,1503.67 L396.31,1502.81 L397.29,1501.96 L398.29,1501.11 L399.29,1500.28 L400.3,1499.47 L401.31,1498.66 L402.34,1497.86 L403.37,1497.07 L404.41,1496.29 L405.47,1495.51 L406.53,1494.75 L407.61,1493.99 L408.7,1493.24 L409.8,1492.5 L410.91,1491.76 L412.05,1491.04 L413.19,1490.31 L414.36,1489.6 L415.54,1488.89 L416.75,1488.19 L417.97,1487.49 L419.21,1486.81 L420.47,1486.13 L421.76,1485.46 L423.07,1484.8 L424.41,1484.15 L425.77,1483.51 L427.16,1482.88 L428.58,1482.26 L430.02,1481.66 L431.5,1481.08 L433.01,1480.51 L434.54,1479.95 L436.11,1479.42 L437.71,1478.91 L439.34,1478.43 L441.01,1477.97 L442.71,1477.54 L444.44,1477.14 L446.2,1476.78 L447.99,1476.46 L449.81,1476.17 L451.67,1475.94 L453.55,1475.75 L455.45,1475.61 L457.38,1475.53 L459.32,1475.51 L461.28,1475.56 L463.26,1475.67 L465.24,1475.86 L467.22,1476.13 L469.2,1476.47 L471.17,1476.91 L473.13,1477.43 L475.06,1478.05 L476.96,1478.76 L478.82,1479.57 L480.63,1480.47 L482.4,1481.47 L484.1,1482.58 L485.72,1483.78 L487.28,1485.07 L488.75,1486.46 L490.12,1487.93 L491.41,1489.49 L492.59,1491.12 L493.67,1492.83 L494.65,1494.6 L495.51,1496.43 L496.27,1498.31 L496.92,1500.23 L497.46,1502.18 L497.9,1504.17 L498.24,1506.17 L498.48,1508.18 L498.62,1510.2 L498.67,1512.22 L498.63,1514.23 L498.52,1516.22 L498.32,1518.21 L498.06,1520.17 L497.73,1522.1 L497.34,1524.01 L496.89,1525.88 L496.38,1527.72 L495.83,1529.53 L495.24,1531.3 L494.6,1533.03 L493.93,1534.73 L493.23,1536.38Z" fill="none" stroke="#000" stroke-width="3.4"/>
<path d="M502.44,1538 L501.53,1539.84 L500.59,1541.63 L499.63,1543.37 L498.65,1545.07 L497.65,1546.73 L496.63,1548.34 L495.59,1549.9 L494.55,1551.43 L493.49,1552.91 L492.43,1554.36 L491.35,1555.77 L490.28,1557.14 L489.2,1558.48 L488.11,1559.78 L487.03,1561.06 L485.94,1562.3 L484.86,1563.51 L483.77,1564.7 L482.69,1565.86 L481.6,1567 L480.52,1568.12 L479.44,1569.22 L478.36,1570.3 L477.29,1571.36 L476.21,1572.41 L475.14,1573.44 L474.06,1574.47 L472.99,1575.48 L471.91,1576.48 L470.83,1577.47 L469.75,1578.45 L468.67,1579.42 L467.58,1580.39 L466.48,1581.36 L465.37,1582.32 L464.26,1583.28 L463.14,1584.23 L462.01,1585.18 L460.86,1586.13 L459.7,1587.07 L458.52,1588.02 L457.33,1588.96 L456.12,1589.9 L454.89,1590.83 L453.64,1591.76 L452.36,1592.69 L451.06,1593.62 L449.74,1594.54 L448.38,1595.45 L447,1596.36 L445.59,1597.26 L444.15,1598.15 L442.68,1599.03 L441.17,1599.89 L439.63,1600.75 L438.05,1601.59 L436.44,1602.41 L434.78,1603.22 L433.1,1604.01 L431.37,1604.77 L429.6,1605.51 L427.79,1606.22 L425.94,1606.91 L424.06,1607.56 L422.13,1608.18 L420.16,1608.76 L418.15,1609.3 L416.11,1609.79 L414.02,1610.24 L411.9,1610.64 L409.75,1610.98 L407.56,1611.26 L405.34,1611.48 L403.1,1611.64 L400.83,1611.72 L398.54,1611.73 L396.24,1611.65 L393.92,1611.5 L391.6,1611.25 L389.27,1610.91 L386.96,1610.47 L384.66,1609.93 L382.38,1609.28 L380.12,1608.53 L377.91,1607.66 L375.74,1606.69 L373.63,1605.6 L371.58,1604.39 L369.61,1603.08 L367.72,1601.65 L365.91,1600.11 L364.2,1598.47 L362.6,1596.73 L361.1,1594.9 L359.72,1592.97 L358.46,1590.97 L357.32,1588.89 L356.29,1586.75 L355.4,1584.55 L354.62,1582.31 L353.97,1580.02 L353.43,1577.71 L353.01,1575.37 L352.7,1573.02 L352.5,1570.67 L352.4,1568.31 L352.4,1565.96 L352.49,1563.63 L352.67,1561.31 L352.93,1559.02 L353.27,1556.75 L353.67,1554.51 L354.14,1552.31 L354.67,1550.15 L355.26,1548.02 L355.9,1545.93 L356.58,1543.89 L357.31,1541.88 L358.07,1539.92 L358.87,1538 L359.71,1536.12 L360.57,1534.29 L361.46,1532.5 L362.37,1530.75 L363.31,1529.04 L364.26,1527.37 L365.24,1525.74 L366.23,1524.15 L367.23,1522.6 L368.25,1521.09 L369.28,1519.61 L370.32,1518.16 L371.37,1516.75 L372.43,1515.37 L373.49,1514.03 L374.57,1512.71 L375.65,1511.42 L376.74,1510.17 L377.83,1508.93 L378.93,1507.73 L380.04,1506.55 L381.15,1505.39 L382.26,1504.25 L383.39,1503.14 L384.51,1502.05 L385.64,1500.97 L386.78,1499.92 L387.92,1498.88 L389.07,1497.86 L390.23,1496.86 L391.39,1495.87 L392.55,1494.89 L393.73,1493.93 L394.91,1492.98 L396.11,1492.05 L397.31,1491.12 L398.52,1490.21 L399.74,1489.3 L400.97,1488.4 L402.22,1487.52 L403.48,1486.64 L404.75,1485.77 L406.04,1484.9 L407.35,1484.05 L408.67,1483.2 L410.01,1482.36 L411.37,1481.52 L412.75,1480.7 L414.15,1479.88 L415.58,1479.07 L417.03,1478.27 L418.5,1477.47 L420,1476.69 L421.53,1475.92 L423.09,1475.15 L424.68,1474.4 L426.3,1473.67 L427.96,1472.95 L429.64,1472.24 L431.37,1471.55 L433.12,1470.88 L434.92,1470.24 L436.75,1469.61 L438.62,1469.02 L440.52,1468.45 L442.47,1467.91 L444.45,1467.41 L446.47,1466.95 L448.53,1466.53 L450.62,1466.15 L452.75,1465.82 L454.91,1465.55 L457.1,1465.33 L459.32,1465.18 L461.57,1465.09 L463.84,1465.07 L466.12,1465.13 L468.42,1465.28 L470.73,1465.5 L473.04,1465.82 L475.34,1466.24 L477.64,1466.75 L479.91,1467.37 L482.16,1468.09 L484.37,1468.93 L486.54,1469.87 L488.65,1470.93 L490.7,1472.11 L492.68,1473.39 L494.57,1474.79 L496.38,1476.3 L498.09,1477.92 L499.7,1479.64 L501.2,1481.45 L502.58,1483.36 L503.84,1485.34 L504.98,1487.41 L506,1489.53 L506.89,1491.72 L507.65,1493.96 L508.29,1496.23 L508.81,1498.54 L509.21,1500.87 L509.49,1503.22 L509.67,1505.57 L509.73,1507.92 L509.69,1510.26 L509.56,1512.59 L509.34,1514.9 L509.03,1517.19 L508.64,1519.45 L508.18,1521.67 L507.65,1523.86 L507.06,1526.01 L506.4,1528.12 L505.7,1530.19 L504.94,1532.21 L504.15,1534.19 L503.31,1536.12Z" fill="none" stroke="#000" stroke-width="3.4"/>
<path d="M512.33,1538 L511.26,1540.1 L510.17,1542.14 L509.04,1544.12 L507.88,1546.06 L506.7,1547.94 L505.5,1549.76 L504.28,1551.54 L503.05,1553.27 L501.81,1554.94 L500.56,1556.58 L499.3,1558.16 L498.04,1559.71 L496.77,1561.21 L495.51,1562.67 L494.24,1564.1 L492.98,1565.49 L491.71,1566.85 L490.46,1568.18 L489.2,1569.47 L487.95,1570.75 L486.71,1571.99 L485.47,1573.22 L484.23,1574.43 L483,1575.61 L481.78,1576.78 L480.56,1577.94 L479.34,1579.09 L478.12,1580.22 L476.91,1581.35 L475.7,1582.46 L474.48,1583.58 L473.27,1584.68 L472.05,1585.79 L470.82,1586.89 L469.59,1587.99 L468.35,1589.09 L467.1,1590.19 L465.84,1591.28 L464.56,1592.38 L463.27,1593.48 L461.96,1594.58 L460.63,1595.69 L459.27,1596.79 L457.9,1597.89 L456.5,1598.99 L455.07,1600.09 L453.61,1601.18 L452.12,1602.28 L450.59,1603.36 L449.04,1604.44 L447.44,1605.52 L445.81,1606.58 L444.14,1607.63 L442.43,1608.67 L440.67,1609.7 L438.87,1610.7 L437.03,1611.69 L435.15,1612.65 L433.21,1613.59 L431.23,1614.51 L429.21,1615.39 L427.13,1616.24 L425.01,1617.05 L422.84,1617.82 L420.63,1618.56 L418.37,1619.24 L416.06,1619.87 L413.71,1620.45 L411.31,1620.98 L408.88,1621.44 L406.4,1621.83 L403.89,1622.16 L401.34,1622.41 L398.77,1622.57 L396.17,1622.66 L393.54,1622.65 L390.9,1622.55 L388.25,1622.36 L385.6,1622.05 L382.94,1621.64 L380.3,1621.12 L377.67,1620.48 L375.07,1619.72 L372.5,1618.84 L369.98,1617.83 L367.51,1616.69 L365.11,1615.42 L362.78,1614.03 L360.53,1612.51 L358.37,1610.86 L356.31,1609.1 L354.36,1607.21 L352.53,1605.22 L350.82,1603.11 L349.24,1600.91 L347.8,1598.62 L346.48,1596.25 L345.31,1593.8 L344.27,1591.29 L343.37,1588.73 L342.61,1586.12 L341.98,1583.48 L341.48,1580.81 L341.11,1578.13 L340.85,1575.44 L340.72,1572.74 L340.7,1570.06 L340.78,1567.39 L340.96,1564.74 L341.23,1562.12 L341.59,1559.52 L342.03,1556.96 L342.55,1554.44 L343.14,1551.95 L343.79,1549.51 L344.51,1547.12 L345.27,1544.77 L346.09,1542.46 L346.96,1540.21 L347.87,1538 L348.82,1535.84 L349.8,1533.73 L350.81,1531.67 L351.86,1529.66 L352.93,1527.69 L354.03,1525.77 L355.15,1523.9 L356.29,1522.07 L357.45,1520.29 L358.62,1518.54 L359.81,1516.84 L361.01,1515.18 L362.23,1513.56 L363.46,1511.98 L364.69,1510.44 L365.94,1508.93 L367.2,1507.46 L368.46,1506.02 L369.73,1504.61 L371.01,1503.23 L372.29,1501.88 L373.58,1500.56 L374.88,1499.27 L376.18,1498 L377.48,1496.75 L378.79,1495.53 L380.11,1494.34 L381.43,1493.16 L382.76,1492 L384.1,1490.86 L385.44,1489.74 L386.78,1488.63 L388.14,1487.54 L389.5,1486.47 L390.88,1485.41 L392.26,1484.36 L393.65,1483.32 L395.06,1482.29 L396.47,1481.27 L397.9,1480.27 L399.34,1479.27 L400.8,1478.28 L402.28,1477.3 L403.77,1476.32 L405.29,1475.36 L406.82,1474.4 L408.37,1473.45 L409.95,1472.5 L411.55,1471.57 L413.18,1470.64 L414.84,1469.72 L416.53,1468.81 L418.24,1467.91 L419.99,1467.03 L421.77,1466.15 L423.59,1465.29 L425.44,1464.44 L427.33,1463.61 L429.26,1462.8 L431.23,1462.01 L433.24,1461.24 L435.3,1460.5 L437.39,1459.78 L439.53,1459.1 L441.71,1458.44 L443.93,1457.83 L446.2,1457.26 L448.51,1456.73 L450.86,1456.25 L453.25,1455.82 L455.69,1455.45 L458.16,1455.14 L460.66,1454.9 L463.2,1454.73 L465.76,1454.64 L468.35,1454.63 L470.96,1454.7 L473.59,1454.88 L476.22,1455.15 L478.85,1455.52 L481.48,1456 L484.09,1456.6 L486.69,1457.32 L489.25,1458.15 L491.76,1459.12 L494.23,1460.2 L496.64,1461.42 L498.97,1462.77 L501.23,1464.24 L503.39,1465.85 L505.45,1467.57 L507.4,1469.42 L509.24,1471.38 L510.95,1473.45 L512.53,1475.62 L513.98,1477.88 L515.29,1480.23 L516.45,1482.66 L517.48,1485.15 L518.36,1487.7 L519.1,1490.29 L519.7,1492.92 L520.17,1495.58 L520.5,1498.25 L520.71,1500.94 L520.79,1503.62 L520.76,1506.3 L520.61,1508.96 L520.36,1511.6 L520.01,1514.21 L519.56,1516.79 L519.03,1519.34 L518.41,1521.84 L517.73,1524.3 L516.97,1526.71 L516.15,1529.08 L515.27,1531.39 L514.33,1533.64 L513.35,1535.85Z" fill="none" stroke="#000" stroke-width="3.4"/>
<path d="M522.16,1538 L520.92,1540.35 L519.65,1542.64 L518.33,1544.87 L516.99,1547.03 L515.62,1549.13 L514.22,1551.16 L512.8,1553.14 L511.37,1555.06 L509.93,1556.92 L508.47,1558.73 L507.01,1560.49 L505.55,1562.19 L504.09,1563.85 L502.62,1565.45 L501.16,1567.02 L499.71,1568.55 L498.26,1570.03 L496.82,1571.49 L495.39,1572.9 L493.96,1574.29 L492.55,1575.66 L491.15,1577 L489.76,1578.31 L488.38,1579.61 L487,1580.9 L485.64,1582.17 L484.28,1583.42 L482.94,1584.67 L481.59,1585.92 L480.25,1587.15 L478.92,1588.39 L477.58,1589.62 L476.25,1590.86 L474.91,1592.1 L473.56,1593.34 L472.21,1594.58 L470.84,1595.83 L469.47,1597.08 L468.08,1598.34 L466.67,1599.6 L465.24,1600.87 L463.78,1602.15 L462.31,1603.43 L460.8,1604.71 L459.26,1605.99 L457.69,1607.28 L456.09,1608.57 L454.45,1609.85 L452.76,1611.13 L451.04,1612.41 L449.27,1613.68 L447.45,1614.94 L445.59,1616.19 L443.68,1617.42 L441.72,1618.64 L439.7,1619.83 L437.63,1621 L435.51,1622.14 L433.33,1623.26 L431.1,1624.34 L428.81,1625.38 L426.47,1626.38 L424.07,1627.34 L421.61,1628.25 L419.11,1629.1 L416.54,1629.9 L413.93,1630.64 L411.27,1631.31 L408.55,1631.92 L405.79,1632.44 L402.99,1632.89 L400.15,1633.26 L397.27,1633.53 L394.36,1633.71 L391.42,1633.79 L388.46,1633.77 L385.48,1633.64 L382.5,1633.39 L379.51,1633.02 L376.52,1632.53 L373.55,1631.91 L370.6,1631.16 L367.68,1630.28 L364.8,1629.25 L361.97,1628.09 L359.21,1626.78 L356.51,1625.33 L353.9,1623.74 L351.38,1622.01 L348.96,1620.14 L346.66,1618.13 L344.47,1616 L342.42,1613.74 L340.49,1611.37 L338.71,1608.89 L337.08,1606.31 L335.59,1603.64 L334.26,1600.89 L333.08,1598.07 L332.05,1595.19 L331.17,1592.26 L330.44,1589.29 L329.85,1586.29 L329.4,1583.28 L329.09,1580.26 L328.9,1577.23 L328.85,1574.21 L328.91,1571.21 L329.08,1568.22 L329.35,1565.26 L329.73,1562.34 L330.2,1559.45 L330.75,1556.6 L331.39,1553.79 L332.1,1551.03 L332.88,1548.32 L333.73,1545.66 L334.64,1543.06 L335.6,1540.5 L336.61,1538 L337.67,1535.55 L338.77,1533.16 L339.92,1530.82 L341.09,1528.54 L342.3,1526.31 L343.55,1524.13 L344.82,1522.01 L346.11,1519.93 L347.43,1517.91 L348.76,1515.94 L350.12,1514.01 L351.5,1512.14 L352.89,1510.3 L354.29,1508.52 L355.71,1506.77 L357.13,1505.07 L358.57,1503.41 L360.02,1501.78 L361.47,1500.2 L362.94,1498.65 L364.41,1497.13 L365.89,1495.65 L367.37,1494.2 L368.86,1492.78 L370.35,1491.39 L371.85,1490.02 L373.36,1488.68 L374.87,1487.37 L376.39,1486.08 L377.91,1484.81 L379.44,1483.56 L380.97,1482.33 L382.51,1481.11 L384.06,1479.91 L385.62,1478.73 L387.19,1477.56 L388.77,1476.4 L390.36,1475.26 L391.96,1474.12 L393.57,1473 L395.2,1471.89 L396.85,1470.78 L398.51,1469.68 L400.2,1468.59 L401.9,1467.51 L403.63,1466.43 L405.38,1465.36 L407.15,1464.3 L408.96,1463.25 L410.79,1462.2 L412.65,1461.17 L414.55,1460.14 L416.48,1459.13 L418.45,1458.12 L420.45,1457.13 L422.5,1456.16 L424.58,1455.2 L426.71,1454.26 L428.88,1453.34 L431.1,1452.44 L433.36,1451.57 L435.67,1450.73 L438.03,1449.92 L440.44,1449.14 L442.9,1448.41 L445.4,1447.71 L447.95,1447.07 L450.56,1446.47 L453.2,1445.93 L455.9,1445.45 L458.64,1445.04 L461.41,1444.7 L464.23,1444.44 L467.09,1444.26 L469.97,1444.16 L472.88,1444.16 L475.81,1444.26 L478.76,1444.47 L481.71,1444.79 L484.66,1445.22 L487.61,1445.78 L490.54,1446.47 L493.45,1447.29 L496.31,1448.24 L499.14,1449.33 L501.9,1450.57 L504.6,1451.95 L507.21,1453.47 L509.74,1455.13 L512.17,1456.93 L514.48,1458.88 L516.67,1460.95 L518.74,1463.15 L520.66,1465.47 L522.44,1467.91 L524.08,1470.45 L525.55,1473.08 L526.88,1475.8 L528.04,1478.6 L529.04,1481.45 L529.89,1484.36 L530.58,1487.31 L531.12,1490.29 L531.51,1493.3 L531.75,1496.31 L531.85,1499.32 L531.82,1502.33 L531.66,1505.33 L531.38,1508.29 L530.99,1511.24 L530.48,1514.14 L529.88,1517 L529.18,1519.82 L528.39,1522.59 L527.52,1525.31 L526.58,1527.97 L525.56,1530.57 L524.48,1533.11 L523.35,1535.58Z" fill="none" stroke="#000" stroke-width="3.4"/>
<path d="M531.92,1538 L530.49,1540.61 L529.02,1543.14 L527.51,1545.6 L525.95,1547.98 L524.37,1550.3 L522.75,1552.54 L521.12,1554.71 L519.47,1556.81 L517.8,1558.85 L516.12,1560.82 L514.44,1562.73 L512.76,1564.58 L511.08,1566.37 L509.4,1568.11 L507.74,1569.8 L506.08,1571.44 L504.43,1573.04 L502.8,1574.6 L501.18,1576.12 L499.58,1577.61 L497.99,1579.07 L496.42,1580.51 L494.87,1581.92 L493.34,1583.32 L491.82,1584.7 L490.32,1586.06 L488.83,1587.42 L487.36,1588.78 L485.9,1590.13 L484.44,1591.48 L483,1592.83 L481.56,1594.19 L480.12,1595.55 L478.68,1596.92 L477.24,1598.3 L475.79,1599.69 L474.33,1601.09 L472.86,1602.51 L471.37,1603.94 L469.87,1605.38 L468.34,1606.83 L466.78,1608.29 L465.2,1609.76 L463.58,1611.25 L461.92,1612.74 L460.23,1614.23 L458.49,1615.73 L456.71,1617.24 L454.88,1618.74 L453,1620.24 L451.07,1621.73 L449.08,1623.21 L447.03,1624.68 L444.93,1626.13 L442.76,1627.56 L440.53,1628.97 L438.23,1630.35 L435.88,1631.7 L433.45,1633.01 L430.97,1634.28 L428.41,1635.51 L425.8,1636.68 L423.11,1637.8 L420.37,1638.86 L417.56,1639.86 L414.69,1640.78 L411.76,1641.64 L408.77,1642.41 L405.74,1643.1 L402.65,1643.69 L399.51,1644.2 L396.33,1644.6 L393.11,1644.9 L389.86,1645.09 L386.58,1645.16 L383.28,1645.11 L379.96,1644.94 L376.64,1644.63 L373.31,1644.19 L369.99,1643.61 L366.7,1642.88 L363.42,1642.01 L360.19,1640.98 L357,1639.8 L353.87,1638.47 L350.81,1636.98 L347.83,1635.34 L344.95,1633.54 L342.16,1631.58 L339.49,1629.48 L336.93,1627.23 L334.51,1624.85 L332.23,1622.33 L330.1,1619.68 L328.12,1616.92 L326.3,1614.05 L324.64,1611.08 L323.14,1608.02 L321.81,1604.89 L320.64,1601.7 L319.63,1598.45 L318.79,1595.16 L318.1,1591.84 L317.56,1588.49 L317.18,1585.13 L316.93,1581.77 L316.83,1578.42 L316.85,1575.08 L317,1571.76 L317.27,1568.47 L317.65,1565.21 L318.13,1561.98 L318.71,1558.81 L319.38,1555.67 L320.15,1552.59 L320.99,1549.56 L321.9,1546.58 L322.89,1543.66 L323.94,1540.8 L325.06,1538 L326.23,1535.26 L327.45,1532.57 L328.71,1529.95 L330.02,1527.39 L331.38,1524.89 L332.77,1522.45 L334.19,1520.06 L335.64,1517.74 L337.13,1515.47 L338.63,1513.26 L340.17,1511.1 L341.72,1509 L343.29,1506.95 L344.88,1504.96 L346.49,1503.01 L348.11,1501.11 L349.74,1499.26 L351.38,1497.45 L353.04,1495.69 L354.7,1493.97 L356.37,1492.28 L358.04,1490.64 L359.73,1489.04 L361.42,1487.47 L363.11,1485.93 L364.81,1484.43 L366.51,1482.95 L368.22,1481.5 L369.93,1480.08 L371.65,1478.68 L373.37,1477.31 L375.1,1475.96 L376.84,1474.62 L378.58,1473.31 L380.33,1472.01 L382.09,1470.73 L383.86,1469.45 L385.64,1468.2 L387.43,1466.95 L389.23,1465.71 L391.05,1464.48 L392.89,1463.26 L394.74,1462.05 L396.62,1460.85 L398.51,1459.65 L400.43,1458.46 L402.38,1457.27 L404.35,1456.1 L406.36,1454.93 L408.4,1453.76 L410.47,1452.61 L412.57,1451.46 L414.72,1450.33 L416.9,1449.21 L419.13,1448.1 L421.4,1447.01 L423.72,1445.93 L426.09,1444.88 L428.5,1443.85 L430.97,1442.84 L433.48,1441.87 L436.05,1440.92 L438.68,1440.01 L441.36,1439.15 L444.09,1438.33 L446.88,1437.55 L449.72,1436.83 L452.61,1436.17 L455.56,1435.58 L458.55,1435.05 L461.6,1434.6 L464.68,1434.23 L467.81,1433.95 L470.98,1433.76 L474.18,1433.67 L477.41,1433.68 L480.66,1433.81 L483.93,1434.06 L487.2,1434.43 L490.47,1434.93 L493.74,1435.57 L496.98,1436.35 L500.19,1437.28 L503.36,1438.35 L506.48,1439.58 L509.54,1440.97 L512.52,1442.51 L515.42,1444.21 L518.21,1446.06 L520.9,1448.07 L523.46,1450.23 L525.89,1452.53 L528.18,1454.97 L530.32,1457.54 L532.3,1460.24 L534.12,1463.05 L535.78,1465.97 L537.26,1468.97 L538.56,1472.07 L539.69,1475.23 L540.65,1478.45 L541.44,1481.71 L542.05,1485.02 L542.5,1488.34 L542.78,1491.68 L542.91,1495.03 L542.89,1498.37 L542.72,1501.69 L542.42,1504.99 L541.98,1508.25 L541.42,1511.48 L540.74,1514.67 L539.94,1517.8 L539.05,1520.88 L538.06,1523.9 L536.98,1526.86 L535.82,1529.75 L534.59,1532.57 L533.28,1535.32Z" fill="none" stroke="#000" stroke-width="3.4"/>
<path d="M539.67,1538 L538.03,1540.81 L536.36,1543.53 L534.67,1546.17 L532.95,1548.73 L531.2,1551.21 L529.44,1553.62 L527.67,1555.95 L525.89,1558.2 L524.1,1560.39 L522.31,1562.51 L520.52,1564.57 L518.74,1566.56 L516.96,1568.5 L515.19,1570.38 L513.43,1572.21 L511.68,1574 L509.95,1575.74 L508.24,1577.44 L506.54,1579.1 L504.85,1580.74 L503.18,1582.34 L501.53,1583.91 L499.9,1585.47 L498.29,1587.01 L496.69,1588.53 L495.1,1590.04 L493.53,1591.55 L491.97,1593.04 L490.42,1594.54 L488.87,1596.04 L487.34,1597.54 L485.81,1599.05 L484.27,1600.57 L482.74,1602.1 L481.2,1603.64 L479.65,1605.19 L478.09,1606.76 L476.51,1608.34 L474.92,1609.94 L473.3,1611.55 L471.66,1613.19 L469.98,1614.83 L468.27,1616.48 L466.52,1618.14 L464.73,1619.82 L462.89,1621.5 L461,1623.18 L459.06,1624.86 L457.06,1626.54 L455,1628.19 L452.88,1629.85 L450.7,1631.45 L448.45,1633.03 L446.13,1634.58 L443.75,1636.11 L441.3,1637.62 L438.79,1639.09 L436.21,1640.53 L433.55,1641.93 L430.83,1643.3 L428.04,1644.62 L425.18,1645.89 L422.25,1647.11 L419.24,1648.28 L416.17,1649.39 L413.03,1650.44 L409.81,1651.42 L406.53,1652.32 L403.19,1653.15 L399.78,1653.91 L396.3,1654.57 L392.77,1655.15 L389.18,1655.63 L385.53,1656.01 L381.84,1656.29 L378.08,1656.47 L374.28,1656.56 L370.43,1656.55 L366.52,1656.45 L362.58,1656.22 L358.8,1655.54 L355.37,1654.2 L352.09,1652.57 L348.89,1650.78 L345.67,1648.98 L342.44,1647.15 L339.24,1645.25 L336.07,1643.25 L332.95,1641.15 L329.88,1638.96 L326.86,1636.67 L323.9,1634.28 L321.05,1631.76 L318.31,1629.12 L315.69,1626.35 L313.43,1623.3 L311.85,1619.77 L310.96,1615.84 L309.99,1612.05 L309.03,1608.32 L308.14,1604.62 L307.35,1600.92 L306.67,1597.22 L306.1,1593.54 L305.62,1589.86 L305.24,1586.21 L304.94,1582.58 L304.71,1578.98 L304.53,1575.41 L304.42,1571.87 L304.43,1568.35 L304.57,1564.84 L304.98,1561.33 L305.76,1557.81 L306.82,1554.33 L308.06,1550.9 L309.42,1547.56 L310.86,1544.29 L312.39,1541.1 L313.98,1538 L315.63,1534.98 L317.29,1532.05 L318.93,1529.19 L320.54,1526.41 L322.15,1523.69 L323.74,1521.04 L325.33,1518.45 L326.89,1515.91 L328.44,1513.42 L329.98,1510.98 L331.5,1508.58 L333.02,1506.22 L334.5,1503.89 L335.99,1501.59 L337.43,1499.31 L338.88,1497.06 L340.37,1494.85 L341.88,1492.68 L343.44,1490.55 L345.04,1488.47 L346.77,1486.49 L348.64,1484.62 L350.58,1482.85 L352.58,1481.15 L354.63,1479.53 L356.67,1477.94 L358.7,1476.4 L360.74,1474.89 L362.77,1473.41 L364.8,1471.96 L366.82,1470.54 L368.84,1469.15 L370.86,1467.78 L372.87,1466.42 L374.87,1465.07 L376.87,1463.73 L378.88,1462.4 L380.89,1461.09 L382.9,1459.78 L384.92,1458.47 L386.95,1457.18 L389,1455.89 L391.05,1454.6 L393.13,1453.32 L395.23,1452.03 L397.34,1450.75 L399.48,1449.47 L401.65,1448.18 L403.85,1446.9 L406.08,1445.61 L408.34,1444.33 L410.65,1443.03 L412.99,1441.75 L415.38,1440.46 L417.82,1439.17 L420.31,1437.88 L422.85,1436.61 L425.45,1435.36 L428.11,1434.12 L430.83,1432.91 L433.62,1431.72 L436.46,1430.56 L439.38,1429.45 L442.35,1428.38 L445.38,1427.48 L448.47,1426.67 L451.59,1425.98 L454.77,1425.39 L457.98,1424.91 L461.24,1424.52 L464.53,1424.24 L467.86,1424.03 L471.24,1423.91 L474.64,1423.87 L478.08,1423.93 L481.55,1424.09 L485.04,1424.35 L488.55,1424.73 L492.07,1425.22 L495.59,1425.84 L499.1,1426.59 L502.61,1427.48 L506.09,1428.5 L509.54,1429.67 L512.95,1430.98 L516.31,1432.45 L519.6,1434.06 L522.83,1435.83 L525.97,1437.75 L529.01,1439.82 L531.96,1442.03 L534.8,1444.39 L537.52,1446.88 L540.1,1449.52 L542.54,1452.28 L544.84,1455.17 L546.99,1458.17 L548.98,1461.27 L550.82,1464.47 L552.5,1467.76 L554.03,1471.11 L555.31,1474.58 L556.38,1478.12 L557.05,1481.8 L557.33,1485.6 L557.1,1489.53 L556.5,1493.5 L555.7,1497.43 L554.75,1501.29 L553.67,1505.09 L552.47,1508.8 L551.23,1512.41 L549.94,1515.92 L548.62,1519.34 L547.24,1522.67 L545.82,1525.91 L544.35,1529.07 L542.83,1532.13 L541.27,1535.11Z" fill="none" stroke="#000" stroke-width="3.4"/>
<path d="M546.36,1538 L544.48,1540.98 L542.6,1543.86 L540.72,1546.66 L538.83,1549.36 L536.94,1551.99 L535.06,1554.53 L533.18,1556.99 L531.3,1559.38 L529.42,1561.7 L527.56,1563.95 L525.71,1566.14 L523.87,1568.27 L522.04,1570.34 L520.22,1572.36 L518.42,1574.33 L516.63,1576.26 L514.86,1578.14 L513.11,1579.99 L511.37,1581.8 L509.65,1583.58 L507.95,1585.34 L506.25,1587.06 L504.58,1588.77 L502.91,1590.47 L501.26,1592.14 L499.62,1593.81 L497.99,1595.47 L496.37,1597.13 L494.76,1598.79 L493.15,1600.45 L491.54,1602.12 L489.94,1603.79 L488.32,1605.47 L486.71,1607.16 L485.08,1608.87 L483.44,1610.6 L481.79,1612.34 L480.12,1614.09 L478.42,1615.87 L476.7,1617.68 L474.95,1619.5 L473.16,1621.33 L471.32,1623.16 L469.44,1625.01 L467.52,1626.88 L465.53,1628.75 L463.49,1630.6 L461.39,1632.47 L459.23,1634.32 L456.99,1636.11 L454.69,1637.92 L452.3,1639.61 L449.84,1641.27 L447.31,1642.88 L444.72,1644.47 L442.05,1646.03 L439.32,1647.55 L436.52,1649.05 L433.65,1650.51 L430.7,1651.93 L427.68,1653.33 L424.59,1654.67 L421.42,1655.98 L418.17,1657.24 L414.84,1658.46 L411.44,1659.63 L407.95,1660.76 L404.38,1661.82 L400.73,1662.83 L397,1663.78 L393.18,1664.66 L389.28,1665.47 L385.3,1666.21 L381.23,1666.88 L377.07,1667.47 L372.81,1668.02 L368.45,1668.51 L363.97,1668.96 L359.35,1669.4 L354.63,1669.75 L350.31,1669.19 L346.8,1667.19 L343.61,1664.71 L340.55,1662.08 L337.35,1659.66 L334.02,1657.39 L330.62,1655.18 L327.17,1652.98 L323.68,1650.77 L320.15,1648.55 L316.56,1646.32 L312.91,1644.06 L309.31,1641.68 L305.77,1639.17 L302.29,1636.54 L299.46,1633.35 L298.1,1629.14 L298.2,1624.05 L297.85,1619.41 L297.26,1615.04 L296.6,1610.81 L295.95,1606.66 L295.33,1602.57 L294.72,1598.54 L294.14,1594.57 L293.57,1590.64 L293,1586.76 L292.39,1582.94 L291.7,1579.17 L291.02,1575.43 L290.48,1571.66 L290.09,1567.89 L290.21,1564.04 L291.13,1560.11 L292.59,1556.18 L294.4,1552.33 L296.38,1548.57 L298.47,1544.93 L300.65,1541.41 L302.91,1538 L305.25,1534.71 L307.51,1531.54 L309.62,1528.47 L311.63,1525.48 L313.56,1522.58 L315.37,1519.73 L317.14,1516.95 L318.79,1514.21 L320.37,1511.51 L321.88,1508.84 L323.29,1506.18 L324.67,1503.55 L325.93,1500.9 L327.18,1498.26 L328.28,1495.58 L329.4,1492.9 L330.56,1490.24 L331.8,1487.61 L333.11,1485.01 L334.54,1482.48 L336.28,1480.14 L338.32,1478.01 L340.58,1476.06 L342.96,1474.25 L345.43,1472.57 L347.89,1470.95 L350.34,1469.36 L352.77,1467.83 L355.19,1466.34 L357.59,1464.89 L359.97,1463.47 L362.34,1462.08 L364.69,1460.71 L367,1459.34 L369.3,1457.98 L371.58,1456.63 L373.84,1455.27 L376.11,1453.94 L378.36,1452.59 L380.61,1451.25 L382.87,1449.92 L385.13,1448.57 L387.4,1447.23 L389.69,1445.9 L391.99,1444.53 L394.3,1443.17 L396.63,1441.8 L398.99,1440.41 L401.38,1439.01 L403.8,1437.6 L406.25,1436.18 L408.75,1434.72 L411.29,1433.27 L413.88,1431.79 L416.52,1430.27 L419.22,1428.75 L421.98,1427.24 L424.82,1425.74 L427.72,1424.24 L430.7,1422.78 L433.76,1421.31 L436.89,1419.9 L440.1,1418.52 L443.4,1417.19 L446.73,1416.22 L450.12,1415.39 L453.54,1414.79 L456.98,1414.34 L460.46,1414.06 L463.95,1413.9 L467.46,1413.89 L471.01,1413.95 L474.58,1414.08 L478.19,1414.28 L481.83,1414.56 L485.49,1414.93 L489.18,1415.39 L492.89,1415.94 L496.61,1416.6 L500.35,1417.37 L504.09,1418.25 L507.82,1419.24 L511.55,1420.36 L515.26,1421.61 L518.95,1422.99 L522.61,1424.5 L526.23,1426.15 L529.8,1427.93 L533.32,1429.86 L536.79,1431.91 L540.18,1434.1 L543.51,1436.43 L546.76,1438.88 L549.89,1441.48 L552.93,1444.21 L555.85,1447.07 L558.66,1450.05 L561.36,1453.15 L563.93,1456.36 L566.38,1459.67 L568.7,1463.07 L570.7,1466.67 L572.41,1470.41 L573.4,1474.47 L573.66,1478.78 L572.87,1483.42 L571.39,1488.18 L569.66,1492.85 L567.75,1497.4 L565.73,1501.82 L563.59,1506.1 L561.54,1510.19 L559.56,1514.12 L557.64,1517.9 L555.73,1521.54 L553.84,1525.06 L551.97,1528.46 L550.09,1531.74 L548.23,1534.92Z" fill="none" stroke="#000" stroke-width="3.6" stroke-dasharray="0.1,12" stroke-linecap="round"/>
<path d="M552.16,1538 L550,1541.13 L547.89,1544.15 L545.82,1547.07 L543.76,1549.9 L541.73,1552.63 L539.73,1555.29 L537.75,1557.87 L535.79,1560.37 L533.85,1562.8 L531.94,1565.16 L530.05,1567.47 L528.18,1569.72 L526.32,1571.91 L524.49,1574.05 L522.67,1576.15 L520.89,1578.21 L519.11,1580.24 L517.36,1582.22 L515.62,1584.18 L513.89,1586.11 L512.17,1588.01 L510.47,1589.89 L508.78,1591.75 L507.1,1593.6 L505.42,1595.44 L503.76,1597.27 L502.1,1599.09 L500.44,1600.91 L498.79,1602.74 L497.13,1604.56 L495.48,1606.4 L493.81,1608.24 L492.14,1610.09 L490.46,1611.96 L488.77,1613.85 L487.06,1615.75 L485.33,1617.68 L483.57,1619.62 L481.79,1621.59 L479.98,1623.59 L478.14,1625.62 L476.25,1627.65 L474.29,1629.67 L472.29,1631.72 L470.25,1633.81 L468.13,1635.87 L465.94,1637.9 L463.7,1639.96 L461.37,1641.99 L458.95,1643.94 L456.47,1645.9 L453.87,1647.66 L451.21,1649.38 L448.47,1651.03 L445.66,1652.65 L442.79,1654.25 L439.84,1655.8 L436.82,1657.34 L433.73,1658.84 L430.57,1660.31 L427.33,1661.76 L424.01,1663.18 L420.61,1664.56 L417.12,1665.92 L413.55,1667.26 L409.89,1668.56 L406.13,1669.84 L402.28,1671.09 L398.32,1672.3 L394.26,1673.49 L390.1,1674.63 L385.81,1675.74 L381.41,1676.8 L376.9,1677.82 L372.24,1678.81 L367.43,1679.82 L362.44,1680.83 L357.26,1681.87 L351.83,1683.01 L346.22,1684.1 L341.28,1683.71 L337.77,1680.9 L334.78,1677.37 L331.98,1673.69 L328.89,1670.51 L325.51,1667.73 L321.94,1665.19 L318.21,1662.78 L314.34,1660.48 L310.3,1658.27 L306.04,1656.17 L301.58,1654.14 L297.1,1651.99 L292.6,1649.73 L288.07,1647.34 L284.58,1644.06 L283.53,1639.06 L284.93,1632.58 L285.4,1626.96 L285.31,1621.86 L284.97,1617.05 L284.52,1612.41 L283.99,1607.92 L283.35,1603.55 L282.65,1599.27 L281.85,1595.09 L280.94,1590.99 L279.84,1586.97 L278.5,1583.04 L277.1,1579.12 L275.83,1575.15 L274.75,1571.12 L274.49,1566.93 L275.56,1562.55 L277.53,1558.15 L280.04,1553.82 L282.77,1549.63 L285.66,1545.59 L288.65,1541.72 L291.72,1538 L294.89,1534.45 L297.88,1531.05 L300.57,1527.77 L303.03,1524.6 L305.34,1521.51 L307.39,1518.49 L309.35,1515.53 L311.07,1512.6 L312.65,1509.69 L314.08,1506.79 L315.32,1503.86 L316.48,1500.93 L317.42,1497.93 L318.32,1494.91 L318.95,1491.77 L319.6,1488.59 L320.32,1485.42 L321.15,1482.25 L322.12,1479.12 L323.29,1476.06 L324.98,1473.3 L327.22,1470.89 L329.82,1468.76 L332.63,1466.85 L335.61,1465.14 L338.56,1463.5 L341.48,1461.91 L344.38,1460.39 L347.23,1458.92 L350.06,1457.5 L352.86,1456.11 L355.63,1454.77 L358.35,1453.45 L361,1452.09 L363.63,1450.76 L366.21,1449.42 L368.76,1448.07 L371.3,1446.73 L373.8,1445.37 L376.3,1444.02 L378.81,1442.67 L381.29,1441.29 L383.78,1439.92 L386.29,1438.55 L388.78,1437.12 L391.29,1435.68 L393.82,1434.24 L396.37,1432.76 L398.94,1431.23 L401.55,1429.7 L404.19,1428.13 L406.87,1426.5 L409.6,1424.86 L412.38,1423.17 L415.22,1421.4 L418.12,1419.62 L421.11,1417.83 L424.18,1416.05 L427.33,1414.24 L430.57,1412.48 L433.9,1410.7 L437.33,1408.98 L440.85,1407.28 L444.48,1405.65 L448.13,1404.6 L451.83,1403.77 L455.53,1403.3 L459.25,1403.05 L462.97,1403.03 L466.69,1403.19 L470.39,1403.54 L474.12,1403.95 L477.88,1404.4 L481.66,1404.91 L485.46,1405.48 L489.29,1406.11 L493.14,1406.81 L497.01,1407.59 L500.91,1408.44 L504.82,1409.38 L508.76,1410.41 L512.7,1411.53 L516.65,1412.74 L520.61,1414.07 L524.57,1415.49 L528.53,1417.03 L532.48,1418.68 L536.42,1420.44 L540.35,1422.32 L544.26,1424.31 L548.16,1426.41 L552.04,1428.63 L555.9,1430.96 L559.67,1433.45 L563.42,1436.06 L567.08,1438.82 L570.69,1441.7 L574.23,1444.7 L577.69,1447.84 L581.09,1451.1 L584.41,1454.47 L587.29,1458.15 L589.8,1462.05 L591.18,1466.49 L591.4,1471.38 L589.91,1476.83 L587.32,1482.49 L584.41,1488.01 L581.29,1493.35 L578.09,1498.47 L574.77,1503.38 L571.72,1508 L568.86,1512.37 L566.2,1516.52 L563.65,1520.48 L561.21,1524.27 L558.86,1527.9 L556.55,1531.4 L554.34,1534.76Z" fill="none" stroke="#000" stroke-width="3.4"/>
<path d="M557.08,1538 L554.62,1541.25 L552.26,1544.38 L549.98,1547.41 L547.74,1550.33 L545.55,1553.16 L543.45,1555.9 L541.38,1558.56 L539.35,1561.15 L537.36,1563.67 L535.41,1566.13 L533.5,1568.53 L531.63,1570.88 L529.77,1573.18 L527.94,1575.43 L526.15,1577.65 L524.38,1579.83 L522.63,1581.98 L520.9,1584.1 L519.19,1586.19 L517.49,1588.26 L515.79,1590.31 L514.1,1592.33 L512.42,1594.35 L510.75,1596.35 L509.08,1598.35 L507.42,1600.34 L505.75,1602.33 L504.08,1604.31 L502.41,1606.31 L500.74,1608.3 L499.06,1610.31 L497.36,1612.33 L495.65,1614.36 L493.93,1616.41 L492.19,1618.48 L490.43,1620.57 L488.64,1622.69 L486.83,1624.84 L484.98,1627.01 L483.1,1629.22 L481.19,1631.47 L479.21,1633.72 L477.15,1635.95 L475.05,1638.21 L472.9,1640.53 L470.66,1642.8 L468.34,1645.03 L465.95,1647.31 L463.47,1649.53 L460.88,1651.63 L458.22,1653.76 L455.43,1655.58 L452.56,1657.36 L449.6,1659.03 L446.58,1660.68 L443.5,1662.3 L440.34,1663.86 L437.11,1665.44 L433.81,1666.96 L430.43,1668.47 L426.98,1669.98 L423.44,1671.45 L419.82,1672.91 L416.1,1674.38 L412.29,1675.84 L408.37,1677.29 L404.35,1678.75 L400.21,1680.2 L395.95,1681.65 L391.55,1683.11 L387.02,1684.55 L382.35,1686 L377.51,1687.45 L372.51,1688.89 L367.33,1690.36 L361.91,1691.91 L356.24,1693.55 L350.28,1695.3 L343.94,1697.3 L337.32,1699.28 L331.71,1699.1 L328.26,1695.33 L325.58,1690.56 L323.17,1685.63 L320.27,1681.57 L316.9,1678.2 L313.19,1675.28 L309.19,1672.65 L304.91,1670.27 L300.3,1668.13 L295.31,1666.23 L289.92,1664.52 L284.42,1662.71 L278.8,1660.79 L273.06,1658.76 L268.81,1655.43 L268.16,1649.53 L271.15,1641.44 L272.64,1634.69 L273.18,1628.79 L273.24,1623.35 L273.04,1618.19 L272.62,1613.27 L271.96,1608.56 L271.11,1603.99 L270.04,1599.57 L268.7,1595.27 L267.03,1591.09 L264.9,1587.03 L262.61,1582.97 L260.46,1578.81 L258.53,1574.54 L257.8,1570 L259.04,1565.15 L261.59,1560.23 L264.92,1555.4 L268.54,1550.74 L272.36,1546.28 L276.3,1542.04 L280.34,1538 L284.47,1534.18 L288.32,1530.55 L291.68,1527.08 L294.67,1523.73 L297.41,1520.49 L299.71,1517.3 L301.87,1514.17 L303.65,1511.05 L305.21,1507.94 L306.5,1504.79 L307.51,1501.59 L308.38,1498.34 L308.91,1494.97 L309.36,1491.52 L309.39,1487.86 L309.45,1484.13 L309.61,1480.37 L309.93,1476.6 L310.44,1472.85 L311.26,1469.2 L312.87,1465.96 L315.32,1463.24 L318.3,1460.93 L321.6,1458.93 L325.16,1457.22 L328.67,1455.6 L332.12,1454.04 L335.55,1452.56 L338.9,1451.14 L342.22,1449.78 L345.47,1448.47 L348.69,1447.21 L351.83,1445.97 L354.86,1444.68 L357.84,1443.4 L360.75,1442.09 L363.61,1440.78 L366.45,1439.48 L369.23,1438.12 L371.99,1436.78 L374.75,1435.44 L377.47,1434.05 L380.19,1432.66 L382.91,1431.27 L385.61,1429.8 L388.32,1428.29 L391.05,1426.79 L393.78,1425.2 L396.54,1423.56 L399.33,1421.91 L402.15,1420.18 L405,1418.36 L407.92,1416.52 L410.89,1414.6 L413.92,1412.55 L417.03,1410.46 L420.23,1408.37 L423.53,1406.26 L426.93,1404.12 L430.43,1402.01 L434.05,1399.87 L437.78,1397.79 L441.63,1395.74 L445.59,1393.76 L449.57,1392.64 L453.59,1391.81 L457.58,1391.51 L461.57,1391.52 L465.52,1391.83 L469.45,1392.37 L473.33,1393.18 L477.22,1394.01 L481.12,1394.86 L485.04,1395.74 L488.98,1396.66 L492.94,1397.61 L496.92,1398.61 L500.93,1399.65 L504.96,1400.74 L509.03,1401.87 L513.12,1403.07 L517.25,1404.32 L521.41,1405.63 L525.59,1407.03 L529.81,1408.49 L534.06,1410.03 L538.35,1411.65 L542.67,1413.34 L547.03,1415.13 L551.44,1417 L555.89,1418.95 L560.38,1421 L564.93,1423.13 L569.44,1425.44 L573.98,1427.85 L578.51,1430.42 L583.05,1433.11 L587.57,1435.95 L592.09,1438.94 L596.6,1442.06 L601.1,1445.34 L605.03,1449.04 L608.5,1453.07 L610.34,1457.9 L610.51,1463.41 L608.17,1469.77 L604.24,1476.45 L599.91,1482.93 L595.35,1489.15 L590.72,1495.05 L586,1500.65 L581.75,1505.84 L577.87,1510.67 L574.34,1515.21 L571.02,1519.49 L567.94,1523.55 L565.03,1527.41 L562.23,1531.09 L559.61,1534.62Z" fill="none" stroke="#000" stroke-width="3.4"/>
<path d="M561.11,1538 L558.32,1541.35 L555.68,1544.57 L553.17,1547.67 L550.74,1550.66 L548.4,1553.55 L546.18,1556.35 L544.02,1559.08 L541.93,1561.73 L539.89,1564.31 L537.92,1566.84 L536.02,1569.31 L534.15,1571.74 L532.32,1574.13 L530.52,1576.47 L528.76,1578.78 L527.04,1581.07 L525.35,1583.34 L523.67,1585.57 L522.01,1587.79 L520.36,1590 L518.71,1592.18 L517.06,1594.34 L515.42,1596.5 L513.79,1598.66 L512.16,1600.81 L510.52,1602.96 L508.87,1605.11 L507.22,1607.26 L505.56,1609.42 L503.89,1611.59 L502.21,1613.78 L500.51,1615.98 L498.79,1618.19 L497.05,1620.43 L495.28,1622.69 L493.5,1624.99 L491.68,1627.31 L489.83,1629.66 L487.94,1632.06 L486.01,1634.5 L484.05,1636.99 L482,1639.48 L479.87,1641.92 L477.68,1644.43 L475.45,1646.99 L473.1,1649.5 L470.65,1651.95 L468.14,1654.46 L465.52,1656.9 L462.76,1659.16 L459.94,1661.47 L456.94,1663.35 L453.87,1665.19 L450.71,1666.87 L447.49,1668.55 L444.19,1670.18 L440.83,1671.75 L437.39,1673.35 L433.88,1674.9 L430.3,1676.43 L426.63,1678 L422.88,1679.54 L419.04,1681.07 L415.1,1682.65 L411.05,1684.25 L406.88,1685.86 L402.59,1687.52 L398.16,1689.2 L393.59,1690.92 L388.85,1692.69 L383.95,1694.48 L378.86,1696.32 L373.57,1698.21 L368.06,1700.13 L362.31,1702.15 L356.24,1704.35 L349.83,1706.72 L343.01,1709.31 L335.66,1712.3 L327.91,1715.34 L321.58,1715.41 L318.26,1710.52 L316,1704.3 L314.09,1697.94 L311.48,1692.86 L308.17,1688.82 L304.35,1685.47 L300.08,1682.62 L295.37,1680.19 L290.15,1678.15 L284.33,1676.52 L277.9,1675.22 L271.25,1673.84 L264.37,1672.37 L257.24,1670.8 L252.12,1667.45 L251.98,1660.56 L256.86,1650.63 L259.55,1642.63 L260.84,1635.84 L261.39,1629.71 L261.49,1624.01 L261.21,1618.65 L260.52,1613.59 L259.5,1608.75 L258.11,1604.1 L256.28,1599.63 L253.91,1595.31 L250.85,1591.15 L247.51,1586.98 L244.31,1582.65 L241.39,1578.15 L240.09,1573.25 L241.51,1567.9 L244.72,1562.43 L248.99,1557.06 L253.64,1551.9 L258.53,1547 L263.56,1542.37 L268.7,1538 L273.95,1533.91 L278.77,1530.06 L282.9,1526.4 L286.47,1522.88 L289.69,1519.49 L292.28,1516.14 L294.65,1512.86 L296.48,1509.56 L297.97,1506.23 L299.1,1502.84 L299.81,1499.35 L300.32,1495.77 L300.34,1491.98 L300.24,1488.08 L299.55,1483.84 L298.89,1479.49 L298.37,1475.07 L298.07,1470.63 L298.03,1466.18 L298.43,1461.86 L299.92,1458.1 L302.58,1455.06 L305.99,1452.57 L309.85,1450.49 L314.05,1448.8 L318.2,1447.22 L322.25,1445.72 L326.26,1444.33 L330.18,1442.99 L334.04,1441.74 L337.81,1440.53 L341.52,1439.4 L345.13,1438.28 L348.57,1437.07 L351.95,1435.89 L355.21,1434.65 L358.41,1433.4 L361.56,1432.16 L364.63,1430.84 L367.67,1429.53 L370.69,1428.22 L373.66,1426.84 L376.62,1425.45 L379.57,1424.06 L382.48,1422.55 L385.39,1421 L388.31,1419.43 L391.23,1417.76 L394.16,1416 L397.13,1414.21 L400.13,1412.33 L403.16,1410.31 L406.25,1408.25 L409.4,1406.07 L412.62,1403.72 L415.93,1401.29 L419.35,1398.85 L422.88,1396.39 L426.53,1393.86 L430.3,1391.37 L434.21,1388.81 L438.25,1386.34 L442.43,1383.89 L446.75,1381.51 L451.06,1380.31 L455.4,1379.52 L459.69,1379.43 L463.94,1379.74 L468.12,1380.46 L472.25,1381.45 L476.28,1382.79 L480.3,1384.12 L484.32,1385.45 L488.35,1386.78 L492.39,1388.11 L496.44,1389.44 L500.52,1390.78 L504.63,1392.12 L508.77,1393.48 L512.95,1394.84 L517.18,1396.22 L521.47,1397.62 L525.81,1399.04 L530.2,1400.5 L534.67,1401.98 L539.22,1403.5 L543.84,1405.06 L548.56,1406.66 L553.38,1408.3 L558.3,1410 L563.35,1411.74 L568.52,1413.54 L573.84,1415.4 L579.17,1417.45 L584.62,1419.58 L590.13,1421.88 L595.72,1424.31 L601.38,1426.9 L607.11,1429.65 L612.91,1432.57 L618.77,1435.67 L623.92,1439.35 L628.49,1443.47 L630.87,1448.7 L630.98,1454.88 L627.64,1462.25 L622.15,1470.06 L616.16,1477.61 L609.92,1484.79 L603.65,1491.55 L597.29,1497.91 L591.66,1503.7 L586.58,1509.04 L582.04,1513.97 L577.85,1518.57 L574.02,1522.89 L570.47,1526.97 L567.11,1530.83 L564.04,1534.5Z" fill="none" stroke="#000" stroke-width="2.6"/>
<path d="M528.4,1267.7L131.6,1500.4M528.4,1267.7L117.7,1533.4M528.4,1267.7L110.3,1564.9M528.4,1267.7L108.3,1595.6M528.4,1267.7L98.6,1634.5M528.4,1267.7L114.2,1654.9M528.4,1267.7L120.6,1684.1M528.4,1267.7L129.7,1713.2M528.4,1267.7L140.8,1740.4M528.4,1267.7L154,1765.7M528.4,1267.7L169.9,1789M528.4,1267.7L187.6,1809.4M528.4,1267.7L207.4,1826M528.4,1267.7L229.8,1839.8M528.4,1267.7L256.6,1839.8M528.4,1267.7L281.3,1839.8" stroke="#ff0000" stroke-width="2.4" fill="none"/>
</g>
<rect x="92.6" y="1293.3" width="682.1" height="546.5" fill="none" stroke="#000" stroke-width="2.2"/>
<path d="M255.7,1839.8v-10M255.7,1293.3v10M438.9,1839.8v-10M438.9,1293.3v10M622.1,1839.8v-10M622.1,1293.3v10" stroke="#000" stroke-width="1.9" fill="none"/>
<path d="M118.3,1839.8v-6M118.3,1293.3v6M164.1,1839.8v-6M164.1,1293.3v6M209.9,1839.8v-6M209.9,1293.3v6M301.5,1839.8v-6M301.5,1293.3v6M347.3,1839.8v-6M347.3,1293.3v6M393.1,1839.8v-6M393.1,1293.3v6M484.7,1839.8v-6M484.7,1293.3v6M530.5,1839.8v-6M530.5,1293.3v6M576.3,1839.8v-6M576.3,1293.3v6M667.9,1839.8v-6M667.9,1293.3v6M713.7,1839.8v-6M713.7,1293.3v6M759.5,1839.8v-6M759.5,1293.3v6" stroke="#000" stroke-width="1.4" fill="none"/>
<path d="M92.6,1756.9h10M774.7,1756.9h-10M92.6,1665.5h10M774.7,1665.5h-10M92.6,1574.1h10M774.7,1574.1h-10M92.6,1482.7h10M774.7,1482.7h-10M92.6,1391.3h10M774.7,1391.3h-10M92.6,1299.9h10M774.7,1299.9h-10" stroke="#000" stroke-width="1.9" fill="none"/>
<path d="M92.6,1830.02h6M774.7,1830.02h-6M92.6,1811.74h6M774.7,1811.74h-6M92.6,1793.46h6M774.7,1793.46h-6M92.6,1775.18h6M774.7,1775.18h-6M92.6,1738.62h6M774.7,1738.62h-6M92.6,1720.34h6M774.7,1720.34h-6M92.6,1702.06h6M774.7,1702.06h-6M92.6,1683.78h6M774.7,1683.78h-6M92.6,1647.22h6M774.7,1647.22h-6M92.6,1628.94h6M774.7,1628.94h-6M92.6,1610.66h6M774.7,1610.66h-6M92.6,1592.38h6M774.7,1592.38h-6M92.6,1555.82h6M774.7,1555.82h-6M92.6,1537.54h6M774.7,1537.54h-6M92.6,1519.26h6M774.7,1519.26h-6M92.6,1500.98h6M774.7,1500.98h-6M92.6,1464.42h6M774.7,1464.42h-6M92.6,1446.14h6M774.7,1446.14h-6M92.6,1427.86h6M774.7,1427.86h-6M92.6,1409.58h6M774.7,1409.58h-6M92.6,1373.02h6M774.7,1373.02h-6M92.6,1354.74h6M774.7,1354.74h-6M92.6,1336.46h6M774.7,1336.46h-6M92.6,1318.18h6M774.7,1318.18h-6" stroke="#000" stroke-width="1.4" fill="none"/>
<text transform="translate(1122.87,18.50) scale(1.0333,1.0714)" x="0" y="0" font-family="'DejaVu Sans', 'Liberation Sans', sans-serif" font-size="20" fill="#000" >#85214</text>
<text transform="translate(410.99,189.50) scale(1.0071,1.0429)" x="0" y="0" font-family="'DejaVu Sans', 'Liberation Sans', sans-serif" font-size="20" fill="#000" >0.5</text>
<text transform="translate(410.99,130.65) scale(1.0071,1.0429)" x="0" y="0" font-family="'DejaVu Sans', 'Liberation Sans', sans-serif" font-size="20" fill="#000" >1.0</text>
<text transform="translate(410.99,71.80) scale(1.0071,1.0429)" x="0" y="0" font-family="'DejaVu Sans', 'Liberation Sans', sans-serif" font-size="20" fill="#000" >1.5</text>
<text transform="translate(430.12,348.80) scale(1.0071,1.0429)" x="0" y="0" font-family="'DejaVu Sans', 'Liberation Sans', sans-serif" font-size="20" fill="#000" >0</text>
<text transform="translate(430.12,256.10) scale(1.0071,1.0429)" x="0" y="0" font-family="'DejaVu Sans', 'Liberation Sans', sans-serif" font-size="20" fill="#000" >5</text>
<text transform="translate(430.12,930.62) scale(1.0071,1.0429)" x="0" y="0" font-family="'DejaVu Sans', 'Liberation Sans', sans-serif" font-size="20" fill="#000" >5</text>
<text transform="translate(417.03,667.52) scale(1.0071,1.0429)" x="0" y="0" font-family="'DejaVu Sans', 'Liberation Sans', sans-serif" font-size="20" fill="#000" >10</text>
<text transform="translate(417.03,404.42) scale(1.0071,1.0429)" x="0" y="0" font-family="'DejaVu Sans', 'Liberation Sans', sans-serif" font-size="20" fill="#000" >15</text>
<text transform="translate(428.78,1155.70) scale(1.0222,1.1143)" x="0" y="0" font-family="'DejaVu Sans', 'Liberation Sans', sans-serif" font-size="20" fill="#000" >220</text>
<text transform="translate(555.19,1155.70) scale(1.0222,1.1143)" x="0" y="0" font-family="'DejaVu Sans', 'Liberation Sans', sans-serif" font-size="20" fill="#000" >230</text>
<text transform="translate(681.61,1155.70) scale(1.0222,1.1143)" x="0" y="0" font-family="'DejaVu Sans', 'Liberation Sans', sans-serif" font-size="20" fill="#000" >240</text>
<text transform="translate(808.03,1155.70) scale(1.0222,1.1143)" x="0" y="0" font-family="'DejaVu Sans', 'Liberation Sans', sans-serif" font-size="20" fill="#000" >250</text>
<text transform="translate(934.44,1155.70) scale(1.0222,1.1143)" x="0" y="0" font-family="'DejaVu Sans', 'Liberation Sans', sans-serif" font-size="20" fill="#000" >260</text>
<text transform="translate(1060.86,1155.70) scale(1.0222,1.1143)" x="0" y="0" font-family="'DejaVu Sans', 'Liberation Sans', sans-serif" font-size="20" fill="#000" >270</text>
<text transform="translate(1187.28,1155.70) scale(1.0222,1.1143)" x="0" y="0" font-family="'DejaVu Sans', 'Liberation Sans', sans-serif" font-size="20" fill="#000" >280</text>
<text transform="translate(1265.14,1139.40) scale(1.0559,0.9583)" x="0" y="0" font-family="'DejaVu Sans', 'Liberation Sans', sans-serif" font-size="16" fill="#000" >0.00</text>
<text transform="translate(1265.14,796.23) scale(1.0559,0.9583)" x="0" y="0" font-family="'DejaVu Sans', 'Liberation Sans', sans-serif" font-size="16" fill="#000" >0.05</text>
<text transform="translate(1265.14,453.05) scale(1.0559,0.9583)" x="0" y="0" font-family="'DejaVu Sans', 'Liberation Sans', sans-serif" font-size="16" fill="#000" >0.10</text>
<text transform="translate(457.38,68.38) scale(0.9600,1.0038)" x="0" y="0" font-family="'DejaVu Sans', 'Liberation Sans', sans-serif" font-size="29" fill="#000" font-style="italic" >(a)</text>
<text transform="translate(456.66,226.28) scale(0.9722,0.9808)" x="0" y="0" font-family="'DejaVu Sans', 'Liberation Sans', sans-serif" font-size="29" fill="#000" font-style="italic" >(b)</text>
<text transform="translate(456.94,397.12) scale(0.9324,1.0462)" x="0" y="0" font-family="'DejaVu Sans', 'Liberation Sans', sans-serif" font-size="29" fill="#fff" font-style="italic" >(c)</text>
<text transform="translate(576.01,295.03) scale(1.0468,1.0222)" x="0" y="0" font-family="'DejaVu Sans', 'Liberation Sans', sans-serif" font-size="20" fill="#105aa6" ><tspan font-style="italic">Visible</tspan>(mV)</text>
<text transform="translate(1153.96,221.90) scale(1.0367,1.0857)" x="0" y="0" font-family="'DejaVu Sans', 'Liberation Sans', sans-serif" font-size="20" fill="#000" font-style="italic" >CIII</text>
<text transform="translate(1153.94,252.30) scale(1.0586,1.0857)" x="0" y="0" font-family="'DejaVu Sans', 'Liberation Sans', sans-serif" font-size="20" fill="#000" font-style="italic" >OV</text>
<text transform="translate(778.76,1183.43) scale(1.0446,1.0222)" x="0" y="0" font-family="'DejaVu Sans', 'Liberation Sans', sans-serif" font-size="20" fill="#000" ><tspan font-style="italic">Time</tspan>(ms)</text>
<text transform="translate(403.50,809.96) rotate(-90) scale(0.9643,1.0000)" x="0" y="0" font-family="'DejaVu Sans', 'Liberation Sans', sans-serif" font-size="20" fill="#000" ><tspan font-style="italic">Chnnel number</tspan></text>
<text transform="translate(1325.97,784.94) rotate(-90) scale(1.0607,1.0111)" x="0" y="0" font-family="'DejaVu Sans', 'Liberation Sans', sans-serif" font-size="20" fill="#000" ><tspan font-style="italic">AXUV</tspan>(V)</text>
<text transform="translate(53.33,1307.20) scale(1.0714,1.0929)" x="0" y="0" font-family="'DejaVu Sans', 'Liberation Sans', sans-serif" font-size="18.6" fill="#000" >0.4</text>
<text transform="translate(54.40,1398.60) scale(1.0714,1.0929)" x="0" y="0" font-family="'DejaVu Sans', 'Liberation Sans', sans-serif" font-size="18.6" fill="#000" >0.3</text>
<text transform="translate(54.40,1490.00) scale(1.0714,1.0929)" x="0" y="0" font-family="'DejaVu Sans', 'Liberation Sans', sans-serif" font-size="18.6" fill="#000" >0.2</text>
<text transform="translate(54.40,1581.40) scale(1.0714,1.0929)" x="0" y="0" font-family="'DejaVu Sans', 'Liberation Sans', sans-serif" font-size="18.6" fill="#000" >0.1</text>
<text transform="translate(54.40,1672.80) scale(1.0714,1.0929)" x="0" y="0" font-family="'DejaVu Sans', 'Liberation Sans', sans-serif" font-size="18.6" fill="#000" >0.0</text>
<text transform="translate(35.14,1764.50) scale(1.1293,1.0929)" x="0" y="0" font-family="'DejaVu Sans', 'Liberation Sans', sans-serif" font-size="18.6" fill="#000" >−0.1</text>
<text transform="translate(238.88,1861.90) scale(1.1115,1.1143)" x="0" y="0" font-family="'DejaVu Sans', 'Liberation Sans', sans-serif" font-size="18.6" fill="#000" >1.0</text>
<text transform="translate(422.08,1861.90) scale(1.1115,1.1143)" x="0" y="0" font-family="'DejaVu Sans', 'Liberation Sans', sans-serif" font-size="18.6" fill="#000" >1.2</text>
<text transform="translate(604.72,1861.90) scale(1.1115,1.1143)" x="0" y="0" font-family="'DejaVu Sans', 'Liberation Sans', sans-serif" font-size="18.6" fill="#000" >1.4</text>
<text transform="translate(119.90,1335.81) scale(1.2000,1.0480)" x="0" y="0" font-family="'Liberation Serif', 'DejaVu Serif', serif" font-size="27" fill="#000" >(<tspan font-style="italic">d</tspan>)</text>
<text transform="translate(186.85,1437.90) scale(1.1512,1.0688)" x="0" y="0" font-family="'Liberation Serif', 'DejaVu Serif', serif" font-size="23" fill="#ff0000" ><tspan font-style="italic">ch</tspan>16</text>
<text transform="translate(347.26,1757.10) scale(1.1387,1.0500)" x="0" y="0" font-family="'Liberation Serif', 'DejaVu Serif', serif" font-size="23" fill="#ff0000" ><tspan font-style="italic">ch</tspan>1</text>
<text transform="translate(408.40,1889.28) scale(1.1043,0.9238)" x="0" y="0" font-family="'Liberation Serif', 'DejaVu Serif', serif" font-size="23" fill="#000" ><tspan font-style="italic">R</tspan>(m)</text>
<text transform="translate(18.90,1593.00) rotate(-90) scale(1.1111,0.9190)" x="0" y="0" font-family="'Liberation Serif', 'DejaVu Serif', serif" font-size="23" fill="#000" ><tspan font-style="italic">Z</tspan>(m)</text>
<text transform="translate(1653.75,1270.50) scale(0.9762,1.0143)" x="0" y="0" font-family="'DejaVu Sans', 'Liberation Sans', sans-serif" font-size="29" fill="#000" font-stretch="condensed">#85214</text>
<text transform="translate(877.05,1292.90) scale(0.9767,1.0190)" x="0" y="0" font-family="'DejaVu Sans', 'Liberation Sans', sans-serif" font-size="29" fill="#000" >0.4</text>
<text transform="translate(879.00,1440.40) scale(0.9767,1.0190)" x="0" y="0" font-family="'DejaVu Sans', 'Liberation Sans', sans-serif" font-size="29" fill="#000" >0.2</text>
<text transform="translate(904.40,1587.90) scale(0.9767,1.0190)" x="0" y="0" font-family="'DejaVu Sans', 'Liberation Sans', sans-serif" font-size="29" fill="#000" >0</text>
<text transform="translate(867.12,1736.70) scale(0.9811,1.0238)" x="0" y="0" font-family="'DejaVu Sans', 'Liberation Sans', sans-serif" font-size="29" fill="#000" >-0.2</text>
<text transform="translate(920.72,1858.00) scale(0.9976,1.0286)" x="0" y="0" font-family="'DejaVu Sans', 'Liberation Sans', sans-serif" font-size="29" fill="#000" >0</text>
<text transform="translate(1073.03,1858.00) scale(0.9976,1.0286)" x="0" y="0" font-family="'DejaVu Sans', 'Liberation Sans', sans-serif" font-size="29" fill="#000" >0.2</text>
<text transform="translate(1237.32,1858.00) scale(0.9976,1.0286)" x="0" y="0" font-family="'DejaVu Sans', 'Liberation Sans', sans-serif" font-size="29" fill="#000" >0.4</text>
<text transform="translate(1403.10,1858.00) scale(0.9976,1.0286)" x="0" y="0" font-family="'DejaVu Sans', 'Liberation Sans', sans-serif" font-size="29" fill="#000" >0.6</text>
<text transform="translate(1568.38,1858.00) scale(0.9976,1.0286)" x="0" y="0" font-family="'DejaVu Sans', 'Liberation Sans', sans-serif" font-size="29" fill="#000" >0.8</text>
<text transform="translate(1747.12,1858.00) scale(0.9976,1.0286)" x="0" y="0" font-family="'DejaVu Sans', 'Liberation Sans', sans-serif" font-size="29" fill="#000" >1</text>
<text transform="translate(952.15,1337.62) scale(1.0750,1.0962)" x="0" y="0" font-family="'DejaVu Sans', 'Liberation Sans', sans-serif" font-size="29" fill="#000" >(<tspan font-style="italic">e</tspan>)</text>
<text transform="translate(1335.30,1892.09) scale(0.9167,1.0182)" x="0" y="0" font-family="'DejaVu Sans', 'Liberation Sans', sans-serif" font-size="29" fill="#000" ><tspan font-style="italic">ρ</tspan></text>
<text transform="translate(847.92,1742.99) rotate(-90) scale(0.9914,0.8964)" x="0" y="0" font-family="'DejaVu Sans', 'Liberation Sans', sans-serif" font-size="28" fill="#000" ><tspan font-style="italic">Change in Abel AXUV</tspan>(V/m)</text>
<text transform="translate(1035.57,1709.68) scale(0.9648,0.9808)" x="0" y="0" font-family="'DejaVu Sans', 'Liberation Sans', sans-serif" font-size="29" fill="#000" >(i)247-250<tspan dx="4">ms</tspan></text>
<text transform="translate(1035.57,1753.88) scale(0.9637,0.9808)" x="0" y="0" font-family="'DejaVu Sans', 'Liberation Sans', sans-serif" font-size="29" fill="#000" >(ii)255-258<tspan dx="4">ms</tspan></text>
<text transform="translate(1035.58,1798.06) scale(0.9623,0.9846)" x="0" y="0" font-family="'DejaVu Sans', 'Liberation Sans', sans-serif" font-size="29" fill="#000" >(iii)263-266<tspan dx="4">ms</tspan></text>
</svg></body></html>
